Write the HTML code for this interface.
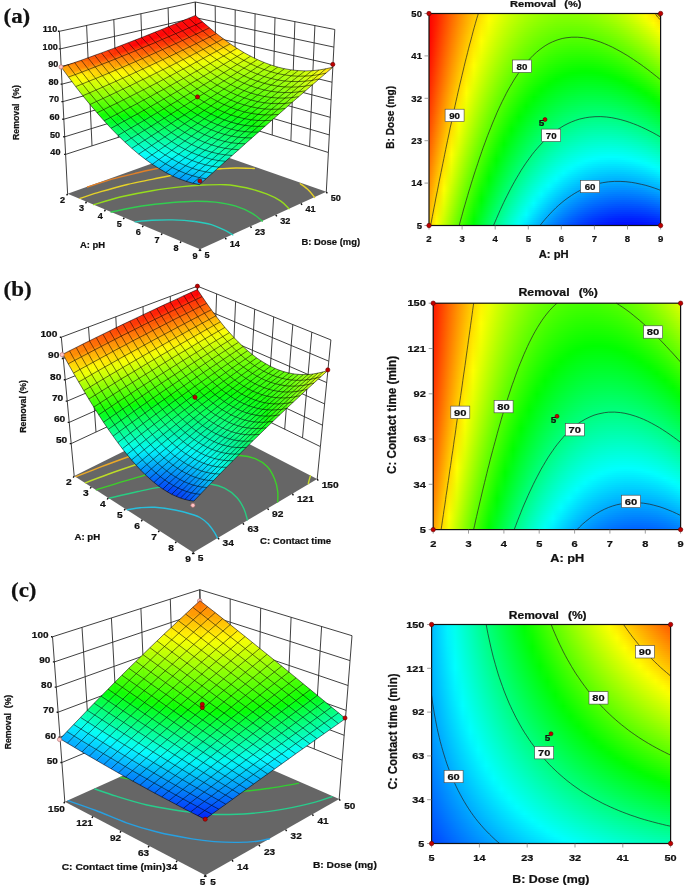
<!DOCTYPE html>
<html><head><meta charset="utf-8"><title>Response surface plots</title>
<style>
html,body{margin:0;padding:0;background:#fff}
#w{position:relative;width:685px;height:888px;overflow:hidden;background:#fff}
.g{position:absolute;overflow:hidden}
.g i{display:block;height:2px}
svg{position:absolute;left:0;top:0}
text{font-family:"Liberation Sans","DejaVu Sans",sans-serif;font-weight:bold;fill:#111;text-anchor:middle;stroke:#111;stroke-width:.22}
.e{text-anchor:end}.s{text-anchor:start}
.cl{fill:none;stroke:#222;stroke-width:.7}
.fr{fill:none;stroke:#111;stroke-width:1.2}
.tk{fill:none;stroke:#777;stroke-width:.7}
.lb{fill:#fff;stroke:#444;stroke-width:.6}
.dp{fill:#c00000;stroke:#600;stroke-width:.6}
.pk{fill:#ffc4c4;stroke:#a66;stroke-width:.6}
.wg{fill:none;stroke:#2a2a2a;stroke-width:.9}
.ms{fill:none;stroke:#000;stroke-opacity:.68;stroke-width:.8;stroke-linejoin:round}
</style></head><body><div id="w">
<div class="g" style="left:429px;top:13.5px;width:231.6px;height:212px">
<i style="background:linear-gradient(90deg,#ff0000,#ff1c00,#ff4300,#ff6700,#ff8800,#ffa800,#ffc500,#ffe000,#fff900,#efff00,#daff00,#c8ff00,#b8ff00,#abff00,#9fff00,#96ff00,#8fff00,#8bff00,#88ff00,#88ff00,#8aff00,#8eff00,#95ff00,#9dff00,#a8ff00,#b6ff00,#c5ff00,#d7ff00,#ebff00,#fffd00,#ffe500,#ffca00)"></i>
<i style="background:linear-gradient(90deg,#ff0000,#ff1e00,#ff4400,#ff6800,#ff8a00,#ffaa00,#ffc700,#ffe200,#fffb00,#ecff00,#d7ff00,#c5ff00,#b5ff00,#a7ff00,#9cff00,#92ff00,#8bff00,#87ff00,#84ff00,#84ff00,#85ff00,#89ff00,#90ff00,#98ff00,#a3ff00,#b0ff00,#bfff00,#d1ff00,#e5ff00,#fbff00,#ffeb00,#ffd100)"></i>
<i style="background:linear-gradient(90deg,#ff0000,#ff1f00,#ff4500,#ff6a00,#ff8c00,#ffac00,#ffc900,#ffe500,#fffe00,#e9ff00,#d5ff00,#c2ff00,#b2ff00,#a4ff00,#98ff00,#8fff00,#88ff00,#82ff00,#80ff00,#7fff00,#81ff00,#85ff00,#8bff00,#93ff00,#9eff00,#abff00,#baff00,#cbff00,#dfff00,#f4ff00,#fff200,#ffd700)"></i>
<i style="background:linear-gradient(90deg,#ff0000,#ff2000,#ff4700,#ff6b00,#ff8e00,#ffae00,#ffcb00,#ffe700,#feff00,#e7ff00,#d2ff00,#bfff00,#afff00,#a1ff00,#95ff00,#8bff00,#84ff00,#7eff00,#7bff00,#7bff00,#7cff00,#80ff00,#86ff00,#8eff00,#99ff00,#a5ff00,#b4ff00,#c5ff00,#d9ff00,#eeff00,#fff800,#ffde00)"></i>
<i style="background:linear-gradient(90deg,#ff0000,#ff2100,#ff4800,#ff6d00,#ff8f00,#ffaf00,#ffcd00,#ffe900,#fbff00,#e4ff00,#cfff00,#bcff00,#acff00,#9dff00,#91ff00,#87ff00,#80ff00,#7aff00,#77ff00,#76ff00,#78ff00,#7bff00,#81ff00,#89ff00,#93ff00,#a0ff00,#aeff00,#bfff00,#d3ff00,#e8ff00,#fffe00,#ffe400)"></i>
<i style="background:linear-gradient(90deg,#ff0000,#ff2200,#ff4a00,#ff6e00,#ff9100,#ffb100,#ffd000,#ffec00,#f9ff00,#e1ff00,#ccff00,#b9ff00,#a8ff00,#9aff00,#8eff00,#84ff00,#7cff00,#76ff00,#73ff00,#72ff00,#73ff00,#76ff00,#7cff00,#84ff00,#8eff00,#9aff00,#a9ff00,#b9ff00,#ccff00,#e2ff00,#f9ff00,#ffeb00)"></i>
<i style="background:linear-gradient(90deg,#ff0000,#ff2400,#ff4b00,#ff7000,#ff9300,#ffb300,#ffd200,#ffee00,#f6ff00,#dfff00,#c9ff00,#b6ff00,#a5ff00,#97ff00,#8aff00,#80ff00,#78ff00,#72ff00,#6fff00,#6dff00,#6eff00,#71ff00,#77ff00,#7fff00,#88ff00,#95ff00,#a3ff00,#b4ff00,#c6ff00,#dbff00,#f3ff00,#fff200)"></i>
<i style="background:linear-gradient(90deg,#ff0000,#ff2500,#ff4c00,#ff7200,#ff9500,#ffb500,#ffd400,#fff000,#f4ff00,#dcff00,#c6ff00,#b3ff00,#a2ff00,#93ff00,#86ff00,#7cff00,#74ff00,#6eff00,#6aff00,#69ff00,#6aff00,#6dff00,#72ff00,#79ff00,#83ff00,#8fff00,#9dff00,#aeff00,#c0ff00,#d5ff00,#ecff00,#fff800)"></i>
<i style="background:linear-gradient(90deg,#ff0000,#ff2600,#ff4e00,#ff7300,#ff9700,#ffb700,#ffd600,#fff300,#f1ff00,#d9ff00,#c3ff00,#b0ff00,#9fff00,#90ff00,#83ff00,#78ff00,#70ff00,#6aff00,#66ff00,#64ff00,#65ff00,#68ff00,#6dff00,#74ff00,#7eff00,#89ff00,#97ff00,#a8ff00,#baff00,#cfff00,#e6ff00,#ffff00)"></i>
<i style="background:linear-gradient(90deg,#ff0000,#ff2800,#ff4f00,#ff7500,#ff9800,#ffb900,#ffd800,#fff500,#efff00,#d6ff00,#c1ff00,#adff00,#9bff00,#8cff00,#7fff00,#74ff00,#6cff00,#66ff00,#62ff00,#60ff00,#60ff00,#63ff00,#68ff00,#6fff00,#78ff00,#84ff00,#92ff00,#a2ff00,#b4ff00,#c9ff00,#dfff00,#f8ff00)"></i>
<i style="background:linear-gradient(90deg,#ff0000,#ff2900,#ff5100,#ff7700,#ff9a00,#ffbc00,#ffdb00,#fff700,#ecff00,#d4ff00,#beff00,#aaff00,#98ff00,#89ff00,#7cff00,#71ff00,#68ff00,#61ff00,#5dff00,#5bff00,#5bff00,#5eff00,#63ff00,#6aff00,#73ff00,#7eff00,#8cff00,#9cff00,#aeff00,#c2ff00,#d9ff00,#f2ff00)"></i>
<i style="background:linear-gradient(90deg,#ff0000,#ff2a00,#ff5300,#ff7800,#ff9c00,#ffbe00,#ffdd00,#fffa00,#e9ff00,#d1ff00,#bbff00,#a7ff00,#95ff00,#85ff00,#78ff00,#6dff00,#64ff00,#5dff00,#59ff00,#57ff00,#57ff00,#59ff00,#5eff00,#64ff00,#6dff00,#79ff00,#86ff00,#96ff00,#a8ff00,#bcff00,#d2ff00,#ebff00)"></i>
<i style="background:linear-gradient(90deg,#ff0100,#ff2c00,#ff5400,#ff7a00,#ff9e00,#ffc000,#ffdf00,#fffc00,#e7ff00,#ceff00,#b8ff00,#a3ff00,#91ff00,#82ff00,#74ff00,#69ff00,#60ff00,#59ff00,#54ff00,#52ff00,#52ff00,#54ff00,#58ff00,#5fff00,#68ff00,#73ff00,#80ff00,#90ff00,#a2ff00,#b6ff00,#ccff00,#e4ff00)"></i>
<i style="background:linear-gradient(90deg,#ff0200,#ff2d00,#ff5600,#ff7c00,#ffa000,#ffc200,#ffe100,#ffff00,#e4ff00,#cbff00,#b5ff00,#a0ff00,#8eff00,#7eff00,#70ff00,#65ff00,#5cff00,#55ff00,#50ff00,#4dff00,#4dff00,#4fff00,#53ff00,#5aff00,#62ff00,#6dff00,#7aff00,#8aff00,#9bff00,#afff00,#c5ff00,#ddff00)"></i>
<i style="background:linear-gradient(90deg,#ff0400,#ff2f00,#ff5700,#ff7e00,#ffa200,#ffc400,#ffe400,#fdff00,#e1ff00,#c8ff00,#b2ff00,#9dff00,#8bff00,#7bff00,#6dff00,#61ff00,#58ff00,#50ff00,#4cff00,#49ff00,#48ff00,#4aff00,#4eff00,#54ff00,#5dff00,#68ff00,#74ff00,#84ff00,#95ff00,#a9ff00,#bfff00,#d7ff00)"></i>
<i style="background:linear-gradient(90deg,#ff0500,#ff3000,#ff5900,#ff8000,#ffa400,#ffc600,#ffe600,#faff00,#dfff00,#c6ff00,#afff00,#9aff00,#87ff00,#77ff00,#69ff00,#5dff00,#54ff00,#4cff00,#47ff00,#44ff00,#44ff00,#45ff00,#49ff00,#4fff00,#57ff00,#62ff00,#6fff00,#7eff00,#8fff00,#a2ff00,#b8ff00,#d0ff00)"></i>
<i style="background:linear-gradient(90deg,#ff0600,#ff3100,#ff5b00,#ff8100,#ffa600,#ffc800,#ffe800,#f8ff00,#dcff00,#c3ff00,#acff00,#97ff00,#84ff00,#73ff00,#65ff00,#59ff00,#4fff00,#48ff00,#43ff00,#3fff00,#3fff00,#40ff00,#44ff00,#4aff00,#52ff00,#5cff00,#69ff00,#77ff00,#89ff00,#9cff00,#b1ff00,#c9ff00)"></i>
<i style="background:linear-gradient(90deg,#ff0700,#ff3300,#ff5c00,#ff8300,#ffa800,#ffca00,#ffeb00,#f5ff00,#d9ff00,#c0ff00,#a8ff00,#93ff00,#80ff00,#70ff00,#61ff00,#55ff00,#4bff00,#44ff00,#3eff00,#3bff00,#3aff00,#3bff00,#3eff00,#44ff00,#4cff00,#56ff00,#63ff00,#71ff00,#82ff00,#95ff00,#abff00,#c2ff00)"></i>
<i style="background:linear-gradient(90deg,#ff0900,#ff3400,#ff5e00,#ff8500,#ffaa00,#ffcd00,#ffed00,#f3ff00,#d7ff00,#bdff00,#a5ff00,#90ff00,#7dff00,#6cff00,#5eff00,#51ff00,#47ff00,#3fff00,#3aff00,#36ff00,#35ff00,#36ff00,#39ff00,#3fff00,#47ff00,#51ff00,#5dff00,#6bff00,#7cff00,#8fff00,#a4ff00,#bbff00)"></i>
<i style="background:linear-gradient(90deg,#ff0a00,#ff3600,#ff6000,#ff8700,#ffac00,#ffcf00,#fff000,#f0ff00,#d4ff00,#baff00,#a2ff00,#8dff00,#79ff00,#68ff00,#5aff00,#4dff00,#43ff00,#3bff00,#35ff00,#31ff00,#30ff00,#31ff00,#34ff00,#39ff00,#41ff00,#4bff00,#57ff00,#65ff00,#76ff00,#88ff00,#9dff00,#b5ff00)"></i>
<i style="background:linear-gradient(90deg,#ff0b00,#ff3700,#ff6100,#ff8900,#ffae00,#ffd100,#fff200,#edff00,#d1ff00,#b7ff00,#9fff00,#89ff00,#76ff00,#65ff00,#56ff00,#49ff00,#3fff00,#36ff00,#30ff00,#2dff00,#2bff00,#2cff00,#2fff00,#34ff00,#3bff00,#45ff00,#51ff00,#5fff00,#6fff00,#82ff00,#97ff00,#aeff00)"></i>
<i style="background:linear-gradient(90deg,#ff0d00,#ff3900,#ff6300,#ff8b00,#ffb000,#ffd300,#fff400,#ebff00,#ceff00,#b4ff00,#9cff00,#86ff00,#72ff00,#61ff00,#52ff00,#45ff00,#3aff00,#32ff00,#2cff00,#28ff00,#26ff00,#27ff00,#29ff00,#2eff00,#36ff00,#3fff00,#4bff00,#59ff00,#69ff00,#7bff00,#90ff00,#a7ff00)"></i>
<i style="background:linear-gradient(90deg,#ff0e00,#ff3b00,#ff6500,#ff8d00,#ffb200,#ffd600,#fff700,#e8ff00,#cbff00,#b1ff00,#99ff00,#83ff00,#6fff00,#5dff00,#4eff00,#41ff00,#36ff00,#2eff00,#27ff00,#23ff00,#21ff00,#22ff00,#24ff00,#29ff00,#30ff00,#39ff00,#45ff00,#52ff00,#62ff00,#75ff00,#89ff00,#a0ff00)"></i>
<i style="background:linear-gradient(90deg,#ff1000,#ff3c00,#ff6700,#ff8f00,#ffb400,#ffd800,#fff900,#e5ff00,#c9ff00,#aeff00,#96ff00,#7fff00,#6bff00,#5aff00,#4aff00,#3dff00,#32ff00,#29ff00,#23ff00,#1eff00,#1cff00,#1cff00,#1fff00,#23ff00,#2aff00,#33ff00,#3fff00,#4cff00,#5cff00,#6eff00,#82ff00,#99ff00)"></i>
<i style="background:linear-gradient(90deg,#ff1100,#ff3e00,#ff6800,#ff9100,#ffb700,#ffda00,#fffc00,#e3ff00,#c6ff00,#abff00,#92ff00,#7cff00,#68ff00,#56ff00,#46ff00,#39ff00,#2eff00,#25ff00,#1eff00,#19ff00,#17ff00,#17ff00,#19ff00,#1eff00,#25ff00,#2dff00,#39ff00,#46ff00,#56ff00,#67ff00,#7cff00,#92ff00)"></i>
<i style="background:linear-gradient(90deg,#ff1300,#ff3f00,#ff6a00,#ff9300,#ffb900,#ffdd00,#fffe00,#e0ff00,#c3ff00,#a8ff00,#8fff00,#79ff00,#64ff00,#52ff00,#42ff00,#35ff00,#29ff00,#20ff00,#19ff00,#15ff00,#12ff00,#12ff00,#14ff00,#18ff00,#1fff00,#28ff00,#32ff00,#40ff00,#4fff00,#61ff00,#75ff00,#8bff00)"></i>
<i style="background:linear-gradient(90deg,#ff1400,#ff4100,#ff6c00,#ff9500,#ffbb00,#ffdf00,#fdff00,#ddff00,#c0ff00,#a5ff00,#8cff00,#75ff00,#61ff00,#4eff00,#3eff00,#31ff00,#25ff00,#1cff00,#15ff00,#10ff00,#0dff00,#0dff00,#0fff00,#13ff00,#19ff00,#22ff00,#2cff00,#39ff00,#49ff00,#5aff00,#6eff00,#84ff00)"></i>
<i style="background:linear-gradient(90deg,#ff1600,#ff4300,#ff6e00,#ff9700,#ffbd00,#ffe100,#faff00,#dbff00,#bdff00,#a2ff00,#89ff00,#72ff00,#5dff00,#4bff00,#3aff00,#2cff00,#21ff00,#17ff00,#10ff00,#0bff00,#08ff00,#07ff00,#09ff00,#0dff00,#13ff00,#1cff00,#26ff00,#33ff00,#42ff00,#54ff00,#67ff00,#7dff00)"></i>
<i style="background:linear-gradient(90deg,#ff1700,#ff4400,#ff7000,#ff9900,#ffbf00,#ffe400,#f8ff00,#d8ff00,#baff00,#9fff00,#85ff00,#6eff00,#59ff00,#47ff00,#36ff00,#28ff00,#1cff00,#13ff00,#0bff00,#06ff00,#03ff00,#02ff00,#04ff00,#07ff00,#0dff00,#16ff00,#20ff00,#2dff00,#3cff00,#4dff00,#60ff00,#76ff00)"></i>
<i style="background:linear-gradient(90deg,#ff1900,#ff4600,#ff7200,#ff9b00,#ffc200,#ffe600,#f5ff00,#d5ff00,#b7ff00,#9bff00,#82ff00,#6bff00,#56ff00,#43ff00,#32ff00,#24ff00,#18ff00,#0eff00,#06ff00,#01ff00,#00ff02,#00ff03,#00ff02,#02ff00,#08ff00,#10ff00,#1aff00,#26ff00,#35ff00,#46ff00,#59ff00,#6fff00)"></i>
<i style="background:linear-gradient(90deg,#ff1a00,#ff4800,#ff7300,#ff9d00,#ffc400,#ffe900,#f3ff00,#d2ff00,#b4ff00,#98ff00,#7fff00,#67ff00,#52ff00,#3fff00,#2eff00,#20ff00,#13ff00,#09ff00,#02ff00,#00ff04,#00ff07,#00ff08,#00ff07,#00ff04,#02ff00,#0aff00,#14ff00,#20ff00,#2fff00,#3fff00,#52ff00,#68ff00)"></i>
<i style="background:linear-gradient(90deg,#ff1c00,#ff4a00,#ff7500,#ff9f00,#ffc600,#ffeb00,#f0ff00,#cfff00,#b1ff00,#95ff00,#7bff00,#64ff00,#4eff00,#3bff00,#2aff00,#1bff00,#0fff00,#05ff00,#00ff03,#00ff09,#00ff0c,#00ff0e,#00ff0d,#00ff0a,#00ff04,#04ff00,#0eff00,#1aff00,#28ff00,#39ff00,#4bff00,#61ff00)"></i>
<i style="background:linear-gradient(90deg,#ff1d00,#ff4b00,#ff7700,#ffa100,#ffc800,#ffee00,#edff00,#cdff00,#aeff00,#92ff00,#78ff00,#60ff00,#4aff00,#37ff00,#26ff00,#17ff00,#0bff00,#00ff00,#00ff08,#00ff0e,#00ff12,#00ff13,#00ff12,#00ff0f,#00ff0a,#00ff02,#07ff00,#13ff00,#21ff00,#32ff00,#45ff00,#59ff00)"></i>
<i style="background:linear-gradient(90deg,#ff1f00,#ff4d00,#ff7900,#ffa300,#ffcb00,#fff000,#ebff00,#caff00,#abff00,#8fff00,#74ff00,#5cff00,#47ff00,#33ff00,#22ff00,#13ff00,#06ff00,#00ff04,#00ff0d,#00ff13,#00ff17,#00ff18,#00ff18,#00ff15,#00ff10,#00ff09,#01ff00,#0dff00,#1bff00,#2bff00,#3eff00,#52ff00)"></i>
<i style="background:linear-gradient(90deg,#ff2100,#ff4f00,#ff7b00,#ffa500,#ffcd00,#fff300,#e8ff00,#c7ff00,#a8ff00,#8bff00,#71ff00,#59ff00,#43ff00,#2fff00,#1eff00,#0fff00,#02ff00,#00ff09,#00ff12,#00ff18,#00ff1c,#00ff1e,#00ff1d,#00ff1b,#00ff16,#00ff0f,#00ff05,#06ff00,#14ff00,#24ff00,#37ff00,#4bff00)"></i>
<i style="background:linear-gradient(90deg,#ff2200,#ff5100,#ff7d00,#ffa800,#ffcf00,#fff500,#e5ff00,#c4ff00,#a5ff00,#88ff00,#6eff00,#55ff00,#3fff00,#2bff00,#1aff00,#0aff00,#00ff03,#00ff0e,#00ff16,#00ff1d,#00ff21,#00ff23,#00ff23,#00ff20,#00ff1c,#00ff15,#00ff0c,#00ff00,#0eff00,#1dff00,#30ff00,#44ff00)"></i>
<i style="background:linear-gradient(90deg,#ff2400,#ff5300,#ff7f00,#ffaa00,#ffd200,#fff800,#e3ff00,#c1ff00,#a2ff00,#85ff00,#6aff00,#52ff00,#3bff00,#27ff00,#15ff00,#06ff00,#00ff07,#00ff13,#00ff1b,#00ff22,#00ff26,#00ff29,#00ff28,#00ff26,#00ff22,#00ff1b,#00ff12,#00ff07,#07ff00,#17ff00,#29ff00,#3dff00)"></i>
<i style="background:linear-gradient(90deg,#ff2600,#ff5500,#ff8100,#ffac00,#ffd400,#fffa00,#e0ff00,#beff00,#9fff00,#82ff00,#67ff00,#4eff00,#38ff00,#23ff00,#11ff00,#02ff00,#00ff0c,#00ff17,#00ff20,#00ff27,#00ff2c,#00ff2e,#00ff2e,#00ff2c,#00ff28,#00ff21,#00ff18,#00ff0d,#00ff00,#10ff00,#22ff00,#36ff00)"></i>
<i style="background:linear-gradient(90deg,#ff2700,#ff5600,#ff8300,#ffae00,#ffd700,#fffd00,#ddff00,#bbff00,#9cff00,#7eff00,#63ff00,#4aff00,#34ff00,#1fff00,#0dff00,#00ff03,#00ff11,#00ff1c,#00ff25,#00ff2c,#00ff31,#00ff33,#00ff34,#00ff32,#00ff2e,#00ff27,#00ff1f,#00ff14,#00ff06,#09ff00,#1aff00,#2eff00)"></i>
<i style="background:linear-gradient(90deg,#ff2900,#ff5800,#ff8600,#ffb000,#ffd900,#feff00,#daff00,#b8ff00,#98ff00,#7bff00,#60ff00,#47ff00,#30ff00,#1bff00,#09ff00,#00ff07,#00ff15,#00ff21,#00ff2a,#00ff31,#00ff36,#00ff39,#00ff39,#00ff38,#00ff34,#00ff2d,#00ff25,#00ff1a,#00ff0d,#02ff00,#13ff00,#27ff00)"></i>
<i style="background:linear-gradient(90deg,#ff2b00,#ff5a00,#ff8800,#ffb300,#ffdc00,#fcff00,#d7ff00,#b5ff00,#95ff00,#78ff00,#5cff00,#43ff00,#2cff00,#17ff00,#05ff00,#00ff0c,#00ff1a,#00ff26,#00ff2f,#00ff36,#00ff3c,#00ff3e,#00ff3f,#00ff3d,#00ff3a,#00ff34,#00ff2b,#00ff21,#00ff14,#00ff05,#0cff00,#20ff00)"></i>
<i style="background:linear-gradient(90deg,#ff2c00,#ff5c00,#ff8a00,#ffb500,#ffde00,#f9ff00,#d5ff00,#b2ff00,#92ff00,#74ff00,#59ff00,#3fff00,#28ff00,#13ff00,#00ff00,#00ff10,#00ff1e,#00ff2a,#00ff34,#00ff3c,#00ff41,#00ff44,#00ff45,#00ff43,#00ff40,#00ff3a,#00ff32,#00ff27,#00ff1b,#00ff0c,#05ff00,#18ff00)"></i>
<i style="background:linear-gradient(90deg,#ff2e00,#ff5e00,#ff8c00,#ffb700,#ffe100,#f6ff00,#d2ff00,#afff00,#8fff00,#71ff00,#55ff00,#3bff00,#24ff00,#0fff00,#00ff04,#00ff15,#00ff23,#00ff2f,#00ff39,#00ff41,#00ff46,#00ff49,#00ff4a,#00ff49,#00ff46,#00ff40,#00ff38,#00ff2e,#00ff22,#00ff13,#00ff02,#11ff00)"></i>
<i style="background:linear-gradient(90deg,#ff3000,#ff6000,#ff8e00,#ffba00,#ffe300,#f4ff00,#cfff00,#acff00,#8cff00,#6dff00,#51ff00,#38ff00,#20ff00,#0bff00,#00ff08,#00ff19,#00ff28,#00ff34,#00ff3e,#00ff46,#00ff4c,#00ff4f,#00ff50,#00ff4f,#00ff4c,#00ff46,#00ff3f,#00ff35,#00ff28,#00ff1a,#00ff09,#0aff00)"></i>
<i style="background:linear-gradient(90deg,#ff3200,#ff6200,#ff9000,#ffbc00,#ffe600,#f1ff00,#ccff00,#a9ff00,#88ff00,#6aff00,#4eff00,#34ff00,#1cff00,#07ff00,#00ff0d,#00ff1e,#00ff2c,#00ff39,#00ff43,#00ff4b,#00ff51,#00ff55,#00ff56,#00ff55,#00ff52,#00ff4d,#00ff45,#00ff3b,#00ff2f,#00ff21,#00ff10,#02ff00)"></i>
<i style="background:linear-gradient(90deg,#ff3400,#ff6400,#ff9200,#ffbe00,#ffe800,#eeff00,#c9ff00,#a6ff00,#85ff00,#67ff00,#4aff00,#30ff00,#18ff00,#03ff00,#00ff11,#00ff22,#00ff31,#00ff3e,#00ff48,#00ff50,#00ff56,#00ff5a,#00ff5c,#00ff5b,#00ff58,#00ff53,#00ff4b,#00ff42,#00ff36,#00ff28,#00ff18,#00ff05)"></i>
<i style="background:linear-gradient(90deg,#ff3600,#ff6600,#ff9500,#ffc100,#ffeb00,#ecff00,#c6ff00,#a3ff00,#82ff00,#63ff00,#47ff00,#2cff00,#14ff00,#00ff02,#00ff15,#00ff27,#00ff36,#00ff43,#00ff4d,#00ff56,#00ff5c,#00ff60,#00ff62,#00ff61,#00ff5e,#00ff59,#00ff52,#00ff49,#00ff3d,#00ff2f,#00ff1f,#00ff0c)"></i>
<i style="background:linear-gradient(90deg,#ff3700,#ff6800,#ff9700,#ffc300,#ffed00,#e9ff00,#c3ff00,#a0ff00,#7fff00,#60ff00,#43ff00,#28ff00,#10ff00,#00ff06,#00ff1a,#00ff2b,#00ff3a,#00ff48,#00ff52,#00ff5b,#00ff61,#00ff65,#00ff67,#00ff67,#00ff64,#00ff60,#00ff59,#00ff4f,#00ff44,#00ff36,#00ff26,#00ff14)"></i>
<i style="background:linear-gradient(90deg,#ff3900,#ff6a00,#ff9900,#ffc600,#fff000,#e6ff00,#c0ff00,#9dff00,#7bff00,#5cff00,#3fff00,#25ff00,#0cff00,#00ff0a,#00ff1e,#00ff30,#00ff3f,#00ff4c,#00ff57,#00ff60,#00ff67,#00ff6b,#00ff6d,#00ff6d,#00ff6b,#00ff66,#00ff5f,#00ff56,#00ff4b,#00ff3d,#00ff2d,#00ff1b)"></i>
<i style="background:linear-gradient(90deg,#ff3b00,#ff6c00,#ff9b00,#ffc800,#fff300,#e3ff00,#bdff00,#99ff00,#78ff00,#59ff00,#3bff00,#21ff00,#08ff00,#00ff0e,#00ff22,#00ff34,#00ff44,#00ff51,#00ff5d,#00ff66,#00ff6c,#00ff71,#00ff73,#00ff73,#00ff71,#00ff6c,#00ff66,#00ff5d,#00ff52,#00ff44,#00ff35,#00ff23)"></i>
<i style="background:linear-gradient(90deg,#ff3d00,#ff6f00,#ff9e00,#ffcb00,#fff500,#e0ff00,#baff00,#96ff00,#74ff00,#55ff00,#38ff00,#1dff00,#04ff00,#00ff13,#00ff27,#00ff39,#00ff49,#00ff56,#00ff62,#00ff6b,#00ff72,#00ff76,#00ff79,#00ff79,#00ff77,#00ff73,#00ff6c,#00ff63,#00ff58,#00ff4b,#00ff3c,#00ff2a)"></i>
<i style="background:linear-gradient(90deg,#ff3f00,#ff7100,#ffa000,#ffcd00,#fff800,#ddff00,#b7ff00,#93ff00,#71ff00,#51ff00,#34ff00,#19ff00,#00ff00,#00ff17,#00ff2b,#00ff3e,#00ff4e,#00ff5b,#00ff67,#00ff70,#00ff77,#00ff7c,#00ff7f,#00ff7f,#00ff7d,#00ff79,#00ff73,#00ff6a,#00ff5f,#00ff52,#00ff43,#00ff32)"></i>
<i style="background:linear-gradient(90deg,#ff4100,#ff7300,#ffa200,#ffd000,#fffb00,#dbff00,#b4ff00,#90ff00,#6eff00,#4eff00,#30ff00,#15ff00,#00ff04,#00ff1b,#00ff30,#00ff42,#00ff52,#00ff60,#00ff6c,#00ff76,#00ff7d,#00ff82,#00ff85,#00ff85,#00ff84,#00ff80,#00ff79,#00ff71,#00ff66,#00ff5a,#00ff4a,#00ff39)"></i>
<i style="background:linear-gradient(90deg,#ff4300,#ff7500,#ffa500,#ffd200,#fffd00,#d8ff00,#b1ff00,#8cff00,#6aff00,#4aff00,#2cff00,#11ff00,#00ff08,#00ff1f,#00ff34,#00ff47,#00ff57,#00ff65,#00ff71,#00ff7b,#00ff82,#00ff88,#00ff8b,#00ff8b,#00ff8a,#00ff86,#00ff80,#00ff78,#00ff6d,#00ff61,#00ff52,#00ff41)"></i>
<i style="background:linear-gradient(90deg,#ff4500,#ff7700,#ffa700,#ffd500,#feff00,#d5ff00,#aeff00,#89ff00,#67ff00,#47ff00,#29ff00,#0dff00,#00ff0d,#00ff24,#00ff39,#00ff4c,#00ff5c,#00ff6a,#00ff77,#00ff80,#00ff88,#00ff8d,#00ff91,#00ff91,#00ff90,#00ff8d,#00ff87,#00ff7f,#00ff74,#00ff68,#00ff59,#00ff48)"></i>
<i style="background:linear-gradient(90deg,#ff4700,#ff7a00,#ffaa00,#ffd700,#fbff00,#d2ff00,#abff00,#86ff00,#63ff00,#43ff00,#25ff00,#09ff00,#00ff11,#00ff28,#00ff3d,#00ff50,#00ff61,#00ff70,#00ff7c,#00ff86,#00ff8e,#00ff93,#00ff96,#00ff98,#00ff96,#00ff93,#00ff8d,#00ff86,#00ff7b,#00ff6f,#00ff61,#00ff50)"></i>
<i style="background:linear-gradient(90deg,#ff4900,#ff7c00,#ffac00,#ffda00,#f8ff00,#cfff00,#a8ff00,#83ff00,#60ff00,#3fff00,#21ff00,#05ff00,#00ff15,#00ff2d,#00ff42,#00ff55,#00ff66,#00ff75,#00ff81,#00ff8b,#00ff93,#00ff99,#00ff9c,#00ff9e,#00ff9d,#00ff9a,#00ff94,#00ff8c,#00ff83,#00ff76,#00ff68,#00ff57)"></i>
<i style="background:linear-gradient(90deg,#ff4b00,#ff7e00,#ffae00,#ffdd00,#f6ff00,#ccff00,#a4ff00,#7fff00,#5cff00,#3cff00,#1dff00,#01ff00,#00ff19,#00ff31,#00ff47,#00ff5a,#00ff6b,#00ff7a,#00ff86,#00ff91,#00ff99,#00ff9f,#00ffa2,#00ffa4,#00ffa3,#00ffa0,#00ff9b,#00ff93,#00ff8a,#00ff7e,#00ff6f,#00ff5f)"></i>
<i style="background:linear-gradient(90deg,#ff4d00,#ff8000,#ffb100,#ffdf00,#f3ff00,#c9ff00,#a1ff00,#7cff00,#59ff00,#38ff00,#19ff00,#00ff03,#00ff1d,#00ff35,#00ff4b,#00ff5f,#00ff70,#00ff7f,#00ff8c,#00ff96,#00ff9f,#00ffa5,#00ffa9,#00ffaa,#00ffaa,#00ffa7,#00ffa2,#00ff9a,#00ff91,#00ff85,#00ff77,#00ff67)"></i>
<i style="background:linear-gradient(90deg,#ff5000,#ff8300,#ffb300,#ffe200,#f0ff00,#c6ff00,#9eff00,#79ff00,#55ff00,#34ff00,#15ff00,#00ff07,#00ff22,#00ff3a,#00ff50,#00ff63,#00ff75,#00ff84,#00ff91,#00ff9c,#00ffa4,#00ffab,#00ffaf,#00ffb0,#00ffb0,#00ffad,#00ffa8,#00ffa1,#00ff98,#00ff8c,#00ff7e,#00ff6e)"></i>
<i style="background:linear-gradient(90deg,#ff5200,#ff8500,#ffb600,#ffe400,#edff00,#c3ff00,#9bff00,#75ff00,#52ff00,#30ff00,#11ff00,#00ff0b,#00ff26,#00ff3e,#00ff54,#00ff68,#00ff7a,#00ff89,#00ff96,#00ffa1,#00ffaa,#00ffb0,#00ffb5,#00ffb7,#00ffb6,#00ffb4,#00ffaf,#00ffa8,#00ff9f,#00ff93,#00ff86,#00ff76)"></i>
<i style="background:linear-gradient(90deg,#ff5400,#ff8700,#ffb800,#ffe700,#eaff00,#c0ff00,#98ff00,#72ff00,#4eff00,#2dff00,#0dff00,#00ff10,#00ff2a,#00ff43,#00ff59,#00ff6d,#00ff7f,#00ff8e,#00ff9c,#00ffa7,#00ffb0,#00ffb6,#00ffbb,#00ffbd,#00ffbd,#00ffba,#00ffb6,#00ffaf,#00ffa6,#00ff9b,#00ff8d,#00ff7e)"></i>
<i style="background:linear-gradient(90deg,#ff5600,#ff8a00,#ffbb00,#ffea00,#e7ff00,#bdff00,#94ff00,#6eff00,#4bff00,#29ff00,#0aff00,#00ff14,#00ff2f,#00ff47,#00ff5e,#00ff72,#00ff84,#00ff94,#00ffa1,#00ffac,#00ffb5,#00ffbc,#00ffc1,#00ffc3,#00ffc3,#00ffc1,#00ffbd,#00ffb6,#00ffad,#00ffa2,#00ff95,#00ff85)"></i>
<i style="background:linear-gradient(90deg,#ff5800,#ff8c00,#ffbd00,#ffed00,#e4ff00,#baff00,#91ff00,#6bff00,#47ff00,#25ff00,#06ff00,#00ff18,#00ff33,#00ff4c,#00ff62,#00ff77,#00ff89,#00ff99,#00ffa7,#00ffb2,#00ffbb,#00ffc2,#00ffc7,#00ffc9,#00ffca,#00ffc8,#00ffc4,#00ffbd,#00ffb4,#00ffaa,#00ff9c,#00ff8d)"></i>
<i style="background:linear-gradient(90deg,#ff5a00,#ff8e00,#ffc000,#ffef00,#e2ff00,#b7ff00,#8eff00,#67ff00,#43ff00,#21ff00,#02ff00,#00ff1c,#00ff37,#00ff50,#00ff67,#00ff7c,#00ff8e,#00ff9e,#00ffac,#00ffb8,#00ffc1,#00ffc8,#00ffcd,#00ffd0,#00ffd0,#00ffce,#00ffca,#00ffc4,#00ffbc,#00ffb1,#00ffa4,#00ff95)"></i>
<i style="background:linear-gradient(90deg,#ff5d00,#ff9100,#ffc300,#fff200,#dfff00,#b3ff00,#8bff00,#64ff00,#40ff00,#1dff00,#00ff02,#00ff20,#00ff3c,#00ff55,#00ff6c,#00ff81,#00ff93,#00ffa3,#00ffb1,#00ffbd,#00ffc7,#00ffce,#00ffd3,#00ffd6,#00ffd7,#00ffd5,#00ffd1,#00ffcb,#00ffc3,#00ffb8,#00ffac,#00ff9d)"></i>
<i style="background:linear-gradient(90deg,#ff5f00,#ff9300,#ffc500,#fff500,#dcff00,#b0ff00,#87ff00,#60ff00,#3cff00,#1aff00,#00ff07,#00ff24,#00ff40,#00ff59,#00ff71,#00ff86,#00ff98,#00ffa9,#00ffb7,#00ffc3,#00ffcd,#00ffd4,#00ffd9,#00ffdc,#00ffdd,#00ffdc,#00ffd8,#00ffd2,#00ffca,#00ffc0,#00ffb3,#00ffa4)"></i>
<i style="background:linear-gradient(90deg,#ff6100,#ff9600,#ffc800,#fff800,#d9ff00,#adff00,#84ff00,#5dff00,#38ff00,#16ff00,#00ff0b,#00ff29,#00ff44,#00ff5e,#00ff75,#00ff8a,#00ff9d,#00ffae,#00ffbc,#00ffc9,#00ffd2,#00ffda,#00ffe0,#00ffe3,#00ffe4,#00ffe3,#00ffdf,#00ffd9,#00ffd1,#00ffc7,#00ffbb,#00ffac)"></i>
<i style="background:linear-gradient(90deg,#ff6400,#ff9800,#ffca00,#fffb00,#d6ff00,#aaff00,#81ff00,#59ff00,#34ff00,#12ff00,#00ff0f,#00ff2d,#00ff49,#00ff63,#00ff7a,#00ff8f,#00ffa2,#00ffb3,#00ffc2,#00ffce,#00ffd8,#00ffe0,#00ffe6,#00ffe9,#00ffea,#00ffe9,#00ffe6,#00ffe0,#00ffd9,#00ffcf,#00ffc2,#00ffb4)"></i>
<i style="background:linear-gradient(90deg,#ff6600,#ff9b00,#ffcd00,#fffd00,#d3ff00,#a7ff00,#7dff00,#56ff00,#31ff00,#0eff00,#00ff13,#00ff31,#00ff4d,#00ff67,#00ff7f,#00ff94,#00ffa8,#00ffb9,#00ffc7,#00ffd4,#00ffde,#00ffe6,#00ffec,#00fff0,#00fff1,#00fff0,#00ffed,#00ffe8,#00ffe0,#00ffd6,#00ffca,#00ffbc)"></i>
<i style="background:linear-gradient(90deg,#ff6800,#ff9d00,#ffd000,#feff00,#d0ff00,#a4ff00,#7aff00,#52ff00,#2dff00,#0aff00,#00ff17,#00ff35,#00ff52,#00ff6c,#00ff84,#00ff99,#00ffad,#00ffbe,#00ffcd,#00ffda,#00ffe4,#00ffec,#00fff2,#00fff6,#00fff8,#00fff7,#00fff4,#00ffef,#00ffe7,#00ffde,#00ffd2,#00ffc4)"></i>
<i style="background:linear-gradient(90deg,#ff6b00,#ffa000,#ffd200,#fbff00,#ccff00,#a0ff00,#76ff00,#4fff00,#29ff00,#06ff00,#00ff1b,#00ff3a,#00ff56,#00ff71,#00ff89,#00ff9e,#00ffb2,#00ffc3,#00ffd2,#00ffdf,#00ffea,#00fff2,#00fff9,#00fffd,#00fffe,#00fffe,#00fffb,#00fff6,#00ffef,#00ffe5,#00ffd9,#00ffcc)"></i>
<i style="background:linear-gradient(90deg,#ff6d00,#ffa200,#ffd500,#f8ff00,#c9ff00,#9dff00,#73ff00,#4bff00,#25ff00,#02ff00,#00ff1f,#00ff3e,#00ff5b,#00ff75,#00ff8d,#00ffa3,#00ffb7,#00ffc9,#00ffd8,#00ffe5,#00fff0,#00fff9,#00ffff,#00fbff,#00f9ff,#00f9ff,#00fcff,#00fffd,#00fff6,#00ffed,#00ffe1,#00ffd3)"></i>
<i style="background:linear-gradient(90deg,#ff6f00,#ffa500,#ffd800,#f5ff00,#c6ff00,#9aff00,#6fff00,#47ff00,#22ff00,#00ff02,#00ff23,#00ff42,#00ff5f,#00ff7a,#00ff92,#00ffa9,#00ffbc,#00ffce,#00ffde,#00ffeb,#00fff6,#00ffff,#00f9ff,#00f5ff,#00f2ff,#00f3ff,#00f5ff,#00faff,#00fffd,#00fff4,#00ffe9,#00ffdb)"></i>
<i style="background:linear-gradient(90deg,#ff7200,#ffa700,#ffdb00,#f2ff00,#c3ff00,#96ff00,#6cff00,#44ff00,#1eff00,#00ff06,#00ff28,#00ff47,#00ff64,#00ff7f,#00ff97,#00ffae,#00ffc2,#00ffd4,#00ffe3,#00fff1,#00fffc,#00f9ff,#00f2ff,#00eeff,#00ecff,#00ecff,#00eeff,#00f2ff,#00f9ff,#00fffc,#00fff1,#00ffe3)"></i>
<i style="background:linear-gradient(90deg,#ff7400,#ffaa00,#ffde00,#efff00,#c0ff00,#93ff00,#68ff00,#40ff00,#1aff00,#00ff0a,#00ff2c,#00ff4b,#00ff68,#00ff83,#00ff9c,#00ffb3,#00ffc7,#00ffd9,#00ffe9,#00fff7,#00fcff,#00f3ff,#00ecff,#00e7ff,#00e5ff,#00e5ff,#00e7ff,#00ebff,#00f2ff,#00faff,#00fff9,#00ffeb)"></i>
<i style="background:linear-gradient(90deg,#ff7700,#ffad00,#ffe000,#ecff00,#bdff00,#90ff00,#65ff00,#3cff00,#16ff00,#00ff0e,#00ff30,#00ff50,#00ff6d,#00ff88,#00ffa1,#00ffb8,#00ffcc,#00ffdf,#00ffef,#00fffc,#00f6ff,#00edff,#00e6ff,#00e1ff,#00deff,#00deff,#00e0ff,#00e4ff,#00eaff,#00f3ff,#00feff,#00fff3)"></i>
<i style="background:linear-gradient(90deg,#ff7900,#ffaf00,#ffe300,#e9ff00,#baff00,#8cff00,#61ff00,#39ff00,#12ff00,#00ff12,#00ff34,#00ff54,#00ff72,#00ff8d,#00ffa6,#00ffbd,#00ffd2,#00ffe4,#00fff4,#00fcff,#00f0ff,#00e7ff,#00dfff,#00daff,#00d8ff,#00d7ff,#00d9ff,#00ddff,#00e3ff,#00ebff,#00f6ff,#00fffb)"></i>
<i style="background:linear-gradient(90deg,#ff7c00,#ffb200,#ffe600,#e6ff00,#b6ff00,#89ff00,#5eff00,#35ff00,#0eff00,#00ff16,#00ff38,#00ff59,#00ff76,#00ff92,#00ffab,#00ffc2,#00ffd7,#00ffea,#00fffa,#00f6ff,#00eaff,#00e0ff,#00d9ff,#00d4ff,#00d1ff,#00d0ff,#00d2ff,#00d5ff,#00dbff,#00e4ff,#00eeff,#00fbff)"></i>
<i style="background:linear-gradient(90deg,#ff7e00,#ffb500,#ffe900,#e3ff00,#b3ff00,#86ff00,#5aff00,#31ff00,#0aff00,#00ff1a,#00ff3d,#00ff5d,#00ff7b,#00ff97,#00ffb0,#00ffc7,#00ffdc,#00ffef,#00feff,#00f0ff,#00e4ff,#00daff,#00d3ff,#00cdff,#00caff,#00c9ff,#00caff,#00ceff,#00d4ff,#00dcff,#00e6ff,#00f3ff)"></i>
<i style="background:linear-gradient(90deg,#ff8100,#ffb700,#ffec00,#e0ff00,#b0ff00,#82ff00,#57ff00,#2dff00,#06ff00,#00ff1f,#00ff41,#00ff61,#00ff80,#00ff9b,#00ffb5,#00ffcd,#00ffe2,#00fff5,#00f9ff,#00eaff,#00deff,#00d4ff,#00ccff,#00c7ff,#00c3ff,#00c2ff,#00c3ff,#00c7ff,#00ccff,#00d4ff,#00deff,#00ebff)"></i>
<i style="background:linear-gradient(90deg,#ff8300,#ffba00,#ffef00,#ddff00,#adff00,#7fff00,#53ff00,#2aff00,#02ff00,#00ff23,#00ff45,#00ff66,#00ff84,#00ffa0,#00ffba,#00ffd2,#00ffe7,#00fffa,#00f3ff,#00e4ff,#00d8ff,#00ceff,#00c6ff,#00c0ff,#00bcff,#00bbff,#00bcff,#00bfff,#00c5ff,#00ccff,#00d6ff,#00e3ff)"></i>
<i style="background:linear-gradient(90deg,#ff8600,#ffbd00,#fff200,#daff00,#a9ff00,#7bff00,#4fff00,#26ff00,#00ff02,#00ff27,#00ff4a,#00ff6a,#00ff89,#00ffa5,#00ffbf,#00ffd7,#00ffed,#00feff,#00edff,#00deff,#00d2ff,#00c7ff,#00bfff,#00b9ff,#00b6ff,#00b4ff,#00b5ff,#00b8ff,#00bdff,#00c5ff,#00ceff,#00daff)"></i>
<i style="background:linear-gradient(90deg,#ff8800,#ffbf00,#fff500,#d7ff00,#a6ff00,#78ff00,#4cff00,#22ff00,#00ff06,#00ff2b,#00ff4e,#00ff6f,#00ff8e,#00ffaa,#00ffc4,#00ffdc,#00fff2,#00f9ff,#00e7ff,#00d8ff,#00cbff,#00c1ff,#00b9ff,#00b3ff,#00afff,#00adff,#00aeff,#00b1ff,#00b6ff,#00bdff,#00c7ff,#00d2ff)"></i>
<i style="background:linear-gradient(90deg,#ff8b00,#ffc200,#fff700,#d4ff00,#a3ff00,#74ff00,#48ff00,#1eff00,#00ff0a,#00ff2f,#00ff53,#00ff74,#00ff92,#00ffaf,#00ffc9,#00ffe2,#00fff7,#00f3ff,#00e1ff,#00d2ff,#00c5ff,#00bbff,#00b2ff,#00acff,#00a8ff,#00a6ff,#00a6ff,#00a9ff,#00aeff,#00b5ff,#00bfff,#00caff)"></i>
<i style="background:linear-gradient(90deg,#ff8d00,#ffc500,#fffa00,#d0ff00,#a0ff00,#71ff00,#44ff00,#1aff00,#00ff0e,#00ff33,#00ff57,#00ff78,#00ff97,#00ffb4,#00ffcf,#00ffe7,#00fffd,#00edff,#00dcff,#00ccff,#00bfff,#00b4ff,#00acff,#00a5ff,#00a1ff,#009fff,#009fff,#00a2ff,#00a6ff,#00adff,#00b7ff,#00c2ff)"></i>
<i style="background:linear-gradient(90deg,#ff9000,#ffc800,#fffd00,#cdff00,#9cff00,#6dff00,#41ff00,#16ff00,#00ff12,#00ff38,#00ff5b,#00ff7d,#00ff9c,#00ffb9,#00ffd4,#00ffec,#00fcff,#00e8ff,#00d6ff,#00c6ff,#00b9ff,#00aeff,#00a5ff,#009eff,#009aff,#0098ff,#0098ff,#009aff,#009fff,#00a6ff,#00afff,#00baff)"></i>
<i style="background:linear-gradient(90deg,#ff9300,#ffcb00,#feff00,#caff00,#99ff00,#6aff00,#3dff00,#12ff00,#00ff16,#00ff3c,#00ff60,#00ff81,#00ffa1,#00ffbe,#00ffd9,#00fff2,#00f6ff,#00e2ff,#00d0ff,#00c0ff,#00b3ff,#00a7ff,#009eff,#0098ff,#0093ff,#0091ff,#0091ff,#0093ff,#0097ff,#009eff,#00a7ff,#00b2ff)"></i>
<i style="background:linear-gradient(90deg,#ff9500,#ffce00,#fbff00,#c7ff00,#95ff00,#66ff00,#39ff00,#0fff00,#00ff1a,#00ff40,#00ff64,#00ff86,#00ffa6,#00ffc3,#00ffde,#00fff7,#00f1ff,#00dcff,#00caff,#00baff,#00acff,#00a1ff,#0098ff,#0091ff,#008cff,#008aff,#0089ff,#008bff,#008fff,#0096ff,#009fff,#00a9ff)"></i>
<i style="background:linear-gradient(90deg,#ff9800,#ffd000,#f7ff00,#c4ff00,#92ff00,#63ff00,#35ff00,#0bff00,#00ff1e,#00ff45,#00ff69,#00ff8b,#00ffaa,#00ffc8,#00ffe3,#00fffc,#00ebff,#00d6ff,#00c4ff,#00b4ff,#00a6ff,#009aff,#0091ff,#008aff,#0085ff,#0082ff,#0082ff,#0084ff,#0088ff,#008eff,#0097ff,#00a1ff)"></i>
<i style="background:linear-gradient(90deg,#ff9b00,#ffd300,#f4ff00,#c0ff00,#8fff00,#5fff00,#32ff00,#07ff00,#00ff22,#00ff49,#00ff6d,#00ff8f,#00ffaf,#00ffcd,#00ffe8,#00fcff,#00e5ff,#00d1ff,#00beff,#00aeff,#00a0ff,#0094ff,#008aff,#0083ff,#007eff,#007bff,#007bff,#007cff,#0080ff,#0086ff,#008eff,#0099ff)"></i>
<i style="background:linear-gradient(90deg,#ff9e00,#ffd600,#f1ff00,#bdff00,#8bff00,#5bff00,#2eff00,#03ff00,#00ff26,#00ff4d,#00ff72,#00ff94,#00ffb4,#00ffd2,#00ffee,#00f7ff,#00e0ff,#00cbff,#00b8ff,#00a8ff,#009aff,#008eff,#0084ff,#007cff,#0077ff,#0074ff,#0073ff,#0075ff,#0078ff,#007eff,#0086ff,#0091ff)"></i>
<i style="background:linear-gradient(90deg,#ffa000,#ffd900,#eeff00,#baff00,#88ff00,#58ff00,#2aff00,#00ff01,#00ff2b,#00ff52,#00ff76,#00ff99,#00ffb9,#00ffd7,#00fff3,#00f1ff,#00daff,#00c5ff,#00b2ff,#00a2ff,#0093ff,#0087ff,#007dff,#0075ff,#0070ff,#006dff,#006cff,#006dff,#0071ff,#0076ff,#007eff,#0088ff)"></i>
<i style="background:linear-gradient(90deg,#ffa300,#ffdc00,#ebff00,#b6ff00,#84ff00,#54ff00,#26ff00,#00ff05,#00ff2f,#00ff56,#00ff7b,#00ff9e,#00ffbe,#00ffdc,#00fff8,#00ecff,#00d5ff,#00bfff,#00acff,#009bff,#008dff,#0081ff,#0076ff,#006fff,#0069ff,#0066ff,#0064ff,#0065ff,#0069ff,#006eff,#0076ff,#0080ff)"></i>
<i style="background:linear-gradient(90deg,#ffa600,#ffdf00,#e8ff00,#b3ff00,#81ff00,#50ff00,#22ff00,#00ff09,#00ff33,#00ff5a,#00ff7f,#00ffa2,#00ffc3,#00ffe1,#00fffe,#00e7ff,#00cfff,#00b9ff,#00a6ff,#0095ff,#0086ff,#007aff,#0070ff,#0068ff,#0062ff,#005eff,#005dff,#005eff,#0061ff,#0066ff,#006eff,#0078ff)"></i>
<i style="background:linear-gradient(90deg,#ffa900,#ffe200,#e5ff00,#b0ff00,#7dff00,#4dff00,#1eff00,#00ff0e,#00ff37,#00ff5f,#00ff84,#00ffa7,#00ffc8,#00ffe6,#00fbff,#00e1ff,#00c9ff,#00b4ff,#00a0ff,#008fff,#0080ff,#0073ff,#0069ff,#0061ff,#005bff,#0057ff,#0055ff,#0056ff,#0059ff,#005eff,#0066ff,#006fff)"></i>
<i style="background:linear-gradient(90deg,#ffac00,#ffe500,#e1ff00,#acff00,#7aff00,#49ff00,#1bff00,#00ff12,#00ff3c,#00ff63,#00ff89,#00ffac,#00ffcd,#00ffec,#00f6ff,#00dcff,#00c4ff,#00aeff,#009aff,#0089ff,#007aff,#006dff,#0062ff,#005aff,#0054ff,#0050ff,#004eff,#004fff,#0051ff,#0056ff,#005eff,#0067ff)"></i>
<i style="background:linear-gradient(90deg,#ffae00,#ffe800,#deff00,#a9ff00,#76ff00,#45ff00,#17ff00,#00ff16,#00ff40,#00ff68,#00ff8d,#00ffb1,#00ffd2,#00fff1,#00f0ff,#00d6ff,#00beff,#00a8ff,#0094ff,#0083ff,#0073ff,#0066ff,#005bff,#0053ff,#004cff,#0048ff,#0047ff,#0047ff,#0049ff,#004eff,#0055ff,#005fff)"></i>
<i style="background:linear-gradient(90deg,#ffb100,#ffeb00,#dbff00,#a6ff00,#72ff00,#41ff00,#13ff00,#00ff1a,#00ff44,#00ff6c,#00ff92,#00ffb6,#00ffd7,#00fff6,#00ebff,#00d0ff,#00b8ff,#00a2ff,#008eff,#007cff,#006dff,#0060ff,#0055ff,#004cff,#0045ff,#0041ff,#003fff,#003fff,#0042ff,#0046ff,#004dff,#0056ff)"></i>
<i style="background:linear-gradient(90deg,#ffb400,#ffee00,#d8ff00,#a2ff00,#6fff00,#3eff00,#0fff00,#00ff1e,#00ff48,#00ff71,#00ff97,#00ffba,#00ffdc,#00fffb,#00e6ff,#00cbff,#00b2ff,#009cff,#0088ff,#0076ff,#0066ff,#0059ff,#004eff,#0045ff,#003eff,#003aff,#0037ff,#0037ff,#003aff,#003eff,#0045ff,#004eff)"></i>
<i style="background:linear-gradient(90deg,#ffb700,#fff100,#d5ff00,#9fff00,#6bff00,#3aff00,#0bff00,#00ff22,#00ff4d,#00ff75,#00ff9b,#00ffbf,#00ffe1,#00feff,#00e0ff,#00c5ff,#00adff,#0096ff,#0082ff,#0070ff,#0060ff,#0052ff,#0047ff,#003eff,#0037ff,#0032ff,#0030ff,#0030ff,#0032ff,#0036ff,#003dff,#0045ff)"></i>
<i style="background:linear-gradient(90deg,#ffba00,#fff500,#d1ff00,#9bff00,#67ff00,#36ff00,#07ff00,#00ff26,#00ff51,#00ff7a,#00ffa0,#00ffc4,#00ffe6,#00f8ff,#00dbff,#00c0ff,#00a7ff,#0090ff,#007cff,#0069ff,#0059ff,#004cff,#0040ff,#0037ff,#0030ff,#002bff,#0028ff,#0028ff,#002aff,#002eff,#0034ff,#003dff)"></i>
<i style="background:linear-gradient(90deg,#ffbd00,#fff800,#ceff00,#98ff00,#64ff00,#32ff00,#03ff00,#00ff2b,#00ff56,#00ff7e,#00ffa5,#00ffc9,#00ffeb,#00f3ff,#00d5ff,#00baff,#00a1ff,#008aff,#0075ff,#0063ff,#0053ff,#0045ff,#0039ff,#0030ff,#0028ff,#0023ff,#0021ff,#0020ff,#0022ff,#0026ff,#002cff,#0034ff)"></i>
<i style="background:linear-gradient(90deg,#ffc000,#fffb00,#cbff00,#94ff00,#60ff00,#2eff00,#00ff01,#00ff2f,#00ff5a,#00ff83,#00ffaa,#00ffce,#00fff0,#00eeff,#00d0ff,#00b4ff,#009bff,#0084ff,#006fff,#005dff,#004cff,#003eff,#0032ff,#0029ff,#0021ff,#001cff,#0019ff,#0018ff,#001aff,#001eff,#0024ff,#002cff)"></i>
<i style="background:linear-gradient(90deg,#ffc300,#fffe00,#c7ff00,#91ff00,#5cff00,#2aff00,#00ff05,#00ff33,#00ff5e,#00ff87,#00ffae,#00ffd3,#00fff5,#00e8ff,#00caff,#00afff,#0095ff,#007eff,#0069ff,#0056ff,#0046ff,#0037ff,#002bff,#0022ff,#001aff,#0015ff,#0011ff,#0011ff,#0012ff,#0016ff,#001bff,#0023ff)"></i>
<i style="background:linear-gradient(90deg,#ffc600,#fdff00,#c4ff00,#8dff00,#59ff00,#26ff00,#00ff0a,#00ff37,#00ff63,#00ff8c,#00ffb3,#00ffd8,#00fffb,#00e3ff,#00c5ff,#00a9ff,#008fff,#0078ff,#0063ff,#0050ff,#003fff,#0031ff,#0024ff,#001aff,#0013ff,#000dff,#000aff,#0009ff,#000aff,#000dff,#0013ff,#001bff)"></i>
</div>
<div class="g" style="left:433.2px;top:303.2px;width:247.4px;height:226.4px">
<i style="background:linear-gradient(90deg,#ff1400,#ff3f00,#ff6700,#ff8d00,#ffb100,#ffd300,#fff200,#efff00,#d4ff00,#bcff00,#a5ff00,#91ff00,#80ff00,#70ff00,#63ff00,#58ff00,#50ff00,#4aff00,#46ff00,#44ff00,#44ff00,#47ff00,#4cff00,#54ff00,#5dff00,#69ff00,#77ff00,#88ff00,#9bff00,#b0ff00,#c7ff00,#e1ff00)"></i>
<i style="background:linear-gradient(90deg,#ff1400,#ff3f00,#ff6800,#ff8e00,#ffb200,#ffd400,#fff300,#edff00,#d3ff00,#baff00,#a4ff00,#8fff00,#7eff00,#6eff00,#61ff00,#56ff00,#4dff00,#47ff00,#43ff00,#41ff00,#41ff00,#44ff00,#49ff00,#50ff00,#5aff00,#65ff00,#73ff00,#84ff00,#96ff00,#abff00,#c2ff00,#dcff00)"></i>
<i style="background:linear-gradient(90deg,#ff1500,#ff4000,#ff6900,#ff8f00,#ffb300,#ffd500,#fff500,#ecff00,#d1ff00,#b8ff00,#a2ff00,#8eff00,#7cff00,#6cff00,#5fff00,#53ff00,#4bff00,#44ff00,#40ff00,#3eff00,#3eff00,#41ff00,#45ff00,#4cff00,#56ff00,#62ff00,#6fff00,#80ff00,#92ff00,#a7ff00,#beff00,#d7ff00)"></i>
<i style="background:linear-gradient(90deg,#ff1500,#ff4000,#ff6900,#ff9000,#ffb400,#ffd600,#fff600,#ebff00,#cfff00,#b7ff00,#a0ff00,#8cff00,#7aff00,#6aff00,#5cff00,#51ff00,#48ff00,#41ff00,#3dff00,#3bff00,#3bff00,#3dff00,#42ff00,#49ff00,#52ff00,#5eff00,#6bff00,#7cff00,#8eff00,#a3ff00,#b9ff00,#d3ff00)"></i>
<i style="background:linear-gradient(90deg,#ff1600,#ff4100,#ff6a00,#ff9100,#ffb500,#ffd700,#fff700,#e9ff00,#ceff00,#b5ff00,#9eff00,#8aff00,#77ff00,#67ff00,#5aff00,#4eff00,#45ff00,#3eff00,#3aff00,#38ff00,#38ff00,#3aff00,#3fff00,#45ff00,#4eff00,#5aff00,#67ff00,#77ff00,#8aff00,#9eff00,#b5ff00,#ceff00)"></i>
<i style="background:linear-gradient(90deg,#ff1600,#ff4200,#ff6b00,#ff9200,#ffb600,#ffd800,#fff800,#e8ff00,#ccff00,#b3ff00,#9cff00,#88ff00,#75ff00,#65ff00,#57ff00,#4cff00,#43ff00,#3cff00,#37ff00,#35ff00,#34ff00,#37ff00,#3bff00,#42ff00,#4bff00,#56ff00,#63ff00,#73ff00,#85ff00,#9aff00,#b0ff00,#c9ff00)"></i>
<i style="background:linear-gradient(90deg,#ff1700,#ff4200,#ff6c00,#ff9300,#ffb700,#ffda00,#fffa00,#e6ff00,#cbff00,#b1ff00,#9aff00,#86ff00,#73ff00,#63ff00,#55ff00,#49ff00,#40ff00,#39ff00,#34ff00,#32ff00,#31ff00,#33ff00,#38ff00,#3eff00,#47ff00,#52ff00,#5fff00,#6fff00,#81ff00,#95ff00,#acff00,#c5ff00)"></i>
<i style="background:linear-gradient(90deg,#ff1700,#ff4300,#ff6c00,#ff9300,#ffb800,#ffdb00,#fffb00,#e5ff00,#c9ff00,#b0ff00,#99ff00,#84ff00,#71ff00,#61ff00,#53ff00,#47ff00,#3dff00,#36ff00,#31ff00,#2eff00,#2eff00,#30ff00,#34ff00,#3aff00,#43ff00,#4eff00,#5bff00,#6bff00,#7dff00,#91ff00,#a7ff00,#c0ff00)"></i>
<i style="background:linear-gradient(90deg,#ff1800,#ff4400,#ff6d00,#ff9400,#ffb900,#ffdc00,#fffc00,#e3ff00,#c8ff00,#aeff00,#97ff00,#82ff00,#6fff00,#5eff00,#50ff00,#44ff00,#3bff00,#33ff00,#2eff00,#2bff00,#2bff00,#2dff00,#31ff00,#37ff00,#3fff00,#4aff00,#57ff00,#67ff00,#78ff00,#8cff00,#a3ff00,#bbff00)"></i>
<i style="background:linear-gradient(90deg,#ff1800,#ff4400,#ff6e00,#ff9500,#ffba00,#ffdd00,#fffe00,#e2ff00,#c6ff00,#acff00,#95ff00,#80ff00,#6dff00,#5cff00,#4eff00,#42ff00,#38ff00,#30ff00,#2bff00,#28ff00,#28ff00,#29ff00,#2dff00,#33ff00,#3cff00,#46ff00,#53ff00,#63ff00,#74ff00,#88ff00,#9eff00,#b6ff00)"></i>
<i style="background:linear-gradient(90deg,#ff1900,#ff4500,#ff6f00,#ff9600,#ffbc00,#ffdf00,#ffff00,#e0ff00,#c4ff00,#aaff00,#93ff00,#7eff00,#6bff00,#5aff00,#4bff00,#3fff00,#35ff00,#2eff00,#28ff00,#25ff00,#24ff00,#26ff00,#2aff00,#30ff00,#38ff00,#42ff00,#4fff00,#5eff00,#70ff00,#83ff00,#99ff00,#b2ff00)"></i>
<i style="background:linear-gradient(90deg,#ff1a00,#ff4600,#ff7000,#ff9700,#ffbd00,#ffe000,#fdff00,#dfff00,#c3ff00,#a9ff00,#91ff00,#7bff00,#68ff00,#57ff00,#49ff00,#3dff00,#32ff00,#2bff00,#25ff00,#22ff00,#21ff00,#22ff00,#26ff00,#2cff00,#34ff00,#3eff00,#4bff00,#5aff00,#6bff00,#7fff00,#95ff00,#adff00)"></i>
<i style="background:linear-gradient(90deg,#ff1a00,#ff4600,#ff7000,#ff9800,#ffbe00,#ffe100,#fcff00,#ddff00,#c1ff00,#a7ff00,#8fff00,#79ff00,#66ff00,#55ff00,#46ff00,#3aff00,#30ff00,#28ff00,#22ff00,#1fff00,#1eff00,#1fff00,#22ff00,#28ff00,#30ff00,#3aff00,#47ff00,#56ff00,#67ff00,#7aff00,#90ff00,#a8ff00)"></i>
<i style="background:linear-gradient(90deg,#ff1b00,#ff4700,#ff7100,#ff9900,#ffbf00,#ffe200,#fbff00,#dcff00,#bfff00,#a5ff00,#8dff00,#77ff00,#64ff00,#53ff00,#44ff00,#37ff00,#2dff00,#25ff00,#1fff00,#1cff00,#1aff00,#1bff00,#1fff00,#24ff00,#2cff00,#36ff00,#43ff00,#52ff00,#63ff00,#76ff00,#8bff00,#a3ff00)"></i>
<i style="background:linear-gradient(90deg,#ff1b00,#ff4800,#ff7200,#ff9a00,#ffc000,#ffe400,#f9ff00,#daff00,#beff00,#a3ff00,#8bff00,#75ff00,#62ff00,#50ff00,#41ff00,#35ff00,#2aff00,#22ff00,#1cff00,#18ff00,#17ff00,#18ff00,#1bff00,#21ff00,#28ff00,#33ff00,#3fff00,#4dff00,#5eff00,#71ff00,#87ff00,#9eff00)"></i>
<i style="background:linear-gradient(90deg,#ff1c00,#ff4900,#ff7300,#ff9b00,#ffc100,#ffe500,#f8ff00,#d9ff00,#bcff00,#a1ff00,#89ff00,#73ff00,#5fff00,#4eff00,#3fff00,#32ff00,#27ff00,#1fff00,#19ff00,#15ff00,#14ff00,#15ff00,#18ff00,#1dff00,#25ff00,#2eff00,#3bff00,#49ff00,#5aff00,#6dff00,#82ff00,#9aff00)"></i>
<i style="background:linear-gradient(90deg,#ff1d00,#ff4900,#ff7400,#ff9c00,#ffc200,#ffe600,#f6ff00,#d7ff00,#baff00,#9fff00,#87ff00,#71ff00,#5dff00,#4cff00,#3cff00,#2fff00,#25ff00,#1cff00,#16ff00,#12ff00,#10ff00,#11ff00,#14ff00,#19ff00,#21ff00,#2aff00,#37ff00,#45ff00,#55ff00,#68ff00,#7dff00,#95ff00)"></i>
<i style="background:linear-gradient(90deg,#ff1d00,#ff4a00,#ff7500,#ff9d00,#ffc400,#ffe800,#f5ff00,#d6ff00,#b8ff00,#9eff00,#85ff00,#6fff00,#5bff00,#49ff00,#3aff00,#2dff00,#22ff00,#19ff00,#13ff00,#0fff00,#0dff00,#0eff00,#10ff00,#15ff00,#1dff00,#26ff00,#32ff00,#41ff00,#51ff00,#64ff00,#79ff00,#90ff00)"></i>
<i style="background:linear-gradient(90deg,#ff1e00,#ff4b00,#ff7600,#ff9e00,#ffc500,#ffe900,#f3ff00,#d4ff00,#b7ff00,#9cff00,#83ff00,#6dff00,#59ff00,#47ff00,#37ff00,#2aff00,#1fff00,#16ff00,#10ff00,#0cff00,#0aff00,#0aff00,#0dff00,#12ff00,#19ff00,#22ff00,#2eff00,#3cff00,#4dff00,#5fff00,#74ff00,#8bff00)"></i>
<i style="background:linear-gradient(90deg,#ff1f00,#ff4c00,#ff7700,#ffa000,#ffc600,#ffea00,#f2ff00,#d2ff00,#b5ff00,#9aff00,#81ff00,#6bff00,#56ff00,#44ff00,#35ff00,#27ff00,#1cff00,#13ff00,#0dff00,#08ff00,#06ff00,#07ff00,#09ff00,#0eff00,#15ff00,#1eff00,#2aff00,#38ff00,#48ff00,#5bff00,#6fff00,#86ff00)"></i>
<i style="background:linear-gradient(90deg,#ff1f00,#ff4d00,#ff7800,#ffa100,#ffc700,#ffec00,#f0ff00,#d1ff00,#b3ff00,#98ff00,#7fff00,#68ff00,#54ff00,#42ff00,#32ff00,#25ff00,#19ff00,#10ff00,#0aff00,#05ff00,#03ff00,#03ff00,#05ff00,#0aff00,#11ff00,#1aff00,#26ff00,#34ff00,#44ff00,#56ff00,#6aff00,#81ff00)"></i>
<i style="background:linear-gradient(90deg,#ff2000,#ff4e00,#ff7900,#ffa200,#ffc900,#ffed00,#efff00,#cfff00,#b1ff00,#96ff00,#7dff00,#66ff00,#52ff00,#3fff00,#2fff00,#22ff00,#16ff00,#0dff00,#06ff00,#02ff00,#00ff00,#00ff01,#02ff00,#06ff00,#0dff00,#16ff00,#22ff00,#2fff00,#3fff00,#51ff00,#66ff00,#7cff00)"></i>
<i style="background:linear-gradient(90deg,#ff2100,#ff4e00,#ff7a00,#ffa300,#ffca00,#ffee00,#edff00,#cdff00,#b0ff00,#94ff00,#7bff00,#64ff00,#4fff00,#3dff00,#2dff00,#1fff00,#13ff00,#0aff00,#03ff00,#00ff01,#00ff04,#00ff04,#00ff02,#02ff00,#09ff00,#12ff00,#1dff00,#2bff00,#3bff00,#4dff00,#61ff00,#78ff00)"></i>
<i style="background:linear-gradient(90deg,#ff2100,#ff4f00,#ff7b00,#ffa400,#ffcb00,#fff000,#ecff00,#ccff00,#aeff00,#92ff00,#79ff00,#62ff00,#4dff00,#3aff00,#2aff00,#1cff00,#11ff00,#07ff00,#00ff00,#00ff05,#00ff07,#00ff08,#00ff06,#00ff01,#05ff00,#0eff00,#19ff00,#26ff00,#36ff00,#48ff00,#5cff00,#73ff00)"></i>
<i style="background:linear-gradient(90deg,#ff2200,#ff5000,#ff7c00,#ffa500,#ffcc00,#fff100,#eaff00,#caff00,#acff00,#90ff00,#77ff00,#5fff00,#4bff00,#38ff00,#28ff00,#19ff00,#0eff00,#04ff00,#00ff03,#00ff08,#00ff0b,#00ff0b,#00ff09,#00ff05,#01ff00,#0aff00,#15ff00,#22ff00,#32ff00,#43ff00,#57ff00,#6eff00)"></i>
<i style="background:linear-gradient(90deg,#ff2300,#ff5100,#ff7d00,#ffa600,#ffce00,#fff300,#e9ff00,#c8ff00,#aaff00,#8eff00,#75ff00,#5dff00,#48ff00,#35ff00,#25ff00,#17ff00,#0bff00,#01ff00,#00ff06,#00ff0b,#00ff0e,#00ff0f,#00ff0d,#00ff09,#00ff03,#06ff00,#10ff00,#1eff00,#2dff00,#3fff00,#53ff00,#69ff00)"></i>
<i style="background:linear-gradient(90deg,#ff2400,#ff5200,#ff7e00,#ffa800,#ffcf00,#fff400,#e7ff00,#c6ff00,#a8ff00,#8cff00,#72ff00,#5bff00,#46ff00,#33ff00,#22ff00,#14ff00,#08ff00,#00ff02,#00ff0a,#00ff0f,#00ff12,#00ff12,#00ff11,#00ff0d,#00ff07,#02ff00,#0cff00,#19ff00,#28ff00,#3aff00,#4eff00,#64ff00)"></i>
<i style="background:linear-gradient(90deg,#ff2400,#ff5300,#ff7f00,#ffa900,#ffd000,#fff600,#e5ff00,#c5ff00,#a6ff00,#8aff00,#70ff00,#59ff00,#43ff00,#30ff00,#20ff00,#11ff00,#05ff00,#00ff05,#00ff0d,#00ff12,#00ff15,#00ff16,#00ff15,#00ff11,#00ff0b,#00ff03,#08ff00,#15ff00,#24ff00,#35ff00,#49ff00,#5fff00)"></i>
<i style="background:linear-gradient(90deg,#ff2500,#ff5400,#ff8000,#ffaa00,#ffd200,#fff700,#e4ff00,#c3ff00,#a4ff00,#88ff00,#6eff00,#56ff00,#41ff00,#2eff00,#1dff00,#0eff00,#02ff00,#00ff08,#00ff10,#00ff16,#00ff19,#00ff1a,#00ff18,#00ff15,#00ff0f,#00ff07,#04ff00,#10ff00,#1fff00,#30ff00,#44ff00,#5aff00)"></i>
<i style="background:linear-gradient(90deg,#ff2600,#ff5500,#ff8100,#ffab00,#ffd300,#fff900,#e2ff00,#c1ff00,#a3ff00,#86ff00,#6cff00,#54ff00,#3fff00,#2bff00,#1aff00,#0bff00,#00ff01,#00ff0b,#00ff13,#00ff19,#00ff1c,#00ff1d,#00ff1c,#00ff19,#00ff13,#00ff0b,#00ff01,#0cff00,#1bff00,#2cff00,#3fff00,#55ff00)"></i>
<i style="background:linear-gradient(90deg,#ff2700,#ff5600,#ff8200,#ffac00,#ffd400,#fffa00,#e1ff00,#bfff00,#a1ff00,#84ff00,#6aff00,#52ff00,#3cff00,#29ff00,#17ff00,#09ff00,#00ff04,#00ff0e,#00ff17,#00ff1c,#00ff20,#00ff21,#00ff20,#00ff1d,#00ff17,#00ff0f,#00ff05,#07ff00,#16ff00,#27ff00,#3aff00,#50ff00)"></i>
<i style="background:linear-gradient(90deg,#ff2800,#ff5700,#ff8300,#ffae00,#ffd600,#fffc00,#dfff00,#beff00,#9fff00,#82ff00,#68ff00,#4fff00,#3aff00,#26ff00,#15ff00,#06ff00,#00ff07,#00ff12,#00ff1a,#00ff20,#00ff23,#00ff25,#00ff24,#00ff21,#00ff1b,#00ff13,#00ff09,#03ff00,#11ff00,#22ff00,#35ff00,#4bff00)"></i>
<i style="background:linear-gradient(90deg,#ff2900,#ff5800,#ff8400,#ffaf00,#ffd700,#fffd00,#ddff00,#bcff00,#9dff00,#80ff00,#65ff00,#4dff00,#37ff00,#23ff00,#12ff00,#03ff00,#00ff0a,#00ff15,#00ff1d,#00ff23,#00ff27,#00ff28,#00ff28,#00ff25,#00ff1f,#00ff18,#00ff0e,#00ff02,#0dff00,#1dff00,#30ff00,#46ff00)"></i>
<i style="background:linear-gradient(90deg,#ff2a00,#ff5900,#ff8600,#ffb000,#ffd900,#ffff00,#dcff00,#baff00,#9bff00,#7eff00,#63ff00,#4bff00,#35ff00,#21ff00,#0fff00,#00ff00,#00ff0d,#00ff18,#00ff20,#00ff27,#00ff2b,#00ff2c,#00ff2c,#00ff29,#00ff23,#00ff1c,#00ff12,#00ff06,#08ff00,#19ff00,#2bff00,#41ff00)"></i>
<i style="background:linear-gradient(90deg,#ff2a00,#ff5a00,#ff8700,#ffb200,#ffda00,#feff00,#daff00,#b8ff00,#99ff00,#7cff00,#61ff00,#48ff00,#32ff00,#1eff00,#0cff00,#00ff03,#00ff10,#00ff1b,#00ff24,#00ff2a,#00ff2e,#00ff30,#00ff2f,#00ff2d,#00ff28,#00ff20,#00ff17,#00ff0b,#03ff00,#14ff00,#27ff00,#3cff00)"></i>
<i style="background:linear-gradient(90deg,#ff2b00,#ff5b00,#ff8800,#ffb300,#ffdb00,#fcff00,#d8ff00,#b6ff00,#97ff00,#7aff00,#5fff00,#46ff00,#30ff00,#1bff00,#0aff00,#00ff06,#00ff13,#00ff1e,#00ff27,#00ff2e,#00ff32,#00ff34,#00ff33,#00ff31,#00ff2c,#00ff25,#00ff1b,#00ff0f,#00ff01,#0fff00,#22ff00,#36ff00)"></i>
<i style="background:linear-gradient(90deg,#ff2c00,#ff5c00,#ff8900,#ffb400,#ffdd00,#fbff00,#d6ff00,#b5ff00,#95ff00,#78ff00,#5cff00,#44ff00,#2dff00,#19ff00,#07ff00,#00ff09,#00ff16,#00ff22,#00ff2a,#00ff31,#00ff35,#00ff37,#00ff37,#00ff35,#00ff30,#00ff29,#00ff1f,#00ff14,#00ff06,#0aff00,#1dff00,#31ff00)"></i>
<i style="background:linear-gradient(90deg,#ff2d00,#ff5d00,#ff8a00,#ffb500,#ffde00,#f9ff00,#d5ff00,#b3ff00,#93ff00,#75ff00,#5aff00,#41ff00,#2bff00,#16ff00,#04ff00,#00ff0c,#00ff19,#00ff25,#00ff2e,#00ff34,#00ff39,#00ff3b,#00ff3b,#00ff39,#00ff34,#00ff2d,#00ff24,#00ff18,#00ff0b,#05ff00,#18ff00,#2cff00)"></i>
<i style="background:linear-gradient(90deg,#ff2e00,#ff5e00,#ff8c00,#ffb700,#ffe000,#f7ff00,#d3ff00,#b1ff00,#91ff00,#73ff00,#58ff00,#3fff00,#28ff00,#13ff00,#01ff00,#00ff0f,#00ff1d,#00ff28,#00ff31,#00ff38,#00ff3d,#00ff3f,#00ff3f,#00ff3d,#00ff38,#00ff31,#00ff28,#00ff1d,#00ff0f,#00ff00,#13ff00,#27ff00)"></i>
<i style="background:linear-gradient(90deg,#ff2f00,#ff5f00,#ff8d00,#ffb800,#ffe100,#f6ff00,#d1ff00,#afff00,#8fff00,#71ff00,#56ff00,#3cff00,#25ff00,#11ff00,#00ff02,#00ff12,#00ff20,#00ff2b,#00ff35,#00ff3c,#00ff40,#00ff43,#00ff43,#00ff41,#00ff3c,#00ff36,#00ff2d,#00ff22,#00ff14,#00ff04,#0eff00,#22ff00)"></i>
<i style="background:linear-gradient(90deg,#ff3000,#ff6000,#ff8e00,#ffba00,#ffe300,#f4ff00,#cfff00,#adff00,#8dff00,#6fff00,#53ff00,#3aff00,#23ff00,#0eff00,#00ff05,#00ff15,#00ff23,#00ff2e,#00ff38,#00ff3f,#00ff44,#00ff47,#00ff47,#00ff45,#00ff41,#00ff3a,#00ff31,#00ff26,#00ff19,#00ff09,#09ff00,#1dff00)"></i>
<i style="background:linear-gradient(90deg,#ff3100,#ff6100,#ff8f00,#ffbb00,#ffe400,#f2ff00,#ceff00,#abff00,#8bff00,#6dff00,#51ff00,#37ff00,#20ff00,#0bff00,#00ff07,#00ff18,#00ff26,#00ff32,#00ff3b,#00ff43,#00ff48,#00ff4a,#00ff4b,#00ff49,#00ff45,#00ff3e,#00ff36,#00ff2b,#00ff1e,#00ff0e,#04ff00,#18ff00)"></i>
<i style="background:linear-gradient(90deg,#ff3200,#ff6200,#ff9000,#ffbc00,#ffe600,#f1ff00,#ccff00,#a9ff00,#89ff00,#6aff00,#4fff00,#35ff00,#1eff00,#08ff00,#00ff0a,#00ff1b,#00ff29,#00ff35,#00ff3f,#00ff46,#00ff4b,#00ff4e,#00ff4f,#00ff4d,#00ff49,#00ff43,#00ff3a,#00ff30,#00ff22,#00ff13,#00ff02,#12ff00)"></i>
<i style="background:linear-gradient(90deg,#ff3300,#ff6400,#ff9200,#ffbe00,#ffe700,#efff00,#caff00,#a7ff00,#87ff00,#68ff00,#4cff00,#32ff00,#1bff00,#06ff00,#00ff0d,#00ff1e,#00ff2c,#00ff38,#00ff42,#00ff4a,#00ff4f,#00ff52,#00ff53,#00ff51,#00ff4d,#00ff47,#00ff3f,#00ff34,#00ff27,#00ff18,#00ff07,#0dff00)"></i>
<i style="background:linear-gradient(90deg,#ff3400,#ff6500,#ff9300,#ffbf00,#ffe900,#edff00,#c8ff00,#a5ff00,#84ff00,#66ff00,#4aff00,#30ff00,#18ff00,#03ff00,#00ff10,#00ff21,#00ff2f,#00ff3c,#00ff46,#00ff4d,#00ff53,#00ff56,#00ff57,#00ff55,#00ff52,#00ff4c,#00ff43,#00ff39,#00ff2c,#00ff1d,#00ff0c,#08ff00)"></i>
<i style="background:linear-gradient(90deg,#ff3500,#ff6600,#ff9400,#ffc100,#ffeb00,#ecff00,#c6ff00,#a3ff00,#82ff00,#64ff00,#47ff00,#2dff00,#16ff00,#00ff00,#00ff13,#00ff24,#00ff33,#00ff3f,#00ff49,#00ff51,#00ff56,#00ff5a,#00ff5b,#00ff59,#00ff56,#00ff50,#00ff48,#00ff3e,#00ff31,#00ff22,#00ff11,#03ff00)"></i>
<i style="background:linear-gradient(90deg,#ff3600,#ff6700,#ff9600,#ffc200,#ffec00,#eaff00,#c4ff00,#a1ff00,#80ff00,#61ff00,#45ff00,#2bff00,#13ff00,#00ff03,#00ff16,#00ff27,#00ff36,#00ff42,#00ff4d,#00ff55,#00ff5a,#00ff5e,#00ff5f,#00ff5e,#00ff5a,#00ff55,#00ff4d,#00ff42,#00ff36,#00ff27,#00ff16,#00ff02)"></i>
<i style="background:linear-gradient(90deg,#ff3700,#ff6800,#ff9700,#ffc400,#ffee00,#e8ff00,#c3ff00,#9fff00,#7eff00,#5fff00,#43ff00,#28ff00,#10ff00,#00ff05,#00ff19,#00ff2a,#00ff39,#00ff46,#00ff50,#00ff58,#00ff5e,#00ff62,#00ff63,#00ff62,#00ff5f,#00ff59,#00ff51,#00ff47,#00ff3b,#00ff2c,#00ff1b,#00ff08)"></i>
<i style="background:linear-gradient(90deg,#ff3800,#ff6900,#ff9800,#ffc500,#ffef00,#e7ff00,#c1ff00,#9dff00,#7cff00,#5dff00,#40ff00,#26ff00,#0eff00,#00ff08,#00ff1c,#00ff2d,#00ff3c,#00ff49,#00ff54,#00ff5c,#00ff62,#00ff65,#00ff67,#00ff66,#00ff63,#00ff5d,#00ff56,#00ff4c,#00ff3f,#00ff31,#00ff20,#00ff0d)"></i>
<i style="background:linear-gradient(90deg,#ff3900,#ff6b00,#ff9a00,#ffc600,#fff100,#e5ff00,#bfff00,#9bff00,#7aff00,#5bff00,#3eff00,#23ff00,#0bff00,#00ff0b,#00ff1f,#00ff30,#00ff40,#00ff4c,#00ff57,#00ff60,#00ff66,#00ff69,#00ff6b,#00ff6a,#00ff67,#00ff62,#00ff5a,#00ff50,#00ff44,#00ff36,#00ff25,#00ff12)"></i>
<i style="background:linear-gradient(90deg,#ff3a00,#ff6c00,#ff9b00,#ffc800,#fff300,#e3ff00,#bdff00,#99ff00,#78ff00,#58ff00,#3bff00,#21ff00,#08ff00,#00ff0e,#00ff22,#00ff34,#00ff43,#00ff50,#00ff5b,#00ff63,#00ff69,#00ff6d,#00ff6f,#00ff6e,#00ff6c,#00ff66,#00ff5f,#00ff55,#00ff49,#00ff3b,#00ff2a,#00ff18)"></i>
<i style="background:linear-gradient(90deg,#ff3c00,#ff6d00,#ff9c00,#ffca00,#fff400,#e1ff00,#bbff00,#97ff00,#75ff00,#56ff00,#39ff00,#1eff00,#05ff00,#00ff11,#00ff25,#00ff37,#00ff46,#00ff53,#00ff5e,#00ff67,#00ff6d,#00ff71,#00ff73,#00ff73,#00ff70,#00ff6b,#00ff64,#00ff5a,#00ff4e,#00ff40,#00ff30,#00ff1d)"></i>
<i style="background:linear-gradient(90deg,#ff3d00,#ff6e00,#ff9e00,#ffcb00,#fff600,#dfff00,#b9ff00,#95ff00,#73ff00,#54ff00,#36ff00,#1bff00,#03ff00,#00ff14,#00ff28,#00ff3a,#00ff49,#00ff57,#00ff62,#00ff6b,#00ff71,#00ff75,#00ff77,#00ff77,#00ff74,#00ff6f,#00ff68,#00ff5f,#00ff53,#00ff45,#00ff35,#00ff22)"></i>
<i style="background:linear-gradient(90deg,#ff3e00,#ff7000,#ff9f00,#ffcd00,#fff800,#deff00,#b7ff00,#93ff00,#71ff00,#51ff00,#34ff00,#19ff00,#00ff00,#00ff17,#00ff2b,#00ff3d,#00ff4d,#00ff5a,#00ff65,#00ff6e,#00ff75,#00ff79,#00ff7b,#00ff7b,#00ff79,#00ff74,#00ff6d,#00ff64,#00ff58,#00ff4a,#00ff3a,#00ff28)"></i>
<i style="background:linear-gradient(90deg,#ff3f00,#ff7100,#ffa100,#ffce00,#fff900,#dcff00,#b5ff00,#91ff00,#6fff00,#4fff00,#31ff00,#16ff00,#00ff03,#00ff1a,#00ff2e,#00ff40,#00ff50,#00ff5e,#00ff69,#00ff72,#00ff79,#00ff7d,#00ff7f,#00ff7f,#00ff7d,#00ff78,#00ff72,#00ff68,#00ff5d,#00ff4f,#00ff3f,#00ff2d)"></i>
<i style="background:linear-gradient(90deg,#ff4000,#ff7200,#ffa200,#ffd000,#fffb00,#daff00,#b3ff00,#8fff00,#6cff00,#4cff00,#2fff00,#13ff00,#00ff06,#00ff1d,#00ff31,#00ff43,#00ff53,#00ff61,#00ff6d,#00ff76,#00ff7d,#00ff81,#00ff84,#00ff84,#00ff81,#00ff7d,#00ff76,#00ff6d,#00ff62,#00ff54,#00ff44,#00ff32)"></i>
<i style="background:linear-gradient(90deg,#ff4100,#ff7400,#ffa400,#ffd100,#fffd00,#d8ff00,#b1ff00,#8cff00,#6aff00,#4aff00,#2cff00,#11ff00,#00ff09,#00ff1f,#00ff34,#00ff47,#00ff57,#00ff65,#00ff70,#00ff7a,#00ff81,#00ff85,#00ff88,#00ff88,#00ff86,#00ff82,#00ff7b,#00ff72,#00ff67,#00ff59,#00ff4a,#00ff38)"></i>
<i style="background:linear-gradient(90deg,#ff4300,#ff7500,#ffa500,#ffd300,#ffff00,#d6ff00,#afff00,#8aff00,#68ff00,#48ff00,#2aff00,#0eff00,#00ff0b,#00ff22,#00ff37,#00ff4a,#00ff5a,#00ff68,#00ff74,#00ff7d,#00ff84,#00ff89,#00ff8c,#00ff8c,#00ff8a,#00ff86,#00ff80,#00ff77,#00ff6c,#00ff5f,#00ff4f,#00ff3d)"></i>
<i style="background:linear-gradient(90deg,#ff4400,#ff7600,#ffa700,#ffd500,#feff00,#d4ff00,#adff00,#88ff00,#66ff00,#45ff00,#27ff00,#0bff00,#00ff0e,#00ff25,#00ff3a,#00ff4d,#00ff5d,#00ff6c,#00ff77,#00ff81,#00ff88,#00ff8d,#00ff90,#00ff91,#00ff8f,#00ff8b,#00ff84,#00ff7c,#00ff71,#00ff64,#00ff54,#00ff42)"></i>
<i style="background:linear-gradient(90deg,#ff4500,#ff7800,#ffa800,#ffd600,#fcff00,#d2ff00,#abff00,#86ff00,#63ff00,#43ff00,#25ff00,#09ff00,#00ff11,#00ff28,#00ff3d,#00ff50,#00ff61,#00ff6f,#00ff7b,#00ff85,#00ff8c,#00ff91,#00ff94,#00ff95,#00ff93,#00ff8f,#00ff89,#00ff81,#00ff76,#00ff69,#00ff59,#00ff48)"></i>
<i style="background:linear-gradient(90deg,#ff4600,#ff7900,#ffaa00,#ffd800,#faff00,#d0ff00,#a9ff00,#84ff00,#61ff00,#40ff00,#22ff00,#06ff00,#00ff14,#00ff2b,#00ff41,#00ff54,#00ff64,#00ff73,#00ff7f,#00ff89,#00ff90,#00ff96,#00ff99,#00ff99,#00ff98,#00ff94,#00ff8e,#00ff86,#00ff7b,#00ff6e,#00ff5f,#00ff4d)"></i>
<i style="background:linear-gradient(90deg,#ff4700,#ff7a00,#ffab00,#ffda00,#f8ff00,#cfff00,#a7ff00,#82ff00,#5fff00,#3eff00,#1fff00,#03ff00,#00ff17,#00ff2e,#00ff44,#00ff57,#00ff68,#00ff76,#00ff82,#00ff8c,#00ff94,#00ff9a,#00ff9d,#00ff9e,#00ff9c,#00ff99,#00ff93,#00ff8a,#00ff80,#00ff73,#00ff64,#00ff53)"></i>
<i style="background:linear-gradient(90deg,#ff4900,#ff7c00,#ffad00,#ffdb00,#f7ff00,#cdff00,#a5ff00,#7fff00,#5cff00,#3bff00,#1dff00,#00ff00,#00ff1a,#00ff31,#00ff47,#00ff5a,#00ff6b,#00ff7a,#00ff86,#00ff90,#00ff98,#00ff9e,#00ffa1,#00ffa2,#00ffa1,#00ff9d,#00ff97,#00ff8f,#00ff85,#00ff78,#00ff69,#00ff58)"></i>
<i style="background:linear-gradient(90deg,#ff4a00,#ff7d00,#ffae00,#ffdd00,#f5ff00,#cbff00,#a3ff00,#7dff00,#5aff00,#39ff00,#1aff00,#00ff02,#00ff1d,#00ff34,#00ff4a,#00ff5d,#00ff6f,#00ff7d,#00ff8a,#00ff94,#00ff9c,#00ffa2,#00ffa5,#00ffa6,#00ffa5,#00ffa2,#00ff9c,#00ff94,#00ff8a,#00ff7e,#00ff6f,#00ff5e)"></i>
<i style="background:linear-gradient(90deg,#ff4b00,#ff7f00,#ffb000,#ffdf00,#f3ff00,#c9ff00,#a1ff00,#7bff00,#57ff00,#36ff00,#17ff00,#00ff05,#00ff1f,#00ff38,#00ff4d,#00ff61,#00ff72,#00ff81,#00ff8e,#00ff98,#00ffa0,#00ffa6,#00ffaa,#00ffab,#00ffaa,#00ffa7,#00ffa1,#00ff99,#00ff8f,#00ff83,#00ff74,#00ff63)"></i>
<i style="background:linear-gradient(90deg,#ff4d00,#ff8000,#ffb100,#ffe000,#f1ff00,#c7ff00,#9fff00,#79ff00,#55ff00,#34ff00,#15ff00,#00ff08,#00ff22,#00ff3b,#00ff51,#00ff64,#00ff75,#00ff85,#00ff91,#00ff9c,#00ffa4,#00ffaa,#00ffae,#00ffaf,#00ffae,#00ffab,#00ffa6,#00ff9e,#00ff94,#00ff88,#00ff79,#00ff69)"></i>
<i style="background:linear-gradient(90deg,#ff4e00,#ff8200,#ffb300,#ffe200,#efff00,#c5ff00,#9cff00,#76ff00,#53ff00,#31ff00,#12ff00,#00ff0b,#00ff25,#00ff3e,#00ff54,#00ff67,#00ff79,#00ff88,#00ff95,#00ffa0,#00ffa8,#00ffae,#00ffb2,#00ffb4,#00ffb3,#00ffb0,#00ffab,#00ffa3,#00ff99,#00ff8d,#00ff7f,#00ff6e)"></i>
<i style="background:linear-gradient(90deg,#ff4f00,#ff8300,#ffb500,#ffe400,#edff00,#c3ff00,#9aff00,#74ff00,#50ff00,#2fff00,#0fff00,#00ff0e,#00ff28,#00ff41,#00ff57,#00ff6b,#00ff7c,#00ff8c,#00ff99,#00ffa4,#00ffac,#00ffb2,#00ffb6,#00ffb8,#00ffb8,#00ffb5,#00ffb0,#00ffa8,#00ff9e,#00ff92,#00ff84,#00ff74)"></i>
<i style="background:linear-gradient(90deg,#ff5100,#ff8500,#ffb600,#ffe500,#ebff00,#c1ff00,#98ff00,#72ff00,#4eff00,#2cff00,#0dff00,#00ff10,#00ff2b,#00ff44,#00ff5a,#00ff6e,#00ff80,#00ff8f,#00ff9d,#00ffa8,#00ffb0,#00ffb7,#00ffbb,#00ffbd,#00ffbc,#00ffb9,#00ffb4,#00ffad,#00ffa4,#00ff98,#00ff8a,#00ff79)"></i>
<i style="background:linear-gradient(90deg,#ff5200,#ff8600,#ffb800,#ffe700,#eaff00,#bfff00,#96ff00,#70ff00,#4bff00,#2aff00,#0aff00,#00ff13,#00ff2e,#00ff47,#00ff5d,#00ff72,#00ff84,#00ff93,#00ffa0,#00ffac,#00ffb4,#00ffbb,#00ffbf,#00ffc1,#00ffc1,#00ffbe,#00ffb9,#00ffb2,#00ffa9,#00ff9d,#00ff8f,#00ff7f)"></i>
<i style="background:linear-gradient(90deg,#ff5300,#ff8800,#ffb900,#ffe900,#e8ff00,#bdff00,#94ff00,#6dff00,#49ff00,#27ff00,#07ff00,#00ff16,#00ff31,#00ff4a,#00ff61,#00ff75,#00ff87,#00ff97,#00ffa4,#00ffb0,#00ffb8,#00ffbf,#00ffc3,#00ffc6,#00ffc5,#00ffc3,#00ffbe,#00ffb7,#00ffae,#00ffa2,#00ff95,#00ff84)"></i>
<i style="background:linear-gradient(90deg,#ff5500,#ff8900,#ffbb00,#ffeb00,#e6ff00,#baff00,#92ff00,#6bff00,#46ff00,#24ff00,#05ff00,#00ff19,#00ff34,#00ff4d,#00ff64,#00ff78,#00ff8b,#00ff9b,#00ffa8,#00ffb3,#00ffbd,#00ffc3,#00ffc8,#00ffca,#00ffca,#00ffc8,#00ffc3,#00ffbc,#00ffb3,#00ffa8,#00ff9a,#00ff8a)"></i>
<i style="background:linear-gradient(90deg,#ff5600,#ff8b00,#ffbd00,#ffed00,#e4ff00,#b8ff00,#8fff00,#69ff00,#44ff00,#22ff00,#02ff00,#00ff1c,#00ff37,#00ff50,#00ff67,#00ff7c,#00ff8e,#00ff9e,#00ffac,#00ffb7,#00ffc1,#00ffc8,#00ffcc,#00ffcf,#00ffcf,#00ffcc,#00ffc8,#00ffc1,#00ffb8,#00ffad,#00ff9f,#00ff90)"></i>
<i style="background:linear-gradient(90deg,#ff5800,#ff8c00,#ffbe00,#ffee00,#e2ff00,#b6ff00,#8dff00,#66ff00,#41ff00,#1fff00,#00ff01,#00ff1f,#00ff3a,#00ff54,#00ff6b,#00ff7f,#00ff92,#00ffa2,#00ffb0,#00ffbb,#00ffc5,#00ffcc,#00ffd1,#00ffd3,#00ffd3,#00ffd1,#00ffcd,#00ffc6,#00ffbd,#00ffb2,#00ffa5,#00ff95)"></i>
<i style="background:linear-gradient(90deg,#ff5900,#ff8e00,#ffc000,#fff000,#e0ff00,#b4ff00,#8bff00,#64ff00,#3fff00,#1cff00,#00ff04,#00ff22,#00ff3d,#00ff57,#00ff6e,#00ff83,#00ff95,#00ffa6,#00ffb4,#00ffbf,#00ffc9,#00ffd0,#00ffd5,#00ffd8,#00ffd8,#00ffd6,#00ffd2,#00ffcb,#00ffc3,#00ffb8,#00ffaa,#00ff9b)"></i>
<i style="background:linear-gradient(90deg,#ff5a00,#ff8f00,#ffc200,#fff200,#deff00,#b2ff00,#89ff00,#61ff00,#3cff00,#1aff00,#00ff07,#00ff25,#00ff40,#00ff5a,#00ff71,#00ff86,#00ff99,#00ffa9,#00ffb8,#00ffc3,#00ffcd,#00ffd4,#00ffd9,#00ffdc,#00ffdd,#00ffdb,#00ffd7,#00ffd1,#00ffc8,#00ffbd,#00ffb0,#00ffa0)"></i>
<i style="background:linear-gradient(90deg,#ff5c00,#ff9100,#ffc400,#fff400,#dcff00,#b0ff00,#86ff00,#5fff00,#3aff00,#17ff00,#00ff09,#00ff28,#00ff44,#00ff5d,#00ff75,#00ff8a,#00ff9d,#00ffad,#00ffbb,#00ffc7,#00ffd1,#00ffd9,#00ffde,#00ffe1,#00ffe1,#00ffe0,#00ffdc,#00ffd6,#00ffcd,#00ffc2,#00ffb5,#00ffa6)"></i>
<i style="background:linear-gradient(90deg,#ff5d00,#ff9200,#ffc500,#fff600,#daff00,#aeff00,#84ff00,#5dff00,#37ff00,#14ff00,#00ff0c,#00ff2b,#00ff47,#00ff60,#00ff78,#00ff8d,#00ffa0,#00ffb1,#00ffbf,#00ffcc,#00ffd5,#00ffdd,#00ffe2,#00ffe5,#00ffe6,#00ffe5,#00ffe1,#00ffdb,#00ffd2,#00ffc8,#00ffbb,#00ffac)"></i>
<i style="background:linear-gradient(90deg,#ff5f00,#ff9400,#ffc700,#fff800,#d8ff00,#acff00,#82ff00,#5aff00,#35ff00,#12ff00,#00ff0f,#00ff2e,#00ff4a,#00ff64,#00ff7b,#00ff91,#00ffa4,#00ffb5,#00ffc3,#00ffd0,#00ffda,#00ffe1,#00ffe7,#00ffea,#00ffeb,#00ffe9,#00ffe6,#00ffe0,#00ffd8,#00ffcd,#00ffc0,#00ffb1)"></i>
<i style="background:linear-gradient(90deg,#ff6000,#ff9600,#ffc900,#fffa00,#d6ff00,#a9ff00,#7fff00,#58ff00,#32ff00,#0fff00,#00ff12,#00ff31,#00ff4d,#00ff67,#00ff7f,#00ff94,#00ffa8,#00ffb9,#00ffc7,#00ffd4,#00ffde,#00ffe6,#00ffeb,#00ffef,#00fff0,#00ffee,#00ffeb,#00ffe5,#00ffdd,#00ffd3,#00ffc6,#00ffb7)"></i>
<i style="background:linear-gradient(90deg,#ff6200,#ff9700,#ffcb00,#fffc00,#d4ff00,#a7ff00,#7dff00,#55ff00,#30ff00,#0cff00,#00ff15,#00ff34,#00ff50,#00ff6a,#00ff82,#00ff98,#00ffab,#00ffbc,#00ffcb,#00ffd8,#00ffe2,#00ffea,#00fff0,#00fff3,#00fff4,#00fff3,#00fff0,#00ffea,#00ffe2,#00ffd8,#00ffcc,#00ffbd)"></i>
<i style="background:linear-gradient(90deg,#ff6300,#ff9900,#ffcc00,#fffe00,#d2ff00,#a5ff00,#7bff00,#53ff00,#2dff00,#0aff00,#00ff18,#00ff37,#00ff53,#00ff6e,#00ff86,#00ff9b,#00ffaf,#00ffc0,#00ffcf,#00ffdc,#00ffe6,#00ffee,#00fff4,#00fff8,#00fff9,#00fff8,#00fff5,#00ffef,#00ffe8,#00ffde,#00ffd1,#00ffc3)"></i>
<i style="background:linear-gradient(90deg,#ff6500,#ff9b00,#ffce00,#ffff00,#d0ff00,#a3ff00,#78ff00,#50ff00,#2aff00,#07ff00,#00ff1b,#00ff3a,#00ff56,#00ff71,#00ff89,#00ff9f,#00ffb3,#00ffc4,#00ffd3,#00ffe0,#00ffea,#00fff3,#00fff9,#00fffc,#00fffe,#00fffd,#00fffa,#00fff5,#00ffed,#00ffe3,#00ffd7,#00ffc8)"></i>
<i style="background:linear-gradient(90deg,#ff6600,#ff9c00,#ffd000,#fdff00,#cdff00,#a1ff00,#76ff00,#4eff00,#28ff00,#04ff00,#00ff1d,#00ff3d,#00ff5a,#00ff74,#00ff8c,#00ffa3,#00ffb6,#00ffc8,#00ffd7,#00ffe4,#00ffef,#00fff7,#00fffd,#00fdff,#00fbff,#00fcff,#00ffff,#00fffa,#00fff2,#00ffe8,#00ffdc,#00ffce)"></i>
<i style="background:linear-gradient(90deg,#ff6800,#ff9e00,#ffd200,#fbff00,#cbff00,#9eff00,#74ff00,#4bff00,#25ff00,#01ff00,#00ff20,#00ff40,#00ff5d,#00ff77,#00ff90,#00ffa6,#00ffba,#00ffcc,#00ffdb,#00ffe8,#00fff3,#00fffc,#00fcff,#00f8ff,#00f6ff,#00f7ff,#00faff,#00ffff,#00fff8,#00ffee,#00ffe2,#00ffd4)"></i>
<i style="background:linear-gradient(90deg,#ff6a00,#ffa000,#ffd400,#f9ff00,#c9ff00,#9cff00,#71ff00,#49ff00,#22ff00,#00ff02,#00ff23,#00ff43,#00ff60,#00ff7b,#00ff93,#00ffaa,#00ffbe,#00ffd0,#00ffdf,#00ffec,#00fff7,#00feff,#00f8ff,#00f3ff,#00f2ff,#00f2ff,#00f5ff,#00faff,#00fffd,#00fff3,#00ffe8,#00ffda)"></i>
<i style="background:linear-gradient(90deg,#ff6b00,#ffa200,#ffd600,#f7ff00,#c7ff00,#9aff00,#6fff00,#46ff00,#20ff00,#00ff04,#00ff26,#00ff46,#00ff63,#00ff7e,#00ff97,#00ffad,#00ffc2,#00ffd3,#00ffe3,#00fff1,#00fffc,#00faff,#00f3ff,#00efff,#00edff,#00edff,#00f0ff,#00f4ff,#00fcff,#00fff9,#00ffed,#00ffdf)"></i>
<i style="background:linear-gradient(90deg,#ff6d00,#ffa300,#ffd700,#f5ff00,#c5ff00,#98ff00,#6cff00,#44ff00,#1dff00,#00ff07,#00ff29,#00ff49,#00ff66,#00ff82,#00ff9a,#00ffb1,#00ffc5,#00ffd7,#00ffe7,#00fff5,#00feff,#00f5ff,#00eeff,#00eaff,#00e8ff,#00e8ff,#00ebff,#00efff,#00f6ff,#00ffff,#00fff3,#00ffe5)"></i>
<i style="background:linear-gradient(90deg,#ff6e00,#ffa500,#ffd900,#f3ff00,#c3ff00,#95ff00,#6aff00,#41ff00,#1aff00,#00ff0a,#00ff2c,#00ff4c,#00ff6a,#00ff85,#00ff9e,#00ffb5,#00ffc9,#00ffdb,#00ffeb,#00fff9,#00faff,#00f1ff,#00eaff,#00e5ff,#00e3ff,#00e3ff,#00e5ff,#00eaff,#00f1ff,#00faff,#00fff9,#00ffeb)"></i>
<i style="background:linear-gradient(90deg,#ff7000,#ffa700,#ffdb00,#f1ff00,#c1ff00,#93ff00,#68ff00,#3eff00,#18ff00,#00ff0d,#00ff2f,#00ff4f,#00ff6d,#00ff88,#00ffa1,#00ffb8,#00ffcd,#00ffdf,#00ffef,#00fffd,#00f5ff,#00ecff,#00e5ff,#00e1ff,#00deff,#00deff,#00e0ff,#00e5ff,#00ebff,#00f4ff,#00fffe,#00fff1)"></i>
<i style="background:linear-gradient(90deg,#ff7200,#ffa900,#ffdd00,#eeff00,#beff00,#91ff00,#65ff00,#3cff00,#15ff00,#00ff10,#00ff32,#00ff52,#00ff70,#00ff8c,#00ffa5,#00ffbc,#00ffd1,#00ffe3,#00fff3,#00fdff,#00f1ff,#00e8ff,#00e1ff,#00dcff,#00d9ff,#00d9ff,#00dbff,#00dfff,#00e6ff,#00efff,#00faff,#00fff7)"></i>
<i style="background:linear-gradient(90deg,#ff7300,#ffaa00,#ffdf00,#ecff00,#bcff00,#8eff00,#63ff00,#39ff00,#12ff00,#00ff13,#00ff35,#00ff55,#00ff73,#00ff8f,#00ffa9,#00ffc0,#00ffd5,#00ffe7,#00fff7,#00f8ff,#00edff,#00e3ff,#00dcff,#00d7ff,#00d4ff,#00d4ff,#00d6ff,#00daff,#00e0ff,#00e9ff,#00f4ff,#00fffd)"></i>
<i style="background:linear-gradient(90deg,#ff7500,#ffac00,#ffe100,#eaff00,#baff00,#8cff00,#60ff00,#37ff00,#0fff00,#00ff16,#00ff38,#00ff59,#00ff77,#00ff93,#00ffac,#00ffc3,#00ffd8,#00ffeb,#00fffc,#00f4ff,#00e8ff,#00dfff,#00d7ff,#00d2ff,#00cfff,#00cfff,#00d1ff,#00d5ff,#00dbff,#00e4ff,#00eeff,#00fcff)"></i>
<i style="background:linear-gradient(90deg,#ff7700,#ffae00,#ffe300,#e8ff00,#b8ff00,#8aff00,#5eff00,#34ff00,#0dff00,#00ff18,#00ff3b,#00ff5c,#00ff7a,#00ff96,#00ffb0,#00ffc7,#00ffdc,#00ffef,#00feff,#00f0ff,#00e4ff,#00daff,#00d3ff,#00cdff,#00cbff,#00caff,#00cbff,#00cfff,#00d6ff,#00deff,#00e9ff,#00f6ff)"></i>
<i style="background:linear-gradient(90deg,#ff7800,#ffb000,#ffe500,#e6ff00,#b5ff00,#87ff00,#5bff00,#31ff00,#0aff00,#00ff1b,#00ff3e,#00ff5f,#00ff7d,#00ff99,#00ffb3,#00ffcb,#00ffe0,#00fff3,#00faff,#00ecff,#00e0ff,#00d6ff,#00ceff,#00c9ff,#00c6ff,#00c5ff,#00c6ff,#00caff,#00d0ff,#00d8ff,#00e3ff,#00f0ff)"></i>
<i style="background:linear-gradient(90deg,#ff7a00,#ffb200,#ffe700,#e4ff00,#b3ff00,#85ff00,#59ff00,#2fff00,#07ff00,#00ff1e,#00ff41,#00ff62,#00ff81,#00ff9d,#00ffb7,#00ffcf,#00ffe4,#00fff7,#00f6ff,#00e7ff,#00dbff,#00d1ff,#00c9ff,#00c4ff,#00c1ff,#00c0ff,#00c1ff,#00c5ff,#00cbff,#00d3ff,#00ddff,#00eaff)"></i>
<i style="background:linear-gradient(90deg,#ff7c00,#ffb400,#ffe900,#e2ff00,#b1ff00,#82ff00,#56ff00,#2cff00,#04ff00,#00ff21,#00ff44,#00ff65,#00ff84,#00ffa0,#00ffbb,#00ffd2,#00ffe8,#00fffb,#00f2ff,#00e3ff,#00d7ff,#00ccff,#00c5ff,#00bfff,#00bcff,#00bbff,#00bcff,#00bfff,#00c5ff,#00cdff,#00d7ff,#00e4ff)"></i>
<i style="background:linear-gradient(90deg,#ff7e00,#ffb500,#ffeb00,#e0ff00,#afff00,#80ff00,#53ff00,#29ff00,#01ff00,#00ff24,#00ff48,#00ff69,#00ff87,#00ffa4,#00ffbe,#00ffd6,#00ffec,#00ffff,#00eeff,#00dfff,#00d2ff,#00c8ff,#00c0ff,#00baff,#00b7ff,#00b5ff,#00b7ff,#00baff,#00bfff,#00c7ff,#00d2ff,#00deff)"></i>
<i style="background:linear-gradient(90deg,#ff7f00,#ffb700,#ffed00,#deff00,#acff00,#7eff00,#51ff00,#27ff00,#00ff01,#00ff27,#00ff4b,#00ff6c,#00ff8b,#00ffa7,#00ffc2,#00ffda,#00fff0,#00fbff,#00e9ff,#00daff,#00ceff,#00c3ff,#00bbff,#00b5ff,#00b2ff,#00b0ff,#00b1ff,#00b4ff,#00baff,#00c2ff,#00ccff,#00d8ff)"></i>
<i style="background:linear-gradient(90deg,#ff8100,#ffb900,#ffef00,#dbff00,#aaff00,#7bff00,#4eff00,#24ff00,#00ff04,#00ff2a,#00ff4e,#00ff6f,#00ff8e,#00ffab,#00ffc5,#00ffde,#00fff4,#00f7ff,#00e5ff,#00d6ff,#00c9ff,#00bfff,#00b6ff,#00b0ff,#00adff,#00abff,#00acff,#00afff,#00b4ff,#00bcff,#00c6ff,#00d2ff)"></i>
<i style="background:linear-gradient(90deg,#ff8300,#ffbb00,#fff100,#d9ff00,#a8ff00,#79ff00,#4cff00,#21ff00,#00ff07,#00ff2d,#00ff51,#00ff72,#00ff92,#00ffaf,#00ffc9,#00ffe2,#00fff8,#00f3ff,#00e1ff,#00d2ff,#00c5ff,#00baff,#00b2ff,#00abff,#00a8ff,#00a6ff,#00a7ff,#00aaff,#00afff,#00b6ff,#00c0ff,#00ccff)"></i>
<i style="background:linear-gradient(90deg,#ff8500,#ffbd00,#fff300,#d7ff00,#a5ff00,#76ff00,#49ff00,#1eff00,#00ff0a,#00ff30,#00ff54,#00ff76,#00ff95,#00ffb2,#00ffcd,#00ffe5,#00fffc,#00eeff,#00ddff,#00cdff,#00c0ff,#00b5ff,#00adff,#00a7ff,#00a3ff,#00a1ff,#00a1ff,#00a4ff,#00a9ff,#00b1ff,#00baff,#00c6ff)"></i>
<i style="background:linear-gradient(90deg,#ff8700,#ffbf00,#fff500,#d5ff00,#a3ff00,#74ff00,#47ff00,#1cff00,#00ff0d,#00ff33,#00ff57,#00ff79,#00ff98,#00ffb6,#00ffd1,#00ffe9,#00feff,#00eaff,#00d9ff,#00c9ff,#00bcff,#00b1ff,#00a8ff,#00a2ff,#009dff,#009cff,#009cff,#009fff,#00a4ff,#00abff,#00b4ff,#00c0ff)"></i>
<i style="background:linear-gradient(90deg,#ff8800,#ffc100,#fff700,#d2ff00,#a1ff00,#71ff00,#44ff00,#19ff00,#00ff10,#00ff36,#00ff5a,#00ff7c,#00ff9c,#00ffb9,#00ffd4,#00ffed,#00faff,#00e6ff,#00d4ff,#00c5ff,#00b7ff,#00acff,#00a3ff,#009dff,#0098ff,#0096ff,#0097ff,#0099ff,#009eff,#00a5ff,#00aeff,#00baff)"></i>
<i style="background:linear-gradient(90deg,#ff8a00,#ffc300,#fffa00,#d0ff00,#9eff00,#6fff00,#41ff00,#16ff00,#00ff13,#00ff39,#00ff5e,#00ff80,#00ff9f,#00ffbd,#00ffd8,#00fff1,#00f6ff,#00e2ff,#00d0ff,#00c0ff,#00b3ff,#00a7ff,#009eff,#0098ff,#0093ff,#0091ff,#0091ff,#0094ff,#0098ff,#009fff,#00a9ff,#00b4ff)"></i>
<i style="background:linear-gradient(90deg,#ff8c00,#ffc500,#fffc00,#ceff00,#9cff00,#6cff00,#3fff00,#13ff00,#00ff16,#00ff3c,#00ff61,#00ff83,#00ffa3,#00ffc0,#00ffdc,#00fff5,#00f2ff,#00deff,#00ccff,#00bcff,#00aeff,#00a3ff,#009aff,#0093ff,#008eff,#008cff,#008cff,#008eff,#0093ff,#009aff,#00a3ff,#00aeff)"></i>
<i style="background:linear-gradient(90deg,#ff8e00,#ffc700,#fffe00,#ccff00,#99ff00,#6aff00,#3cff00,#10ff00,#00ff19,#00ff3f,#00ff64,#00ff86,#00ffa6,#00ffc4,#00ffe0,#00fff9,#00eeff,#00daff,#00c7ff,#00b7ff,#00aaff,#009eff,#0095ff,#008eff,#0089ff,#0087ff,#0087ff,#0089ff,#008dff,#0094ff,#009dff,#00a8ff)"></i>
<i style="background:linear-gradient(90deg,#ff9000,#ffc900,#feff00,#c9ff00,#97ff00,#67ff00,#39ff00,#0eff00,#00ff1c,#00ff43,#00ff67,#00ff8a,#00ffaa,#00ffc8,#00ffe3,#00fffd,#00eaff,#00d6ff,#00c3ff,#00b3ff,#00a5ff,#0099ff,#0090ff,#0089ff,#0084ff,#0081ff,#0081ff,#0083ff,#0087ff,#008eff,#0097ff,#00a2ff)"></i>
<i style="background:linear-gradient(90deg,#ff9200,#ffcb00,#fcff00,#c7ff00,#95ff00,#64ff00,#36ff00,#0bff00,#00ff1f,#00ff46,#00ff6b,#00ff8d,#00ffad,#00ffcb,#00ffe7,#00fdff,#00e6ff,#00d1ff,#00bfff,#00aeff,#00a0ff,#0095ff,#008bff,#0084ff,#007fff,#007cff,#007cff,#007eff,#0082ff,#0088ff,#0091ff,#009cff)"></i>
<i style="background:linear-gradient(90deg,#ff9400,#ffcd00,#faff00,#c5ff00,#92ff00,#62ff00,#34ff00,#08ff00,#00ff22,#00ff49,#00ff6e,#00ff90,#00ffb1,#00ffcf,#00ffeb,#00faff,#00e2ff,#00cdff,#00baff,#00aaff,#009cff,#0090ff,#0086ff,#007fff,#007aff,#0077ff,#0076ff,#0078ff,#007cff,#0082ff,#008bff,#0096ff)"></i>
<i style="background:linear-gradient(90deg,#ff9600,#ffcf00,#f8ff00,#c2ff00,#90ff00,#5fff00,#31ff00,#05ff00,#00ff25,#00ff4c,#00ff71,#00ff94,#00ffb4,#00ffd3,#00ffef,#00f6ff,#00deff,#00c9ff,#00b6ff,#00a5ff,#0097ff,#008bff,#0081ff,#007aff,#0075ff,#0072ff,#0071ff,#0072ff,#0076ff,#007cff,#0085ff,#0090ff)"></i>
<i style="background:linear-gradient(90deg,#ff9700,#ffd100,#f5ff00,#c0ff00,#8dff00,#5dff00,#2eff00,#02ff00,#00ff28,#00ff4f,#00ff74,#00ff97,#00ffb8,#00ffd6,#00fff3,#00f2ff,#00daff,#00c5ff,#00b2ff,#00a1ff,#0092ff,#0086ff,#007cff,#0075ff,#006fff,#006cff,#006bff,#006dff,#0071ff,#0077ff,#007fff,#0089ff)"></i>
<i style="background:linear-gradient(90deg,#ff9900,#ffd300,#f3ff00,#beff00,#8bff00,#5aff00,#2cff00,#00ff01,#00ff2b,#00ff52,#00ff78,#00ff9b,#00ffbc,#00ffda,#00fff6,#00eeff,#00d6ff,#00c0ff,#00adff,#009cff,#008eff,#0081ff,#0077ff,#0070ff,#006aff,#0067ff,#0066ff,#0067ff,#006bff,#0071ff,#0079ff,#0083ff)"></i>
<i style="background:linear-gradient(90deg,#ff9b00,#ffd500,#f1ff00,#bbff00,#88ff00,#57ff00,#29ff00,#00ff04,#00ff2e,#00ff55,#00ff7b,#00ff9e,#00ffbf,#00ffde,#00fffa,#00eaff,#00d2ff,#00bcff,#00a9ff,#0098ff,#0089ff,#007dff,#0072ff,#006bff,#0065ff,#0062ff,#0060ff,#0062ff,#0065ff,#006bff,#0073ff,#007dff)"></i>
</div>
<div class="g" style="left:431.6px;top:624.5px;width:239px;height:219px">
<i style="background:linear-gradient(90deg,#00bcff,#00d8ff,#00f4ff,#00ffee,#00ffd3,#00ffb8,#00ff9d,#00ff82,#00ff68,#00ff4e,#00ff34,#00ff1b,#00ff02,#17ff00,#2fff00,#48ff00,#60ff00,#77ff00,#8fff00,#a6ff00,#bcff00,#d3ff00,#e9ff00,#ffff00,#ffe900,#ffd400,#ffbf00,#ffaa00,#ff9600,#ff8200,#ff6e00,#ff5a00)"></i>
<i style="background:linear-gradient(90deg,#00bbff,#00d8ff,#00f3ff,#00ffef,#00ffd4,#00ffb9,#00ff9e,#00ff84,#00ff69,#00ff50,#00ff36,#00ff1d,#00ff04,#15ff00,#2dff00,#45ff00,#5dff00,#75ff00,#8cff00,#a3ff00,#b9ff00,#d0ff00,#e6ff00,#fbff00,#ffed00,#ffd800,#ffc300,#ffae00,#ff9a00,#ff8600,#ff7200,#ff5f00)"></i>
<i style="background:linear-gradient(90deg,#00bbff,#00d7ff,#00f3ff,#00fff0,#00ffd4,#00ffba,#00ff9f,#00ff85,#00ff6b,#00ff51,#00ff38,#00ff1f,#00ff06,#13ff00,#2bff00,#43ff00,#5bff00,#72ff00,#89ff00,#a0ff00,#b6ff00,#ccff00,#e2ff00,#f8ff00,#fff100,#ffdc00,#ffc700,#ffb300,#ff9e00,#ff8a00,#ff7700,#ff6400)"></i>
<i style="background:linear-gradient(90deg,#00bbff,#00d7ff,#00f2ff,#00fff0,#00ffd5,#00ffbb,#00ffa0,#00ff86,#00ff6c,#00ff53,#00ff39,#00ff20,#00ff08,#11ff00,#29ff00,#40ff00,#58ff00,#6fff00,#86ff00,#9dff00,#b3ff00,#c9ff00,#dfff00,#f4ff00,#fff400,#ffe000,#ffcb00,#ffb700,#ffa300,#ff8f00,#ff7b00,#ff6800)"></i>
<i style="background:linear-gradient(90deg,#00bbff,#00d6ff,#00f2ff,#00fff1,#00ffd6,#00ffbc,#00ffa1,#00ff87,#00ff6e,#00ff54,#00ff3b,#00ff22,#00ff0a,#0eff00,#26ff00,#3eff00,#55ff00,#6cff00,#83ff00,#9aff00,#b0ff00,#c6ff00,#dbff00,#f1ff00,#fff800,#ffe300,#ffcf00,#ffbb00,#ffa700,#ff9300,#ff8000,#ff6d00)"></i>
<i style="background:linear-gradient(90deg,#00baff,#00d6ff,#00f1ff,#00fff2,#00ffd7,#00ffbd,#00ffa2,#00ff89,#00ff6f,#00ff56,#00ff3d,#00ff24,#00ff0c,#0cff00,#24ff00,#3cff00,#53ff00,#6aff00,#80ff00,#97ff00,#adff00,#c3ff00,#d8ff00,#edff00,#fffc00,#ffe700,#ffd300,#ffbf00,#ffab00,#ff9800,#ff8500,#ff7200)"></i>
<i style="background:linear-gradient(90deg,#00baff,#00d6ff,#00f1ff,#00fff2,#00ffd8,#00ffbe,#00ffa4,#00ff8a,#00ff71,#00ff57,#00ff3f,#00ff26,#00ff0e,#0aff00,#22ff00,#39ff00,#50ff00,#67ff00,#7eff00,#94ff00,#aaff00,#bfff00,#d5ff00,#eaff00,#feff00,#ffeb00,#ffd700,#ffc300,#ffaf00,#ff9c00,#ff8900,#ff7600)"></i>
<i style="background:linear-gradient(90deg,#00baff,#00d5ff,#00f0ff,#00fff3,#00ffd9,#00ffbf,#00ffa5,#00ff8b,#00ff72,#00ff59,#00ff40,#00ff28,#00ff10,#08ff00,#1fff00,#37ff00,#4eff00,#64ff00,#7bff00,#91ff00,#a6ff00,#bcff00,#d1ff00,#e6ff00,#fbff00,#ffef00,#ffdb00,#ffc700,#ffb400,#ffa100,#ff8e00,#ff7b00)"></i>
<i style="background:linear-gradient(90deg,#00b9ff,#00d5ff,#00efff,#00fff4,#00ffda,#00ffc0,#00ffa6,#00ff8d,#00ff73,#00ff5b,#00ff42,#00ff2a,#00ff12,#06ff00,#1dff00,#34ff00,#4bff00,#62ff00,#78ff00,#8eff00,#a3ff00,#b9ff00,#ceff00,#e2ff00,#f7ff00,#fff300,#ffdf00,#ffcb00,#ffb800,#ffa500,#ff9200,#ff8000)"></i>
<i style="background:linear-gradient(90deg,#00b9ff,#00d4ff,#00efff,#00fff5,#00ffdb,#00ffc1,#00ffa7,#00ff8e,#00ff75,#00ff5c,#00ff44,#00ff2c,#00ff14,#04ff00,#1bff00,#32ff00,#48ff00,#5fff00,#75ff00,#8bff00,#a0ff00,#b5ff00,#caff00,#dfff00,#f3ff00,#fff700,#ffe300,#ffd000,#ffbc00,#ffaa00,#ff9700,#ff8500)"></i>
<i style="background:linear-gradient(90deg,#00b9ff,#00d4ff,#00eeff,#00fff6,#00ffdc,#00ffc2,#00ffa8,#00ff8f,#00ff77,#00ff5e,#00ff46,#00ff2e,#00ff16,#01ff00,#18ff00,#2fff00,#46ff00,#5cff00,#72ff00,#87ff00,#9dff00,#b2ff00,#c7ff00,#dbff00,#efff00,#fffb00,#ffe700,#ffd400,#ffc100,#ffae00,#ff9c00,#ff8a00)"></i>
<i style="background:linear-gradient(90deg,#00b8ff,#00d3ff,#00edff,#00fff6,#00ffdd,#00ffc3,#00ffaa,#00ff91,#00ff78,#00ff60,#00ff48,#00ff30,#00ff18,#00ff01,#16ff00,#2dff00,#43ff00,#59ff00,#6fff00,#84ff00,#9aff00,#afff00,#c3ff00,#d7ff00,#ecff00,#ffff00,#ffeb00,#ffd800,#ffc500,#ffb300,#ffa000,#ff8e00)"></i>
<i style="background:linear-gradient(90deg,#00b8ff,#00d2ff,#00edff,#00fff7,#00ffde,#00ffc4,#00ffab,#00ff92,#00ff7a,#00ff61,#00ff49,#00ff32,#00ff1a,#00ff03,#14ff00,#2aff00,#40ff00,#56ff00,#6cff00,#81ff00,#96ff00,#abff00,#c0ff00,#d4ff00,#e8ff00,#fbff00,#ffef00,#ffdc00,#ffca00,#ffb700,#ffa500,#ff9300)"></i>
<i style="background:linear-gradient(90deg,#00b7ff,#00d2ff,#00ecff,#00fff8,#00ffdf,#00ffc5,#00ffac,#00ff94,#00ff7b,#00ff63,#00ff4b,#00ff34,#00ff1c,#00ff05,#11ff00,#28ff00,#3eff00,#53ff00,#69ff00,#7eff00,#93ff00,#a8ff00,#bcff00,#d0ff00,#e4ff00,#f7ff00,#fff400,#ffe100,#ffce00,#ffbc00,#ffaa00,#ff9800)"></i>
<i style="background:linear-gradient(90deg,#00b7ff,#00d1ff,#00ebff,#00fff9,#00ffe0,#00ffc6,#00ffae,#00ff95,#00ff7d,#00ff65,#00ff4d,#00ff36,#00ff1f,#00ff08,#0fff00,#25ff00,#3bff00,#51ff00,#66ff00,#7bff00,#90ff00,#a4ff00,#b8ff00,#ccff00,#e0ff00,#f3ff00,#fff800,#ffe500,#ffd200,#ffc000,#ffae00,#ff9d00)"></i>
<i style="background:linear-gradient(90deg,#00b7ff,#00d1ff,#00ebff,#00fffa,#00ffe1,#00ffc8,#00ffaf,#00ff96,#00ff7e,#00ff67,#00ff4f,#00ff38,#00ff21,#00ff0a,#0cff00,#22ff00,#38ff00,#4eff00,#63ff00,#78ff00,#8cff00,#a1ff00,#b5ff00,#c9ff00,#dcff00,#efff00,#fffc00,#ffe900,#ffd700,#ffc500,#ffb300,#ffa200)"></i>
<i style="background:linear-gradient(90deg,#00b6ff,#00d0ff,#00eaff,#00fffb,#00ffe2,#00ffc9,#00ffb0,#00ff98,#00ff80,#00ff68,#00ff51,#00ff3a,#00ff23,#00ff0c,#0aff00,#20ff00,#35ff00,#4bff00,#60ff00,#75ff00,#89ff00,#9dff00,#b1ff00,#c5ff00,#d8ff00,#ebff00,#feff00,#ffee00,#ffdb00,#ffc900,#ffb800,#ffa700)"></i>
<i style="background:linear-gradient(90deg,#00b6ff,#00cfff,#00e9ff,#00fffc,#00ffe3,#00ffca,#00ffb2,#00ff99,#00ff82,#00ff6a,#00ff53,#00ff3c,#00ff25,#00ff0f,#07ff00,#1dff00,#33ff00,#48ff00,#5dff00,#71ff00,#86ff00,#9aff00,#aeff00,#c1ff00,#d4ff00,#e7ff00,#faff00,#fff200,#ffe000,#ffce00,#ffbd00,#ffac00)"></i>
<i style="background:linear-gradient(90deg,#00b5ff,#00cfff,#00e8ff,#00fffd,#00ffe4,#00ffcb,#00ffb3,#00ff9b,#00ff83,#00ff6c,#00ff55,#00ff3e,#00ff27,#00ff11,#05ff00,#1bff00,#30ff00,#45ff00,#5aff00,#6eff00,#82ff00,#96ff00,#aaff00,#bdff00,#d0ff00,#e3ff00,#f6ff00,#fff600,#ffe400,#ffd300,#ffc100,#ffb000)"></i>
<i style="background:linear-gradient(90deg,#00b5ff,#00ceff,#00e7ff,#00fffe,#00ffe5,#00ffcc,#00ffb4,#00ff9c,#00ff85,#00ff6e,#00ff57,#00ff40,#00ff2a,#00ff13,#02ff00,#18ff00,#2dff00,#42ff00,#57ff00,#6bff00,#7fff00,#93ff00,#a6ff00,#baff00,#ccff00,#dfff00,#f1ff00,#fffb00,#ffe900,#ffd700,#ffc600,#ffb500)"></i>
<i style="background:linear-gradient(90deg,#00b4ff,#00cdff,#00e7ff,#00ffff,#00ffe6,#00ffce,#00ffb6,#00ff9e,#00ff87,#00ff6f,#00ff59,#00ff42,#00ff2c,#00ff16,#00ff00,#15ff00,#2aff00,#3fff00,#54ff00,#68ff00,#7cff00,#8fff00,#a3ff00,#b6ff00,#c8ff00,#dbff00,#edff00,#ffff00,#ffed00,#ffdc00,#ffcb00,#ffba00)"></i>
<i style="background:linear-gradient(90deg,#00b3ff,#00cdff,#00e6ff,#00ffff,#00ffe7,#00ffcf,#00ffb7,#00ffa0,#00ff88,#00ff71,#00ff5b,#00ff44,#00ff2e,#00ff18,#00ff03,#12ff00,#27ff00,#3cff00,#50ff00,#65ff00,#78ff00,#8cff00,#9fff00,#b2ff00,#c5ff00,#d7ff00,#e9ff00,#fbff00,#fff200,#ffe100,#ffd000,#ffbf00)"></i>
<i style="background:linear-gradient(90deg,#00b3ff,#00ccff,#00e5ff,#00feff,#00ffe8,#00ffd0,#00ffb9,#00ffa1,#00ff8a,#00ff73,#00ff5d,#00ff46,#00ff30,#00ff1b,#00ff05,#10ff00,#25ff00,#39ff00,#4dff00,#61ff00,#75ff00,#88ff00,#9bff00,#aeff00,#c1ff00,#d3ff00,#e5ff00,#f6ff00,#fff600,#ffe500,#ffd500,#ffc400)"></i>
<i style="background:linear-gradient(90deg,#00b2ff,#00cbff,#00e4ff,#00fcff,#00ffe9,#00ffd2,#00ffba,#00ffa3,#00ff8c,#00ff75,#00ff5f,#00ff48,#00ff33,#00ff1d,#00ff08,#0dff00,#22ff00,#36ff00,#4aff00,#5eff00,#71ff00,#85ff00,#98ff00,#aaff00,#bdff00,#cfff00,#e0ff00,#f2ff00,#fffb00,#ffea00,#ffda00,#ffc900)"></i>
<i style="background:linear-gradient(90deg,#00b2ff,#00cbff,#00e3ff,#00fbff,#00ffeb,#00ffd3,#00ffbb,#00ffa4,#00ff8d,#00ff77,#00ff61,#00ff4b,#00ff35,#00ff20,#00ff0a,#0aff00,#1fff00,#33ff00,#47ff00,#5bff00,#6eff00,#81ff00,#94ff00,#a6ff00,#b8ff00,#caff00,#dcff00,#edff00,#feff00,#ffef00,#ffde00,#ffce00)"></i>
<i style="background:linear-gradient(90deg,#00b1ff,#00caff,#00e2ff,#00faff,#00ffec,#00ffd4,#00ffbd,#00ffa6,#00ff8f,#00ff79,#00ff63,#00ff4d,#00ff37,#00ff22,#00ff0d,#08ff00,#1cff00,#30ff00,#44ff00,#57ff00,#6bff00,#7dff00,#90ff00,#a2ff00,#b4ff00,#c6ff00,#d8ff00,#e9ff00,#faff00,#fff400,#ffe300,#ffd300)"></i>
<i style="background:linear-gradient(90deg,#00b0ff,#00c9ff,#00e1ff,#00f9ff,#00ffed,#00ffd6,#00ffbe,#00ffa8,#00ff91,#00ff7b,#00ff65,#00ff4f,#00ff3a,#00ff25,#00ff10,#05ff00,#19ff00,#2dff00,#41ff00,#54ff00,#67ff00,#7aff00,#8cff00,#9eff00,#b0ff00,#c2ff00,#d3ff00,#e4ff00,#f5ff00,#fff800,#ffe800,#ffd800)"></i>
<i style="background:linear-gradient(90deg,#00b0ff,#00c8ff,#00e0ff,#00f8ff,#00ffee,#00ffd7,#00ffc0,#00ffa9,#00ff93,#00ff7d,#00ff67,#00ff51,#00ff3c,#00ff27,#00ff12,#02ff00,#16ff00,#2aff00,#3dff00,#51ff00,#64ff00,#76ff00,#89ff00,#9bff00,#acff00,#beff00,#cfff00,#e0ff00,#f0ff00,#fffd00,#ffed00,#ffdd00)"></i>
<i style="background:linear-gradient(90deg,#00afff,#00c7ff,#00dfff,#00f7ff,#00ffef,#00ffd8,#00ffc1,#00ffab,#00ff95,#00ff7f,#00ff69,#00ff53,#00ff3e,#00ff2a,#00ff15,#00ff01,#13ff00,#27ff00,#3aff00,#4dff00,#60ff00,#73ff00,#85ff00,#97ff00,#a8ff00,#baff00,#cbff00,#dbff00,#ecff00,#fcff00,#fff200,#ffe300)"></i>
<i style="background:linear-gradient(90deg,#00aeff,#00c7ff,#00deff,#00f6ff,#00fff1,#00ffda,#00ffc3,#00ffad,#00ff96,#00ff81,#00ff6b,#00ff56,#00ff41,#00ff2c,#00ff18,#00ff04,#10ff00,#24ff00,#37ff00,#4aff00,#5cff00,#6fff00,#81ff00,#93ff00,#a4ff00,#b5ff00,#c6ff00,#d7ff00,#e7ff00,#f7ff00,#fff700,#ffe800)"></i>
<i style="background:linear-gradient(90deg,#00aeff,#00c6ff,#00deff,#00f5ff,#00fff2,#00ffdb,#00ffc4,#00ffae,#00ff98,#00ff83,#00ff6d,#00ff58,#00ff43,#00ff2f,#00ff1a,#00ff06,#0dff00,#21ff00,#34ff00,#46ff00,#59ff00,#6bff00,#7dff00,#8fff00,#a0ff00,#b1ff00,#c2ff00,#d2ff00,#e2ff00,#f2ff00,#fffc00,#ffed00)"></i>
<i style="background:linear-gradient(90deg,#00adff,#00c5ff,#00ddff,#00f4ff,#00fff3,#00ffdc,#00ffc6,#00ffb0,#00ff9a,#00ff85,#00ff6f,#00ff5a,#00ff46,#00ff31,#00ff1d,#00ff09,#0aff00,#1dff00,#30ff00,#43ff00,#55ff00,#67ff00,#79ff00,#8bff00,#9cff00,#adff00,#bdff00,#ceff00,#deff00,#edff00,#fdff00,#fff200)"></i>
<i style="background:linear-gradient(90deg,#00acff,#00c4ff,#00dbff,#00f3ff,#00fff5,#00ffde,#00ffc8,#00ffb2,#00ff9c,#00ff87,#00ff71,#00ff5d,#00ff48,#00ff34,#00ff20,#00ff0c,#07ff00,#1aff00,#2dff00,#40ff00,#52ff00,#64ff00,#75ff00,#87ff00,#98ff00,#a8ff00,#b9ff00,#c9ff00,#d9ff00,#e9ff00,#f8ff00,#fff700)"></i>
<i style="background:linear-gradient(90deg,#00acff,#00c3ff,#00daff,#00f1ff,#00fff6,#00ffdf,#00ffc9,#00ffb3,#00ff9e,#00ff89,#00ff74,#00ff5f,#00ff4b,#00ff36,#00ff23,#00ff0f,#04ff00,#17ff00,#2aff00,#3cff00,#4eff00,#60ff00,#71ff00,#83ff00,#94ff00,#a4ff00,#b4ff00,#c5ff00,#d4ff00,#e4ff00,#f3ff00,#fffc00)"></i>
<i style="background:linear-gradient(90deg,#00abff,#00c2ff,#00d9ff,#00f0ff,#00fff7,#00ffe1,#00ffcb,#00ffb5,#00ffa0,#00ff8b,#00ff76,#00ff61,#00ff4d,#00ff39,#00ff25,#00ff12,#01ff00,#14ff00,#26ff00,#39ff00,#4bff00,#5cff00,#6eff00,#7fff00,#8fff00,#a0ff00,#b0ff00,#c0ff00,#d0ff00,#dfff00,#eeff00,#fdff00)"></i>
<i style="background:linear-gradient(90deg,#00aaff,#00c1ff,#00d8ff,#00efff,#00fff9,#00ffe2,#00ffcd,#00ffb7,#00ffa2,#00ff8d,#00ff78,#00ff64,#00ff4f,#00ff3c,#00ff28,#00ff15,#00ff02,#11ff00,#23ff00,#35ff00,#47ff00,#58ff00,#6aff00,#7bff00,#8bff00,#9cff00,#acff00,#bbff00,#cbff00,#daff00,#e9ff00,#f7ff00)"></i>
<i style="background:linear-gradient(90deg,#00a9ff,#00c0ff,#00d7ff,#00eeff,#00fffa,#00ffe4,#00ffce,#00ffb9,#00ffa4,#00ff8f,#00ff7a,#00ff66,#00ff52,#00ff3e,#00ff2b,#00ff18,#00ff05,#0dff00,#20ff00,#32ff00,#43ff00,#55ff00,#66ff00,#76ff00,#87ff00,#97ff00,#a7ff00,#b7ff00,#c6ff00,#d5ff00,#e4ff00,#f2ff00)"></i>
<i style="background:linear-gradient(90deg,#00a8ff,#00bfff,#00d6ff,#00edff,#00fffb,#00ffe5,#00ffd0,#00ffbb,#00ffa6,#00ff91,#00ff7c,#00ff68,#00ff55,#00ff41,#00ff2e,#00ff1b,#00ff08,#0aff00,#1cff00,#2eff00,#40ff00,#51ff00,#62ff00,#72ff00,#83ff00,#93ff00,#a3ff00,#b2ff00,#c1ff00,#d0ff00,#dfff00,#edff00)"></i>
<i style="background:linear-gradient(90deg,#00a8ff,#00beff,#00d5ff,#00ebff,#00fffd,#00ffe7,#00ffd2,#00ffbc,#00ffa8,#00ff93,#00ff7f,#00ff6b,#00ff57,#00ff44,#00ff31,#00ff1e,#00ff0b,#07ff00,#19ff00,#2bff00,#3cff00,#4dff00,#5eff00,#6eff00,#7eff00,#8eff00,#9eff00,#adff00,#bcff00,#cbff00,#daff00,#e8ff00)"></i>
<i style="background:linear-gradient(90deg,#00a7ff,#00bdff,#00d4ff,#00eaff,#00fffe,#00ffe8,#00ffd3,#00ffbe,#00ffaa,#00ff95,#00ff81,#00ff6d,#00ff5a,#00ff46,#00ff33,#00ff21,#00ff0e,#04ff00,#16ff00,#27ff00,#38ff00,#49ff00,#5aff00,#6aff00,#7aff00,#8aff00,#99ff00,#a9ff00,#b8ff00,#c6ff00,#d4ff00,#e2ff00)"></i>
<i style="background:linear-gradient(90deg,#00a6ff,#00bcff,#00d3ff,#00e9ff,#00ffff,#00ffea,#00ffd5,#00ffc0,#00ffac,#00ff97,#00ff83,#00ff70,#00ff5c,#00ff49,#00ff36,#00ff24,#00ff11,#00ff00,#12ff00,#23ff00,#35ff00,#45ff00,#56ff00,#66ff00,#76ff00,#86ff00,#95ff00,#a4ff00,#b3ff00,#c1ff00,#cfff00,#ddff00)"></i>
<i style="background:linear-gradient(90deg,#00a5ff,#00bbff,#00d2ff,#00e7ff,#00fdff,#00ffec,#00ffd7,#00ffc2,#00ffae,#00ff99,#00ff86,#00ff72,#00ff5f,#00ff4c,#00ff39,#00ff27,#00ff15,#00ff03,#0fff00,#20ff00,#31ff00,#41ff00,#52ff00,#62ff00,#72ff00,#81ff00,#90ff00,#9fff00,#aeff00,#bcff00,#caff00,#d8ff00)"></i>
<i style="background:linear-gradient(90deg,#00a4ff,#00baff,#00d0ff,#00e6ff,#00fcff,#00ffed,#00ffd8,#00ffc4,#00ffb0,#00ff9c,#00ff88,#00ff74,#00ff61,#00ff4f,#00ff3c,#00ff2a,#00ff18,#00ff06,#0bff00,#1cff00,#2dff00,#3eff00,#4eff00,#5eff00,#6dff00,#7dff00,#8cff00,#9aff00,#a9ff00,#b7ff00,#c5ff00,#d3ff00)"></i>
<i style="background:linear-gradient(90deg,#00a3ff,#00b9ff,#00cfff,#00e5ff,#00faff,#00ffef,#00ffda,#00ffc6,#00ffb2,#00ff9e,#00ff8a,#00ff77,#00ff64,#00ff51,#00ff3f,#00ff2d,#00ff1b,#00ff09,#08ff00,#19ff00,#29ff00,#3aff00,#4aff00,#59ff00,#69ff00,#78ff00,#87ff00,#96ff00,#a4ff00,#b2ff00,#c0ff00,#cdff00)"></i>
<i style="background:linear-gradient(90deg,#00a2ff,#00b8ff,#00ceff,#00e3ff,#00f9ff,#00fff1,#00ffdc,#00ffc8,#00ffb4,#00ffa0,#00ff8d,#00ff79,#00ff67,#00ff54,#00ff42,#00ff30,#00ff1e,#00ff0d,#04ff00,#15ff00,#26ff00,#36ff00,#46ff00,#55ff00,#65ff00,#74ff00,#82ff00,#91ff00,#9fff00,#adff00,#bbff00,#c8ff00)"></i>
<i style="background:linear-gradient(90deg,#00a1ff,#00b7ff,#00cdff,#00e2ff,#00f7ff,#00fff2,#00ffde,#00ffca,#00ffb6,#00ffa2,#00ff8f,#00ff7c,#00ff69,#00ff57,#00ff45,#00ff33,#00ff21,#00ff10,#01ff00,#11ff00,#22ff00,#32ff00,#42ff00,#51ff00,#60ff00,#6fff00,#7eff00,#8cff00,#9aff00,#a8ff00,#b5ff00,#c3ff00)"></i>
<i style="background:linear-gradient(90deg,#00a0ff,#00b6ff,#00ccff,#00e1ff,#00f6ff,#00fff4,#00ffe0,#00ffcc,#00ffb8,#00ffa4,#00ff91,#00ff7e,#00ff6c,#00ff5a,#00ff48,#00ff36,#00ff25,#00ff14,#00ff03,#0eff00,#1eff00,#2eff00,#3dff00,#4dff00,#5cff00,#6bff00,#79ff00,#87ff00,#95ff00,#a3ff00,#b0ff00,#bdff00)"></i>
<i style="background:linear-gradient(90deg,#009fff,#00b5ff,#00caff,#00dfff,#00f4ff,#00fff6,#00ffe1,#00ffce,#00ffba,#00ffa7,#00ff94,#00ff81,#00ff6f,#00ff5d,#00ff4b,#00ff39,#00ff28,#00ff17,#00ff06,#0aff00,#1aff00,#2aff00,#39ff00,#49ff00,#58ff00,#66ff00,#74ff00,#82ff00,#90ff00,#9eff00,#abff00,#b8ff00)"></i>
<i style="background:linear-gradient(90deg,#009eff,#00b4ff,#00c9ff,#00deff,#00f2ff,#00fff7,#00ffe3,#00ffd0,#00ffbc,#00ffa9,#00ff96,#00ff84,#00ff71,#00ff5f,#00ff4e,#00ff3c,#00ff2b,#00ff1a,#00ff0a,#06ff00,#16ff00,#26ff00,#35ff00,#44ff00,#53ff00,#62ff00,#70ff00,#7eff00,#8bff00,#99ff00,#a6ff00,#b2ff00)"></i>
<i style="background:linear-gradient(90deg,#009dff,#00b3ff,#00c8ff,#00dcff,#00f1ff,#00fff9,#00ffe5,#00ffd2,#00ffbe,#00ffab,#00ff99,#00ff86,#00ff74,#00ff62,#00ff51,#00ff3f,#00ff2e,#00ff1e,#00ff0d,#03ff00,#12ff00,#22ff00,#31ff00,#40ff00,#4fff00,#5dff00,#6bff00,#79ff00,#86ff00,#93ff00,#a0ff00,#adff00)"></i>
<i style="background:linear-gradient(90deg,#009cff,#00b2ff,#00c6ff,#00dbff,#00efff,#00fffb,#00ffe7,#00ffd4,#00ffc0,#00ffae,#00ff9b,#00ff89,#00ff77,#00ff65,#00ff54,#00ff43,#00ff32,#00ff21,#00ff11,#00ff01,#0fff00,#1eff00,#2dff00,#3cff00,#4aff00,#58ff00,#66ff00,#74ff00,#81ff00,#8eff00,#9bff00,#a7ff00)"></i>
<i style="background:linear-gradient(90deg,#009bff,#00b0ff,#00c5ff,#00daff,#00eeff,#00fffc,#00ffe9,#00ffd6,#00ffc3,#00ffb0,#00ff9d,#00ff8b,#00ff7a,#00ff68,#00ff57,#00ff46,#00ff35,#00ff25,#00ff15,#00ff05,#0bff00,#1aff00,#29ff00,#37ff00,#46ff00,#54ff00,#62ff00,#6fff00,#7cff00,#89ff00,#96ff00,#a2ff00)"></i>
<i style="background:linear-gradient(90deg,#009aff,#00afff,#00c4ff,#00d8ff,#00ecff,#00fffe,#00ffeb,#00ffd8,#00ffc5,#00ffb2,#00ffa0,#00ff8e,#00ff7c,#00ff6b,#00ff5a,#00ff49,#00ff38,#00ff28,#00ff18,#00ff09,#07ff00,#16ff00,#25ff00,#33ff00,#41ff00,#4fff00,#5dff00,#6aff00,#77ff00,#84ff00,#90ff00,#9dff00)"></i>
<i style="background:linear-gradient(90deg,#0099ff,#00aeff,#00c2ff,#00d7ff,#00eaff,#00feff,#00ffed,#00ffda,#00ffc7,#00ffb5,#00ffa2,#00ff91,#00ff7f,#00ff6e,#00ff5d,#00ff4c,#00ff3c,#00ff2c,#00ff1c,#00ff0c,#03ff00,#12ff00,#20ff00,#2fff00,#3dff00,#4bff00,#58ff00,#65ff00,#72ff00,#7fff00,#8bff00,#97ff00)"></i>
<i style="background:linear-gradient(90deg,#0098ff,#00adff,#00c1ff,#00d5ff,#00e9ff,#00fcff,#00ffef,#00ffdc,#00ffc9,#00ffb7,#00ffa5,#00ff93,#00ff82,#00ff71,#00ff60,#00ff4f,#00ff3f,#00ff2f,#00ff20,#00ff10,#00ff01,#0eff00,#1cff00,#2aff00,#38ff00,#46ff00,#53ff00,#60ff00,#6dff00,#79ff00,#86ff00,#92ff00)"></i>
<i style="background:linear-gradient(90deg,#0097ff,#00abff,#00c0ff,#00d4ff,#00e7ff,#00faff,#00fff1,#00ffde,#00ffcb,#00ffb9,#00ffa8,#00ff96,#00ff85,#00ff74,#00ff63,#00ff53,#00ff43,#00ff33,#00ff23,#00ff14,#00ff05,#0aff00,#18ff00,#26ff00,#34ff00,#41ff00,#4eff00,#5bff00,#68ff00,#74ff00,#80ff00,#8cff00)"></i>
<i style="background:linear-gradient(90deg,#0096ff,#00aaff,#00beff,#00d2ff,#00e5ff,#00f9ff,#00fff3,#00ffe0,#00ffce,#00ffbc,#00ffaa,#00ff99,#00ff88,#00ff77,#00ff66,#00ff56,#00ff46,#00ff36,#00ff27,#00ff18,#00ff09,#05ff00,#14ff00,#22ff00,#2fff00,#3dff00,#4aff00,#56ff00,#63ff00,#6fff00,#7bff00,#86ff00)"></i>
<i style="background:linear-gradient(90deg,#0095ff,#00a9ff,#00bdff,#00d0ff,#00e4ff,#00f7ff,#00fff5,#00ffe2,#00ffd0,#00ffbe,#00ffad,#00ff9b,#00ff8a,#00ff7a,#00ff69,#00ff59,#00ff49,#00ff3a,#00ff2b,#00ff1c,#00ff0d,#01ff00,#0fff00,#1dff00,#2bff00,#38ff00,#45ff00,#51ff00,#5eff00,#6aff00,#75ff00,#81ff00)"></i>
<i style="background:linear-gradient(90deg,#0094ff,#00a8ff,#00bbff,#00cfff,#00e2ff,#00f5ff,#00fff7,#00ffe4,#00ffd2,#00ffc1,#00ffaf,#00ff9e,#00ff8d,#00ff7d,#00ff6c,#00ff5c,#00ff4d,#00ff3d,#00ff2e,#00ff20,#00ff11,#00ff03,#0bff00,#19ff00,#26ff00,#33ff00,#40ff00,#4cff00,#59ff00,#64ff00,#70ff00,#7bff00)"></i>
<i style="background:linear-gradient(90deg,#0092ff,#00a6ff,#00baff,#00cdff,#00e0ff,#00f3ff,#00fff9,#00ffe6,#00ffd5,#00ffc3,#00ffb2,#00ffa1,#00ff90,#00ff80,#00ff70,#00ff60,#00ff50,#00ff41,#00ff32,#00ff23,#00ff15,#00ff07,#07ff00,#14ff00,#22ff00,#2eff00,#3bff00,#47ff00,#53ff00,#5fff00,#6bff00,#76ff00)"></i>
<i style="background:linear-gradient(90deg,#0091ff,#00a5ff,#00b8ff,#00ccff,#00deff,#00f1ff,#00fffb,#00ffe9,#00ffd7,#00ffc6,#00ffb4,#00ffa4,#00ff93,#00ff83,#00ff73,#00ff63,#00ff54,#00ff45,#00ff36,#00ff27,#00ff19,#00ff0b,#02ff00,#10ff00,#1dff00,#2aff00,#36ff00,#42ff00,#4eff00,#5aff00,#65ff00,#70ff00)"></i>
<i style="background:linear-gradient(90deg,#0090ff,#00a4ff,#00b7ff,#00caff,#00ddff,#00efff,#00fffd,#00ffeb,#00ffd9,#00ffc8,#00ffb7,#00ffa6,#00ff96,#00ff86,#00ff76,#00ff66,#00ff57,#00ff48,#00ff3a,#00ff2b,#00ff1d,#00ff0f,#00ff02,#0bff00,#18ff00,#25ff00,#31ff00,#3dff00,#49ff00,#55ff00,#60ff00,#6bff00)"></i>
<i style="background:linear-gradient(90deg,#008fff,#00a2ff,#00b5ff,#00c8ff,#00dbff,#00edff,#00ffff,#00ffed,#00ffdc,#00ffcb,#00ffba,#00ffa9,#00ff99,#00ff89,#00ff79,#00ff6a,#00ff5b,#00ff4c,#00ff3d,#00ff2f,#00ff21,#00ff14,#00ff06,#07ff00,#14ff00,#20ff00,#2cff00,#38ff00,#44ff00,#4fff00,#5aff00,#65ff00)"></i>
<i style="background:linear-gradient(90deg,#008eff,#00a1ff,#00b4ff,#00c7ff,#00d9ff,#00ebff,#00fdff,#00ffef,#00ffde,#00ffcd,#00ffbc,#00ffac,#00ff9c,#00ff8c,#00ff7c,#00ff6d,#00ff5e,#00ff50,#00ff41,#00ff33,#00ff25,#00ff18,#00ff0b,#02ff00,#0fff00,#1bff00,#27ff00,#33ff00,#3fff00,#4aff00,#55ff00,#5fff00)"></i>
<i style="background:linear-gradient(90deg,#008cff,#00a0ff,#00b2ff,#00c5ff,#00d7ff,#00e9ff,#00fbff,#00fff2,#00ffe0,#00ffd0,#00ffbf,#00ffaf,#00ff9f,#00ff8f,#00ff80,#00ff71,#00ff62,#00ff53,#00ff45,#00ff37,#00ff29,#00ff1c,#00ff0f,#00ff02,#0aff00,#17ff00,#22ff00,#2eff00,#39ff00,#44ff00,#4fff00,#5aff00)"></i>
<i style="background:linear-gradient(90deg,#008bff,#009eff,#00b1ff,#00c3ff,#00d5ff,#00e7ff,#00f9ff,#00fff4,#00ffe3,#00ffd2,#00ffc2,#00ffb2,#00ffa2,#00ff92,#00ff83,#00ff74,#00ff65,#00ff57,#00ff49,#00ff3b,#00ff2e,#00ff20,#00ff13,#00ff07,#06ff00,#12ff00,#1dff00,#29ff00,#34ff00,#3fff00,#4aff00,#54ff00)"></i>
<i style="background:linear-gradient(90deg,#008aff,#009dff,#00afff,#00c2ff,#00d4ff,#00e5ff,#00f7ff,#00fff6,#00ffe5,#00ffd5,#00ffc4,#00ffb4,#00ffa5,#00ff95,#00ff86,#00ff77,#00ff69,#00ff5b,#00ff4d,#00ff3f,#00ff32,#00ff25,#00ff18,#00ff0b,#01ff00,#0dff00,#18ff00,#24ff00,#2fff00,#3aff00,#44ff00,#4eff00)"></i>
<i style="background:linear-gradient(90deg,#0088ff,#009bff,#00aeff,#00c0ff,#00d2ff,#00e3ff,#00f5ff,#00fff8,#00ffe8,#00ffd7,#00ffc7,#00ffb7,#00ffa8,#00ff98,#00ff89,#00ff7b,#00ff6c,#00ff5e,#00ff51,#00ff43,#00ff36,#00ff29,#00ff1c,#00ff10,#00ff04,#08ff00,#13ff00,#1fff00,#2aff00,#34ff00,#3eff00,#49ff00)"></i>
<i style="background:linear-gradient(90deg,#0087ff,#009aff,#00acff,#00beff,#00d0ff,#00e1ff,#00f2ff,#00fffb,#00ffea,#00ffda,#00ffca,#00ffba,#00ffab,#00ff9c,#00ff8d,#00ff7e,#00ff70,#00ff62,#00ff54,#00ff47,#00ff3a,#00ff2d,#00ff21,#00ff14,#00ff09,#03ff00,#0eff00,#19ff00,#24ff00,#2fff00,#39ff00,#43ff00)"></i>
<i style="background:linear-gradient(90deg,#0086ff,#0098ff,#00aaff,#00bcff,#00ceff,#00dfff,#00f0ff,#00fffd,#00ffed,#00ffdc,#00ffcd,#00ffbd,#00ffae,#00ff9f,#00ff90,#00ff82,#00ff74,#00ff66,#00ff58,#00ff4b,#00ff3e,#00ff31,#00ff25,#00ff19,#00ff0d,#00ff02,#09ff00,#14ff00,#1fff00,#29ff00,#33ff00,#3dff00)"></i>
<i style="background:linear-gradient(90deg,#0085ff,#0097ff,#00a9ff,#00bbff,#00ccff,#00ddff,#00eeff,#00ffff,#00ffef,#00ffdf,#00ffcf,#00ffc0,#00ffb1,#00ffa2,#00ff93,#00ff85,#00ff77,#00ff6a,#00ff5c,#00ff4f,#00ff42,#00ff36,#00ff2a,#00ff1e,#00ff12,#00ff07,#04ff00,#0fff00,#1aff00,#24ff00,#2eff00,#37ff00)"></i>
<i style="background:linear-gradient(90deg,#0083ff,#0095ff,#00a7ff,#00b9ff,#00caff,#00dbff,#00ecff,#00fcff,#00fff2,#00ffe2,#00ffd2,#00ffc3,#00ffb4,#00ffa5,#00ff97,#00ff89,#00ff7b,#00ff6d,#00ff60,#00ff53,#00ff47,#00ff3a,#00ff2e,#00ff22,#00ff17,#00ff0c,#00ff01,#0aff00,#14ff00,#1eff00,#28ff00,#31ff00)"></i>
<i style="background:linear-gradient(90deg,#0082ff,#0094ff,#00a6ff,#00b7ff,#00c8ff,#00d9ff,#00eaff,#00faff,#00fff4,#00ffe4,#00ffd5,#00ffc6,#00ffb7,#00ffa8,#00ff9a,#00ff8c,#00ff7f,#00ff71,#00ff64,#00ff57,#00ff4b,#00ff3f,#00ff33,#00ff27,#00ff1c,#00ff11,#00ff06,#05ff00,#0fff00,#19ff00,#22ff00,#2cff00)"></i>
<i style="background:linear-gradient(90deg,#0080ff,#0092ff,#00a4ff,#00b5ff,#00c6ff,#00d7ff,#00e7ff,#00f8ff,#00fff7,#00ffe7,#00ffd8,#00ffc9,#00ffba,#00ffac,#00ff9e,#00ff90,#00ff82,#00ff75,#00ff68,#00ff5b,#00ff4f,#00ff43,#00ff37,#00ff2c,#00ff20,#00ff16,#00ff0b,#00ff01,#09ff00,#13ff00,#1dff00,#26ff00)"></i>
<i style="background:linear-gradient(90deg,#007fff,#0091ff,#00a2ff,#00b3ff,#00c4ff,#00d5ff,#00e5ff,#00f5ff,#00fff9,#00ffea,#00ffdb,#00ffcc,#00ffbd,#00ffaf,#00ffa1,#00ff93,#00ff86,#00ff79,#00ff6c,#00ff60,#00ff53,#00ff47,#00ff3c,#00ff30,#00ff25,#00ff1b,#00ff10,#00ff06,#04ff00,#0eff00,#17ff00,#20ff00)"></i>
<i style="background:linear-gradient(90deg,#007eff,#008fff,#00a0ff,#00b1ff,#00c2ff,#00d3ff,#00e3ff,#00f3ff,#00fffc,#00ffec,#00ffdd,#00ffcf,#00ffc0,#00ffb2,#00ffa4,#00ff97,#00ff8a,#00ff7d,#00ff70,#00ff64,#00ff58,#00ff4c,#00ff40,#00ff35,#00ff2a,#00ff1f,#00ff15,#00ff0b,#00ff01,#08ff00,#11ff00,#1aff00)"></i>
<i style="background:linear-gradient(90deg,#007cff,#008eff,#009fff,#00b0ff,#00c0ff,#00d0ff,#00e1ff,#00f0ff,#00fffe,#00ffef,#00ffe0,#00ffd2,#00ffc4,#00ffb6,#00ffa8,#00ff9a,#00ff8d,#00ff81,#00ff74,#00ff68,#00ff5c,#00ff50,#00ff45,#00ff3a,#00ff2f,#00ff24,#00ff1a,#00ff10,#00ff07,#03ff00,#0cff00,#14ff00)"></i>
<i style="background:linear-gradient(90deg,#007bff,#008cff,#009dff,#00aeff,#00beff,#00ceff,#00deff,#00eeff,#00fdff,#00fff2,#00ffe3,#00ffd5,#00ffc7,#00ffb9,#00ffab,#00ff9e,#00ff91,#00ff84,#00ff78,#00ff6c,#00ff60,#00ff55,#00ff49,#00ff3f,#00ff34,#00ff2a,#00ff1f,#00ff16,#00ff0c,#00ff03,#06ff00,#0eff00)"></i>
<i style="background:linear-gradient(90deg,#0079ff,#008aff,#009bff,#00acff,#00bcff,#00ccff,#00dcff,#00ebff,#00faff,#00fff5,#00ffe6,#00ffd8,#00ffca,#00ffbc,#00ffaf,#00ffa2,#00ff95,#00ff88,#00ff7c,#00ff70,#00ff64,#00ff59,#00ff4e,#00ff43,#00ff39,#00ff2f,#00ff25,#00ff1b,#00ff12,#00ff09,#00ff00,#09ff00)"></i>
<i style="background:linear-gradient(90deg,#0078ff,#0089ff,#0099ff,#00aaff,#00baff,#00caff,#00daff,#00e9ff,#00f8ff,#00fff7,#00ffe9,#00ffdb,#00ffcd,#00ffc0,#00ffb2,#00ffa5,#00ff99,#00ff8c,#00ff80,#00ff74,#00ff69,#00ff5e,#00ff53,#00ff48,#00ff3e,#00ff34,#00ff2a,#00ff20,#00ff17,#00ff0e,#00ff06,#03ff00)"></i>
<i style="background:linear-gradient(90deg,#0076ff,#0087ff,#0098ff,#00a8ff,#00b8ff,#00c8ff,#00d7ff,#00e6ff,#00f5ff,#00fffa,#00ffec,#00ffde,#00ffd0,#00ffc3,#00ffb6,#00ffa9,#00ff9c,#00ff90,#00ff84,#00ff79,#00ff6d,#00ff62,#00ff57,#00ff4d,#00ff43,#00ff39,#00ff2f,#00ff26,#00ff1d,#00ff14,#00ff0b,#00ff03)"></i>
<i style="background:linear-gradient(90deg,#0075ff,#0085ff,#0096ff,#00a6ff,#00b6ff,#00c5ff,#00d5ff,#00e4ff,#00f2ff,#00fffd,#00ffef,#00ffe1,#00ffd4,#00ffc6,#00ffb9,#00ffad,#00ffa0,#00ff94,#00ff88,#00ff7d,#00ff72,#00ff67,#00ff5c,#00ff52,#00ff48,#00ff3e,#00ff34,#00ff2b,#00ff22,#00ff1a,#00ff11,#00ff09)"></i>
<i style="background:linear-gradient(90deg,#0073ff,#0084ff,#0094ff,#00a4ff,#00b4ff,#00c3ff,#00d2ff,#00e1ff,#00f0ff,#00feff,#00fff2,#00ffe4,#00ffd7,#00ffca,#00ffbd,#00ffb0,#00ffa4,#00ff98,#00ff8c,#00ff81,#00ff76,#00ff6b,#00ff61,#00ff56,#00ff4d,#00ff43,#00ff3a,#00ff30,#00ff28,#00ff1f,#00ff17,#00ff0f)"></i>
<i style="background:linear-gradient(90deg,#0072ff,#0082ff,#0092ff,#00a2ff,#00b2ff,#00c1ff,#00d0ff,#00dfff,#00edff,#00fbff,#00fff5,#00ffe7,#00ffda,#00ffcd,#00ffc0,#00ffb4,#00ffa8,#00ff9c,#00ff91,#00ff85,#00ff7a,#00ff70,#00ff65,#00ff5b,#00ff51,#00ff48,#00ff3f,#00ff36,#00ff2d,#00ff25,#00ff1d,#00ff15)"></i>
<i style="background:linear-gradient(90deg,#0070ff,#0080ff,#0090ff,#00a0ff,#00afff,#00bfff,#00ceff,#00dcff,#00eaff,#00f8ff,#00fff8,#00ffea,#00ffdd,#00ffd1,#00ffc4,#00ffb8,#00ffac,#00ffa0,#00ff95,#00ff8a,#00ff7f,#00ff74,#00ff6a,#00ff60,#00ff56,#00ff4d,#00ff44,#00ff3b,#00ff33,#00ff2b,#00ff23,#00ff1b)"></i>
<i style="background:linear-gradient(90deg,#006eff,#007fff,#008eff,#009eff,#00adff,#00bcff,#00cbff,#00daff,#00e8ff,#00f6ff,#00fffb,#00ffee,#00ffe1,#00ffd4,#00ffc8,#00ffbb,#00ffb0,#00ffa4,#00ff99,#00ff8e,#00ff83,#00ff79,#00ff6f,#00ff65,#00ff5b,#00ff52,#00ff49,#00ff41,#00ff38,#00ff30,#00ff29,#00ff21)"></i>
<i style="background:linear-gradient(90deg,#006dff,#007dff,#008dff,#009cff,#00abff,#00baff,#00c9ff,#00d7ff,#00e5ff,#00f3ff,#00fffe,#00fff1,#00ffe4,#00ffd7,#00ffcb,#00ffbf,#00ffb3,#00ffa8,#00ff9d,#00ff92,#00ff88,#00ff7d,#00ff74,#00ff6a,#00ff61,#00ff57,#00ff4f,#00ff46,#00ff3e,#00ff36,#00ff2e,#00ff27)"></i>
<i style="background:linear-gradient(90deg,#006bff,#007bff,#008bff,#009aff,#00a9ff,#00b8ff,#00c6ff,#00d4ff,#00e2ff,#00f0ff,#00fdff,#00fff4,#00ffe7,#00ffdb,#00ffcf,#00ffc3,#00ffb7,#00ffac,#00ffa1,#00ff97,#00ff8c,#00ff82,#00ff78,#00ff6f,#00ff66,#00ff5d,#00ff54,#00ff4c,#00ff44,#00ff3c,#00ff34,#00ff2d)"></i>
<i style="background:linear-gradient(90deg,#0069ff,#0079ff,#0089ff,#0098ff,#00a7ff,#00b5ff,#00c4ff,#00d2ff,#00dfff,#00edff,#00faff,#00fff7,#00ffeb,#00ffde,#00ffd2,#00ffc7,#00ffbb,#00ffb0,#00ffa5,#00ff9b,#00ff91,#00ff87,#00ff7d,#00ff74,#00ff6b,#00ff62,#00ff59,#00ff51,#00ff49,#00ff42,#00ff3a,#00ff33)"></i>
<i style="background:linear-gradient(90deg,#0068ff,#0077ff,#0087ff,#0096ff,#00a5ff,#00b3ff,#00c1ff,#00cfff,#00ddff,#00eaff,#00f7ff,#00fffa,#00ffee,#00ffe2,#00ffd6,#00ffcb,#00ffbf,#00ffb4,#00ffaa,#00ff9f,#00ff95,#00ff8b,#00ff82,#00ff79,#00ff70,#00ff67,#00ff5f,#00ff57,#00ff4f,#00ff47,#00ff40,#00ff39)"></i>
<i style="background:linear-gradient(90deg,#0066ff,#0076ff,#0085ff,#0094ff,#00a2ff,#00b1ff,#00bfff,#00ccff,#00daff,#00e7ff,#00f4ff,#00fffe,#00fff1,#00ffe5,#00ffda,#00ffce,#00ffc3,#00ffb8,#00ffae,#00ffa4,#00ff9a,#00ff90,#00ff87,#00ff7e,#00ff75,#00ff6c,#00ff64,#00ff5c,#00ff55,#00ff4d,#00ff46,#00ff3f)"></i>
<i style="background:linear-gradient(90deg,#0064ff,#0074ff,#0083ff,#0092ff,#00a0ff,#00aeff,#00bcff,#00caff,#00d7ff,#00e4ff,#00f1ff,#00fdff,#00fff5,#00ffe9,#00ffdd,#00ffd2,#00ffc7,#00ffbc,#00ffb2,#00ffa8,#00ff9e,#00ff95,#00ff8b,#00ff83,#00ff7a,#00ff72,#00ff69,#00ff62,#00ff5a,#00ff53,#00ff4c,#00ff46)"></i>
<i style="background:linear-gradient(90deg,#0063ff,#0072ff,#0081ff,#008fff,#009eff,#00acff,#00baff,#00c7ff,#00d4ff,#00e1ff,#00eeff,#00faff,#00fff8,#00ffec,#00ffe1,#00ffd6,#00ffcb,#00ffc1,#00ffb6,#00ffac,#00ffa3,#00ff99,#00ff90,#00ff88,#00ff7f,#00ff77,#00ff6f,#00ff67,#00ff60,#00ff59,#00ff52,#00ff4c)"></i>
<i style="background:linear-gradient(90deg,#0061ff,#0070ff,#007fff,#008dff,#009bff,#00a9ff,#00b7ff,#00c4ff,#00d1ff,#00deff,#00eaff,#00f7ff,#00fffc,#00fff0,#00ffe5,#00ffda,#00ffcf,#00ffc5,#00ffbb,#00ffb1,#00ffa7,#00ff9e,#00ff95,#00ff8d,#00ff84,#00ff7c,#00ff74,#00ff6d,#00ff66,#00ff5f,#00ff58,#00ff52)"></i>
<i style="background:linear-gradient(90deg,#005fff,#006eff,#007dff,#008bff,#0099ff,#00a7ff,#00b4ff,#00c2ff,#00ceff,#00dbff,#00e7ff,#00f3ff,#00ffff,#00fff4,#00ffe9,#00ffde,#00ffd3,#00ffc9,#00ffbf,#00ffb5,#00ffac,#00ffa3,#00ff9a,#00ff92,#00ff89,#00ff81,#00ff7a,#00ff72,#00ff6b,#00ff65,#00ff5e,#00ff58)"></i>
<i style="background:linear-gradient(90deg,#005eff,#006cff,#007bff,#0089ff,#0097ff,#00a4ff,#00b2ff,#00bfff,#00cbff,#00d8ff,#00e4ff,#00f0ff,#00fbff,#00fff7,#00ffec,#00ffe2,#00ffd7,#00ffcd,#00ffc3,#00ffba,#00ffb1,#00ffa8,#00ff9f,#00ff97,#00ff8e,#00ff87,#00ff7f,#00ff78,#00ff71,#00ff6a,#00ff64,#00ff5e)"></i>
<i style="background:linear-gradient(90deg,#005cff,#006aff,#0079ff,#0087ff,#0095ff,#00a2ff,#00afff,#00bcff,#00c9ff,#00d5ff,#00e1ff,#00edff,#00f8ff,#00fffb,#00fff0,#00ffe5,#00ffdb,#00ffd1,#00ffc8,#00ffbe,#00ffb5,#00ffac,#00ffa4,#00ff9c,#00ff94,#00ff8c,#00ff85,#00ff7e,#00ff77,#00ff70,#00ff6a,#00ff64)"></i>
<i style="background:linear-gradient(90deg,#005aff,#0068ff,#0077ff,#0085ff,#0092ff,#009fff,#00acff,#00b9ff,#00c6ff,#00d2ff,#00deff,#00e9ff,#00f4ff,#00ffff,#00fff4,#00ffe9,#00ffdf,#00ffd5,#00ffcc,#00ffc3,#00ffba,#00ffb1,#00ffa9,#00ffa1,#00ff99,#00ff91,#00ff8a,#00ff83,#00ff7d,#00ff76,#00ff70,#00ff6a)"></i>
<i style="background:linear-gradient(90deg,#0058ff,#0067ff,#0075ff,#0082ff,#0090ff,#009dff,#00aaff,#00b6ff,#00c3ff,#00cfff,#00daff,#00e6ff,#00f1ff,#00fcff,#00fff8,#00ffed,#00ffe3,#00ffda,#00ffd0,#00ffc7,#00ffbe,#00ffb6,#00ffae,#00ffa6,#00ff9e,#00ff97,#00ff90,#00ff89,#00ff82,#00ff7c,#00ff76,#00ff71)"></i>
<i style="background:linear-gradient(90deg,#0056ff,#0065ff,#0072ff,#0080ff,#008dff,#009aff,#00a7ff,#00b4ff,#00c0ff,#00ccff,#00d7ff,#00e2ff,#00edff,#00f8ff,#00fffb,#00fff1,#00ffe7,#00ffde,#00ffd5,#00ffcc,#00ffc3,#00ffbb,#00ffb3,#00ffab,#00ffa3,#00ff9c,#00ff95,#00ff8f,#00ff88,#00ff82,#00ff7c,#00ff77)"></i>
<i style="background:linear-gradient(90deg,#0055ff,#0063ff,#0070ff,#007eff,#008bff,#0098ff,#00a4ff,#00b1ff,#00bdff,#00c9ff,#00d4ff,#00dfff,#00eaff,#00f4ff,#00ffff,#00fff5,#00ffec,#00ffe2,#00ffd9,#00ffd0,#00ffc8,#00ffc0,#00ffb8,#00ffb0,#00ffa9,#00ffa2,#00ff9b,#00ff94,#00ff8e,#00ff88,#00ff83,#00ff7d)"></i>
<i style="background:linear-gradient(90deg,#0053ff,#0061ff,#006eff,#007cff,#0089ff,#0095ff,#00a2ff,#00aeff,#00baff,#00c5ff,#00d1ff,#00dcff,#00e6ff,#00f1ff,#00fbff,#00fff9,#00fff0,#00ffe6,#00ffde,#00ffd5,#00ffcc,#00ffc4,#00ffbd,#00ffb5,#00ffae,#00ffa7,#00ffa0,#00ff9a,#00ff94,#00ff8e,#00ff89,#00ff83)"></i>
<i style="background:linear-gradient(90deg,#0051ff,#005fff,#006cff,#0079ff,#0086ff,#0093ff,#009fff,#00abff,#00b7ff,#00c2ff,#00cdff,#00d8ff,#00e3ff,#00edff,#00f7ff,#00fffd,#00fff4,#00ffeb,#00ffe2,#00ffd9,#00ffd1,#00ffc9,#00ffc2,#00ffba,#00ffb3,#00ffac,#00ffa6,#00ffa0,#00ff9a,#00ff94,#00ff8f,#00ff8a)"></i>
<i style="background:linear-gradient(90deg,#004fff,#005dff,#006aff,#0077ff,#0084ff,#0090ff,#009cff,#00a8ff,#00b4ff,#00bfff,#00caff,#00d5ff,#00dfff,#00e9ff,#00f3ff,#00fdff,#00fff8,#00ffef,#00ffe6,#00ffde,#00ffd6,#00ffce,#00ffc7,#00ffbf,#00ffb8,#00ffb2,#00ffab,#00ffa5,#00ffa0,#00ff9a,#00ff95,#00ff90)"></i>
<i style="background:linear-gradient(90deg,#004dff,#005bff,#0068ff,#0075ff,#0081ff,#008eff,#009aff,#00a5ff,#00b1ff,#00bcff,#00c7ff,#00d1ff,#00dcff,#00e6ff,#00efff,#00f9ff,#00fffc,#00fff3,#00ffeb,#00ffe3,#00ffdb,#00ffd3,#00ffcc,#00ffc5,#00ffbe,#00ffb7,#00ffb1,#00ffab,#00ffa5,#00ffa0,#00ff9b,#00ff96)"></i>
<i style="background:linear-gradient(90deg,#004bff,#0058ff,#0066ff,#0072ff,#007fff,#008bff,#0097ff,#00a2ff,#00aeff,#00b9ff,#00c3ff,#00ceff,#00d8ff,#00e2ff,#00ebff,#00f5ff,#00feff,#00fff8,#00ffef,#00ffe7,#00ffdf,#00ffd8,#00ffd1,#00ffca,#00ffc3,#00ffbd,#00ffb7,#00ffb1,#00ffab,#00ffa6,#00ffa1,#00ff9d)"></i>
<i style="background:linear-gradient(90deg,#0049ff,#0056ff,#0063ff,#0070ff,#007cff,#0088ff,#0094ff,#009fff,#00abff,#00b5ff,#00c0ff,#00caff,#00d4ff,#00deff,#00e7ff,#00f1ff,#00f9ff,#00fffc,#00fff4,#00ffec,#00ffe4,#00ffdd,#00ffd6,#00ffcf,#00ffc8,#00ffc2,#00ffbc,#00ffb7,#00ffb1,#00ffac,#00ffa8,#00ffa3)"></i>
<i style="background:linear-gradient(90deg,#0047ff,#0054ff,#0061ff,#006eff,#007aff,#0086ff,#0091ff,#009dff,#00a8ff,#00b2ff,#00bdff,#00c7ff,#00d1ff,#00daff,#00e3ff,#00ecff,#00f5ff,#00feff,#00fff8,#00fff1,#00ffe9,#00ffe2,#00ffdb,#00ffd4,#00ffce,#00ffc8,#00ffc2,#00ffbc,#00ffb7,#00ffb2,#00ffae,#00ffa9)"></i>
<i style="background:linear-gradient(90deg,#0045ff,#0052ff,#005fff,#006bff,#0077ff,#0083ff,#008eff,#009aff,#00a4ff,#00afff,#00b9ff,#00c3ff,#00cdff,#00d6ff,#00e0ff,#00e8ff,#00f1ff,#00f9ff,#00fffd,#00fff5,#00ffee,#00ffe7,#00ffe0,#00ffd9,#00ffd3,#00ffcd,#00ffc8,#00ffc2,#00ffbd,#00ffb8,#00ffb4,#00ffb0)"></i>
<i style="background:linear-gradient(90deg,#0043ff,#0050ff,#005dff,#0069ff,#0075ff,#0080ff,#008cff,#0097ff,#00a1ff,#00acff,#00b6ff,#00c0ff,#00c9ff,#00d3ff,#00dcff,#00e4ff,#00edff,#00f5ff,#00fdff,#00fffa,#00fff3,#00ffec,#00ffe5,#00ffdf,#00ffd9,#00ffd3,#00ffcd,#00ffc8,#00ffc3,#00ffbf,#00ffba,#00ffb6)"></i>
</div>
<svg width="685" height="888" viewBox="0 0 685 888">
<defs><filter id="bl" x="-5%" y="-5%" width="110%" height="110%"><feGaussianBlur stdDeviation="2.2"/></filter></defs>
<path d="M540 225.5 542.8 222 544.8 219.6 547.4 216.7 550.6 213.2 552.5 211.2 555.9 207.8 558.3 205.6 561.9 202.5 564.1 200.7 568 197.8 571.4 195.5 574.2 193.7 577.6 191.7 581.5 189.7 585.3 187.9 589.2 186.4 593.7 184.9 598.8 183.5 602.7 182.7 608.5 181.8 614.3 181.4 620.1 181.4 625.9 181.7 631.7 182.4 635.8 183.1 641.3 184.3 645.2 185.2 650 186.6 654.8 188.2 658.7 189.6 660.6 190.4" class="cl"/>
<path d="M493.5 225.5 495 222 496.6 218.3 498.5 213.9 500.4 209.6 502 206.1 503.7 202.5 505.4 199 507.2 195.5 509 191.9 510.8 188.4 512.7 184.9 514.7 181.3 516.7 177.8 518.8 174.3 520.9 170.7 523.2 167.2 525.5 163.7 527.4 161 529.4 158.3 531.9 154.8 534.7 151.3 537.1 148.5 539.3 146 542.6 142.5 544.8 140.2 548.1 137.2 550.6 135 554.5 131.9 556.9 130.1 560.2 127.9 564.1 125.5 568 123.5 571.8 121.8 575.7 120.3 579.5 119.1 585.3 117.8 589.2 117.2 595 116.7 600.8 116.6 606.6 117 611.8 117.7 616.2 118.6 620.2 119.5 625.9 121.1 629.7 122.4 633.6 123.8 637.4 125.3 641.3 127 645.2 128.8 649 130.7 652.9 132.7 656.7 134.8 660.6 137" class="cl"/>
<path d="M459.2 225.5 460.1 222 461.6 216.7 462.6 213.1 463.7 209 465.1 204.3 466.1 200.8 467.6 195.7 468.7 191.9 469.8 188.4 471.4 183.1 472.5 179.6 473.6 176 475.3 170.8 476.5 167.2 477.7 163.7 479.2 159.1 480.7 154.8 481.9 151.3 483.1 147.8 485 142.7 486.4 138.9 487.7 135.4 489.1 131.9 490.8 127.6 492.6 123 494.1 119.5 495.6 116 497.1 112.4 498.7 108.9 500.4 105.3 502.3 101.3 504.3 97.4 506.2 93.6 508.1 90 510.1 86.6 512 83.3 513.9 80.1 515.9 77 518.2 73.6 520.6 70 523.3 66.5 525.5 63.7 527.6 61.2 530.9 57.7 533.2 55.3 536.4 52.4 539 50.2 542.9 47.3 545.9 45.3 549 43.5 552.6 41.8 557.1 40 562.2 38.5 566 37.8 571.8 37.2 577.6 37.2 583.4 37.7 587.3 38.4 593 39.7 596.9 40.9 600.8 42.2 604.6 43.7 608.5 45.4 612.4 47.2 616.2 49.2 620.1 51.3 623.9 53.5 627.8 55.8 630.7 57.7 633.6 59.6 637.4 62.2 641.1 64.7 643.5 66.5 647.1 69.1 650.6 71.8 652.9 73.6 656.7 76.6 659.5 78.9 660.6 79.7" class="cl"/>
<path d="M430.6 225.5 431.3 222 432.3 216.7 433 213.1 434 207.8 434.8 203.9 435.7 199 436.7 194 437.5 190.2 438.5 184.9 439.2 181.3 440.3 176 441 172.5 442.1 167.2 442.8 163.7 443.9 158.4 444.6 154.8 445.7 149.5 446.4 146 447.5 140.7 448.3 137 449.4 131.9 450.2 127.8 451.3 123 452.2 118.9 453.2 114.2 454.1 110 455.1 105.4 456 101.3 457.1 96.5 457.9 92.8 459.1 87.7 459.9 84.2 461.2 78.9 462 75.3 463.3 70 464.1 66.5 465.4 61.2 466.3 57.7 467.6 52.5 468.5 48.8 469.5 45 470.9 40 471.8 36.5 473.2 31.2 474.2 27.6 475.3 23.7 476.7 18.8 477.8 15.3 478.3 13.5" class="cl"/>
<path d="M656.9 13.5 660.1 17 660.6 17.6" class="cl"/>
<rect x="429" y="13.5" width="231.6" height="212" class="fr"/>
<path d="M429 225.5v4" class="tk"/>
<text transform="translate(429 241.9) scale(1.1 1.0)" font-size="8.7">2</text>
<path d="M462.1 225.5v4" class="tk"/>
<text transform="translate(462.1 241.9) scale(1.1 1.0)" font-size="8.7">3</text>
<path d="M495.2 225.5v4" class="tk"/>
<text transform="translate(495.2 241.9) scale(1.1 1.0)" font-size="8.7">4</text>
<path d="M528.3 225.5v4" class="tk"/>
<text transform="translate(528.3 241.9) scale(1.1 1.0)" font-size="8.7">5</text>
<path d="M561.3 225.5v4" class="tk"/>
<text transform="translate(561.3 241.9) scale(1.1 1.0)" font-size="8.7">6</text>
<path d="M594.4 225.5v4" class="tk"/>
<text transform="translate(594.4 241.9) scale(1.1 1.0)" font-size="8.7">7</text>
<path d="M627.5 225.5v4" class="tk"/>
<text transform="translate(627.5 241.9) scale(1.1 1.0)" font-size="8.7">8</text>
<path d="M660.6 225.5v4" class="tk"/>
<text transform="translate(660.6 241.9) scale(1.1 1.0)" font-size="8.7">9</text>
<path d="M429 225.5h-4.5" class="tk"/>
<text transform="translate(422 228.7) scale(1.1 1.0)" font-size="8.7" class="e">5</text>
<path d="M429 183.1h-4.5" class="tk"/>
<text transform="translate(422 186.3) scale(1.1 1.0)" font-size="8.7" class="e">14</text>
<path d="M429 140.7h-4.5" class="tk"/>
<text transform="translate(422 143.9) scale(1.1 1.0)" font-size="8.7" class="e">23</text>
<path d="M429 98.3h-4.5" class="tk"/>
<text transform="translate(422 101.5) scale(1.1 1.0)" font-size="8.7" class="e">32</text>
<path d="M429 55.9h-4.5" class="tk"/>
<text transform="translate(422 59.1) scale(1.1 1.0)" font-size="8.7" class="e">41</text>
<path d="M429 13.5h-4.5" class="tk"/>
<text transform="translate(422 16.7) scale(1.1 1.0)" font-size="8.7" class="e">50</text>
<rect x="445.1" y="109.2" width="19" height="12.4" class="lb"/>
<text transform="translate(454.6 118.8) scale(1.067 1.0)" font-size="9.135">90</text>
<rect x="512.5" y="60" width="19" height="12.4" class="lb"/>
<text transform="translate(522 69.6) scale(1.067 1.0)" font-size="9.135">80</text>
<rect x="541.7" y="129.1" width="19" height="12.4" class="lb"/>
<text transform="translate(551.2 138.7) scale(1.067 1.0)" font-size="9.135">70</text>
<rect x="580.6" y="180.3" width="19" height="12.4" class="lb"/>
<text transform="translate(590.1 189.9) scale(1.067 1.0)" font-size="9.135">60</text>
<circle cx="429" cy="13.5" r="2.2" class="dp"/>
<circle cx="660.6" cy="13.5" r="2.2" class="dp"/>
<circle cx="429" cy="225.5" r="2.2" class="dp"/>
<circle cx="660.6" cy="225.5" r="2.2" class="dp"/>
<circle cx="545" cy="119.5" r="2" class="dp"/>
<text transform="translate(541.4 126.3) scale(1.1 1.0)" font-size="9">5</text>
<text transform="translate(510 6.5) scale(1.18 1.0)" font-size="9.4" class="s" word-spacing="4.3">Removal (%)</text>
<text transform="translate(553.7 257.6) scale(1.1 1.0)" font-size="10.2">A: pH</text>
<text transform="translate(394.1 117.3) rotate(-90) scale(1.0 1.14)" font-size="10.1">B: Dose (mg)</text>
<path d="M577 529.6 579.6 527 582.8 523.9 585.8 521.4 589.7 518.3 592.2 516.4 596.1 513.8 600.2 511.4 604.3 509.3 608.4 507.5 612.6 506 616.7 504.8 622.9 503.5 627 503 633.2 502.6 639.4 502.8 643.5 503.2 649.7 504.2 653.8 505.2 660 506.9 664.1 508.3 668.2 509.9 672.4 511.6 676.5 513.5 680.6 515.5" class="cl"/>
<path d="M514.2 529.6 515.7 525.7 517.7 520.4 519.3 516.4 520.8 512.6 522.3 508.8 523.9 505 526 500.2 528 495.6 529.7 491.9 531.5 488.1 533.3 484.3 535.2 480.5 537.1 476.8 539.1 473 541.1 469.2 543.3 465.5 545.5 461.7 547.8 457.9 550.3 454.1 552.8 450.5 554.8 447.6 557 444.7 560.1 440.9 563.1 437.4 565.1 435.1 568.8 431.5 571.3 429.1 575.2 425.8 577.7 423.9 581.6 421.3 585.8 418.9 589.9 416.9 594 415.2 598.1 414 604.3 412.7 608.4 412.2 614.6 412.1 620.5 412.6 624.9 413.3 629.9 414.5 635.2 416.1 639.4 417.6 643.5 419.3 647.6 421.2 651.7 423.3 655.9 425.6 659.5 427.7 662.5 429.6 666.2 432 670.3 434.8 673.6 437.2 676.5 439.3 680.6 442.4" class="cl"/>
<path d="M473.6 529.6 474.5 525.8 475.7 520.2 476.6 516.4 477.9 510.7 478.8 507 480.1 501.3 481 497.5 482.3 491.9 483.2 488.1 484.6 482.4 485.5 478.7 486.8 473.4 487.8 469.2 488.9 465.2 490.2 459.8 491.2 456 492.7 450.4 493.7 446.6 495.1 441.6 496.3 437.2 497.3 433.4 498.9 427.7 500 423.9 501.2 419.6 502.7 414.5 503.9 410.7 505.4 405.9 506.8 401.3 508 397.5 509.5 393 511.1 388.1 512.4 384.3 513.8 380.6 515.7 375.2 517.2 371.1 518.6 367.3 520.1 363.6 521.9 359.3 523.9 354.4 525.7 350.4 527.4 346.6 529.2 342.8 531.1 339 533 335.3 535.1 331.5 537.3 327.7 539.6 324 542.1 320.2 544.5 316.8 546.6 314.1 549.4 310.7 552.8 307.1 554.8 305.1 557 303.2" class="cl"/>
<path d="M616.4 303.2 619.4 305.1 622.9 307.4 627 310.3 630.1 312.6 633.2 315.1 637.1 318.3 639.4 320.2 643.5 323.8 645.7 325.8 649.7 329.6 651.7 331.5 655.5 335.3 657.9 337.7 661.1 340.9 664.1 344 666.5 346.6 670 350.4 672.4 352.9 675.2 356 678.5 359.8 680.6 362.1" class="cl"/>
<path d="M441.1 529.6 441.7 525.8 442.5 520.2 443.4 514.5 443.9 510.7 444.8 505.1 445.6 499.5 446.1 495.6 447 490 447.6 485.5 448.4 480.5 449.2 474.9 449.7 471.1 450.6 465.5 451.4 459.8 451.9 456 452.8 450.4 453.6 444.7 454.1 440.9 455 435.3 455.8 429.6 456.3 425.8 457.1 420.2 457.9 414.6 458.5 410.7 459.3 405.1 460 400.3 460.7 395.6 461.5 390 462.1 385.9 462.8 380.6 463.6 374.9 464.2 371.1 465 365.5 465.8 359.8 466.3 356 467.1 350.4 467.9 344.7 468.4 340.9 469.2 335.3 470 329.6 470.5 325.8 471.3 320.2 472.1 314.5 472.6 310.7 473.4 305.1 473.7 303.2" class="cl"/>
<rect x="433.2" y="303.2" width="247.4" height="226.4" class="fr"/>
<path d="M433.2 529.6v4" class="tk"/>
<text transform="translate(433.2 546.6) scale(1.2 1.0)" font-size="9.2">2</text>
<path d="M468.5 529.6v4" class="tk"/>
<text transform="translate(468.5 546.6) scale(1.2 1.0)" font-size="9.2">3</text>
<path d="M503.9 529.6v4" class="tk"/>
<text transform="translate(503.9 546.6) scale(1.2 1.0)" font-size="9.2">4</text>
<path d="M539.2 529.6v4" class="tk"/>
<text transform="translate(539.2 546.6) scale(1.2 1.0)" font-size="9.2">5</text>
<path d="M574.6 529.6v4" class="tk"/>
<text transform="translate(574.6 546.6) scale(1.2 1.0)" font-size="9.2">6</text>
<path d="M609.9 529.6v4" class="tk"/>
<text transform="translate(609.9 546.6) scale(1.2 1.0)" font-size="9.2">7</text>
<path d="M645.3 529.6v4" class="tk"/>
<text transform="translate(645.3 546.6) scale(1.2 1.0)" font-size="9.2">8</text>
<path d="M680.6 529.6v4" class="tk"/>
<text transform="translate(680.6 546.6) scale(1.2 1.0)" font-size="9.2">9</text>
<path d="M433.2 529.6h-4.5" class="tk"/>
<text transform="translate(425.8 532.8) scale(1.2 1.0)" font-size="9.2" class="e">5</text>
<path d="M433.2 484.3h-4.5" class="tk"/>
<text transform="translate(425.8 487.5) scale(1.2 1.0)" font-size="9.2" class="e">34</text>
<path d="M433.2 439h-4.5" class="tk"/>
<text transform="translate(425.8 442.2) scale(1.2 1.0)" font-size="9.2" class="e">63</text>
<path d="M433.2 393.8h-4.5" class="tk"/>
<text transform="translate(425.8 397) scale(1.2 1.0)" font-size="9.2" class="e">92</text>
<path d="M433.2 348.5h-4.5" class="tk"/>
<text transform="translate(425.8 351.7) scale(1.2 1.0)" font-size="9.2" class="e">121</text>
<path d="M433.2 303.2h-4.5" class="tk"/>
<text transform="translate(425.8 306.4) scale(1.2 1.0)" font-size="9.2" class="e">150</text>
<rect x="450.8" y="406.1" width="19" height="12.4" class="lb"/>
<text transform="translate(460.3 415.7) scale(1.164 1.0)" font-size="9.66">90</text>
<rect x="494.1" y="400.4" width="19" height="12.4" class="lb"/>
<text transform="translate(503.6 410) scale(1.164 1.0)" font-size="9.66">80</text>
<rect x="565.3" y="423.5" width="19" height="12.4" class="lb"/>
<text transform="translate(574.8 433.1) scale(1.164 1.0)" font-size="9.66">70</text>
<rect x="621.5" y="495.2" width="19" height="12.4" class="lb"/>
<text transform="translate(631 504.8) scale(1.164 1.0)" font-size="9.66">60</text>
<rect x="643.6" y="325.8" width="19" height="12.4" class="lb"/>
<text transform="translate(653.1 335.4) scale(1.164 1.0)" font-size="9.66">80</text>
<circle cx="433.2" cy="303.2" r="2.2" class="dp"/>
<circle cx="680.6" cy="303.2" r="2.2" class="dp"/>
<circle cx="433.2" cy="529.6" r="2.2" class="dp"/>
<circle cx="680.6" cy="529.6" r="2.2" class="dp"/>
<circle cx="557" cy="416.3" r="2" class="dp"/>
<text transform="translate(553.4 423.1) scale(1.1 1.0)" font-size="9">5</text>
<text transform="translate(518.5 296.4) scale(1.18 1.0)" font-size="10.4" class="s" word-spacing="4.8">Removal (%)</text>
<text transform="translate(567.2 562) scale(1.13 1.0)" font-size="11.3">A: pH</text>
<text transform="translate(395.8 415) rotate(-90) scale(1.0 1.08)" font-size="11.7">C: Contact time (min)</text>
<path d="M431.6 695.5 432.1 699.3 432.9 704.8 433.6 709.3 434.4 713.9 435.4 719.4 436.1 723 437.2 728.5 438 732.2 439.3 737.6 440.2 741.3 441.6 746.5 442.7 750.4 443.8 754.1 445.5 759.5 446.7 763.2 448 766.9 449.5 770.9 451.5 776 453.1 779.6 454.7 783.3 456.4 786.9 458.2 790.6 460.1 794.2 462.1 797.9 464.2 801.5 466.4 805.2 468.7 808.8 471.2 812.5 473.4 815.6 475.4 818.3 478 821.6 481.1 825.2 483.4 827.9 486 830.7 489.4 834.1 491.5 836.2 495.3 839.8 497.5 841.7 499.7 843.5" class="cl"/>
<path d="M486.2 624.5 487.2 630 487.9 633.6 489.1 639.1 489.9 642.8 491.1 648.2 492 651.9 493.3 657.2 494.4 661 495.4 664.6 497 670.1 498.1 673.8 499.3 677.5 501.2 682.9 502.5 686.5 503.8 690.2 505.3 694 507.3 698.9 509 703 510.7 706.6 512.4 710.3 514.2 713.9 516 717.6 518 721.2 520 724.9 522.1 728.5 524.3 732.2 526.7 735.8 529.1 739.5 531.2 742.5 533.2 745.2 535.7 748.6 538.6 752.2 541.1 755.3 543.2 757.7 546.5 761.4 549.1 764.2 551.7 766.9 555.1 770.1 557.4 772.3 561.1 775.6 563.7 777.8 567 780.6 570.5 783.3 573 785.2 577 788 580.7 790.6 583.5 792.4 587 794.5 590.9 796.9 594.9 799.2 598.9 801.3 602.8 803.4 606.6 805.2 610.5 807 614.6 808.8 618.8 810.6 622.8 812.2 626.8 813.7 630.8 815.2 634.8 816.5 639.1 818 644.7 819.7 648.7 820.8 652.7 821.9 658.4 823.4 662.6 824.4 666.6 825.4 670.6 826.2" class="cl"/>
<path d="M551.2 624.5 553.1 629.4 554.9 633.6 556.5 637.3 558.1 640.9 559.8 644.6 561.6 648.2 563.4 651.9 565.3 655.5 567.3 659.2 569.4 662.8 571.5 666.5 573.7 670.1 576 673.8 578.5 677.4 581 681.1 583 683.9 585 686.6 587.7 690.2 590.6 693.9 592.9 696.6 595.2 699.3 598.5 703 600.9 705.6 603.7 708.5 606.9 711.7 609.2 713.9 612.8 717.3 615.2 719.4 618.8 722.5 621.7 724.9 624.8 727.3 628.7 730.4 631.2 732.2 634.8 734.7 638.7 737.4 642 739.5 644.9 741.3 648.7 743.6 652.7 745.9 656.7 748.1 660.6 750.2 664.6 752.2 668.4 754.1 670.6 755.1" class="cl"/>
<path d="M623.5 624.5 626.1 628.1 628.7 631.8 630.8 634.6 632.8 637.3 635.7 640.9 638.7 644.6 640.7 646.9 643.5 650 646.7 653.6 648.7 655.7 652.1 659.2 654.7 661.8 657.7 664.6 660.6 667.4 663.7 670.1 666.6 672.6 670.2 675.6 670.6 676" class="cl"/>
<rect x="431.6" y="624.5" width="239" height="219" class="fr"/>
<path d="M431.6 843.5v4" class="tk"/>
<text transform="translate(431.6 860.8) scale(1.17 1.0)" font-size="9.3">5</text>
<path d="M479.4 843.5v4" class="tk"/>
<text transform="translate(479.4 860.8) scale(1.17 1.0)" font-size="9.3">14</text>
<path d="M527.2 843.5v4" class="tk"/>
<text transform="translate(527.2 860.8) scale(1.17 1.0)" font-size="9.3">23</text>
<path d="M575 843.5v4" class="tk"/>
<text transform="translate(575 860.8) scale(1.17 1.0)" font-size="9.3">32</text>
<path d="M622.8 843.5v4" class="tk"/>
<text transform="translate(622.8 860.8) scale(1.17 1.0)" font-size="9.3">41</text>
<path d="M670.6 843.5v4" class="tk"/>
<text transform="translate(670.6 860.8) scale(1.17 1.0)" font-size="9.3">50</text>
<path d="M431.6 843.5h-4.5" class="tk"/>
<text transform="translate(424.4 846.7) scale(1.17 1.0)" font-size="9.3" class="e">5</text>
<path d="M431.6 799.7h-4.5" class="tk"/>
<text transform="translate(424.4 802.9) scale(1.17 1.0)" font-size="9.3" class="e">34</text>
<path d="M431.6 755.9h-4.5" class="tk"/>
<text transform="translate(424.4 759.1) scale(1.17 1.0)" font-size="9.3" class="e">63</text>
<path d="M431.6 712.1h-4.5" class="tk"/>
<text transform="translate(424.4 715.3) scale(1.17 1.0)" font-size="9.3" class="e">92</text>
<path d="M431.6 668.3h-4.5" class="tk"/>
<text transform="translate(424.4 671.5) scale(1.17 1.0)" font-size="9.3" class="e">121</text>
<path d="M431.6 624.5h-4.5" class="tk"/>
<text transform="translate(424.4 627.7) scale(1.17 1.0)" font-size="9.3" class="e">150</text>
<rect x="444.1" y="770.3" width="19" height="12.4" class="lb"/>
<text transform="translate(453.6 779.9) scale(1.1348999999999998 1.0)" font-size="9.765">60</text>
<rect x="534.7" y="746.5" width="19" height="12.4" class="lb"/>
<text transform="translate(544.2 756.1) scale(1.1348999999999998 1.0)" font-size="9.765">70</text>
<rect x="589" y="691.7" width="19" height="12.4" class="lb"/>
<text transform="translate(598.5 701.3) scale(1.1348999999999998 1.0)" font-size="9.765">80</text>
<rect x="635.5" y="645.6" width="19" height="12.4" class="lb"/>
<text transform="translate(645 655.2) scale(1.1348999999999998 1.0)" font-size="9.765">90</text>
<circle cx="431.6" cy="624.5" r="2.2" class="dp"/>
<circle cx="670.6" cy="624.5" r="2.2" class="dp"/>
<circle cx="431.6" cy="843.5" r="2.2" class="dp"/>
<circle cx="670.6" cy="843.5" r="2.2" class="dp"/>
<circle cx="551" cy="733.8" r="2" class="dp"/>
<text transform="translate(547.4 740.6) scale(1.1 1.0)" font-size="9">5</text>
<text transform="translate(508.8 619) scale(1.18 1.0)" font-size="10.2" class="s" word-spacing="4.8">Removal (%)</text>
<text transform="translate(550.8 883.2) scale(1.13 1.0)" font-size="11">B: Dose (mg)</text>
<text transform="translate(397 731.5) rotate(-90) scale(1.0 1.08)" font-size="11.5">C: Contact time (min)</text>
<path d="M655.2 13.5Q657.5 17.5 660.6 20" class="cl"/>
<path d="M65.6 154.4L59.4 31.3L195.3 2L197.3 111.8Z M197.3 111.8L195.3 2L334.8 29.5L328.4 152.5Z" fill="#fff" stroke="none"/>
<path d="M65.6 154.4L59.4 31.3M92 145.9L86.6 25.4M118.3 137.4L113.8 19.6M144.7 128.9L140.9 13.7M171 120.4L168.1 7.9M197.3 111.8L195.3 2M197.3 111.8L195.3 2M216.1 117.6L215.2 5.9M234.8 123.5L235.2 9.9M253.5 129.3L255.1 13.8M272.2 135.1L275 17.7M290.9 140.9L294.9 21.6M309.6 146.7L314.9 25.6M328.4 152.5L334.8 29.5M65.6 154.4L197.3 111.8L328.4 152.5M64.7 136.8L197.1 96.2L329.3 134.9M63.8 119.2L196.8 80.5L330.2 117.3M62.9 101.6L196.5 64.8L331.1 99.8M62.1 84.1L196.2 49.1L332 82.2M61.2 66.5L195.9 33.4L333 64.6M60.3 48.9L195.6 17.7L333.9 47.1M59.4 31.3L195.3 2L334.8 29.5M65.6 154.4L67.6 193.8M328.4 152.5L326.3 191.8" class="wg"/>
<path d="M67.6 193.8L200 249.3L326.3 191.8L198 147Z" fill="#666"/>
<path d="M87.6 187C91.5 185.7 103.1 181.7 111.1 179.4C119.1 177.1 127.4 175.2 135.6 173.3C143.8 171.4 151.9 169.5 160.1 167.8C168.3 166.1 180.8 163.8 185 163" fill="none" stroke="#e08028" stroke-width="1.4" stroke-linecap="round"/>
<path d="M80 198.4C83.5 197.3 93 194 100.9 191.7C108.8 189.4 118.9 186.6 127.4 184.5C135.9 182.4 144.2 181 152 179.4C159.8 177.8 166.4 176.2 174.4 174.7C182.4 173.2 192.3 171.5 200 170.5C207.7 169.5 214.5 169.2 220.5 168.8C226.5 168.4 230.3 168.1 235.9 168C241.5 167.9 251.2 168.4 254.3 168.5" fill="none" stroke="#e6d228" stroke-width="1.4" stroke-linecap="round"/>
<path d="M93.7 204.6C98.3 203.3 111.6 199.1 121.3 196.8C131 194.5 141.8 192.4 152 190.7C162.2 189 174.6 187.5 182.6 186.6C190.6 185.7 192.8 185.5 200 185.2C207.2 184.9 218 184.3 225.7 184.7C233.4 185.1 239.3 186.3 246.1 187.8C252.9 189.3 260.7 191.7 266.5 193.9C272.3 196.1 277.1 198.6 280.8 201.1C284.6 203.6 287.6 207.4 289 208.7" fill="none" stroke="#96dc1e" stroke-width="1.4" stroke-linecap="round"/>
<path d="M111.1 212.1C116.2 211.1 131.5 207.6 141.7 206C151.9 204.4 163.5 203.3 172.4 202.5C181.3 201.7 187.8 201.3 195 201.2C202.2 201.1 208.6 201.3 215.4 202.1C222.2 202.9 229.8 204.3 235.9 206.2C242 208.1 247.8 210.9 252.2 213.4C256.6 215.9 260.7 219.8 262.4 221.1" fill="none" stroke="#32cd50" stroke-width="1.4" stroke-linecap="round"/>
<path d="M135.2 221.9C138 221.6 145.8 220.6 152 220.3C158.2 220 165.2 219.7 172.4 219.9C179.6 220.1 188.5 220.7 195 221.5C201.5 222.3 206.6 223.2 211.4 224.6C216.2 226 220 228 223.6 229.7C227.2 231.4 231.3 234 232.8 234.8" fill="none" stroke="#28cdbe" stroke-width="1.4" stroke-linecap="round"/>
<path d="M300.3 183.7C301.6 184.7 306 187.6 308.4 189.9C310.8 192.2 313.6 196.2 314.6 197.4" fill="none" stroke="#e6d228" stroke-width="1.4" stroke-linecap="round"/>
<path d="M67.6 193.8l-1 1.6M86.5 201.7l-1 1.6M105.4 209.7l-1 1.6M124.3 217.6l-1 1.6M143.3 225.5l-1 1.6M162.2 233.4l-1 1.6M181.1 241.4l-1 1.6M200 249.3l-1 1.6M200 249.3l1 1.6M225.3 237.8l1 1.6M250.5 226.3l1 1.6M275.8 214.8l1 1.6M301 203.3l1 1.6M326.3 191.8l1 1.6M65.6 154.4h-1.5M64.7 136.8h-1.5M63.8 119.2h-1.5M62.9 101.6h-1.5M62.1 84.1h-1.5M61.2 66.5h-1.5M60.3 48.9h-1.5M59.4 31.3h-1.5" stroke="#111" stroke-width="1.4" fill="none"/>
<clipPath id="cpa"><path d="M61.2 67.1L68.5 77L75.7 86.6L82.8 95.7L90 104.5L97 112.8L104.1 120.8L111 128.3L118 135.4L124.9 142.1L131.8 148.3L138.6 154.1L145.5 159.4L152.3 164.3L159.1 168.6L165.8 172.5L172.6 176L179.3 178.9L186.1 181.3L192.8 183.2L199.5 184.6L206 178.8L212.5 173L219 167.2L225.5 161.3L232.1 155.5L238.7 149.7L245.2 143.8L251.9 137.9L258.5 132.1L265.1 126.2L271.8 120.3L278.5 114.4L285.2 108.5L291.9 102.6L298.7 96.7L305.5 90.8L312.3 84.9L319.1 79L326 73.1L332.8 67.2L325.8 68.8L318.9 70L311.9 70.7L305.1 70.9L298.2 70.6L291.4 69.9L284.5 68.7L277.7 67.1L271 65L264.2 62.5L257.4 59.6L250.6 56.2L243.8 52.5L237 48.3L230.2 43.8L223.3 38.8L216.4 33.5L209.5 27.8L202.5 21.8L195.5 15.4L188.8 18.2L182.1 21L175.3 23.8L168.6 26.6L161.9 29.4L155.1 32.1L148.4 34.8L141.7 37.5L135 40.1L128.3 42.7L121.6 45.3L114.9 47.9L108.1 50.4L101.4 52.9L94.7 55.3L88 57.8L81.3 60.2L74.6 62.5L67.9 64.8Z"/></clipPath>
<g clip-path="url(#cpa)"><g filter="url(#bl)"><path d="M188.2 -1L195.3 5.9L202 3.2L194.9 -3.6Z" fill="#ff0000"/><path d="M181.4 1.5L188.5 8.6L195.3 5.9L188.2 -1Z" fill="#ff0000"/><path d="M195.3 5.9L202.3 12.5L209 9.6L202 3.2Z" fill="#ff0000"/><path d="M174.7 4L181.8 11.3L188.5 8.6L181.4 1.5Z" fill="#ff0000"/><path d="M188.5 8.6L195.5 15.4L202.3 12.5L195.3 5.9Z" fill="#ff0000"/><path d="M202.3 12.5L209.3 18.8L216 15.7L209 9.6Z" fill="#ff0000"/><path d="M167.9 6.5L175 14L181.8 11.3L174.7 4Z" fill="#ff0000"/><path d="M181.8 11.3L188.8 18.2L195.5 15.4L188.5 8.6Z" fill="#ff0000"/><path d="M195.5 15.4L202.5 21.8L209.3 18.8L202.3 12.5Z" fill="#ff0000"/><path d="M209.3 18.8L216.2 24.6L223 21.4L216 15.7Z" fill="#ff0000"/><path d="M175 14L182.1 21L188.8 18.2L181.8 11.3Z" fill="#ff0000"/><path d="M202.5 21.8L209.5 27.8L216.2 24.6L209.3 18.8Z" fill="#ff0000"/><path d="M216.2 24.6L223.1 30.2L229.9 26.8L223 21.4Z" fill="#ff2400"/><path d="M161.1 9L168.3 16.6L175 14L167.9 6.5Z" fill="#ff0000"/><path d="M188.8 18.2L195.8 24.8L202.5 21.8L195.5 15.4Z" fill="#ff0000"/><path d="M168.3 16.6L175.3 23.8L182.1 21L175 14Z" fill="#ff0000"/><path d="M195.8 24.8L202.8 31L209.5 27.8L202.5 21.8Z" fill="#ff0000"/><path d="M154.4 11.4L161.5 19.2L168.3 16.6L161.1 9Z" fill="#ff0000"/><path d="M182.1 21L189.1 27.8L195.8 24.8L188.8 18.2Z" fill="#ff0000"/><path d="M209.5 27.8L216.4 33.5L223.1 30.2L216.2 24.6Z" fill="#ff2e00"/><path d="M223.1 30.2L230 35.3L236.8 31.8L229.9 26.8Z" fill="#ff5d00"/><path d="M161.5 19.2L168.6 26.6L175.3 23.8L168.3 16.6Z" fill="#ff0000"/><path d="M175.3 23.8L182.4 30.8L189.1 27.8L182.1 21Z" fill="#ff0000"/><path d="M189.1 27.8L196 34.2L202.8 31L195.8 24.8Z" fill="#ff0000"/><path d="M202.8 31L209.7 36.9L216.4 33.5L209.5 27.8Z" fill="#ff3800"/><path d="M230 35.3L236.9 40.1L243.6 36.4L236.8 31.8Z" fill="#ff9000"/><path d="M147.6 13.8L154.8 21.8L161.5 19.2L154.4 11.4Z" fill="#ff0000"/><path d="M216.4 33.5L223.3 38.8L230 35.3L223.1 30.2Z" fill="#ff6800"/><path d="M140.9 16.2L148 24.3L154.8 21.8L147.6 13.8Z" fill="#ff0000"/><path d="M154.8 21.8L161.9 29.4L168.6 26.6L161.5 19.2Z" fill="#ff0000"/><path d="M168.6 26.6L175.6 33.7L182.4 30.8L175.3 23.8Z" fill="#ff0000"/><path d="M182.4 30.8L189.3 37.3L196 34.2L189.1 27.8Z" fill="#ff0800"/><path d="M196 34.2L203 40.2L209.7 36.9L202.8 31Z" fill="#ff4300"/><path d="M209.7 36.9L216.6 42.3L223.3 38.8L216.4 33.5Z" fill="#ff7400"/><path d="M223.3 38.8L230.2 43.8L236.9 40.1L230 35.3Z" fill="#ff9d00"/><path d="M236.9 40.1L243.7 44.5L250.4 40.6L243.6 36.4Z" fill="#ffbd00"/><path d="M175.6 33.7L182.6 40.4L189.3 37.3L182.4 30.8Z" fill="#ff1300"/><path d="M134.1 18.6L141.3 26.9L148 24.3L140.9 16.2Z" fill="#ff0000"/><path d="M148 24.3L155.1 32.1L161.9 29.4L154.8 21.8Z" fill="#ff0000"/><path d="M161.9 29.4L168.9 36.6L175.6 33.7L168.6 26.6Z" fill="#ff0000"/><path d="M189.3 37.3L196.3 43.5L203 40.2L196 34.2Z" fill="#ff4e00"/><path d="M203 40.2L209.9 45.8L216.6 42.3L209.7 36.9Z" fill="#ff8100"/><path d="M216.6 42.3L223.4 47.4L230.2 43.8L223.3 38.8Z" fill="#ffab00"/><path d="M230.2 43.8L237 48.3L243.7 44.5L236.9 40.1Z" fill="#ffcb00"/><path d="M243.7 44.5L250.5 48.5L257.3 44.5L250.4 40.6Z" fill="#ffe300"/><path d="M141.3 26.9L148.4 34.8L155.1 32.1L148 24.3Z" fill="#ff0000"/><path d="M168.9 36.6L175.9 43.5L182.6 40.4L175.6 33.7Z" fill="#ff1e00"/><path d="M182.6 40.4L189.6 46.8L196.3 43.5L189.3 37.3Z" fill="#ff5a00"/><path d="M209.9 45.8L216.7 51.1L223.4 47.4L216.6 42.3Z" fill="#ffb900"/><path d="M250.5 48.5L257.3 52.1L264.1 47.9L257.3 44.5Z" fill="#fcff00"/><path d="M127.4 20.9L134.6 29.4L141.3 26.9L134.1 18.6Z" fill="#ff0000"/><path d="M155.1 32.1L162.2 39.5L168.9 36.6L161.9 29.4Z" fill="#ff0000"/><path d="M196.3 43.5L203.2 49.3L209.9 45.8L203 40.2Z" fill="#ff8e00"/><path d="M223.4 47.4L230.3 52.2L237 48.3L230.2 43.8Z" fill="#ffdb00"/><path d="M237 48.3L243.8 52.5L250.5 48.5L243.7 44.5Z" fill="#fff300"/><path d="M134.6 29.4L141.7 37.5L148.4 34.8L141.3 26.9Z" fill="#ff0000"/><path d="M162.2 39.5L169.2 46.6L175.9 43.5L168.9 36.6Z" fill="#ff2900"/><path d="M203.2 49.3L210 54.7L216.7 51.1L209.9 45.8Z" fill="#ffc800"/><path d="M120.7 23.2L127.9 31.8L134.6 29.4L127.4 20.9Z" fill="#ff0000"/><path d="M148.4 34.8L155.5 42.4L162.2 39.5L155.1 32.1Z" fill="#ff0000"/><path d="M175.9 43.5L182.9 50L189.6 46.8L182.6 40.4Z" fill="#ff6700"/><path d="M189.6 46.8L196.5 52.7L203.2 49.3L196.3 43.5Z" fill="#ff9c00"/><path d="M216.7 51.1L223.6 56L230.3 52.2L223.4 47.4Z" fill="#ffeb00"/><path d="M230.3 52.2L237.1 56.5L243.8 52.5L237 48.3Z" fill="#fbff00"/><path d="M243.8 52.5L250.6 56.2L257.3 52.1L250.5 48.5Z" fill="#f1ff00"/><path d="M257.3 52.1L264.1 55.3L270.9 51L264.1 47.9Z" fill="#ecff00"/><path d="M127.9 31.8L135 40.1L141.7 37.5L134.6 29.4Z" fill="#ff0000"/><path d="M141.7 37.5L148.8 45.2L155.5 42.4L148.4 34.8Z" fill="#ff0000"/><path d="M155.5 42.4L162.5 49.6L169.2 46.6L162.2 39.5Z" fill="#ff3600"/><path d="M169.2 46.6L176.2 53.2L182.9 50L175.9 43.5Z" fill="#ff7500"/><path d="M196.5 52.7L203.3 58.3L210 54.7L203.2 49.3Z" fill="#ffd800"/><path d="M210 54.7L216.9 59.7L223.6 56L216.7 51.1Z" fill="#fffb00"/><path d="M264.1 55.3L270.9 58L277.7 53.6L270.9 51Z" fill="#dfff00"/><path d="M113.9 25.4L121.1 34.3L127.9 31.8L120.7 23.2Z" fill="#ff0000"/><path d="M182.9 50L189.8 56.2L196.5 52.7L189.6 46.8Z" fill="#ffab00"/><path d="M223.6 56L230.4 60.4L237.1 56.5L230.3 52.2Z" fill="#f0ff00"/><path d="M237.1 56.5L243.9 60.4L250.6 56.2L243.8 52.5Z" fill="#e5ff00"/><path d="M250.6 56.2L257.4 59.6L264.1 55.3L257.3 52.1Z" fill="#dfff00"/><path d="M121.1 34.3L128.3 42.7L135 40.1L127.9 31.8Z" fill="#ff0000"/><path d="M135 40.1L142.1 48L148.8 45.2L141.7 37.5Z" fill="#ff0000"/><path d="M148.8 45.2L155.8 52.6L162.5 49.6L155.5 42.4Z" fill="#ff4300"/><path d="M162.5 49.6L169.5 56.5L176.2 53.2L169.2 46.6Z" fill="#ff8300"/><path d="M176.2 53.2L183.1 59.5L189.8 56.2L182.9 50Z" fill="#ffba00"/><path d="M189.8 56.2L196.6 61.9L203.3 58.3L196.5 52.7Z" fill="#ffe800"/><path d="M203.3 58.3L210.2 63.5L216.9 59.7L210 54.7Z" fill="#f6ff00"/><path d="M216.9 59.7L223.7 64.4L230.4 60.4L223.6 56Z" fill="#e5ff00"/><path d="M230.4 60.4L237.2 64.5L243.9 60.4L237.1 56.5Z" fill="#d9ff00"/><path d="M243.9 60.4L250.7 63.9L257.4 59.6L250.6 56.2Z" fill="#d2ff00"/><path d="M257.4 59.6L264.2 62.5L270.9 58L264.1 55.3Z" fill="#d2ff00"/><path d="M270.9 58L277.7 60.4L284.5 55.8L277.7 53.6Z" fill="#d7ff00"/><path d="M107.2 27.7L114.4 36.7L121.1 34.3L113.9 25.4Z" fill="#ff0000"/><path d="M142.1 48L149.1 55.6L155.8 52.6L148.8 45.2Z" fill="#ff5000"/><path d="M100.4 29.9L107.7 39L114.4 36.7L107.2 27.7Z" fill="#ff0000"/><path d="M114.4 36.7L121.6 45.3L128.3 42.7L121.1 34.3Z" fill="#ff0000"/><path d="M128.3 42.7L135.4 50.8L142.1 48L135 40.1Z" fill="#ff0600"/><path d="M155.8 52.6L162.8 59.6L169.5 56.5L162.5 49.6Z" fill="#ff9100"/><path d="M169.5 56.5L176.4 62.9L183.1 59.5L176.2 53.2Z" fill="#ffca00"/><path d="M183.1 59.5L190 65.5L196.6 61.9L189.8 56.2Z" fill="#fff900"/><path d="M196.6 61.9L203.5 67.3L210.2 63.5L203.3 58.3Z" fill="#ebff00"/><path d="M210.2 63.5L217 68.3L223.7 64.4L216.9 59.7Z" fill="#d8ff00"/><path d="M223.7 64.4L230.5 68.6L237.2 64.5L230.4 60.4Z" fill="#ccff00"/><path d="M237.2 64.5L244 68.1L250.7 63.9L243.9 60.4Z" fill="#c5ff00"/><path d="M250.7 63.9L257.4 66.9L264.2 62.5L257.4 59.6Z" fill="#c4ff00"/><path d="M264.2 62.5L271 65L277.7 60.4L270.9 58Z" fill="#c8ff00"/><path d="M277.7 60.4L284.5 62.3L291.3 57.5L284.5 55.8Z" fill="#d2ff00"/><path d="M107.7 39L114.9 47.9L121.6 45.3L114.4 36.7Z" fill="#ff0000"/><path d="M135.4 50.8L142.4 58.6L149.1 55.6L142.1 48Z" fill="#ff5f00"/><path d="M149.1 55.6L156.1 62.8L162.8 59.6L155.8 52.6Z" fill="#ffa100"/><path d="M176.4 62.9L183.3 69L190 65.5L183.1 59.5Z" fill="#f8ff00"/><path d="M217 68.3L223.8 72.7L230.5 68.6L223.7 64.4Z" fill="#bfff00"/><path d="M230.5 68.6L237.3 72.4L244 68.1L237.2 64.5Z" fill="#b7ff00"/><path d="M244 68.1L250.7 71.4L257.4 66.9L250.7 63.9Z" fill="#b5ff00"/><path d="M162.8 59.6L169.7 66.3L176.4 62.9L169.5 56.5Z" fill="#ffda00"/><path d="M190 65.5L196.8 71L203.5 67.3L196.6 61.9Z" fill="#dfff00"/><path d="M257.4 66.9L264.2 69.6L271 65L264.2 62.5Z" fill="#b9ff00"/><path d="M284.5 62.3L291.3 63.8L298.1 58.9L291.3 57.5Z" fill="#d2ff00"/><path d="M93.7 32L100.9 41.4L107.7 39L100.4 29.9Z" fill="#ff0000"/><path d="M121.6 45.3L128.7 53.6L135.4 50.8L128.3 42.7Z" fill="#ff1300"/><path d="M203.5 67.3L210.3 72.2L217 68.3L210.2 63.5Z" fill="#ccff00"/><path d="M271 65L277.7 67.1L284.5 62.3L277.7 60.4Z" fill="#c3ff00"/><path d="M169.7 66.3L176.6 72.5L183.3 69L176.4 62.9Z" fill="#ecff00"/><path d="M86.9 34.2L94.2 43.7L100.9 41.4L93.7 32Z" fill="#ff0000"/><path d="M100.9 41.4L108.1 50.4L114.9 47.9L107.7 39Z" fill="#ff0000"/><path d="M114.9 47.9L122 56.3L128.7 53.6L121.6 45.3Z" fill="#ff2100"/><path d="M128.7 53.6L135.7 61.5L142.4 58.6L135.4 50.8Z" fill="#ff6e00"/><path d="M142.4 58.6L149.4 65.9L156.1 62.8L149.1 55.6Z" fill="#ffb100"/><path d="M156.1 62.8L163 69.6L169.7 66.3L162.8 59.6Z" fill="#ffeb00"/><path d="M183.3 69L190.1 74.7L196.8 71L190 65.5Z" fill="#d3ff00"/><path d="M196.8 71L203.6 76.1L210.3 72.2L203.5 67.3Z" fill="#bfff00"/><path d="M210.3 72.2L217.1 76.8L223.8 72.7L217 68.3Z" fill="#b1ff00"/><path d="M223.8 72.7L230.6 76.7L237.3 72.4L230.5 68.6Z" fill="#a9ff00"/><path d="M237.3 72.4L244 75.8L250.7 71.4L244 68.1Z" fill="#a6ff00"/><path d="M250.7 71.4L257.5 74.2L264.2 69.6L257.4 66.9Z" fill="#a9ff00"/><path d="M291.3 63.8L298.1 64.8L304.9 59.8L298.1 58.9Z" fill="#d5ff00"/><path d="M264.2 69.6L271 71.8L277.7 67.1L271 65Z" fill="#b2ff00"/><path d="M277.7 67.1L284.5 68.7L291.3 63.8L284.5 62.3Z" fill="#c1ff00"/><path d="M94.2 43.7L101.4 52.9L108.1 50.4L100.9 41.4Z" fill="#ff0000"/><path d="M122 56.3L129.1 64.4L135.7 61.5L128.7 53.6Z" fill="#ff7d00"/><path d="M163 69.6L170 76L176.6 72.5L169.7 66.3Z" fill="#e0ff00"/><path d="M230.6 76.7L237.3 80.2L244 75.8L237.3 72.4Z" fill="#97ff00"/><path d="M176.6 72.5L183.5 78.4L190.1 74.7L183.3 69Z" fill="#c6ff00"/><path d="M244 75.8L250.8 78.8L257.5 74.2L250.7 71.4Z" fill="#99ff00"/><path d="M298.1 64.8L305 65.4L311.8 60.2L304.9 59.8Z" fill="#ddff00"/><path d="M80.2 36.3L87.5 46L94.2 43.7L86.9 34.2Z" fill="#ff0000"/><path d="M108.1 50.4L115.3 59L122 56.3L114.9 47.9Z" fill="#ff3000"/><path d="M135.7 61.5L142.8 69L149.4 65.9L142.4 58.6Z" fill="#ffc100"/><path d="M149.4 65.9L156.4 72.9L163 69.6L156.1 62.8Z" fill="#fffd00"/><path d="M190.1 74.7L197 80L203.6 76.1L196.8 71Z" fill="#b2ff00"/><path d="M203.6 76.1L210.4 80.8L217.1 76.8L210.3 72.2Z" fill="#a3ff00"/><path d="M217.1 76.8L223.9 80.9L230.6 76.7L223.8 72.7Z" fill="#9aff00"/><path d="M257.5 74.2L264.3 76.6L271 71.8L264.2 69.6Z" fill="#a2ff00"/><path d="M271 71.8L277.8 73.6L284.5 68.7L277.7 67.1Z" fill="#b0ff00"/><path d="M284.5 68.7L291.4 69.9L298.1 64.8L291.3 63.8Z" fill="#c3ff00"/><path d="M87.5 46L94.7 55.3L101.4 52.9L94.2 43.7Z" fill="#ff0000"/><path d="M101.4 52.9L108.6 61.7L115.3 59L108.1 50.4Z" fill="#ff3f00"/><path d="M115.3 59L122.4 67.3L129.1 64.4L122 56.3Z" fill="#ff8d00"/><path d="M129.1 64.4L136.1 72.1L142.8 69L135.7 61.5Z" fill="#ffd300"/><path d="M156.4 72.9L163.3 79.5L170 76L163 69.6Z" fill="#d4ff00"/><path d="M170 76L176.8 82L183.5 78.4L176.6 72.5Z" fill="#b9ff00"/><path d="M183.5 78.4L190.3 83.8L197 80L190.1 74.7Z" fill="#a4ff00"/><path d="M197 80L203.8 84.8L210.4 80.8L203.6 76.1Z" fill="#95ff00"/><path d="M210.4 80.8L217.2 85.1L223.9 80.9L217.1 76.8Z" fill="#8bff00"/><path d="M223.9 80.9L230.7 84.6L237.3 80.2L230.6 76.7Z" fill="#87ff00"/><path d="M237.3 80.2L244.1 83.3L250.8 78.8L244 75.8Z" fill="#89ff00"/><path d="M305 65.4L311.9 65.5L318.7 60.2L311.8 60.2Z" fill="#e8ff00"/><path d="M250.8 78.8L257.6 81.3L264.3 76.6L257.5 74.2Z" fill="#90ff00"/><path d="M264.3 76.6L271.1 78.5L277.8 73.6L271 71.8Z" fill="#9eff00"/><path d="M277.8 73.6L284.6 74.9L291.4 69.9L284.5 68.7Z" fill="#b1ff00"/><path d="M291.4 69.9L298.2 70.6L305 65.4L298.1 64.8Z" fill="#caff00"/><path d="M73.5 38.3L80.8 48.2L87.5 46L80.2 36.3Z" fill="#ff0000"/><path d="M142.8 69L149.7 76.2L156.4 72.9L149.4 65.9Z" fill="#f5ff00"/><path d="M108.6 61.7L115.7 70.1L122.4 67.3L115.3 59Z" fill="#ff9e00"/><path d="M66.7 40.4L74.1 50.4L80.8 48.2L73.5 38.3Z" fill="#ff0000"/><path d="M80.8 48.2L88 57.8L94.7 55.3L87.5 46Z" fill="#ff0000"/><path d="M94.7 55.3L101.9 64.3L108.6 61.7L101.4 52.9Z" fill="#ff4f00"/><path d="M122.4 67.3L129.4 75.2L136.1 72.1L129.1 64.4Z" fill="#ffe500"/><path d="M149.7 76.2L156.7 83L163.3 79.5L156.4 72.9Z" fill="#c7ff00"/><path d="M163.3 79.5L170.2 85.7L176.8 82L170 76Z" fill="#acff00"/><path d="M176.8 82L183.7 87.7L190.3 83.8L183.5 78.4Z" fill="#96ff00"/><path d="M190.3 83.8L197.1 88.9L203.8 84.8L197 80Z" fill="#86ff00"/><path d="M203.8 84.8L210.6 89.3L217.2 85.1L210.4 80.8Z" fill="#7cff00"/><path d="M217.2 85.1L224 89L230.7 84.6L223.9 80.9Z" fill="#77ff00"/><path d="M230.7 84.6L237.4 87.9L244.1 83.3L237.3 80.2Z" fill="#78ff00"/><path d="M244.1 83.3L250.9 86L257.6 81.3L250.8 78.8Z" fill="#7fff00"/><path d="M257.6 81.3L264.3 83.4L271.1 78.5L264.3 76.6Z" fill="#8cff00"/><path d="M271.1 78.5L277.9 80L284.6 74.9L277.8 73.6Z" fill="#9eff00"/><path d="M284.6 74.9L291.4 75.8L298.2 70.6L291.4 69.9Z" fill="#b6ff00"/><path d="M298.2 70.6L305.1 70.9L311.9 65.5L305 65.4Z" fill="#d4ff00"/><path d="M311.9 65.5L318.8 65.2L325.6 59.7L318.7 60.2Z" fill="#f8ff00"/><path d="M136.1 72.1L143.1 79.4L149.7 76.2L142.8 69Z" fill="#e9ff00"/><path d="M74.1 50.4L81.3 60.2L88 57.8L80.8 48.2Z" fill="#ff0500"/><path d="M101.9 64.3L109 73L115.7 70.1L108.6 61.7Z" fill="#ffb000"/><path d="M115.7 70.1L122.8 78.2L129.4 75.2L122.4 67.3Z" fill="#fff700"/><path d="M143.1 79.4L150 86.4L156.7 83L149.7 76.2Z" fill="#baff00"/><path d="M183.7 87.7L190.5 92.9L197.1 88.9L190.3 83.8Z" fill="#77ff00"/><path d="M197.1 88.9L203.9 93.5L210.6 89.3L203.8 84.8Z" fill="#6cff00"/><path d="M210.6 89.3L217.4 93.3L224 89L217.2 85.1Z" fill="#66ff00"/><path d="M224 89L230.8 92.4L237.4 87.9L230.7 84.6Z" fill="#67ff00"/><path d="M250.9 86L257.6 88.2L264.3 83.4L257.6 81.3Z" fill="#79ff00"/><path d="M264.3 83.4L271.1 85L277.9 80L271.1 78.5Z" fill="#8bff00"/><path d="M277.9 80L284.7 81L291.4 75.8L284.6 74.9Z" fill="#a2ff00"/><path d="M291.4 75.8L298.3 76.2L305.1 70.9L298.2 70.6Z" fill="#bfff00"/><path d="M318.8 65.2L325.7 64.4L332.6 58.7L325.6 59.7Z" fill="#ffec00"/><path d="M129.4 75.2L136.4 82.7L143.1 79.4L136.1 72.1Z" fill="#dcff00"/><path d="M156.7 83L163.6 89.3L170.2 85.7L163.3 79.5Z" fill="#9eff00"/><path d="M170.2 85.7L177 91.5L183.7 87.7L176.8 82Z" fill="#87ff00"/><path d="M60 42.4L67.3 52.6L74.1 50.4L66.7 40.4Z" fill="#ff0000"/><path d="M88 57.8L95.2 66.9L101.9 64.3L94.7 55.3Z" fill="#ff5f00"/><path d="M237.4 87.9L244.2 90.7L250.9 86L244.1 83.3Z" fill="#6dff00"/><path d="M305.1 70.9L311.9 70.7L318.8 65.2L311.9 65.5Z" fill="#e2ff00"/><path d="M136.4 82.7L143.4 89.8L150 86.4L143.1 79.4Z" fill="#adff00"/><path d="M190.5 92.9L197.3 97.6L203.9 93.5L197.1 88.9Z" fill="#5bff00"/><path d="M203.9 93.5L210.7 97.7L217.4 93.3L210.6 89.3Z" fill="#55ff00"/><path d="M67.3 52.6L74.6 62.5L81.3 60.2L74.1 50.4Z" fill="#ff1500"/><path d="M81.3 60.2L88.5 69.5L95.2 66.9L88 57.8Z" fill="#ff7000"/><path d="M95.2 66.9L102.4 75.7L109 73L101.9 64.3Z" fill="#ffc200"/><path d="M109 73L116.1 81.2L122.8 78.2L115.7 70.1Z" fill="#f8ff00"/><path d="M217.4 93.3L224.1 96.9L230.8 92.4L224 89Z" fill="#55ff00"/><path d="M257.6 88.2L264.4 90L271.1 85L264.3 83.4Z" fill="#77ff00"/><path d="M271.1 85L277.9 86.2L284.7 81L277.9 80Z" fill="#8eff00"/><path d="M284.7 81L291.5 81.5L298.3 76.2L291.4 75.8Z" fill="#aaff00"/><path d="M325.7 64.4L332.7 63.1L339.6 57.3L332.6 58.7Z" fill="#ffc800"/><path d="M122.8 78.2L129.8 85.9L136.4 82.7L129.4 75.2Z" fill="#cfff00"/><path d="M150 86.4L156.9 92.9L163.6 89.3L156.7 83Z" fill="#90ff00"/><path d="M177 91.5L183.9 96.8L190.5 92.9L183.7 87.7Z" fill="#67ff00"/><path d="M163.6 89.3L170.4 95.3L177 91.5L170.2 85.7Z" fill="#79ff00"/><path d="M230.8 92.4L237.5 95.4L244.2 90.7L237.4 87.9Z" fill="#5bff00"/><path d="M244.2 90.7L251 93.1L257.6 88.2L250.9 86Z" fill="#66ff00"/><path d="M298.3 76.2L305.1 76.1L311.9 70.7L305.1 70.9Z" fill="#cdff00"/><path d="M311.9 70.7L318.9 70L325.7 64.4L318.8 65.2Z" fill="#f5ff00"/><path d="M53.2 44.3L60.6 54.8L67.3 52.6L60 42.4Z" fill="#ff0000"/><path d="M88.5 69.5L95.7 78.5L102.4 75.7L95.2 66.9Z" fill="#ffd400"/><path d="M129.8 85.9L136.7 93.2L143.4 89.8L136.4 82.7Z" fill="#9fff00"/><path d="M197.3 97.6L204.1 102L210.7 97.7L203.9 93.5Z" fill="#44ff00"/><path d="M210.7 97.7L217.5 101.4L224.1 96.9L217.4 93.3Z" fill="#43ff00"/><path d="M264.4 90L271.2 91.3L277.9 86.2L271.1 85Z" fill="#79ff00"/><path d="M277.9 86.2L284.7 86.9L291.5 81.5L284.7 81Z" fill="#95ff00"/><path d="M332.7 63.1L339.7 61.3L346.7 55.4L339.6 57.3Z" fill="#ff9d00"/><path d="M143.4 89.8L150.3 96.5L156.9 92.9L150 86.4Z" fill="#81ff00"/><path d="M183.9 96.8L190.7 101.8L197.3 97.6L190.5 92.9Z" fill="#4bff00"/><path d="M46.5 46.2L53.9 56.9L60.6 54.8L53.2 44.3Z" fill="#ff0000"/><path d="M60.6 54.8L67.9 64.8L74.6 62.5L67.3 52.6Z" fill="#ff2600"/><path d="M74.6 62.5L81.8 72.1L88.5 69.5L81.3 60.2Z" fill="#ff8200"/><path d="M102.4 75.7L109.4 84.2L116.1 81.2L109 73Z" fill="#ebff00"/><path d="M116.1 81.2L123.1 89L129.8 85.9L122.8 78.2Z" fill="#c2ff00"/><path d="M156.9 92.9L163.8 99L170.4 95.3L163.6 89.3Z" fill="#69ff00"/><path d="M170.4 95.3L177.3 100.8L183.9 96.8L177 91.5Z" fill="#57ff00"/><path d="M224.1 96.9L230.9 100.1L237.5 95.4L230.8 92.4Z" fill="#48ff00"/><path d="M237.5 95.4L244.3 97.9L251 93.1L244.2 90.7Z" fill="#53ff00"/><path d="M251 93.1L257.7 95L264.4 90L257.6 88.2Z" fill="#63ff00"/><path d="M291.5 81.5L298.3 81.6L305.1 76.1L298.3 76.2Z" fill="#b6ff00"/><path d="M305.1 76.1L312 75.6L318.9 70L311.9 70.7Z" fill="#deff00"/><path d="M318.9 70L325.8 68.8L332.7 63.1L325.7 64.4Z" fill="#ffec00"/><path d="M53.9 56.9L61.2 67.1L67.9 64.8L60.6 54.8Z" fill="#ff3700"/><path d="M81.8 72.1L89 81.2L95.7 78.5L88.5 69.5Z" fill="#ffe800"/><path d="M95.7 78.5L102.8 87.1L109.4 84.2L102.4 75.7Z" fill="#deff00"/><path d="M123.1 89L130.1 96.5L136.7 93.2L129.8 85.9Z" fill="#90ff00"/><path d="M204.1 102L210.9 105.9L217.5 101.4L210.7 97.7Z" fill="#31ff00"/><path d="M271.2 91.3L278 92.2L284.7 86.9L277.9 86.2Z" fill="#7fff00"/><path d="M339.7 61.3L346.8 59L353.8 52.9L346.7 55.4Z" fill="#ff6b00"/><path d="M136.7 93.2L143.7 100L150.3 96.5L143.4 89.8Z" fill="#72ff00"/><path d="M190.7 101.8L197.5 106.3L204.1 102L197.3 97.6Z" fill="#32ff00"/><path d="M150.3 96.5L157.2 102.8L163.8 99L156.9 92.9Z" fill="#5aff00"/><path d="M163.8 99L170.6 104.7L177.3 100.8L170.4 95.3Z" fill="#47ff00"/><path d="M177.3 100.8L184.1 105.9L190.7 101.8L183.9 96.8Z" fill="#3aff00"/><path d="M217.5 101.4L224.2 104.7L230.9 100.1L224.1 96.9Z" fill="#35ff00"/><path d="M230.9 100.1L237.6 102.8L244.3 97.9L237.5 95.4Z" fill="#3fff00"/><path d="M244.3 97.9L251.1 100L257.7 95L251 93.1Z" fill="#4eff00"/><path d="M257.7 95L264.5 96.5L271.2 91.3L264.4 90Z" fill="#64ff00"/><path d="M284.7 86.9L291.6 87.1L298.3 81.6L291.5 81.5Z" fill="#a0ff00"/><path d="M298.3 81.6L305.2 81.2L312 75.6L305.1 76.1Z" fill="#c7ff00"/><path d="M312 75.6L319 74.6L325.8 68.8L318.9 70Z" fill="#f3ff00"/><path d="M325.8 68.8L332.8 67.2L339.7 61.3L332.7 63.1Z" fill="#ffc300"/><path d="M39.8 48.1L47.2 58.9L53.9 56.9L46.5 46.2Z" fill="#ff0000"/><path d="M67.9 64.8L75.2 74.6L81.8 72.1L74.6 62.5Z" fill="#ff9400"/><path d="M109.4 84.2L116.5 92.2L123.1 89L116.1 81.2Z" fill="#b4ff00"/><path d="M33 49.9L40.4 61L47.2 58.9L39.8 48.1Z" fill="#ff0000"/><path d="M47.2 58.9L54.5 69.4L61.2 67.1L53.9 56.9Z" fill="#ff4900"/><path d="M61.2 67.1L68.5 77L75.2 74.6L67.9 64.8Z" fill="#ffa700"/><path d="M75.2 74.6L82.4 83.9L89 81.2L81.8 72.1Z" fill="#fffc00"/><path d="M89 81.2L96.1 90L102.8 87.1L95.7 78.5Z" fill="#d1ff00"/><path d="M102.8 87.1L109.9 95.3L116.5 92.2L109.4 84.2Z" fill="#a6ff00"/><path d="M116.5 92.2L123.5 99.8L130.1 96.5L123.1 89Z" fill="#82ff00"/><path d="M130.1 96.5L137.1 103.6L143.7 100L136.7 93.2Z" fill="#63ff00"/><path d="M143.7 100L150.6 106.5L157.2 102.8L150.3 96.5Z" fill="#49ff00"/><path d="M157.2 102.8L164 108.7L170.6 104.7L163.8 99Z" fill="#36ff00"/><path d="M170.6 104.7L177.5 110L184.1 105.9L177.3 100.8Z" fill="#28ff00"/><path d="M184.1 105.9L190.9 110.6L197.5 106.3L190.7 101.8Z" fill="#20ff00"/><path d="M197.5 106.3L204.2 110.4L210.9 105.9L204.1 102Z" fill="#1eff00"/><path d="M210.9 105.9L217.6 109.4L224.2 104.7L217.5 101.4Z" fill="#21ff00"/><path d="M224.2 104.7L231 107.6L237.6 102.8L230.9 100.1Z" fill="#2bff00"/><path d="M237.6 102.8L244.4 105L251.1 100L244.3 97.9Z" fill="#3aff00"/><path d="M251.1 100L257.8 101.7L264.5 96.5L257.7 95Z" fill="#4eff00"/><path d="M264.5 96.5L271.3 97.5L278 92.2L271.2 91.3Z" fill="#69ff00"/><path d="M278 92.2L284.8 92.6L291.6 87.1L284.7 86.9Z" fill="#89ff00"/><path d="M291.6 87.1L298.4 86.9L305.2 81.2L298.3 81.6Z" fill="#afff00"/><path d="M305.2 81.2L312.1 80.4L319 74.6L312 75.6Z" fill="#dbff00"/><path d="M319 74.6L326 73.1L332.8 67.2L325.8 68.8Z" fill="#ffea00"/><path d="M332.8 67.2L339.9 65L346.8 59L339.7 61.3Z" fill="#ff9400"/><path d="M346.8 59L353.9 56.2L360.9 50L353.8 52.9Z" fill="#ff3400"/><path d="M40.4 61L47.8 71.6L54.5 69.4L47.2 58.9Z" fill="#ff5b00"/><path d="M68.5 77L75.7 86.6L82.4 83.9L75.2 74.6Z" fill="#f4ff00"/><path d="M109.9 95.3L116.9 103.1L123.5 99.8L116.5 92.2Z" fill="#72ff00"/><path d="M150.6 106.5L157.4 112.6L164 108.7L157.2 102.8Z" fill="#25ff00"/><path d="M164 108.7L170.9 114.1L177.5 110L170.6 104.7Z" fill="#16ff00"/><path d="M177.5 110L184.3 114.9L190.9 110.6L184.1 105.9Z" fill="#0eff00"/><path d="M217.6 109.4L224.4 112.4L231 107.6L224.2 104.7Z" fill="#16ff00"/><path d="M231 107.6L237.7 110L244.4 105L237.6 102.8Z" fill="#24ff00"/><path d="M244.4 105L251.2 106.8L257.8 101.7L251.1 100Z" fill="#38ff00"/><path d="M257.8 101.7L264.6 102.8L271.3 97.5L264.5 96.5Z" fill="#52ff00"/><path d="M284.8 92.6L291.7 92.5L298.4 86.9L291.6 87.1Z" fill="#97ff00"/><path d="M298.4 86.9L305.3 86.1L312.1 80.4L305.2 81.2Z" fill="#c2ff00"/><path d="M312.1 80.4L319.1 79L326 73.1L319 74.6Z" fill="#f3ff00"/><path d="M326 73.1L333 71.1L339.9 65L332.8 67.2Z" fill="#ffbd00"/><path d="M137.1 103.6L144 110.2L150.6 106.5L143.7 100Z" fill="#39ff00"/><path d="M190.9 110.6L197.6 114.9L204.2 110.4L197.5 106.3Z" fill="#0bff00"/><path d="M54.5 69.4L61.8 79.5L68.5 77L61.2 67.1Z" fill="#ffba00"/><path d="M82.4 83.9L89.5 92.9L96.1 90L89 81.2Z" fill="#c3ff00"/><path d="M96.1 90L103.2 98.4L109.9 95.3L102.8 87.1Z" fill="#98ff00"/><path d="M123.5 99.8L130.4 107.1L137.1 103.6L130.1 96.5Z" fill="#53ff00"/><path d="M204.2 110.4L211 114L217.6 109.4L210.9 105.9Z" fill="#0dff00"/><path d="M271.3 97.5L278.1 98L284.8 92.6L278 92.2Z" fill="#72ff00"/><path d="M339.9 65L347 62.4L353.9 56.2L346.8 59Z" fill="#ff5e00"/><path d="M47.8 71.6L55.1 81.9L61.8 79.5L54.5 69.4Z" fill="#ffcf00"/><path d="M61.8 79.5L69 89.2L75.7 86.6L68.5 77Z" fill="#e6ff00"/><path d="M75.7 86.6L82.8 95.7L89.5 92.9L82.4 83.9Z" fill="#b5ff00"/><path d="M103.2 98.4L110.2 106.4L116.9 103.1L109.9 95.3Z" fill="#63ff00"/><path d="M116.9 103.1L123.8 110.5L130.4 107.1L123.5 99.8Z" fill="#43ff00"/><path d="M157.4 112.6L164.3 118.2L170.9 114.1L164 108.7Z" fill="#04ff00"/><path d="M170.9 114.1L177.7 119.1L184.3 114.9L177.5 110Z" fill="#00ff06"/><path d="M224.4 112.4L231.1 115L237.7 110L231 107.6Z" fill="#0fff00"/><path d="M237.7 110L244.5 112L251.2 106.8L244.4 105Z" fill="#22ff00"/><path d="M251.2 106.8L257.9 108.1L264.6 102.8L257.8 101.7Z" fill="#3bff00"/><path d="M291.7 92.5L298.6 91.9L305.3 86.1L298.4 86.9Z" fill="#a9ff00"/><path d="M305.3 86.1L312.3 84.9L319.1 79L312.1 80.4Z" fill="#d9ff00"/><path d="M319.1 79L326.1 77.1L333 71.1L326 73.1Z" fill="#ffe600"/><path d="M144 110.2L150.8 116.4L157.4 112.6L150.6 106.5Z" fill="#13ff00"/><path d="M184.3 114.9L191 119.3L197.6 114.9L190.9 110.6Z" fill="#00ff0b"/><path d="M211 114L217.8 117.2L224.4 112.4L217.6 109.4Z" fill="#01ff00"/><path d="M264.6 102.8L271.4 103.5L278.1 98L271.3 97.5Z" fill="#5aff00"/><path d="M278.1 98L284.9 98.1L291.7 92.5L284.8 92.6Z" fill="#7eff00"/><path d="M333 71.1L340 68.5L347 62.4L339.9 65Z" fill="#ff8900"/><path d="M130.4 107.1L137.4 113.9L144 110.2L137.1 103.6Z" fill="#28ff00"/><path d="M197.6 114.9L204.4 118.7L211 114L204.2 110.4Z" fill="#00ff08"/><path d="M89.5 92.9L96.6 101.4L103.2 98.4L96.1 90Z" fill="#89ff00"/><path d="M55.1 81.9L62.4 91.8L69 89.2L61.8 79.5Z" fill="#d8ff00"/><path d="M164.3 118.2L171.1 123.4L177.7 119.1L170.9 114.1Z" fill="#00ff1e"/><path d="M231.1 115L237.9 117.1L244.5 112L237.7 110Z" fill="#0bff00"/><path d="M244.5 112L251.3 113.4L257.9 108.1L251.2 106.8Z" fill="#24ff00"/><path d="M298.6 91.9L305.5 90.8L312.3 84.9L305.3 86.1Z" fill="#bfff00"/><path d="M312.3 84.9L319.2 83.2L326.1 77.1L319.1 79Z" fill="#f4ff00"/><path d="M123.8 110.5L130.8 117.5L137.4 113.9L130.4 107.1Z" fill="#17ff00"/><path d="M150.8 116.4L157.7 122.2L164.3 118.2L157.4 112.6Z" fill="#00ff12"/><path d="M177.7 119.1L184.5 123.7L191 119.3L184.3 114.9Z" fill="#00ff23"/><path d="M69 89.2L76.2 98.5L82.8 95.7L75.7 86.6Z" fill="#a6ff00"/><path d="M82.8 95.7L90 104.5L96.6 101.4L89.5 92.9Z" fill="#7aff00"/><path d="M96.6 101.4L103.6 109.6L110.2 106.4L103.2 98.4Z" fill="#53ff00"/><path d="M110.2 106.4L117.2 114L123.8 110.5L116.9 103.1Z" fill="#32ff00"/><path d="M217.8 117.2L224.5 119.9L231.1 115L224.4 112.4Z" fill="#00ff09"/><path d="M257.9 108.1L264.7 109L271.4 103.5L264.6 102.8Z" fill="#42ff00"/><path d="M271.4 103.5L278.2 103.7L284.9 98.1L278.1 98Z" fill="#66ff00"/><path d="M284.9 98.1L291.8 97.6L298.6 91.9L291.7 92.5Z" fill="#8fff00"/><path d="M326.1 77.1L333.1 74.7L340 68.5L333 71.1Z" fill="#ffb400"/><path d="M137.4 113.9L144.3 120.3L150.8 116.4L144 110.2Z" fill="#01ff00"/><path d="M191 119.3L197.8 123.3L204.4 118.7L197.6 114.9Z" fill="#00ff21"/><path d="M204.4 118.7L211.1 122L217.8 117.2L211 114Z" fill="#00ff19"/><path d="M62.4 91.8L69.6 101.3L76.2 98.5L69 89.2Z" fill="#97ff00"/><path d="M90 104.5L97 112.8L103.6 109.6L96.6 101.4Z" fill="#43ff00"/><path d="M237.9 117.1L244.6 118.7L251.3 113.4L244.5 112Z" fill="#0cff00"/><path d="M305.5 90.8L312.4 89.2L319.2 83.2L312.3 84.9Z" fill="#d9ff00"/><path d="M130.8 117.5L137.7 124.1L144.3 120.3L137.4 113.9Z" fill="#00ff15"/><path d="M157.7 122.2L164.5 127.6L171.1 123.4L164.3 118.2Z" fill="#00ff35"/><path d="M171.1 123.4L177.9 128.1L184.5 123.7L177.7 119.1Z" fill="#00ff3b"/><path d="M224.5 119.9L231.2 122.2L237.9 117.1L231.1 115Z" fill="#00ff0e"/><path d="M251.3 113.4L258 114.4L264.7 109L257.9 108.1Z" fill="#29ff00"/><path d="M264.7 109L271.5 109.3L278.2 103.7L271.4 103.5Z" fill="#4cff00"/><path d="M278.2 103.7L285.1 103.4L291.8 97.6L284.9 98.1Z" fill="#75ff00"/><path d="M291.8 97.6L298.7 96.7L305.5 90.8L298.6 91.9Z" fill="#a4ff00"/><path d="M319.2 83.2L326.3 80.9L333.1 74.7L326.1 77.1Z" fill="#ffe000"/><path d="M117.2 114L124.2 121.1L130.8 117.5L123.8 110.5Z" fill="#05ff00"/><path d="M144.3 120.3L151.1 126.2L157.7 122.2L150.8 116.4Z" fill="#00ff29"/><path d="M184.5 123.7L191.2 127.8L197.8 123.3L191 119.3Z" fill="#00ff3b"/><path d="M197.8 123.3L204.6 126.8L211.1 122L204.4 118.7Z" fill="#00ff33"/><path d="M211.1 122L217.9 124.9L224.5 119.9L217.8 117.2Z" fill="#00ff24"/><path d="M76.2 98.5L83.3 107.5L90 104.5L82.8 95.7Z" fill="#6aff00"/><path d="M103.6 109.6L110.6 117.4L117.2 114L110.2 106.4Z" fill="#21ff00"/><path d="M137.7 124.1L144.6 130.2L151.1 126.2L144.3 120.3Z" fill="#00ff40"/><path d="M69.6 101.3L76.7 110.4L83.3 107.5L76.2 98.5Z" fill="#5aff00"/><path d="M83.3 107.5L90.4 116L97 112.8L90 104.5Z" fill="#32ff00"/><path d="M97 112.8L104.1 120.8L110.6 117.4L103.6 109.6Z" fill="#0fff00"/><path d="M124.2 121.1L131.1 127.9L137.7 124.1L130.8 117.5Z" fill="#00ff2b"/><path d="M151.1 126.2L158 131.8L164.5 127.6L157.7 122.2Z" fill="#00ff4e"/><path d="M164.5 127.6L171.3 132.5L177.9 128.1L171.1 123.4Z" fill="#00ff55"/><path d="M177.9 128.1L184.7 132.4L191.2 127.8L184.5 123.7Z" fill="#00ff54"/><path d="M191.2 127.8L198 131.5L204.6 126.8L197.8 123.3Z" fill="#00ff4d"/><path d="M204.6 126.8L211.3 129.8L217.9 124.9L211.1 122Z" fill="#00ff40"/><path d="M217.9 124.9L224.6 127.3L231.2 122.2L224.5 119.9Z" fill="#00ff2b"/><path d="M231.2 122.2L238 124L244.6 118.7L237.9 117.1Z" fill="#00ff0f"/><path d="M244.6 118.7L251.4 119.8L258 114.4L251.3 113.4Z" fill="#10ff00"/><path d="M258 114.4L264.8 114.9L271.5 109.3L264.7 109Z" fill="#33ff00"/><path d="M271.5 109.3L278.3 109.2L285.1 103.4L278.2 103.7Z" fill="#5bff00"/><path d="M285.1 103.4L291.9 102.6L298.7 96.7L291.8 97.6Z" fill="#89ff00"/><path d="M298.7 96.7L305.6 95.3L312.4 89.2L305.5 90.8Z" fill="#bdff00"/><path d="M312.4 89.2L319.4 87.1L326.3 80.9L319.2 83.2Z" fill="#f6ff00"/><path d="M110.6 117.4L117.6 124.7L124.2 121.1L117.2 114Z" fill="#00ff10"/><path d="M76.7 110.4L83.8 119.1L90.4 116L83.3 107.5Z" fill="#21ff00"/><path d="M144.6 130.2L151.4 135.9L158 131.8L151.1 126.2Z" fill="#00ff66"/><path d="M251.4 119.8L258.2 120.5L264.8 114.9L258 114.4Z" fill="#19ff00"/><path d="M264.8 114.9L271.6 114.9L278.3 109.2L271.5 109.3Z" fill="#40ff00"/><path d="M278.3 109.2L285.2 108.5L291.9 102.6L285.1 103.4Z" fill="#6eff00"/><path d="M291.9 102.6L298.8 101.3L305.6 95.3L298.7 96.7Z" fill="#a1ff00"/><path d="M90.4 116L97.5 124.1L104.1 120.8L97 112.8Z" fill="#00ff03"/><path d="M104.1 120.8L111 128.3L117.6 124.7L110.6 117.4Z" fill="#00ff26"/><path d="M117.6 124.7L124.5 131.6L131.1 127.9L124.2 121.1Z" fill="#00ff42"/><path d="M131.1 127.9L138 134.2L144.6 130.2L137.7 124.1Z" fill="#00ff58"/><path d="M158 131.8L164.8 136.9L171.3 132.5L164.5 127.6Z" fill="#00ff6e"/><path d="M171.3 132.5L178.1 137L184.7 132.4L177.9 128.1Z" fill="#00ff6f"/><path d="M184.7 132.4L191.4 136.2L198 131.5L191.2 127.8Z" fill="#00ff69"/><path d="M198 131.5L204.7 134.7L211.3 129.8L204.6 126.8Z" fill="#00ff5c"/><path d="M211.3 129.8L218.1 132.4L224.6 127.3L217.9 124.9Z" fill="#00ff48"/><path d="M224.6 127.3L231.4 129.2L238 124L231.2 122.2Z" fill="#00ff2d"/><path d="M238 124L244.8 125.3L251.4 119.8L244.6 118.7Z" fill="#00ff0b"/><path d="M305.6 95.3L312.6 93.3L319.4 87.1L312.4 89.2Z" fill="#daff00"/><path d="M83.8 119.1L90.9 127.4L97.5 124.1L90.4 116Z" fill="#00ff19"/><path d="M111 128.3L118 135.4L124.5 131.6L117.6 124.7Z" fill="#00ff5a"/><path d="M138 134.2L144.8 140.1L151.4 135.9L144.6 130.2Z" fill="#00ff80"/><path d="M151.4 135.9L158.2 141.2L164.8 136.9L158 131.8Z" fill="#00ff88"/><path d="M191.4 136.2L198.2 139.6L204.7 134.7L198 131.5Z" fill="#00ff78"/><path d="M204.7 134.7L211.5 137.5L218.1 132.4L211.3 129.8Z" fill="#00ff65"/><path d="M218.1 132.4L224.8 134.5L231.4 129.2L224.6 127.3Z" fill="#00ff4b"/><path d="M258.2 120.5L265 120.6L271.6 114.9L264.8 114.9Z" fill="#25ff00"/><path d="M271.6 114.9L278.5 114.4L285.2 108.5L278.3 109.2Z" fill="#52ff00"/><path d="M285.2 108.5L292.1 107.3L298.8 101.3L291.9 102.6Z" fill="#84ff00"/><path d="M178.1 137L184.9 141L191.4 136.2L184.7 132.4Z" fill="#00ff84"/><path d="M244.8 125.3L251.5 126.1L258.2 120.5L251.4 119.8Z" fill="#00ff02"/><path d="M298.8 101.3L305.8 99.5L312.6 93.3L305.6 95.3Z" fill="#bcff00"/><path d="M97.5 124.1L104.5 131.8L111 128.3L104.1 120.8Z" fill="#00ff3d"/><path d="M124.5 131.6L131.4 138.1L138 134.2L131.1 127.9Z" fill="#00ff70"/><path d="M164.8 136.9L171.6 141.5L178.1 137L171.3 132.5Z" fill="#00ff8a"/><path d="M231.4 129.2L238.1 130.7L244.8 125.3L238 124Z" fill="#00ff2a"/><path d="M265 120.6L271.8 120.3L278.5 114.4L271.6 114.9Z" fill="#36ff00"/><path d="M278.5 114.4L285.3 113.4L292.1 107.3L285.2 108.5Z" fill="#67ff00"/><path d="M90.9 127.4L97.9 135.3L104.5 131.8L97.5 124.1Z" fill="#00ff54"/><path d="M104.5 131.8L111.4 139.1L118 135.4L111 128.3Z" fill="#00ff72"/><path d="M118 135.4L124.9 142.1L131.4 138.1L124.5 131.6Z" fill="#00ff89"/><path d="M131.4 138.1L138.3 144.2L144.8 140.1L138 134.2Z" fill="#00ff99"/><path d="M144.8 140.1L151.7 145.5L158.2 141.2L151.4 135.9Z" fill="#00ffa3"/><path d="M158.2 141.2L165 146L171.6 141.5L164.8 136.9Z" fill="#00ffa5"/><path d="M184.9 141L191.6 144.5L198.2 139.6L191.4 136.2Z" fill="#00ff95"/><path d="M198.2 139.6L204.9 142.5L211.5 137.5L204.7 134.7Z" fill="#00ff83"/><path d="M211.5 137.5L218.2 139.7L224.8 134.5L218.1 132.4Z" fill="#00ff69"/><path d="M224.8 134.5L231.5 136.1L238.1 130.7L231.4 129.2Z" fill="#00ff49"/><path d="M238.1 130.7L244.9 131.6L251.5 126.1L244.8 125.3Z" fill="#00ff22"/><path d="M251.5 126.1L258.3 126.4L265 120.6L258.2 120.5Z" fill="#0aff00"/><path d="M292.1 107.3L299 105.7L305.8 99.5L298.8 101.3Z" fill="#9fff00"/><path d="M171.6 141.5L178.3 145.7L184.9 141L178.1 137Z" fill="#00ffa0"/><path d="M97.9 135.3L104.9 142.8L111.4 139.1L104.5 131.8Z" fill="#00ff8b"/><path d="M124.9 142.1L131.8 148.3L138.3 144.2L131.4 138.1Z" fill="#00ffb3"/><path d="M204.9 142.5L211.7 144.9L218.2 139.7L211.5 137.5Z" fill="#00ff89"/><path d="M271.8 120.3L278.6 119.4L285.3 113.4L278.5 114.4Z" fill="#4aff00"/><path d="M165 146L171.8 150.3L178.3 145.7L171.6 141.5Z" fill="#00ffbd"/><path d="M191.6 144.5L198.4 147.6L204.9 142.5L198.2 139.6Z" fill="#00ffa1"/><path d="M258.3 126.4L265.1 126.2L271.8 120.3L265 120.6Z" fill="#19ff00"/><path d="M285.3 113.4L292.2 111.9L299 105.7L292.1 107.3Z" fill="#81ff00"/><path d="M111.4 139.1L118.4 146L124.9 142.1L118 135.4Z" fill="#00ffa3"/><path d="M138.3 144.2L145.2 149.8L151.7 145.5L144.8 140.1Z" fill="#00ffbe"/><path d="M151.7 145.5L158.5 150.5L165 146L158.2 141.2Z" fill="#00ffc1"/><path d="M178.3 145.7L185.1 149.4L191.6 144.5L184.9 141Z" fill="#00ffb2"/><path d="M218.2 139.7L225 141.5L231.5 136.1L224.8 134.5Z" fill="#00ff69"/><path d="M231.5 136.1L238.3 137.2L244.9 131.6L238.1 130.7Z" fill="#00ff43"/><path d="M244.9 131.6L251.7 132.1L258.3 126.4L251.5 126.1Z" fill="#00ff16"/><path d="M104.9 142.8L111.8 149.8L118.4 146L111.4 139.1Z" fill="#00ffbc"/><path d="M118.4 146L125.3 152.4L131.8 148.3L124.9 142.1Z" fill="#00ffce"/><path d="M131.8 148.3L138.6 154.1L145.2 149.8L138.3 144.2Z" fill="#00ffd9"/><path d="M158.5 150.5L165.3 155L171.8 150.3L165 146Z" fill="#00ffda"/><path d="M171.8 150.3L178.6 154.2L185.1 149.4L178.3 145.7Z" fill="#00ffd0"/><path d="M185.1 149.4L191.8 152.6L198.4 147.6L191.6 144.5Z" fill="#00ffc0"/><path d="M198.4 147.6L205.1 150.2L211.7 144.9L204.9 142.5Z" fill="#00ffa8"/><path d="M211.7 144.9L218.4 146.9L225 141.5L218.2 139.7Z" fill="#00ff8a"/><path d="M225 141.5L231.7 142.8L238.3 137.2L231.5 136.1Z" fill="#00ff64"/><path d="M238.3 137.2L245.1 137.8L251.7 132.1L244.9 131.6Z" fill="#00ff38"/><path d="M251.7 132.1L258.5 132.1L265.1 126.2L258.3 126.4Z" fill="#00ff05"/><path d="M265.1 126.2L272 125.5L278.6 119.4L271.8 120.3Z" fill="#2cff00"/><path d="M278.6 119.4L285.5 118L292.2 111.9L285.3 113.4Z" fill="#62ff00"/><path d="M145.2 149.8L152 154.9L158.5 150.5L151.7 145.5Z" fill="#00ffdd"/><path d="M111.8 149.8L118.7 156.4L125.3 152.4L118.4 146Z" fill="#00ffe9"/><path d="M125.3 152.4L132.1 158.3L138.6 154.1L131.8 148.3Z" fill="#00fff5"/><path d="M138.6 154.1L145.5 159.4L152 154.9L145.2 149.8Z" fill="#00fffa"/><path d="M152 154.9L158.8 159.6L165.3 155L158.5 150.5Z" fill="#00fff8"/><path d="M165.3 155L172 159L178.6 154.2L171.8 150.3Z" fill="#00ffef"/><path d="M178.6 154.2L185.3 157.6L191.8 152.6L185.1 149.4Z" fill="#00ffdf"/><path d="M191.8 152.6L198.6 155.3L205.1 150.2L198.4 147.6Z" fill="#00ffc8"/><path d="M205.1 150.2L211.8 152.2L218.4 146.9L211.7 144.9Z" fill="#00ffaa"/><path d="M218.4 146.9L225.1 148.3L231.7 142.8L225 141.5Z" fill="#00ff86"/><path d="M231.7 142.8L238.5 143.5L245.1 137.8L238.3 137.2Z" fill="#00ff5a"/><path d="M245.1 137.8L251.9 137.9L258.5 132.1L251.7 132.1Z" fill="#00ff28"/><path d="M258.5 132.1L265.3 131.5L272 125.5L265.1 126.2Z" fill="#0eff00"/><path d="M272 125.5L278.8 124.2L285.5 118L278.6 119.4Z" fill="#44ff00"/><path d="M118.7 156.4L125.6 162.5L132.1 158.3L125.3 152.4Z" fill="#00edff"/><path d="M185.3 157.6L192.1 160.5L198.6 155.3L191.8 152.6Z" fill="#00ffe9"/><path d="M225.1 148.3L231.9 149.2L238.5 143.5L231.7 142.8Z" fill="#00ff7d"/><path d="M238.5 143.5L245.2 143.8L251.9 137.9L245.1 137.8Z" fill="#00ff4c"/><path d="M251.9 137.9L258.7 137.5L265.3 131.5L258.5 132.1Z" fill="#00ff14"/><path d="M132.1 158.3L139 163.8L145.5 159.4L138.6 154.1Z" fill="#00e8ff"/><path d="M145.5 159.4L152.3 164.3L158.8 159.6L152 154.9Z" fill="#00e9ff"/><path d="M158.8 159.6L165.5 163.8L172 159L165.3 155Z" fill="#00f1ff"/><path d="M172 159L178.8 162.6L185.3 157.6L178.6 154.2Z" fill="#00ffff"/><path d="M198.6 155.3L205.3 157.6L211.8 152.2L205.1 150.2Z" fill="#00ffcc"/><path d="M211.8 152.2L218.6 153.8L225.1 148.3L218.4 146.9Z" fill="#00ffa8"/><path d="M265.3 131.5L272.1 130.4L278.8 124.2L272 125.5Z" fill="#24ff00"/><path d="M125.6 162.5L132.5 168.2L139 163.8L132.1 158.3Z" fill="#00cbff"/><path d="M152.3 164.3L159.1 168.6L165.5 163.8L158.8 159.6Z" fill="#00d3ff"/><path d="M178.8 162.6L185.6 165.7L192.1 160.5L185.3 157.6Z" fill="#00f5ff"/><path d="M192.1 160.5L198.8 162.9L205.3 157.6L198.6 155.3Z" fill="#00ffee"/><path d="M218.6 153.8L225.3 154.9L231.9 149.2L225.1 148.3Z" fill="#00ffa1"/><path d="M231.9 149.2L238.7 149.7L245.2 143.8L238.5 143.5Z" fill="#00ff70"/><path d="M245.2 143.8L252 143.5L258.7 137.5L251.9 137.9Z" fill="#00ff39"/><path d="M258.7 137.5L265.5 136.6L272.1 130.4L265.3 131.5Z" fill="#05ff00"/><path d="M139 163.8L145.8 168.8L152.3 164.3L145.5 159.4Z" fill="#00ccff"/><path d="M165.5 163.8L172.3 167.6L178.8 162.6L172 159Z" fill="#00e0ff"/><path d="M205.3 157.6L212.1 159.4L218.6 153.8L211.8 152.2Z" fill="#00ffcb"/><path d="M132.5 168.2L139.3 173.4L145.8 168.8L139 163.8Z" fill="#00aeff"/><path d="M159.1 168.6L165.8 172.5L172.3 167.6L165.5 163.8Z" fill="#00c1ff"/><path d="M198.8 162.9L205.5 164.9L212.1 159.4L205.3 157.6Z" fill="#00ffee"/><path d="M225.3 154.9L232.1 155.5L238.7 149.7L231.9 149.2Z" fill="#00ff95"/><path d="M238.7 149.7L245.4 149.5L252 143.5L245.2 143.8Z" fill="#00ff5e"/><path d="M145.8 168.8L152.6 173.4L159.1 168.6L152.3 164.3Z" fill="#00b4ff"/><path d="M172.3 167.6L179.1 170.8L185.6 165.7L178.8 162.6Z" fill="#00d4ff"/><path d="M185.6 165.7L192.3 168.3L198.8 162.9L192.1 160.5Z" fill="#00efff"/><path d="M212.1 159.4L218.8 160.6L225.3 154.9L218.6 153.8Z" fill="#00ffc5"/><path d="M252 143.5L258.8 142.8L265.5 136.6L258.7 137.5Z" fill="#00ff21"/><path d="M139.3 173.4L146.1 178.1L152.6 173.4L145.8 168.8Z" fill="#0095ff"/><path d="M152.6 173.4L159.4 177.5L165.8 172.5L159.1 168.6Z" fill="#00a1ff"/><path d="M165.8 172.5L172.6 176L179.1 170.8L172.3 167.6Z" fill="#00b4ff"/><path d="M192.3 168.3L199 170.4L205.5 164.9L198.8 162.9Z" fill="#00edff"/><path d="M205.5 164.9L212.3 166.3L218.8 160.6L212.1 159.4Z" fill="#00ffe9"/><path d="M218.8 160.6L225.5 161.3L232.1 155.5L225.3 154.9Z" fill="#00ffba"/><path d="M232.1 155.5L238.9 155.6L245.4 149.5L238.7 149.7Z" fill="#00ff84"/><path d="M245.4 149.5L252.2 148.9L258.8 142.8L252 143.5Z" fill="#00ff47"/><path d="M179.1 170.8L185.8 173.6L192.3 168.3L185.6 165.7Z" fill="#00cdff"/><path d="M146.1 178.1L152.9 182.4L159.4 177.5L152.6 173.4Z" fill="#0080ff"/><path d="M159.4 177.5L166.1 181.1L172.6 176L165.8 172.5Z" fill="#0092ff"/><path d="M172.6 176L179.3 178.9L185.8 173.6L179.1 170.8Z" fill="#00abff"/><path d="M185.8 173.6L192.5 175.8L199 170.4L192.3 168.3Z" fill="#00caff"/><path d="M199 170.4L205.8 171.9L212.3 166.3L205.5 164.9Z" fill="#00f0ff"/><path d="M212.3 166.3L219 167.2L225.5 161.3L218.8 160.6Z" fill="#00ffe0"/><path d="M225.5 161.3L232.3 161.5L238.9 155.6L232.1 155.5Z" fill="#00ffab"/><path d="M238.9 155.6L245.6 155.1L252.2 148.9L245.4 149.5Z" fill="#00ff6f"/><path d="M152.9 182.4L159.7 186.2L166.1 181.1L159.4 177.5Z" fill="#0071ff"/><path d="M219 167.2L225.8 167.5L232.3 161.5L225.5 161.3Z" fill="#00ffd2"/><path d="M166.1 181.1L172.9 184.2L179.3 178.9L172.6 176Z" fill="#0089ff"/><path d="M179.3 178.9L186.1 181.3L192.5 175.8L185.8 173.6Z" fill="#00a7ff"/><path d="M192.5 175.8L199.3 177.6L205.8 171.9L199 170.4Z" fill="#00ccff"/><path d="M205.8 171.9L212.5 173L219 167.2L212.3 166.3Z" fill="#00f8ff"/><path d="M232.3 161.5L239.1 161.2L245.6 155.1L238.9 155.6Z" fill="#00ff97"/><path d="M159.7 186.2L166.4 189.4L172.9 184.2L166.1 181.1Z" fill="#0066ff"/><path d="M186.1 181.3L192.8 183.2L199.3 177.6L192.5 175.8Z" fill="#00a8ff"/><path d="M212.5 173L219.2 173.5L225.8 167.5L219 167.2Z" fill="#00fff9"/><path d="M225.8 167.5L232.5 167.4L239.1 161.2L232.3 161.5Z" fill="#00ffbf"/><path d="M172.9 184.2L179.6 186.7L186.1 181.3L179.3 178.9Z" fill="#0083ff"/><path d="M199.3 177.6L206 178.8L212.5 173L205.8 171.9Z" fill="#00d3ff"/><path d="M166.4 189.4L173.2 192.2L179.6 186.7L172.9 184.2Z" fill="#005fff"/><path d="M192.8 183.2L199.5 184.6L206 178.8L199.3 177.6Z" fill="#00adff"/><path d="M179.6 186.7L186.3 188.8L192.8 183.2L186.1 181.3Z" fill="#0083ff"/><path d="M206 178.8L212.8 179.5L219.2 173.5L212.5 173Z" fill="#00deff"/><path d="M219.2 173.5L226 173.5L232.5 167.4L225.8 167.5Z" fill="#00ffe8"/><path d="M173.2 192.2L179.9 194.4L186.3 188.8L179.6 186.7Z" fill="#005dff"/><path d="M186.3 188.8L193.1 190.3L199.5 184.6L192.8 183.2Z" fill="#0087ff"/><path d="M199.5 184.6L206.3 185.4L212.8 179.5L206 178.8Z" fill="#00b7ff"/><path d="M212.8 179.5L219.5 179.6L226 173.5L219.2 173.5Z" fill="#00edff"/><path d="M179.9 194.4L186.6 196.1L193.1 190.3L186.3 188.8Z" fill="#0060ff"/><path d="M193.1 190.3L199.8 191.4L206.3 185.4L199.5 184.6Z" fill="#008fff"/><path d="M206.3 185.4L213 185.7L219.5 179.6L212.8 179.5Z" fill="#00c5ff"/><path d="M186.6 196.1L193.4 197.3L199.8 191.4L193.1 190.3Z" fill="#0067ff"/><path d="M199.8 191.4L206.5 191.8L213 185.7L206.3 185.4Z" fill="#009cff"/><path d="M193.4 197.3L200.1 197.9L206.5 191.8L199.8 191.4Z" fill="#0073ff"/></g></g>
<path d="M61.2 67.1L67.9 64.8L74.6 62.5L81.3 60.2L88 57.8L94.7 55.3L101.4 52.9L108.1 50.4L114.9 47.9L121.6 45.3L128.3 42.7L135 40.1L141.7 37.5L148.4 34.8L155.1 32.1L161.9 29.4L168.6 26.6L175.3 23.8L182.1 21L188.8 18.2L195.5 15.4M68.5 77L75.2 74.6L81.8 72.1L88.5 69.5L95.2 66.9L101.9 64.3L108.6 61.7L115.3 59L122 56.3L128.7 53.6L135.4 50.8L142.1 48L148.8 45.2L155.5 42.4L162.2 39.5L168.9 36.6L175.6 33.7L182.4 30.8L189.1 27.8L195.8 24.8L202.5 21.8M75.7 86.6L82.4 83.9L89 81.2L95.7 78.5L102.4 75.7L109 73L115.7 70.1L122.4 67.3L129.1 64.4L135.7 61.5L142.4 58.6L149.1 55.6L155.8 52.6L162.5 49.6L169.2 46.6L175.9 43.5L182.6 40.4L189.3 37.3L196 34.2L202.8 31L209.5 27.8M82.8 95.7L89.5 92.9L96.1 90L102.8 87.1L109.4 84.2L116.1 81.2L122.8 78.2L129.4 75.2L136.1 72.1L142.8 69L149.4 65.9L156.1 62.8L162.8 59.6L169.5 56.5L176.2 53.2L182.9 50L189.6 46.8L196.3 43.5L203 40.2L209.7 36.9L216.4 33.5M90 104.5L96.6 101.4L103.2 98.4L109.9 95.3L116.5 92.2L123.1 89L129.8 85.9L136.4 82.7L143.1 79.4L149.7 76.2L156.4 72.9L163 69.6L169.7 66.3L176.4 62.9L183.1 59.5L189.8 56.2L196.5 52.7L203.2 49.3L209.9 45.8L216.6 42.3L223.3 38.8M97 112.8L103.6 109.6L110.2 106.4L116.9 103.1L123.5 99.8L130.1 96.5L136.7 93.2L143.4 89.8L150 86.4L156.7 83L163.3 79.5L170 76L176.6 72.5L183.3 69L190 65.5L196.6 61.9L203.3 58.3L210 54.7L216.7 51.1L223.4 47.4L230.2 43.8M104.1 120.8L110.6 117.4L117.2 114L123.8 110.5L130.4 107.1L137.1 103.6L143.7 100L150.3 96.5L156.9 92.9L163.6 89.3L170.2 85.7L176.8 82L183.5 78.4L190.1 74.7L196.8 71L203.5 67.3L210.2 63.5L216.9 59.7L223.6 56L230.3 52.2L237 48.3M111 128.3L117.6 124.7L124.2 121.1L130.8 117.5L137.4 113.9L144 110.2L150.6 106.5L157.2 102.8L163.8 99L170.4 95.3L177 91.5L183.7 87.7L190.3 83.8L197 80L203.6 76.1L210.3 72.2L217 68.3L223.7 64.4L230.4 60.4L237.1 56.5L243.8 52.5M118 135.4L124.5 131.6L131.1 127.9L137.7 124.1L144.3 120.3L150.8 116.4L157.4 112.6L164 108.7L170.6 104.7L177.3 100.8L183.9 96.8L190.5 92.9L197.1 88.9L203.8 84.8L210.4 80.8L217.1 76.8L223.8 72.7L230.5 68.6L237.2 64.5L243.9 60.4L250.6 56.2M124.9 142.1L131.4 138.1L138 134.2L144.6 130.2L151.1 126.2L157.7 122.2L164.3 118.2L170.9 114.1L177.5 110L184.1 105.9L190.7 101.8L197.3 97.6L203.9 93.5L210.6 89.3L217.2 85.1L223.9 80.9L230.6 76.7L237.3 72.4L244 68.1L250.7 63.9L257.4 59.6M131.8 148.3L138.3 144.2L144.8 140.1L151.4 135.9L158 131.8L164.5 127.6L171.1 123.4L177.7 119.1L184.3 114.9L190.9 110.6L197.5 106.3L204.1 102L210.7 97.7L217.4 93.3L224 89L230.7 84.6L237.3 80.2L244 75.8L250.7 71.4L257.4 66.9L264.2 62.5M138.6 154.1L145.2 149.8L151.7 145.5L158.2 141.2L164.8 136.9L171.3 132.5L177.9 128.1L184.5 123.7L191 119.3L197.6 114.9L204.2 110.4L210.9 105.9L217.5 101.4L224.1 96.9L230.8 92.4L237.4 87.9L244.1 83.3L250.8 78.8L257.5 74.2L264.2 69.6L271 65M145.5 159.4L152 154.9L158.5 150.5L165 146L171.6 141.5L178.1 137L184.7 132.4L191.2 127.8L197.8 123.3L204.4 118.7L211 114L217.6 109.4L224.2 104.7L230.9 100.1L237.5 95.4L244.2 90.7L250.9 86L257.6 81.3L264.3 76.6L271 71.8L277.7 67.1M152.3 164.3L158.8 159.6L165.3 155L171.8 150.3L178.3 145.7L184.9 141L191.4 136.2L198 131.5L204.6 126.8L211.1 122L217.8 117.2L224.4 112.4L231 107.6L237.6 102.8L244.3 97.9L251 93.1L257.6 88.2L264.3 83.4L271.1 78.5L277.8 73.6L284.5 68.7M159.1 168.6L165.5 163.8L172 159L178.6 154.2L185.1 149.4L191.6 144.5L198.2 139.6L204.7 134.7L211.3 129.8L217.9 124.9L224.5 119.9L231.1 115L237.7 110L244.4 105L251.1 100L257.7 95L264.4 90L271.1 85L277.9 80L284.6 74.9L291.4 69.9M165.8 172.5L172.3 167.6L178.8 162.6L185.3 157.6L191.8 152.6L198.4 147.6L204.9 142.5L211.5 137.5L218.1 132.4L224.6 127.3L231.2 122.2L237.9 117.1L244.5 112L251.2 106.8L257.8 101.7L264.5 96.5L271.2 91.3L277.9 86.2L284.7 81L291.4 75.8L298.2 70.6M172.6 176L179.1 170.8L185.6 165.7L192.1 160.5L198.6 155.3L205.1 150.2L211.7 144.9L218.2 139.7L224.8 134.5L231.4 129.2L238 124L244.6 118.7L251.3 113.4L257.9 108.1L264.6 102.8L271.3 97.5L278 92.2L284.7 86.9L291.5 81.5L298.3 76.2L305.1 70.9M179.3 178.9L185.8 173.6L192.3 168.3L198.8 162.9L205.3 157.6L211.8 152.2L218.4 146.9L225 141.5L231.5 136.1L238.1 130.7L244.8 125.3L251.4 119.8L258 114.4L264.7 109L271.4 103.5L278.1 98L284.8 92.6L291.6 87.1L298.3 81.6L305.1 76.1L311.9 70.7M186.1 181.3L192.5 175.8L199 170.4L205.5 164.9L212.1 159.4L218.6 153.8L225.1 148.3L231.7 142.8L238.3 137.2L244.9 131.6L251.5 126.1L258.2 120.5L264.8 114.9L271.5 109.3L278.2 103.7L284.9 98.1L291.7 92.5L298.4 86.9L305.2 81.2L312 75.6L318.9 70M192.8 183.2L199.3 177.6L205.8 171.9L212.3 166.3L218.8 160.6L225.3 154.9L231.9 149.2L238.5 143.5L245.1 137.8L251.7 132.1L258.3 126.4L265 120.6L271.6 114.9L278.3 109.2L285.1 103.4L291.8 97.6L298.6 91.9L305.3 86.1L312.1 80.4L319 74.6L325.8 68.8M199.5 184.6L206 178.8L212.5 173L219 167.2L225.5 161.3L232.1 155.5L238.7 149.7L245.2 143.8L251.9 137.9L258.5 132.1L265.1 126.2L271.8 120.3L278.5 114.4L285.2 108.5L291.9 102.6L298.7 96.7L305.5 90.8L312.3 84.9L319.1 79L326 73.1L332.8 67.2M61.2 67.1L68.5 77L75.7 86.6L82.8 95.7L90 104.5L97 112.8L104.1 120.8L111 128.3L118 135.4L124.9 142.1L131.8 148.3L138.6 154.1L145.5 159.4L152.3 164.3L159.1 168.6L165.8 172.5L172.6 176L179.3 178.9L186.1 181.3L192.8 183.2L199.5 184.6M67.9 64.8L75.2 74.6L82.4 83.9L89.5 92.9L96.6 101.4L103.6 109.6L110.6 117.4L117.6 124.7L124.5 131.6L131.4 138.1L138.3 144.2L145.2 149.8L152 154.9L158.8 159.6L165.5 163.8L172.3 167.6L179.1 170.8L185.8 173.6L192.5 175.8L199.3 177.6L206 178.8M74.6 62.5L81.8 72.1L89 81.2L96.1 90L103.2 98.4L110.2 106.4L117.2 114L124.2 121.1L131.1 127.9L138 134.2L144.8 140.1L151.7 145.5L158.5 150.5L165.3 155L172 159L178.8 162.6L185.6 165.7L192.3 168.3L199 170.4L205.8 171.9L212.5 173M81.3 60.2L88.5 69.5L95.7 78.5L102.8 87.1L109.9 95.3L116.9 103.1L123.8 110.5L130.8 117.5L137.7 124.1L144.6 130.2L151.4 135.9L158.2 141.2L165 146L171.8 150.3L178.6 154.2L185.3 157.6L192.1 160.5L198.8 162.9L205.5 164.9L212.3 166.3L219 167.2M88 57.8L95.2 66.9L102.4 75.7L109.4 84.2L116.5 92.2L123.5 99.8L130.4 107.1L137.4 113.9L144.3 120.3L151.1 126.2L158 131.8L164.8 136.9L171.6 141.5L178.3 145.7L185.1 149.4L191.8 152.6L198.6 155.3L205.3 157.6L212.1 159.4L218.8 160.6L225.5 161.3M94.7 55.3L101.9 64.3L109 73L116.1 81.2L123.1 89L130.1 96.5L137.1 103.6L144 110.2L150.8 116.4L157.7 122.2L164.5 127.6L171.3 132.5L178.1 137L184.9 141L191.6 144.5L198.4 147.6L205.1 150.2L211.8 152.2L218.6 153.8L225.3 154.9L232.1 155.5M101.4 52.9L108.6 61.7L115.7 70.1L122.8 78.2L129.8 85.9L136.7 93.2L143.7 100L150.6 106.5L157.4 112.6L164.3 118.2L171.1 123.4L177.9 128.1L184.7 132.4L191.4 136.2L198.2 139.6L204.9 142.5L211.7 144.9L218.4 146.9L225.1 148.3L231.9 149.2L238.7 149.7M108.1 50.4L115.3 59L122.4 67.3L129.4 75.2L136.4 82.7L143.4 89.8L150.3 96.5L157.2 102.8L164 108.7L170.9 114.1L177.7 119.1L184.5 123.7L191.2 127.8L198 131.5L204.7 134.7L211.5 137.5L218.2 139.7L225 141.5L231.7 142.8L238.5 143.5L245.2 143.8M114.9 47.9L122 56.3L129.1 64.4L136.1 72.1L143.1 79.4L150 86.4L156.9 92.9L163.8 99L170.6 104.7L177.5 110L184.3 114.9L191 119.3L197.8 123.3L204.6 126.8L211.3 129.8L218.1 132.4L224.8 134.5L231.5 136.1L238.3 137.2L245.1 137.8L251.9 137.9M121.6 45.3L128.7 53.6L135.7 61.5L142.8 69L149.7 76.2L156.7 83L163.6 89.3L170.4 95.3L177.3 100.8L184.1 105.9L190.9 110.6L197.6 114.9L204.4 118.7L211.1 122L217.9 124.9L224.6 127.3L231.4 129.2L238.1 130.7L244.9 131.6L251.7 132.1L258.5 132.1M128.3 42.7L135.4 50.8L142.4 58.6L149.4 65.9L156.4 72.9L163.3 79.5L170.2 85.7L177 91.5L183.9 96.8L190.7 101.8L197.5 106.3L204.2 110.4L211 114L217.8 117.2L224.5 119.9L231.2 122.2L238 124L244.8 125.3L251.5 126.1L258.3 126.4L265.1 126.2M135 40.1L142.1 48L149.1 55.6L156.1 62.8L163 69.6L170 76L176.8 82L183.7 87.7L190.5 92.9L197.3 97.6L204.1 102L210.9 105.9L217.6 109.4L224.4 112.4L231.1 115L237.9 117.1L244.6 118.7L251.4 119.8L258.2 120.5L265 120.6L271.8 120.3M141.7 37.5L148.8 45.2L155.8 52.6L162.8 59.6L169.7 66.3L176.6 72.5L183.5 78.4L190.3 83.8L197.1 88.9L203.9 93.5L210.7 97.7L217.5 101.4L224.2 104.7L231 107.6L237.7 110L244.5 112L251.3 113.4L258 114.4L264.8 114.9L271.6 114.9L278.5 114.4M148.4 34.8L155.5 42.4L162.5 49.6L169.5 56.5L176.4 62.9L183.3 69L190.1 74.7L197 80L203.8 84.8L210.6 89.3L217.4 93.3L224.1 96.9L230.9 100.1L237.6 102.8L244.4 105L251.2 106.8L257.9 108.1L264.7 109L271.5 109.3L278.3 109.2L285.2 108.5M155.1 32.1L162.2 39.5L169.2 46.6L176.2 53.2L183.1 59.5L190 65.5L196.8 71L203.6 76.1L210.4 80.8L217.2 85.1L224 89L230.8 92.4L237.5 95.4L244.3 97.9L251.1 100L257.8 101.7L264.6 102.8L271.4 103.5L278.2 103.7L285.1 103.4L291.9 102.6M161.9 29.4L168.9 36.6L175.9 43.5L182.9 50L189.8 56.2L196.6 61.9L203.5 67.3L210.3 72.2L217.1 76.8L223.9 80.9L230.7 84.6L237.4 87.9L244.2 90.7L251 93.1L257.7 95L264.5 96.5L271.3 97.5L278.1 98L284.9 98.1L291.8 97.6L298.7 96.7M168.6 26.6L175.6 33.7L182.6 40.4L189.6 46.8L196.5 52.7L203.3 58.3L210.2 63.5L217 68.3L223.8 72.7L230.6 76.7L237.3 80.2L244.1 83.3L250.9 86L257.6 88.2L264.4 90L271.2 91.3L278 92.2L284.8 92.6L291.7 92.5L298.6 91.9L305.5 90.8M175.3 23.8L182.4 30.8L189.3 37.3L196.3 43.5L203.2 49.3L210 54.7L216.9 59.7L223.7 64.4L230.5 68.6L237.3 72.4L244 75.8L250.8 78.8L257.6 81.3L264.3 83.4L271.1 85L277.9 86.2L284.7 86.9L291.6 87.1L298.4 86.9L305.3 86.1L312.3 84.9M182.1 21L189.1 27.8L196 34.2L203 40.2L209.9 45.8L216.7 51.1L223.6 56L230.4 60.4L237.2 64.5L244 68.1L250.7 71.4L257.5 74.2L264.3 76.6L271.1 78.5L277.9 80L284.7 81L291.5 81.5L298.3 81.6L305.2 81.2L312.1 80.4L319.1 79M188.8 18.2L195.8 24.8L202.8 31L209.7 36.9L216.6 42.3L223.4 47.4L230.3 52.2L237.1 56.5L243.9 60.4L250.7 63.9L257.4 66.9L264.2 69.6L271 71.8L277.8 73.6L284.6 74.9L291.4 75.8L298.3 76.2L305.1 76.1L312 75.6L319 74.6L326 73.1M195.5 15.4L202.5 21.8L209.5 27.8L216.4 33.5L223.3 38.8L230.2 43.8L237 48.3L243.8 52.5L250.6 56.2L257.4 59.6L264.2 62.5L271 65L277.7 67.1L284.5 68.7L291.4 69.9L298.2 70.6L305.1 70.9L311.9 70.7L318.9 70L325.8 68.8L332.8 67.2" class="ms"/>
<circle cx="61" cy="66.9" r="2.1" class="pk"/>
<circle cx="197.5" cy="96.9" r="2.1" class="dp"/>
<circle cx="199.9" cy="181" r="2.1" class="dp"/>
<circle cx="332.8" cy="64.4" r="2.1" class="dp"/>
<text transform="translate(60.5 155.1) scale(1.1 1.0)" font-size="8.3" class="e">40</text>
<text transform="translate(60.1 137.5) scale(1.1 1.0)" font-size="8.3" class="e">50</text>
<text transform="translate(59.6 119.9) scale(1.1 1.0)" font-size="8.3" class="e">60</text>
<text transform="translate(59.2 102.3) scale(1.1 1.0)" font-size="8.3" class="e">70</text>
<text transform="translate(58.7 84.8) scale(1.1 1.0)" font-size="8.3" class="e">80</text>
<text transform="translate(58.3 67.2) scale(1.1 1.0)" font-size="8.3" class="e">90</text>
<text transform="translate(57.8 49.6) scale(1.1 1.0)" font-size="8.3" class="e">100</text>
<text transform="translate(57.4 32) scale(1.1 1.0)" font-size="8.3" class="e">110</text>
<text transform="translate(65.1 203.1) scale(1.1 1.0)" font-size="8.3" class="e">2</text>
<text transform="translate(84 211) scale(1.1 1.0)" font-size="8.3" class="e">3</text>
<text transform="translate(102.9 219) scale(1.1 1.0)" font-size="8.3" class="e">4</text>
<text transform="translate(121.8 226.9) scale(1.1 1.0)" font-size="8.3" class="e">5</text>
<text transform="translate(140.8 234.8) scale(1.1 1.0)" font-size="8.3" class="e">6</text>
<text transform="translate(159.7 242.7) scale(1.1 1.0)" font-size="8.3" class="e">7</text>
<text transform="translate(178.6 250.7) scale(1.1 1.0)" font-size="8.3" class="e">8</text>
<text transform="translate(197.5 258.6) scale(1.1 1.0)" font-size="8.3" class="e">9</text>
<text transform="translate(204.5 258.3) scale(1.1 1.0)" font-size="8.3" class="s">5</text>
<text transform="translate(229.8 246.8) scale(1.1 1.0)" font-size="8.3" class="s">14</text>
<text transform="translate(255 235.3) scale(1.1 1.0)" font-size="8.3" class="s">23</text>
<text transform="translate(280.3 223.8) scale(1.1 1.0)" font-size="8.3" class="s">32</text>
<text transform="translate(305.5 212.3) scale(1.1 1.0)" font-size="8.3" class="s">41</text>
<text transform="translate(330.8 200.8) scale(1.1 1.0)" font-size="8.3" class="s">50</text>
<text transform="translate(19.3 112.5) rotate(-90) scale(1.0 1.05)" font-size="8.76">Removal&#160; (%)</text>
<text transform="translate(80 247.5) scale(1.06 1.0)" font-size="8.9" class="s">A: pH</text>
<text transform="translate(301.5 245) scale(1.06 1.0)" font-size="8.9" class="s">B: Dose (mg)</text>
<path d="M71.2 443.6L61.3 337.2L197.5 286.2L195.4 385.7Z M195.4 385.7L197.5 286.2L330.9 339.9L320.4 446.6Z" fill="#fff" stroke="none"/>
<path d="M71.2 443.6L61.3 337.2M96 432.1L88.5 327M120.9 420.5L115.8 316.8M145.7 408.9L143 306.6M170.6 397.3L170.3 296.4M195.4 385.7L197.5 286.2M195.4 385.7L197.5 286.2M213.3 394.4L216.6 293.9M231.1 403.1L235.6 301.5M249 411.8L254.7 309.2M266.8 420.5L273.7 316.9M284.7 429.2L292.8 324.6M302.5 437.9L311.8 332.2M320.4 446.6L330.9 339.9M71.2 443.6L195.4 385.7L320.4 446.6M69.2 422.4L195.8 365.8L322.5 425.2M67.2 401.1L196.3 345.9L324.6 403.9M65.3 379.8L196.7 326L326.7 382.6M63.3 358.5L197.1 306.1L328.8 361.2M61.3 337.2L197.5 286.2L330.9 339.9M71.2 443.6L74.2 476M320.4 446.6L317.2 479" class="wg"/>
<path d="M74.2 476L193.3 552.5L317.2 479L194.8 416Z" fill="#666"/>
<path d="M75.9 476.6C80.2 475 92.6 470.1 101.5 466.7C110.4 463.3 121.1 459.4 129.2 456.5C137.3 453.6 146.5 450.2 150 449" fill="none" stroke="#ebaa28" stroke-width="1.4" stroke-linecap="round"/>
<path d="M85.4 482.8C89.3 481.3 100.3 477.1 108.8 474C117.3 470.9 128 467.3 136.5 464.5C145 461.7 156.1 458.2 160 457" fill="none" stroke="#bedc28" stroke-width="1.4" stroke-linecap="round"/>
<path d="M96.4 489.8C100.9 488.4 115 483.8 123.4 481.3C131.8 478.8 137.4 477.3 146.8 474.7C156.2 472.1 168.6 468.4 180 465.5C191.4 462.6 205 459.2 215 457.5C225 455.8 233.2 455.3 239.9 455.5C246.6 455.7 250.6 456.7 255.2 458.6C259.8 460.5 264.2 463.4 267.4 466.8C270.6 470.2 272.9 474.9 274.6 479C276.3 483.1 277.2 487.5 277.7 491.3C278.2 495.1 277.7 500.1 277.7 501.9" fill="none" stroke="#3cd228" stroke-width="1.4" stroke-linecap="round"/>
<path d="M109.5 498.1C114.2 497 129.3 493.4 138 491.5C146.7 489.6 152.7 488.2 161.4 486.9C170.1 485.6 181.7 483.9 190 483.5C198.3 483.1 205.4 483.4 211.2 484.2C216.9 485 220.2 486 224.5 488.2C228.8 490.4 233.6 494 236.8 497.4C240 500.8 242.1 504.9 243.9 508.7C245.7 512.5 246.8 518 247.4 519.9" fill="none" stroke="#28cd82" stroke-width="1.4" stroke-linecap="round"/>
<path d="M127.4 509.8C129.5 509.5 135.4 508.2 140 507.8C144.6 507.4 149 506.9 154.8 507.3C160.6 507.7 168.8 508.8 175 510C181.2 511.2 188.1 513.2 192.3 514.5C196.5 515.8 197.3 515.9 200 517.5C202.7 519.1 205.8 521.5 208.2 524C210.6 526.5 212.8 529.9 214.3 532.2C215.8 534.5 216.9 537 217.4 537.9" fill="none" stroke="#28bedc" stroke-width="1.4" stroke-linecap="round"/>
<path d="M310.4 476C310 477.2 308.6 482.2 308.3 483.5" fill="none" stroke="#c8dc28" stroke-width="1.4" stroke-linecap="round"/>
<path d="M74.2 476l-1 1.6M91.2 486.9l-1 1.6M108.2 497.9l-1 1.6M125.2 508.8l-1 1.6M142.3 519.7l-1 1.6M159.3 530.6l-1 1.6M176.3 541.6l-1 1.6M193.3 552.5l-1 1.6M193.3 552.5l1 1.6M218.1 537.8l1 1.6M242.9 523.1l1 1.6M267.6 508.4l1 1.6M292.4 493.7l1 1.6M317.2 479l1 1.6M71.2 443.6h-1.5M69.2 422.4h-1.5M67.2 401.1h-1.5M65.3 379.8h-1.5M63.3 358.5h-1.5M61.3 337.2h-1.5" stroke="#111" stroke-width="1.4" fill="none"/>
<clipPath id="cpb"><path d="M62.9 354.2L68.2 363.8L73.5 373.1L78.7 382L83.8 390.7L88.8 399L93.8 407.1L98.7 414.8L103.5 422.2L108.3 429.3L113.1 436.1L117.8 442.6L122.4 448.7L127 454.5L131.6 460L136.1 465.2L140.6 470L145.1 474.5L149.6 478.6L154 482.4L158.5 485.9L162.9 489L167.3 491.8L171.7 494.3L176.1 496.3L180.5 498.1L184.9 499.4L189.4 500.5L193.8 501.1L200.3 494.3L206.8 487.5L213.3 480.8L219.8 474L226.4 467.3L233 460.7L239.6 454L246.2 447.4L252.9 440.8L259.6 434.3L266.3 427.8L273 421.3L279.8 414.8L286.6 408.4L293.4 402L300.3 395.6L307.1 389.3L314 383L320.9 376.7L327.9 370.4L322.9 372L317.9 373.1L313 374L308.1 374.5L303.3 374.6L298.5 374.4L293.8 373.9L289 373L284.3 371.8L279.7 370.3L275.1 368.5L270.4 366.3L265.9 363.8L261.3 361L256.7 357.9L252.2 354.4L247.6 350.7L243.1 346.6L238.6 342.3L234 337.6L229.5 332.6L224.9 327.4L220.4 321.8L215.8 315.9L211.3 309.8L206.7 303.3L202.1 296.6L197.4 289.5L190.6 292.6L183.8 295.7L177.1 298.9L170.3 302L163.5 305.1L156.7 308.3L150 311.5L143.2 314.7L136.5 317.9L129.8 321.1L123 324.3L116.3 327.6L109.6 330.9L102.9 334.2L96.2 337.5L89.5 340.8L82.8 344.1L76.2 347.5L69.5 350.8Z"/></clipPath>
<g clip-path="url(#cpb)"><g filter="url(#bl)"><path d="M195 271.8L199.6 279.3L206.4 276.4L201.8 269Z" fill="#ff0000"/><path d="M199.6 279.3L204.2 286.5L211 283.4L206.4 276.4Z" fill="#ff0000"/><path d="M188.1 274.7L192.8 282.2L199.6 279.3L195 271.8Z" fill="#ff0000"/><path d="M204.2 286.5L208.8 293.4L215.6 290.2L211 283.4Z" fill="#ff0000"/><path d="M192.8 282.2L197.4 289.5L204.2 286.5L199.6 279.3Z" fill="#ff0000"/><path d="M181.2 277.5L185.9 285.2L192.8 282.2L188.1 274.7Z" fill="#ff0000"/><path d="M208.8 293.4L213.4 300L220.2 296.7L215.6 290.2Z" fill="#ff2e00"/><path d="M197.4 289.5L202.1 296.6L208.8 293.4L204.2 286.5Z" fill="#ff0000"/><path d="M185.9 285.2L190.6 292.6L197.4 289.5L192.8 282.2Z" fill="#ff0000"/><path d="M213.4 300L218 306.3L224.7 302.9L220.2 296.7Z" fill="#ff5b00"/><path d="M174.4 280.4L179.1 288.2L185.9 285.2L181.2 277.5Z" fill="#ff0000"/><path d="M202.1 296.6L206.7 303.3L213.4 300L208.8 293.4Z" fill="#ff3100"/><path d="M190.6 292.6L195.3 299.8L202.1 296.6L197.4 289.5Z" fill="#ff0300"/><path d="M218 306.3L222.6 312.4L229.3 308.8L224.7 302.9Z" fill="#ff8500"/><path d="M179.1 288.2L183.8 295.7L190.6 292.6L185.9 285.2Z" fill="#ff0000"/><path d="M206.7 303.3L211.3 309.8L218 306.3L213.4 300Z" fill="#ff6000"/><path d="M167.5 283.2L172.3 291.2L179.1 288.2L174.4 280.4Z" fill="#ff0000"/><path d="M195.3 299.8L199.9 306.6L206.7 303.3L202.1 296.6Z" fill="#ff3500"/><path d="M222.6 312.4L227.1 318.1L233.8 314.4L229.3 308.8Z" fill="#ffad00"/><path d="M183.8 295.7L188.5 303L195.3 299.8L190.6 292.6Z" fill="#ff0600"/><path d="M211.3 309.8L215.8 315.9L222.6 312.4L218 306.3Z" fill="#ff8b00"/><path d="M172.3 291.2L177.1 298.9L183.8 295.7L179.1 288.2Z" fill="#ff0000"/><path d="M199.9 306.6L204.5 313.2L211.3 309.8L206.7 303.3Z" fill="#ff6400"/><path d="M160.7 286.1L165.5 294.2L172.3 291.2L167.5 283.2Z" fill="#ff0000"/><path d="M227.1 318.1L231.6 323.6L238.3 319.8L233.8 314.4Z" fill="#ffd100"/><path d="M188.5 303L193.2 310L199.9 306.6L195.3 299.8Z" fill="#ff3a00"/><path d="M215.8 315.9L220.4 321.8L227.1 318.1L222.6 312.4Z" fill="#ffb300"/><path d="M177.1 298.9L181.8 306.3L188.5 303L183.8 295.7Z" fill="#ff0a00"/><path d="M204.5 313.2L209.1 319.5L215.8 315.9L211.3 309.8Z" fill="#ff9100"/><path d="M231.6 323.6L236.2 328.7L242.9 324.8L238.3 319.8Z" fill="#fff200"/><path d="M165.5 294.2L170.3 302L177.1 298.9L172.3 291.2Z" fill="#ff0000"/><path d="M193.2 310L197.8 316.7L204.5 313.2L199.9 306.6Z" fill="#ff6a00"/><path d="M153.8 289L158.7 297.2L165.5 294.2L160.7 286.1Z" fill="#ff0000"/><path d="M220.4 321.8L224.9 327.4L231.6 323.6L227.1 318.1Z" fill="#ffd800"/><path d="M181.8 306.3L186.5 313.4L193.2 310L188.5 303Z" fill="#ff3f00"/><path d="M209.1 319.5L213.7 325.5L220.4 321.8L215.8 315.9Z" fill="#ffba00"/><path d="M170.3 302L175 309.5L181.8 306.3L177.1 298.9Z" fill="#ff0f00"/><path d="M236.2 328.7L240.7 333.6L247.4 329.6L242.9 324.8Z" fill="#efff00"/><path d="M197.8 316.7L202.4 323.1L209.1 319.5L204.5 313.2Z" fill="#ff9700"/><path d="M224.9 327.4L229.5 332.6L236.2 328.7L231.6 323.6Z" fill="#fffa00"/><path d="M158.7 297.2L163.5 305.1L170.3 302L165.5 294.2Z" fill="#ff0000"/><path d="M186.5 313.4L191.1 320.2L197.8 316.7L193.2 310Z" fill="#ff7000"/><path d="M147 291.9L151.9 300.3L158.7 297.2L153.8 289Z" fill="#ff0000"/><path d="M213.7 325.5L218.3 331.2L224.9 327.4L220.4 321.8Z" fill="#ffe000"/><path d="M175 309.5L179.7 316.7L186.5 313.4L181.8 306.3Z" fill="#ff4400"/><path d="M240.7 333.6L245.2 338.1L251.9 334L247.4 329.6Z" fill="#d6ff00"/><path d="M202.4 323.1L207 329.2L213.7 325.5L209.1 319.5Z" fill="#ffc100"/><path d="M163.5 305.1L168.3 312.8L175 309.5L170.3 302Z" fill="#ff1400"/><path d="M229.5 332.6L234 337.6L240.7 333.6L236.2 328.7Z" fill="#e7ff00"/><path d="M191.1 320.2L195.8 326.7L202.4 323.1L197.8 316.7Z" fill="#ff9e00"/><path d="M151.9 300.3L156.7 308.3L163.5 305.1L158.7 297.2Z" fill="#ff0000"/><path d="M218.3 331.2L222.8 336.6L229.5 332.6L224.9 327.4Z" fill="#fbff00"/><path d="M179.7 316.7L184.4 323.7L191.1 320.2L186.5 313.4Z" fill="#ff7600"/><path d="M245.2 338.1L249.7 342.4L256.4 338.1L251.9 334Z" fill="#c0ff00"/><path d="M140.2 294.8L145.1 303.3L151.9 300.3L147 291.9Z" fill="#ff0000"/><path d="M207 329.2L211.6 335L218.3 331.2L213.7 325.5Z" fill="#ffe800"/><path d="M168.3 312.8L173 320.1L179.7 316.7L175 309.5Z" fill="#ff4a00"/><path d="M234 337.6L238.6 342.3L245.2 338.1L240.7 333.6Z" fill="#cdff00"/><path d="M195.8 326.7L200.4 332.9L207 329.2L202.4 323.1Z" fill="#ffc900"/><path d="M156.7 308.3L161.6 316.1L168.3 312.8L163.5 305.1Z" fill="#ff1900"/><path d="M222.8 336.6L227.4 341.6L234 337.6L229.5 332.6Z" fill="#deff00"/><path d="M184.4 323.7L189.1 330.3L195.8 326.7L191.1 320.2Z" fill="#ffa500"/><path d="M249.7 342.4L254.3 346.3L261 342L256.4 338.1Z" fill="#adff00"/><path d="M145.1 303.3L150 311.5L156.7 308.3L151.9 300.3Z" fill="#ff0000"/><path d="M211.6 335L216.2 340.5L222.8 336.6L218.3 331.2Z" fill="#f3ff00"/><path d="M173 320.1L177.7 327.2L184.4 323.7L179.7 316.7Z" fill="#ff7d00"/><path d="M238.6 342.3L243.1 346.6L249.7 342.4L245.2 338.1Z" fill="#b6ff00"/><path d="M133.3 297.8L138.3 306.4L145.1 303.3L140.2 294.8Z" fill="#ff0000"/><path d="M200.4 332.9L205 338.8L211.6 335L207 329.2Z" fill="#fff100"/><path d="M161.6 316.1L166.3 323.5L173 320.1L168.3 312.8Z" fill="#ff5000"/><path d="M227.4 341.6L231.9 346.4L238.6 342.3L234 337.6Z" fill="#c3ff00"/><path d="M189.1 330.3L193.7 336.7L200.4 332.9L195.8 326.7Z" fill="#ffd100"/><path d="M254.3 346.3L258.8 350L265.5 345.5L261 342Z" fill="#9cff00"/><path d="M150 311.5L154.8 319.4L161.6 316.1L156.7 308.3Z" fill="#ff1f00"/><path d="M216.2 340.5L220.7 345.7L227.4 341.6L222.8 336.6Z" fill="#d5ff00"/><path d="M177.7 327.2L182.4 334L189.1 330.3L184.4 323.7Z" fill="#ffad00"/><path d="M243.1 346.6L247.6 350.7L254.3 346.3L249.7 342.4Z" fill="#a2ff00"/><path d="M205 338.8L209.5 344.5L216.2 340.5L211.6 335Z" fill="#eaff00"/><path d="M138.3 306.4L143.2 314.7L150 311.5L145.1 303.3Z" fill="#ff0000"/><path d="M231.9 346.4L236.4 350.9L243.1 346.6L238.6 342.3Z" fill="#acff00"/><path d="M166.3 323.5L171.1 330.7L177.7 327.2L173 320.1Z" fill="#ff8400"/><path d="M126.5 300.7L131.5 309.5L138.3 306.4L133.3 297.8Z" fill="#ff0000"/><path d="M193.7 336.7L198.3 342.7L205 338.8L200.4 332.9Z" fill="#fffa00"/><path d="M258.8 350L263.4 353.3L270.1 348.7L265.5 345.5Z" fill="#8fff00"/><path d="M154.8 319.4L159.6 327L166.3 323.5L161.6 316.1Z" fill="#ff5700"/><path d="M220.7 345.7L225.3 350.6L231.9 346.4L227.4 341.6Z" fill="#b9ff00"/><path d="M182.4 334L187.1 340.4L193.7 336.7L189.1 330.3Z" fill="#ffda00"/><path d="M247.6 350.7L252.2 354.4L258.8 350L254.3 346.3Z" fill="#91ff00"/><path d="M143.2 314.7L148.1 322.7L154.8 319.4L150 311.5Z" fill="#ff2600"/><path d="M209.5 344.5L214.1 349.8L220.7 345.7L216.2 340.5Z" fill="#cbff00"/><path d="M171.1 330.7L175.8 337.6L182.4 334L177.7 327.2Z" fill="#ffb500"/><path d="M236.4 350.9L241 355.1L247.6 350.7L243.1 346.6Z" fill="#97ff00"/><path d="M198.3 342.7L202.9 348.5L209.5 344.5L205 338.8Z" fill="#e1ff00"/><path d="M263.4 353.3L267.9 356.3L274.6 351.6L270.1 348.7Z" fill="#84ff00"/><path d="M131.5 309.5L136.5 317.9L143.2 314.7L138.3 306.4Z" fill="#ff0000"/><path d="M225.3 350.6L229.8 355.2L236.4 350.9L231.9 346.4Z" fill="#a1ff00"/><path d="M159.6 327L164.4 334.3L171.1 330.7L166.3 323.5Z" fill="#ff8c00"/><path d="M119.7 303.7L124.8 312.5L131.5 309.5L126.5 300.7Z" fill="#ff0000"/><path d="M187.1 340.4L191.7 346.6L198.3 342.7L193.7 336.7Z" fill="#fbff00"/><path d="M252.2 354.4L256.7 357.9L263.4 353.3L258.8 350Z" fill="#82ff00"/><path d="M148.1 322.7L152.9 330.4L159.6 327L154.8 319.4Z" fill="#ff5e00"/><path d="M214.1 349.8L218.7 354.8L225.3 350.6L220.7 345.7Z" fill="#afff00"/><path d="M175.8 337.6L180.4 344.2L187.1 340.4L182.4 334Z" fill="#ffe300"/><path d="M241 355.1L245.5 359L252.2 354.4L247.6 350.7Z" fill="#84ff00"/><path d="M136.5 317.9L141.4 326L148.1 322.7L143.2 314.7Z" fill="#ff2c00"/><path d="M202.9 348.5L207.5 353.9L214.1 349.8L209.5 344.5Z" fill="#c1ff00"/><path d="M267.9 356.3L272.5 359L279.2 354.2L274.6 351.6Z" fill="#7bff00"/><path d="M164.4 334.3L169.1 341.3L175.8 337.6L171.1 330.7Z" fill="#ffbe00"/><path d="M229.8 355.2L234.4 359.5L241 355.1L236.4 350.9Z" fill="#8bff00"/><path d="M191.7 346.6L196.3 352.5L202.9 348.5L198.3 342.7Z" fill="#d7ff00"/><path d="M256.7 357.9L261.3 361L267.9 356.3L263.4 353.3Z" fill="#76ff00"/><path d="M124.8 312.5L129.8 321.1L136.5 317.9L131.5 309.5Z" fill="#ff0000"/><path d="M152.9 330.4L157.7 337.8L164.4 334.3L159.6 327Z" fill="#ff9400"/><path d="M218.7 354.8L223.2 359.5L229.8 355.2L225.3 350.6Z" fill="#95ff00"/><path d="M180.4 344.2L185.1 350.5L191.7 346.6L187.1 340.4Z" fill="#f2ff00"/><path d="M245.5 359L250.1 362.5L256.7 357.9L252.2 354.4Z" fill="#75ff00"/><path d="M112.9 306.7L118 315.7L124.8 312.5L119.7 303.7Z" fill="#ff0000"/><path d="M141.4 326L146.3 333.9L152.9 330.4L148.1 322.7Z" fill="#ff6600"/><path d="M207.5 353.9L212 359L218.7 354.8L214.1 349.8Z" fill="#a4ff00"/><path d="M272.5 359L277.1 361.4L283.8 356.5L279.2 354.2Z" fill="#76ff00"/><path d="M169.1 341.3L173.8 348L180.4 344.2L175.8 337.6Z" fill="#ffec00"/><path d="M234.4 359.5L238.9 363.5L245.5 359L241 355.1Z" fill="#78ff00"/><path d="M129.8 321.1L134.7 329.4L141.4 326L136.5 317.9Z" fill="#ff3400"/><path d="M196.3 352.5L200.9 358L207.5 353.9L202.9 348.5Z" fill="#b7ff00"/><path d="M261.3 361L265.9 363.8L272.5 359L267.9 356.3Z" fill="#6dff00"/><path d="M223.2 359.5L227.7 363.9L234.4 359.5L229.8 355.2Z" fill="#7fff00"/><path d="M157.7 337.8L162.5 345L169.1 341.3L164.4 334.3Z" fill="#ffc700"/><path d="M185.1 350.5L189.7 356.5L196.3 352.5L191.7 346.6Z" fill="#cdff00"/><path d="M250.1 362.5L254.6 365.7L261.3 361L256.7 357.9Z" fill="#68ff00"/><path d="M118 315.7L123 324.3L129.8 321.1L124.8 312.5Z" fill="#ff0000"/><path d="M212 359L216.6 363.9L223.2 359.5L218.7 354.8Z" fill="#8aff00"/><path d="M277.1 361.4L281.8 363.4L288.5 358.4L283.8 356.5Z" fill="#74ff00"/><path d="M146.3 333.9L151.1 341.4L157.7 337.8L152.9 330.4Z" fill="#ff9d00"/><path d="M106.1 309.7L111.2 318.8L118 315.7L112.9 306.7Z" fill="#ff0000"/><path d="M173.8 348L178.5 354.4L185.1 350.5L180.4 344.2Z" fill="#e8ff00"/><path d="M238.9 363.5L243.4 367.1L250.1 362.5L245.5 359Z" fill="#68ff00"/><path d="M134.7 329.4L139.6 337.4L146.3 333.9L141.4 326Z" fill="#ff6e00"/><path d="M200.9 358L205.4 363.3L212 359L207.5 353.9Z" fill="#99ff00"/><path d="M265.9 363.8L270.4 366.3L277.1 361.4L272.5 359Z" fill="#67ff00"/><path d="M162.5 345L167.2 351.8L173.8 348L169.1 341.3Z" fill="#fff600"/><path d="M227.7 363.9L232.3 368L238.9 363.5L234.4 359.5Z" fill="#6bff00"/><path d="M123 324.3L128 332.7L134.7 329.4L129.8 321.1Z" fill="#ff3c00"/><path d="M189.7 356.5L194.3 362.2L200.9 358L196.3 352.5Z" fill="#acff00"/><path d="M254.6 365.7L259.2 368.7L265.9 363.8L261.3 361Z" fill="#5fff00"/><path d="M281.8 363.4L286.4 365.2L293.1 360L288.5 358.4Z" fill="#74ff00"/><path d="M151.1 341.4L155.9 348.7L162.5 345L157.7 337.8Z" fill="#ffd000"/><path d="M216.6 363.9L221.1 368.4L227.7 363.9L223.2 359.5Z" fill="#72ff00"/><path d="M243.4 367.1L248 370.5L254.6 365.7L250.1 362.5Z" fill="#5aff00"/><path d="M178.5 354.4L183.1 360.5L189.7 356.5L185.1 350.5Z" fill="#c3ff00"/><path d="M111.2 318.8L116.3 327.6L123 324.3L118 315.7Z" fill="#ff0400"/><path d="M205.4 363.3L210 368.2L216.6 363.9L212 359Z" fill="#7eff00"/><path d="M270.4 366.3L275.1 368.5L281.8 363.4L277.1 361.4Z" fill="#64ff00"/><path d="M139.6 337.4L144.4 345L151.1 341.4L146.3 333.9Z" fill="#ffa600"/><path d="M167.2 351.8L171.9 358.3L178.5 354.4L173.8 348Z" fill="#deff00"/><path d="M232.3 368L236.8 371.8L243.4 367.1L238.9 363.5Z" fill="#5aff00"/><path d="M99.3 312.7L104.5 321.9L111.2 318.8L106.1 309.7Z" fill="#ff0000"/><path d="M128 332.7L132.9 340.8L139.6 337.4L134.7 329.4Z" fill="#ff7700"/><path d="M194.3 362.2L198.9 367.5L205.4 363.3L200.9 358Z" fill="#8dff00"/><path d="M259.2 368.7L263.8 371.3L270.4 366.3L265.9 363.8Z" fill="#58ff00"/><path d="M286.4 365.2L291.1 366.6L297.8 361.3L293.1 360Z" fill="#77ff00"/><path d="M155.9 348.7L160.6 355.6L167.2 351.8L162.5 345Z" fill="#fdff00"/><path d="M221.1 368.4L225.7 372.6L232.3 368L227.7 363.9Z" fill="#5dff00"/><path d="M183.1 360.5L187.7 366.3L194.3 362.2L189.7 356.5Z" fill="#a0ff00"/><path d="M248 370.5L252.5 373.5L259.2 368.7L254.6 365.7Z" fill="#4fff00"/><path d="M116.3 327.6L121.3 336.1L128 332.7L123 324.3Z" fill="#ff4400"/><path d="M275.1 368.5L279.7 370.3L286.4 365.2L281.8 363.4Z" fill="#63ff00"/><path d="M144.4 345L149.2 352.4L155.9 348.7L151.1 341.4Z" fill="#ffdb00"/><path d="M210 368.2L214.6 372.9L221.1 368.4L216.6 363.9Z" fill="#65ff00"/><path d="M171.9 358.3L176.5 364.6L183.1 360.5L178.5 354.4Z" fill="#b8ff00"/><path d="M236.8 371.8L241.4 375.3L248 370.5L243.4 367.1Z" fill="#4bff00"/><path d="M104.5 321.9L109.6 330.9L116.3 327.6L111.2 318.8Z" fill="#ff0c00"/><path d="M198.9 367.5L203.4 372.6L210 368.2L205.4 363.3Z" fill="#71ff00"/><path d="M263.8 371.3L268.4 373.5L275.1 368.5L270.4 366.3Z" fill="#53ff00"/><path d="M132.9 340.8L137.8 348.7L144.4 345L139.6 337.4Z" fill="#ffb000"/><path d="M291.1 366.6L295.8 367.6L302.6 362.3L297.8 361.3Z" fill="#7dff00"/><path d="M92.5 315.7L97.7 325.1L104.5 321.9L99.3 312.7Z" fill="#ff0000"/><path d="M160.6 355.6L165.3 362.3L171.9 358.3L167.2 351.8Z" fill="#d3ff00"/><path d="M225.7 372.6L230.2 376.5L236.8 371.8L232.3 368Z" fill="#4bff00"/><path d="M187.7 366.3L192.3 371.8L198.9 367.5L194.3 362.2Z" fill="#81ff00"/><path d="M252.5 373.5L257.1 376.2L263.8 371.3L259.2 368.7Z" fill="#48ff00"/><path d="M121.3 336.1L126.3 344.4L132.9 340.8L128 332.7Z" fill="#ff8000"/><path d="M279.7 370.3L284.3 371.8L291.1 366.6L286.4 365.2Z" fill="#65ff00"/><path d="M149.2 352.4L154 359.5L160.6 355.6L155.9 348.7Z" fill="#f3ff00"/><path d="M214.6 372.9L219.1 377.2L225.7 372.6L221.1 368.4Z" fill="#50ff00"/><path d="M109.6 330.9L114.7 339.5L121.3 336.1L116.3 327.6Z" fill="#ff4d00"/><path d="M176.5 364.6L181.1 370.5L187.7 366.3L183.1 360.5Z" fill="#95ff00"/><path d="M241.4 375.3L245.9 378.4L252.5 373.5L248 370.5Z" fill="#40ff00"/><path d="M203.4 372.6L208 377.4L214.6 372.9L210 368.2Z" fill="#58ff00"/><path d="M268.4 373.5L273 375.5L279.7 370.3L275.1 368.5Z" fill="#52ff00"/><path d="M137.8 348.7L142.6 356.2L149.2 352.4L144.4 345Z" fill="#ffe500"/><path d="M230.2 376.5L234.8 380.1L241.4 375.3L236.8 371.8Z" fill="#3cff00"/><path d="M295.8 367.6L300.5 368.4L307.3 362.9L302.6 362.3Z" fill="#85ff00"/><path d="M165.3 362.3L170 368.7L176.5 364.6L171.9 358.3Z" fill="#acff00"/><path d="M97.7 325.1L102.9 334.2L109.6 330.9L104.5 321.9Z" fill="#ff1500"/><path d="M192.3 371.8L196.9 377L203.4 372.6L198.9 367.5Z" fill="#64ff00"/><path d="M257.1 376.2L261.7 378.6L268.4 373.5L263.8 371.3Z" fill="#42ff00"/><path d="M126.3 344.4L131.2 352.3L137.8 348.7L132.9 340.8Z" fill="#ffba00"/><path d="M284.3 371.8L289 373L295.8 367.6L291.1 366.6Z" fill="#6aff00"/><path d="M85.7 318.7L91 328.3L97.7 325.1L92.5 315.7Z" fill="#ff0000"/><path d="M154 359.5L158.7 366.3L165.3 362.3L160.6 355.6Z" fill="#c8ff00"/><path d="M219.1 377.2L223.6 381.2L230.2 376.5L225.7 372.6Z" fill="#3dff00"/><path d="M114.7 339.5L119.6 347.9L126.3 344.4L121.3 336.1Z" fill="#ff8a00"/><path d="M181.1 370.5L185.8 376.1L192.3 371.8L187.7 366.3Z" fill="#74ff00"/><path d="M245.9 378.4L250.5 381.3L257.1 376.2L252.5 373.5Z" fill="#37ff00"/><path d="M273 375.5L277.6 377.1L284.3 371.8L279.7 370.3Z" fill="#53ff00"/><path d="M208 377.4L212.5 381.8L219.1 377.2L214.6 372.9Z" fill="#41ff00"/><path d="M142.6 356.2L147.4 363.4L154 359.5L149.2 352.4Z" fill="#e8ff00"/><path d="M170 368.7L174.6 374.7L181.1 370.5L176.5 364.6Z" fill="#88ff00"/><path d="M234.8 380.1L239.3 383.3L245.9 378.4L241.4 375.3Z" fill="#30ff00"/><path d="M300.5 368.4L305.3 368.8L312.1 363.3L307.3 362.9Z" fill="#91ff00"/><path d="M102.9 334.2L108 342.9L114.7 339.5L109.6 330.9Z" fill="#ff5600"/><path d="M261.7 378.6L266.3 380.7L273 375.5L268.4 373.5Z" fill="#40ff00"/><path d="M131.2 352.3L136 359.9L142.6 356.2L137.8 348.7Z" fill="#fff000"/><path d="M196.9 377L201.4 381.9L208 377.4L203.4 372.6Z" fill="#4aff00"/><path d="M223.6 381.2L228.2 384.9L234.8 380.1L230.2 376.5Z" fill="#2dff00"/><path d="M289 373L293.8 373.9L300.5 368.4L295.8 367.6Z" fill="#72ff00"/><path d="M158.7 366.3L163.4 372.8L170 368.7L165.3 362.3Z" fill="#a1ff00"/><path d="M91 328.3L96.2 337.5L102.9 334.2L97.7 325.1Z" fill="#ff1d00"/><path d="M185.8 376.1L190.3 381.4L196.9 377L192.3 371.8Z" fill="#56ff00"/><path d="M250.5 381.3L255.1 383.8L261.7 378.6L257.1 376.2Z" fill="#31ff00"/><path d="M119.6 347.9L124.6 355.9L131.2 352.3L126.3 344.4Z" fill="#ffc500"/><path d="M277.6 377.1L282.3 378.4L289 373L284.3 371.8Z" fill="#57ff00"/><path d="M212.5 381.8L217.1 385.9L223.6 381.2L219.1 377.2Z" fill="#2eff00"/><path d="M79 321.8L84.3 331.4L91 328.3L85.7 318.7Z" fill="#ff0000"/><path d="M147.4 363.4L152.2 370.3L158.7 366.3L154 359.5Z" fill="#bdff00"/><path d="M174.6 374.7L179.2 380.4L185.8 376.1L181.1 370.5Z" fill="#67ff00"/><path d="M239.3 383.3L243.9 386.3L250.5 381.3L245.9 378.4Z" fill="#26ff00"/><path d="M305.3 368.8L310.1 368.9L317 363.2L312.1 363.3Z" fill="#9fff00"/><path d="M108 342.9L113 351.4L119.6 347.9L114.7 339.5Z" fill="#ff9400"/><path d="M266.3 380.7L270.9 382.4L277.6 377.1L273 375.5Z" fill="#41ff00"/><path d="M136 359.9L140.9 367.3L147.4 363.4L142.6 356.2Z" fill="#ddff00"/><path d="M201.4 381.9L206 386.4L212.5 381.8L208 377.4Z" fill="#32ff00"/><path d="M96.2 337.5L101.3 346.4L108 342.9L102.9 334.2Z" fill="#ff6000"/><path d="M163.4 372.8L168.1 378.9L174.6 374.7L170 368.7Z" fill="#7cff00"/><path d="M228.2 384.9L232.7 388.3L239.3 383.3L234.8 380.1Z" fill="#20ff00"/><path d="M293.8 373.9L298.5 374.4L305.3 368.8L300.5 368.4Z" fill="#7cff00"/><path d="M190.3 381.4L194.9 386.4L201.4 381.9L196.9 377Z" fill="#3bff00"/><path d="M255.1 383.8L259.7 385.9L266.3 380.7L261.7 378.6Z" fill="#2eff00"/><path d="M124.6 355.9L129.5 363.7L136 359.9L131.2 352.3Z" fill="#fffc00"/><path d="M282.3 378.4L287 379.4L293.8 373.9L289 373Z" fill="#5eff00"/><path d="M217.1 385.9L221.6 389.8L228.2 384.9L223.6 381.2Z" fill="#1dff00"/><path d="M152.2 370.3L156.9 376.9L163.4 372.8L158.7 366.3Z" fill="#94ff00"/><path d="M84.3 331.4L89.5 340.8L96.2 337.5L91 328.3Z" fill="#ff2700"/><path d="M179.2 380.4L183.8 385.9L190.3 381.4L185.8 376.1Z" fill="#48ff00"/><path d="M243.9 386.3L248.4 388.9L255.1 383.8L250.5 381.3Z" fill="#20ff00"/><path d="M310.1 368.9L315 368.6L321.8 362.9L317 363.2Z" fill="#b0ff00"/><path d="M113 351.4L118 359.6L124.6 355.9L119.6 347.9Z" fill="#ffd000"/><path d="M270.9 382.4L275.6 383.8L282.3 378.4L277.6 377.1Z" fill="#44ff00"/><path d="M72.2 324.9L77.6 334.6L84.3 331.4L79 321.8Z" fill="#ff0000"/><path d="M206 386.4L210.5 390.7L217.1 385.9L212.5 381.8Z" fill="#1eff00"/><path d="M140.9 367.3L145.6 374.3L152.2 370.3L147.4 363.4Z" fill="#b1ff00"/><path d="M101.3 346.4L106.4 355L113 351.4L108 342.9Z" fill="#ff9f00"/><path d="M168.1 378.9L172.7 384.8L179.2 380.4L174.6 374.7Z" fill="#59ff00"/><path d="M232.7 388.3L237.3 391.3L243.9 386.3L239.3 383.3Z" fill="#15ff00"/><path d="M298.5 374.4L303.3 374.6L310.1 368.9L305.3 368.8Z" fill="#8aff00"/><path d="M259.7 385.9L264.3 387.8L270.9 382.4L266.3 380.7Z" fill="#2eff00"/><path d="M194.9 386.4L199.5 391.1L206 386.4L201.4 381.9Z" fill="#23ff00"/><path d="M129.5 363.7L134.3 371.2L140.9 367.3L136 359.9Z" fill="#d2ff00"/><path d="M221.6 389.8L226.1 393.2L232.7 388.3L228.2 384.9Z" fill="#0fff00"/><path d="M287 379.4L291.7 380L298.5 374.4L293.8 373.9Z" fill="#68ff00"/><path d="M156.9 376.9L161.5 383.2L168.1 378.9L163.4 372.8Z" fill="#6fff00"/><path d="M89.5 340.8L94.7 349.8L101.3 346.4L96.2 337.5Z" fill="#ff6a00"/><path d="M248.4 388.9L253 391.2L259.7 385.9L255.1 383.8Z" fill="#1cff00"/><path d="M315 368.6L319.9 368.1L326.8 362.2L321.8 362.9Z" fill="#c4ff00"/><path d="M183.8 385.9L188.4 391L194.9 386.4L190.3 381.4Z" fill="#2dff00"/><path d="M118 359.6L122.9 367.5L129.5 363.7L124.6 355.9Z" fill="#f7ff00"/><path d="M275.6 383.8L280.3 384.9L287 379.4L282.3 378.4Z" fill="#4aff00"/><path d="M210.5 390.7L215.1 394.6L221.6 389.8L217.1 385.9Z" fill="#0cff00"/><path d="M145.6 374.3L150.3 381L156.9 376.9L152.2 370.3Z" fill="#88ff00"/><path d="M77.6 334.6L82.8 344.1L89.5 340.8L84.3 331.4Z" fill="#ff3100"/><path d="M172.7 384.8L177.3 390.3L183.8 385.9L179.2 380.4Z" fill="#3aff00"/><path d="M237.3 391.3L241.8 394.1L248.4 388.9L243.9 386.3Z" fill="#0dff00"/><path d="M303.3 374.6L308.1 374.5L315 368.6L310.1 368.9Z" fill="#9aff00"/><path d="M106.4 355L111.4 363.3L118 359.6L113 351.4Z" fill="#ffdb00"/><path d="M264.3 387.8L268.9 389.3L275.6 383.8L270.9 382.4Z" fill="#30ff00"/><path d="M199.5 391.1L204 395.5L210.5 390.7L206 386.4Z" fill="#0eff00"/><path d="M134.3 371.2L139.1 378.3L145.6 374.3L140.9 367.3Z" fill="#a5ff00"/><path d="M65.4 328L70.9 337.9L77.6 334.6L72.2 324.9Z" fill="#ff0000"/><path d="M226.1 393.2L230.7 396.4L237.3 391.3L232.7 388.3Z" fill="#03ff00"/><path d="M291.7 380L296.5 380.3L303.3 374.6L298.5 374.4Z" fill="#74ff00"/><path d="M161.5 383.2L166.2 389.1L172.7 384.8L168.1 378.9Z" fill="#4cff00"/><path d="M94.7 349.8L99.8 358.6L106.4 355L101.3 346.4Z" fill="#ffaa00"/><path d="M253 391.2L257.6 393.1L264.3 387.8L259.7 385.9Z" fill="#1aff00"/><path d="M319.9 368.1L324.8 367.1L331.7 361.1L326.8 362.2Z" fill="#daff00"/><path d="M188.4 391L192.9 395.8L199.5 391.1L194.9 386.4Z" fill="#14ff00"/><path d="M122.9 367.5L127.8 375.1L134.3 371.2L129.5 363.7Z" fill="#c6ff00"/><path d="M82.8 344.1L88.1 353.3L94.7 349.8L89.5 340.8Z" fill="#ff7500"/><path d="M215.1 394.6L219.6 398.2L226.1 393.2L221.6 389.8Z" fill="#00ff03"/><path d="M280.3 384.9L285 385.7L291.7 380L287 379.4Z" fill="#53ff00"/><path d="M150.3 381L155 387.4L161.5 383.2L156.9 376.9Z" fill="#61ff00"/><path d="M241.8 394.1L246.4 396.5L253 391.2L248.4 388.9Z" fill="#09ff00"/><path d="M308.1 374.5L313 374L319.9 368.1L315 368.6Z" fill="#adff00"/><path d="M177.3 390.3L181.9 395.6L188.4 391L183.8 385.9Z" fill="#1dff00"/><path d="M111.4 363.3L116.4 371.3L122.9 367.5L118 359.6Z" fill="#ebff00"/><path d="M268.9 389.3L273.6 390.5L280.3 384.9L275.6 383.8Z" fill="#35ff00"/><path d="M204 395.5L208.5 399.5L215.1 394.6L210.5 390.7Z" fill="#00ff05"/><path d="M139.1 378.3L143.8 385.2L150.3 381L145.6 374.3Z" fill="#7bff00"/><path d="M70.9 337.9L76.2 347.5L82.8 344.1L77.6 334.6Z" fill="#ff3b00"/><path d="M230.7 396.4L235.2 399.3L241.8 394.1L237.3 391.3Z" fill="#00ff06"/><path d="M296.5 380.3L301.3 380.3L308.1 374.5L303.3 374.6Z" fill="#84ff00"/><path d="M166.2 389.1L170.8 394.8L177.3 390.3L172.7 384.8Z" fill="#2bff00"/><path d="M99.8 358.6L104.8 367L111.4 363.3L106.4 355Z" fill="#ffe700"/><path d="M257.6 393.1L262.2 394.8L268.9 389.3L264.3 387.8Z" fill="#1cff00"/><path d="M324.8 367.1L329.8 365.8L336.8 359.7L331.7 361.1Z" fill="#f4ff00"/><path d="M192.9 395.8L197.5 400.3L204 395.5L199.5 391.1Z" fill="#00ff03"/><path d="M127.8 375.1L132.6 382.4L139.1 378.3L134.3 371.2Z" fill="#98ff00"/><path d="M58.7 331.1L64.2 341.1L70.9 337.9L65.4 328Z" fill="#ff0000"/><path d="M88.1 353.3L93.2 362.2L99.8 358.6L94.7 349.8Z" fill="#ffb600"/><path d="M219.6 398.2L224.1 401.5L230.7 396.4L226.1 393.2Z" fill="#00ff11"/><path d="M285 385.7L289.7 386.1L296.5 380.3L291.7 380Z" fill="#5eff00"/><path d="M155 387.4L159.7 393.5L166.2 389.1L161.5 383.2Z" fill="#3dff00"/><path d="M246.4 396.5L251 398.5L257.6 393.1L253 391.2Z" fill="#07ff00"/><path d="M313 374L317.9 373.1L324.8 367.1L319.9 368.1Z" fill="#c3ff00"/><path d="M116.4 371.3L121.2 379L127.8 375.1L122.9 367.5Z" fill="#baff00"/><path d="M181.9 395.6L186.4 400.5L192.9 395.8L188.4 391Z" fill="#04ff00"/><path d="M208.5 399.5L213.1 403.2L219.6 398.2L215.1 394.6Z" fill="#00ff17"/><path d="M273.6 390.5L278.3 391.3L285 385.7L280.3 384.9Z" fill="#3dff00"/><path d="M143.8 385.2L148.5 391.7L155 387.4L150.3 381Z" fill="#53ff00"/><path d="M76.2 347.5L81.4 356.8L88.1 353.3L82.8 344.1Z" fill="#ff8000"/><path d="M235.2 399.3L239.8 401.8L246.4 396.5L241.8 394.1Z" fill="#00ff0c"/><path d="M301.3 380.3L306.1 379.9L313 374L308.1 374.5Z" fill="#96ff00"/><path d="M170.8 394.8L175.4 400.2L181.9 395.6L177.3 390.3Z" fill="#0eff00"/><path d="M104.8 367L109.8 375.2L116.4 371.3L111.4 363.3Z" fill="#e0ff00"/><path d="M262.2 394.8L266.9 396.1L273.6 390.5L268.9 389.3Z" fill="#20ff00"/><path d="M329.8 365.8L334.9 364.2L341.9 358L336.8 359.7Z" fill="#ffed00"/><path d="M197.5 400.3L202 404.4L208.5 399.5L204 395.5Z" fill="#00ff19"/><path d="M132.6 382.4L137.3 389.3L143.8 385.2L139.1 378.3Z" fill="#6dff00"/><path d="M64.2 341.1L69.5 350.8L76.2 347.5L70.9 337.9Z" fill="#ff4500"/><path d="M224.1 401.5L228.7 404.5L235.2 399.3L230.7 396.4Z" fill="#00ff1c"/><path d="M289.7 386.1L294.5 386.1L301.3 380.3L296.5 380.3Z" fill="#6dff00"/><path d="M159.7 393.5L164.3 399.3L170.8 394.8L166.2 389.1Z" fill="#1cff00"/><path d="M93.2 362.2L98.3 370.7L104.8 367L99.8 358.6Z" fill="#fff400"/><path d="M251 398.5L255.6 400.3L262.2 394.8L257.6 393.1Z" fill="#07ff00"/><path d="M317.9 373.1L322.9 372L329.8 365.8L324.8 367.1Z" fill="#dbff00"/><path d="M51.9 334.2L57.5 344.3L64.2 341.1L58.7 331.1Z" fill="#ff0700"/><path d="M121.2 379L126.1 386.4L132.6 382.4L127.8 375.1Z" fill="#8bff00"/><path d="M186.4 400.5L191 405.1L197.5 400.3L192.9 395.8Z" fill="#00ff16"/><path d="M213.1 403.2L217.6 406.6L224.1 401.5L219.6 398.2Z" fill="#00ff26"/><path d="M278.3 391.3L283 391.9L289.7 386.1L285 385.7Z" fill="#48ff00"/><path d="M148.5 391.7L153.2 397.9L159.7 393.5L155 387.4Z" fill="#2eff00"/><path d="M81.4 356.8L86.6 365.8L93.2 362.2L88.1 353.3Z" fill="#ffc200"/><path d="M239.8 401.8L244.4 403.9L251 398.5L246.4 396.5Z" fill="#00ff10"/><path d="M306.1 379.9L311 379.2L317.9 373.1L313 374Z" fill="#abff00"/><path d="M175.4 400.2L180 405.2L186.4 400.5L181.9 395.6Z" fill="#00ff0f"/><path d="M109.8 375.2L114.7 383L121.2 379L116.4 371.3Z" fill="#adff00"/><path d="M334.9 364.2L340 362.2L347 355.9L341.9 358Z" fill="#ffcb00"/><path d="M202 404.4L206.5 408.3L213.1 403.2L208.5 399.5Z" fill="#00ff2c"/><path d="M266.9 396.1L271.5 397L278.3 391.3L273.6 390.5Z" fill="#27ff00"/><path d="M137.3 389.3L142.1 396L148.5 391.7L143.8 385.2Z" fill="#45ff00"/><path d="M69.5 350.8L74.8 360.3L81.4 356.8L76.2 347.5Z" fill="#ff8b00"/><path d="M228.7 404.5L233.2 407.1L239.8 401.8L235.2 399.3Z" fill="#00ff23"/><path d="M294.5 386.1L299.3 385.9L306.1 379.9L301.3 380.3Z" fill="#7eff00"/><path d="M98.3 370.7L103.3 379L109.8 375.2L104.8 367Z" fill="#d3ff00"/><path d="M164.3 399.3L168.9 404.8L175.4 400.2L170.8 394.8Z" fill="#00ff03"/><path d="M255.6 400.3L260.2 401.7L266.9 396.1L262.2 394.8Z" fill="#0bff00"/><path d="M322.9 372L327.9 370.4L334.9 364.2L329.8 365.8Z" fill="#f6ff00"/><path d="M191 405.1L195.5 409.4L202 404.4L197.5 400.3Z" fill="#00ff2d"/><path d="M126.1 386.4L130.9 393.5L137.3 389.3L132.6 382.4Z" fill="#5fff00"/><path d="M57.5 344.3L62.9 354.2L69.5 350.8L64.2 341.1Z" fill="#ff5100"/><path d="M217.6 406.6L222.1 409.7L228.7 404.5L224.1 401.5Z" fill="#00ff32"/><path d="M283 391.9L287.7 392L294.5 386.1L289.7 386.1Z" fill="#56ff00"/><path d="M153.2 397.9L157.9 403.8L164.3 399.3L159.7 393.5Z" fill="#0cff00"/><path d="M86.6 365.8L91.7 374.5L98.3 370.7L93.2 362.2Z" fill="#fdff00"/><path d="M244.4 403.9L249 405.8L255.6 400.3L251 398.5Z" fill="#00ff10"/><path d="M311 379.2L316 378.1L322.9 372L317.9 373.1Z" fill="#c2ff00"/><path d="M180 405.2L184.5 409.9L191 405.1L186.4 400.5Z" fill="#00ff2a"/><path d="M45.2 337.3L50.8 347.6L57.5 344.3L51.9 334.2Z" fill="#ff1100"/><path d="M114.7 383L119.6 390.5L126.1 386.4L121.2 379Z" fill="#7dff00"/><path d="M340 362.2L345.1 359.9L352.2 353.5L347 355.9Z" fill="#ffa600"/><path d="M206.5 408.3L211.1 411.8L217.6 406.6L213.1 403.2Z" fill="#00ff3c"/><path d="M271.5 397L276.2 397.7L283 391.9L278.3 391.3Z" fill="#31ff00"/><path d="M142.1 396L146.8 402.4L153.2 397.9L148.5 391.7Z" fill="#1fff00"/><path d="M74.8 360.3L80 369.4L86.6 365.8L81.4 356.8Z" fill="#ffce00"/><path d="M233.2 407.1L237.8 409.4L244.4 403.9L239.8 401.8Z" fill="#00ff27"/><path d="M299.3 385.9L304.2 385.2L311 379.2L306.1 379.9Z" fill="#92ff00"/><path d="M103.3 379L108.2 387L114.7 383L109.8 375.2Z" fill="#a0ff00"/><path d="M168.9 404.8L173.5 410L180 405.2L175.4 400.2Z" fill="#00ff22"/><path d="M327.9 370.4L333 368.6L340 362.2L334.9 364.2Z" fill="#ffe800"/><path d="M62.9 354.2L68.2 363.8L74.8 360.3L69.5 350.8Z" fill="#ff9800"/><path d="M130.9 393.5L135.6 400.3L142.1 396L137.3 389.3Z" fill="#36ff00"/><path d="M195.5 409.4L200 413.3L206.5 408.3L202 404.4Z" fill="#00ff41"/><path d="M260.2 401.7L264.9 402.8L271.5 397L266.9 396.1Z" fill="#11ff00"/><path d="M222.1 409.7L226.7 412.4L233.2 407.1L228.7 404.5Z" fill="#00ff3a"/><path d="M287.7 392L292.5 391.9L299.3 385.9L294.5 386.1Z" fill="#66ff00"/><path d="M157.9 403.8L162.5 409.4L168.9 404.8L164.3 399.3Z" fill="#00ff16"/><path d="M91.7 374.5L96.8 382.9L103.3 379L98.3 370.7Z" fill="#c6ff00"/><path d="M249 405.8L253.6 407.3L260.2 401.7L255.6 400.3Z" fill="#00ff0d"/><path d="M316 378.1L320.9 376.7L327.9 370.4L322.9 372Z" fill="#ddff00"/><path d="M184.5 409.9L189 414.3L195.5 409.4L191 405.1Z" fill="#00ff42"/><path d="M119.6 390.5L124.4 397.8L130.9 393.5L126.1 386.4Z" fill="#51ff00"/><path d="M50.8 347.6L56.2 357.6L62.9 354.2L57.5 344.3Z" fill="#ff5c00"/><path d="M211.1 411.8L215.6 415L222.1 409.7L217.6 406.6Z" fill="#00ff48"/><path d="M276.2 397.7L281 397.9L287.7 392L283 391.9Z" fill="#3eff00"/><path d="M146.8 402.4L151.4 408.4L157.9 403.8L153.2 397.9Z" fill="#00ff04"/><path d="M80 369.4L85.2 378.3L91.7 374.5L86.6 365.8Z" fill="#f1ff00"/><path d="M237.8 409.4L242.4 411.4L249 405.8L244.4 403.9Z" fill="#00ff28"/><path d="M304.2 385.2L309.1 384.3L316 378.1L311 379.2Z" fill="#a9ff00"/><path d="M38.5 340.5L44.1 350.9L50.8 347.6L45.2 337.3Z" fill="#ff1d00"/><path d="M108.2 387L113.1 394.6L119.6 390.5L114.7 383Z" fill="#6fff00"/><path d="M173.5 410L178 414.8L184.5 409.9L180 405.2Z" fill="#00ff3e"/><path d="M333 368.6L338.1 366.3L345.1 359.9L340 362.2Z" fill="#ffc400"/><path d="M68.2 363.8L73.5 373.1L80 369.4L74.8 360.3Z" fill="#ffdb00"/><path d="M135.6 400.3L140.3 406.8L146.8 402.4L142.1 396Z" fill="#0fff00"/><path d="M200 413.3L204.6 416.9L211.1 411.8L206.5 408.3Z" fill="#00ff52"/><path d="M264.9 402.8L269.5 403.5L276.2 397.7L271.5 397Z" fill="#1aff00"/><path d="M226.7 412.4L231.2 414.9L237.8 409.4L233.2 407.1Z" fill="#00ff3f"/><path d="M292.5 391.9L297.3 391.3L304.2 385.2L299.3 385.9Z" fill="#79ff00"/><path d="M162.5 409.4L167 414.7L173.5 410L168.9 404.8Z" fill="#00ff36"/><path d="M96.8 382.9L101.7 391L108.2 387L103.3 379Z" fill="#92ff00"/><path d="M320.9 376.7L326 374.9L333 368.6L327.9 370.4Z" fill="#faff00"/><path d="M253.6 407.3L258.2 408.5L264.9 402.8L260.2 401.7Z" fill="#00ff07"/><path d="M189 414.3L193.6 418.4L200 413.3L195.5 409.4Z" fill="#00ff57"/><path d="M56.2 357.6L61.6 367.3L68.2 363.8L62.9 354.2Z" fill="#ffa400"/><path d="M124.4 397.8L129.2 404.7L135.6 400.3L130.9 393.5Z" fill="#26ff00"/><path d="M215.6 415L220.1 417.8L226.7 412.4L222.1 409.7Z" fill="#00ff52"/><path d="M281 397.9L285.7 397.9L292.5 391.9L287.7 392Z" fill="#4eff00"/><path d="M151.4 408.4L156 414.1L162.5 409.4L157.9 403.8Z" fill="#00ff29"/><path d="M85.2 378.3L90.3 386.8L96.8 382.9L91.7 374.5Z" fill="#b9ff00"/><path d="M242.4 411.4L246.9 413L253.6 407.3L249 405.8Z" fill="#00ff26"/><path d="M309.1 384.3L314 383L320.9 376.7L316 378.1Z" fill="#c3ff00"/><path d="M113.1 394.6L117.9 402L124.4 397.8L119.6 390.5Z" fill="#42ff00"/><path d="M178 414.8L182.6 419.3L189 414.3L184.5 409.9Z" fill="#00ff57"/><path d="M44.1 350.9L49.6 361L56.2 357.6L50.8 347.6Z" fill="#ff6900"/><path d="M140.3 406.8L145 413L151.4 408.4L146.8 402.4Z" fill="#00ff17"/><path d="M204.6 416.9L209.1 420.3L215.6 415L211.1 411.8Z" fill="#00ff60"/><path d="M269.5 403.5L274.2 403.9L281 397.9L276.2 397.7Z" fill="#26ff00"/><path d="M73.5 373.1L78.7 382L85.2 378.3L80 369.4Z" fill="#e4ff00"/><path d="M231.2 414.9L235.8 416.9L242.4 411.4L237.8 409.4Z" fill="#00ff42"/><path d="M297.3 391.3L302.2 390.5L309.1 384.3L304.2 385.2Z" fill="#8fff00"/><path d="M167 414.7L171.6 419.7L178 414.8L173.5 410Z" fill="#00ff53"/><path d="M101.7 391L106.6 398.8L113.1 394.6L108.2 387Z" fill="#61ff00"/><path d="M326 374.9L331.1 372.8L338.1 366.3L333 368.6Z" fill="#ffe200"/><path d="M258.2 408.5L262.8 409.3L269.5 403.5L264.9 402.8Z" fill="#03ff00"/><path d="M193.6 418.4L198.1 422.1L204.6 416.9L200 413.3Z" fill="#00ff69"/><path d="M61.6 367.3L66.9 376.7L73.5 373.1L68.2 363.8Z" fill="#ffe900"/><path d="M129.2 404.7L133.9 411.3L140.3 406.8L135.6 400.3Z" fill="#00ff01"/><path d="M220.1 417.8L224.7 420.3L231.2 414.9L226.7 412.4Z" fill="#00ff58"/><path d="M285.7 397.9L290.5 397.5L297.3 391.3L292.5 391.9Z" fill="#60ff00"/><path d="M156 414.1L160.6 419.5L167 414.7L162.5 409.4Z" fill="#00ff4a"/><path d="M90.3 386.8L95.3 395L101.7 391L96.8 382.9Z" fill="#84ff00"/><path d="M314 383L319 381.3L326 374.9L320.9 376.7Z" fill="#dfff00"/><path d="M49.6 361L55 370.9L61.6 367.3L56.2 357.6Z" fill="#ffb100"/><path d="M117.9 402L122.7 409L129.2 404.7L124.4 397.8Z" fill="#17ff00"/><path d="M246.9 413L251.5 414.3L258.2 408.5L253.6 407.3Z" fill="#00ff21"/><path d="M182.6 419.3L187.1 423.5L193.6 418.4L189 414.3Z" fill="#00ff6d"/><path d="M209.1 420.3L213.6 423.2L220.1 417.8L215.6 415Z" fill="#00ff6a"/><path d="M274.2 403.9L279 403.9L285.7 397.9L281 397.9Z" fill="#35ff00"/><path d="M145 413L149.6 418.8L156 414.1L151.4 408.4Z" fill="#00ff3d"/><path d="M78.7 382L83.8 390.7L90.3 386.8L85.2 378.3Z" fill="#acff00"/><path d="M235.8 416.9L240.3 418.7L246.9 413L242.4 411.4Z" fill="#00ff40"/><path d="M302.2 390.5L307.1 389.3L314 383L309.1 384.3Z" fill="#a8ff00"/><path d="M171.6 419.7L176.1 424.3L182.6 419.3L178 414.8Z" fill="#00ff6d"/><path d="M106.6 398.8L111.5 406.3L117.9 402L113.1 394.6Z" fill="#32ff00"/><path d="M262.8 409.3L267.5 409.8L274.2 403.9L269.5 403.5Z" fill="#0eff00"/><path d="M198.1 422.1L202.6 425.6L209.1 420.3L204.6 416.9Z" fill="#00ff77"/><path d="M133.9 411.3L138.6 417.6L145 413L140.3 406.8Z" fill="#00ff2b"/><path d="M66.9 376.7L72.1 385.8L78.7 382L73.5 373.1Z" fill="#d7ff00"/><path d="M224.7 420.3L229.2 422.5L235.8 416.9L231.2 414.9Z" fill="#00ff5b"/><path d="M290.5 397.5L295.4 396.7L302.2 390.5L297.3 391.3Z" fill="#75ff00"/><path d="M160.6 419.5L165.2 424.6L171.6 419.7L167 414.7Z" fill="#00ff69"/><path d="M95.3 395L100.2 402.9L106.6 398.8L101.7 391Z" fill="#52ff00"/><path d="M319 381.3L324.1 379.3L331.1 372.8L326 374.9Z" fill="#feff00"/><path d="M55 370.9L60.4 380.4L66.9 376.7L61.6 367.3Z" fill="#fff700"/><path d="M122.7 409L127.5 415.8L133.9 411.3L129.2 404.7Z" fill="#00ff14"/><path d="M251.5 414.3L256.2 415.2L262.8 409.3L258.2 408.5Z" fill="#00ff19"/><path d="M187.1 423.5L191.6 427.4L198.1 422.1L193.6 418.4Z" fill="#00ff80"/><path d="M213.6 423.2L218.1 425.9L224.7 420.3L220.1 417.8Z" fill="#00ff71"/><path d="M279 403.9L283.7 403.6L290.5 397.5L285.7 397.9Z" fill="#46ff00"/><path d="M83.8 390.7L88.8 399L95.3 395L90.3 386.8Z" fill="#76ff00"/><path d="M149.6 418.8L154.2 424.3L160.6 419.5L156 414.1Z" fill="#00ff5f"/><path d="M307.1 389.3L312.1 387.7L319 381.3L314 383Z" fill="#c4ff00"/><path d="M240.3 418.7L244.9 420.1L251.5 414.3L246.9 413Z" fill="#00ff3c"/><path d="M176.1 424.3L180.7 428.6L187.1 423.5L182.6 419.3Z" fill="#00ff84"/><path d="M111.5 406.3L116.3 413.4L122.7 409L117.9 402Z" fill="#07ff00"/><path d="M267.5 409.8L272.2 410L279 403.9L274.2 403.9Z" fill="#1bff00"/><path d="M202.6 425.6L207.1 428.6L213.6 423.2L209.1 420.3Z" fill="#00ff83"/><path d="M138.6 417.6L143.2 423.5L149.6 418.8L145 413Z" fill="#00ff51"/><path d="M72.1 385.8L77.3 394.6L83.8 390.7L78.7 382Z" fill="#9dff00"/><path d="M229.2 422.5L233.8 424.4L240.3 418.7L235.8 416.9Z" fill="#00ff5b"/><path d="M295.4 396.7L300.3 395.6L307.1 389.3L302.2 390.5Z" fill="#8dff00"/><path d="M165.2 424.6L169.7 429.3L176.1 424.3L171.6 419.7Z" fill="#00ff84"/><path d="M100.2 402.9L105.1 410.5L111.5 406.3L106.6 398.8Z" fill="#23ff00"/><path d="M127.5 415.8L132.2 422.2L138.6 417.6L133.9 411.3Z" fill="#00ff3f"/><path d="M256.2 415.2L260.8 415.8L267.5 409.8L262.8 409.3Z" fill="#00ff0d"/><path d="M191.6 427.4L196.1 430.9L202.6 425.6L198.1 422.1Z" fill="#00ff90"/><path d="M60.4 380.4L65.6 389.6L72.1 385.8L66.9 376.7Z" fill="#c9ff00"/><path d="M218.1 425.9L222.7 428.2L229.2 422.5L224.7 420.3Z" fill="#00ff75"/><path d="M283.7 403.6L288.6 403L295.4 396.7L290.5 397.5Z" fill="#5aff00"/><path d="M88.8 399L93.8 407.1L100.2 402.9L95.3 395Z" fill="#43ff00"/><path d="M154.2 424.3L158.8 429.5L165.2 424.6L160.6 419.5Z" fill="#00ff7e"/><path d="M312.1 387.7L317.1 385.8L324.1 379.3L319 381.3Z" fill="#e2ff00"/><path d="M244.9 420.1L249.5 421.1L256.2 415.2L251.5 414.3Z" fill="#00ff35"/><path d="M180.7 428.6L185.2 432.6L191.6 427.4L187.1 423.5Z" fill="#00ff98"/><path d="M116.3 413.4L121.1 420.3L127.5 415.8L122.7 409Z" fill="#00ff27"/><path d="M272.2 410L277 409.8L283.7 403.6L279 403.9Z" fill="#2cff00"/><path d="M207.1 428.6L211.6 431.4L218.1 425.9L213.6 423.2Z" fill="#00ff8b"/><path d="M77.3 394.6L82.4 403.1L88.8 399L83.8 390.7Z" fill="#67ff00"/><path d="M143.2 423.5L147.8 429.2L154.2 424.3L149.6 418.8Z" fill="#00ff75"/><path d="M300.3 395.6L305.2 394.2L312.1 387.7L307.1 389.3Z" fill="#a8ff00"/><path d="M233.8 424.4L238.3 425.9L244.9 420.1L240.3 418.7Z" fill="#00ff58"/><path d="M169.7 429.3L174.2 433.8L180.7 428.6L176.1 424.3Z" fill="#00ff9b"/><path d="M105.1 410.5L109.9 417.8L116.3 413.4L111.5 406.3Z" fill="#00ff0c"/><path d="M260.8 415.8L265.5 416.1L272.2 410L267.5 409.8Z" fill="#02ff00"/><path d="M132.2 422.2L136.8 428.3L143.2 423.5L138.6 417.6Z" fill="#00ff66"/><path d="M196.1 430.9L200.6 434.1L207.1 428.6L202.6 425.6Z" fill="#00ff9c"/><path d="M65.6 389.6L70.8 398.6L77.3 394.6L72.1 385.8Z" fill="#8fff00"/><path d="M222.7 428.2L227.2 430.1L233.8 424.4L229.2 422.5Z" fill="#00ff76"/><path d="M288.6 403L293.4 402L300.3 395.6L295.4 396.7Z" fill="#72ff00"/><path d="M158.8 429.5L163.3 434.4L169.7 429.3L165.2 424.6Z" fill="#00ff9a"/><path d="M93.8 407.1L98.7 414.8L105.1 410.5L100.2 402.9Z" fill="#12ff00"/><path d="M249.5 421.1L254.2 421.9L260.8 415.8L256.2 415.2Z" fill="#00ff2a"/><path d="M185.2 432.6L189.7 436.3L196.1 430.9L191.6 427.4Z" fill="#00ffa8"/><path d="M121.1 420.3L125.8 426.8L132.2 422.2L127.5 415.8Z" fill="#00ff53"/><path d="M277 409.8L281.8 409.3L288.6 403L283.7 403.6Z" fill="#3fff00"/><path d="M211.6 431.4L216.1 433.8L222.7 428.2L218.1 425.9Z" fill="#00ff90"/><path d="M82.4 403.1L87.4 411.3L93.8 407.1L88.8 399Z" fill="#33ff00"/><path d="M147.8 429.2L152.4 434.5L158.8 429.5L154.2 424.3Z" fill="#00ff95"/><path d="M305.2 394.2L310.2 392.4L317.1 385.8L312.1 387.7Z" fill="#c5ff00"/><path d="M238.3 425.9L242.9 427.1L249.5 421.1L244.9 420.1Z" fill="#00ff51"/><path d="M174.2 433.8L178.8 437.9L185.2 432.6L180.7 428.6Z" fill="#00ffb0"/><path d="M109.9 417.8L114.7 424.8L121.1 420.3L116.3 413.4Z" fill="#00ff3b"/><path d="M265.5 416.1L270.3 416L277 409.8L272.2 410Z" fill="#11ff00"/><path d="M200.6 434.1L205.1 437L211.6 431.4L207.1 428.6Z" fill="#00ffa5"/><path d="M70.8 398.6L75.9 407.2L82.4 403.1L77.3 394.6Z" fill="#57ff00"/><path d="M136.8 428.3L141.4 434L147.8 429.2L143.2 423.5Z" fill="#00ff8a"/><path d="M293.4 402L298.3 400.6L305.2 394.2L300.3 395.6Z" fill="#8bff00"/><path d="M98.7 414.8L103.5 422.2L109.9 417.8L105.1 410.5Z" fill="#00ff1f"/><path d="M163.3 434.4L167.8 438.9L174.2 433.8L169.7 429.3Z" fill="#00ffb3"/><path d="M227.2 430.1L231.8 431.8L238.3 425.9L233.8 424.4Z" fill="#00ff74"/><path d="M254.2 421.9L258.8 422.2L265.5 416.1L260.8 415.8Z" fill="#00ff1c"/><path d="M189.7 436.3L194.2 439.6L200.6 434.1L196.1 430.9Z" fill="#00ffb6"/><path d="M125.8 426.8L130.4 433L136.8 428.3L132.2 422.2Z" fill="#00ff7b"/><path d="M281.8 409.3L286.6 408.4L293.4 402L288.6 403Z" fill="#56ff00"/><path d="M152.4 434.5L156.9 439.5L163.3 434.4L158.8 429.5Z" fill="#00ffb2"/><path d="M216.1 433.8L220.7 435.9L227.2 430.1L222.7 428.2Z" fill="#00ff92"/><path d="M87.4 411.3L92.3 419.1L98.7 414.8L93.8 407.1Z" fill="#02ff00"/><path d="M242.9 427.1L247.5 427.9L254.2 421.9L249.5 421.1Z" fill="#00ff47"/><path d="M178.8 437.9L183.3 441.6L189.7 436.3L185.2 432.6Z" fill="#00ffc1"/><path d="M114.7 424.8L119.4 431.5L125.8 426.8L121.1 420.3Z" fill="#00ff68"/><path d="M270.3 416L275 415.6L281.8 409.3L277 409.8Z" fill="#24ff00"/><path d="M75.9 407.2L80.9 415.5L87.4 411.3L82.4 403.1Z" fill="#23ff00"/><path d="M141.4 434L146 439.5L152.4 434.5L147.8 429.2Z" fill="#00ffac"/><path d="M205.1 437L209.6 439.5L216.1 433.8L211.6 431.4Z" fill="#00ffab"/><path d="M298.3 400.6L303.3 398.9L310.2 392.4L305.2 394.2Z" fill="#a8ff00"/><path d="M103.5 422.2L108.3 429.3L114.7 424.8L109.9 417.8Z" fill="#00ff50"/><path d="M167.8 438.9L172.3 443.2L178.8 437.9L174.2 433.8Z" fill="#00ffc9"/><path d="M231.8 431.8L236.3 433.1L242.9 427.1L238.3 425.9Z" fill="#00ff6e"/><path d="M194.2 439.6L198.7 442.6L205.1 437L200.6 434.1Z" fill="#00ffc0"/><path d="M258.8 422.2L263.5 422.3L270.3 416L265.5 416.1Z" fill="#00ff0b"/><path d="M130.4 433L135.1 438.9L141.4 434L136.8 428.3Z" fill="#00ffa1"/><path d="M286.6 408.4L291.5 407.1L298.3 400.6L293.4 402Z" fill="#6fff00"/><path d="M220.7 435.9L225.2 437.6L231.8 431.8L227.2 430.1Z" fill="#00ff90"/><path d="M92.3 419.1L97.2 426.7L103.5 422.2L98.7 414.8Z" fill="#00ff33"/><path d="M156.9 439.5L161.5 444.1L167.8 438.9L163.3 434.4Z" fill="#00ffcb"/><path d="M247.5 427.9L252.2 428.4L258.8 422.2L254.2 421.9Z" fill="#00ff3b"/><path d="M183.3 441.6L187.7 445.1L194.2 439.6L189.7 436.3Z" fill="#00ffd0"/><path d="M119.4 431.5L124.1 437.8L130.4 433L125.8 426.8Z" fill="#00ff91"/><path d="M146 439.5L150.6 444.6L156.9 439.5L152.4 434.5Z" fill="#00ffc9"/><path d="M209.6 439.5L214.2 441.7L220.7 435.9L216.1 433.8Z" fill="#00ffae"/><path d="M275 415.6L279.8 414.8L286.6 408.4L281.8 409.3Z" fill="#39ff00"/><path d="M80.9 415.5L85.9 423.5L92.3 419.1L87.4 411.3Z" fill="#00ff12"/><path d="M108.3 429.3L113.1 436.1L119.4 431.5L114.7 424.8Z" fill="#00ff7d"/><path d="M172.3 443.2L176.8 447.1L183.3 441.6L178.8 437.9Z" fill="#00ffdb"/><path d="M236.3 433.1L240.9 434L247.5 427.9L242.9 427.1Z" fill="#00ff65"/><path d="M198.7 442.6L203.2 445.2L209.6 439.5L205.1 437Z" fill="#00ffc7"/><path d="M263.5 422.3L268.3 421.9L275 415.6L270.3 416Z" fill="#08ff00"/><path d="M135.1 438.9L139.7 444.5L146 439.5L141.4 434Z" fill="#00ffc3"/><path d="M291.5 407.1L296.4 405.5L303.3 398.9L298.3 400.6Z" fill="#8aff00"/><path d="M225.2 437.6L229.8 439L236.3 433.1L231.8 431.8Z" fill="#00ff8c"/><path d="M97.2 426.7L102 433.9L108.3 429.3L103.5 422.2Z" fill="#00ff65"/><path d="M161.5 444.1L166 448.5L172.3 443.2L167.8 438.9Z" fill="#00ffe2"/><path d="M252.2 428.4L256.9 428.5L263.5 422.3L258.8 422.2Z" fill="#00ff2a"/><path d="M187.7 445.1L192.2 448.2L198.7 442.6L194.2 439.6Z" fill="#00ffdb"/><path d="M124.1 437.8L128.7 443.8L135.1 438.9L130.4 433Z" fill="#00ffb8"/><path d="M279.8 414.8L284.6 413.7L291.5 407.1L286.6 408.4Z" fill="#52ff00"/><path d="M85.9 423.5L90.8 431.2L97.2 426.7L92.3 419.1Z" fill="#00ff47"/><path d="M150.6 444.6L155.1 449.4L161.5 444.1L156.9 439.5Z" fill="#00ffe4"/><path d="M214.2 441.7L218.7 443.6L225.2 437.6L220.7 435.9Z" fill="#00ffad"/><path d="M176.8 447.1L181.3 450.6L187.7 445.1L183.3 441.6Z" fill="#00ffea"/><path d="M240.9 434L245.5 434.6L252.2 428.4L247.5 427.9Z" fill="#00ff59"/><path d="M113.1 436.1L117.8 442.6L124.1 437.8L119.4 431.5Z" fill="#00ffa8"/><path d="M268.3 421.9L273 421.3L279.8 414.8L275 415.6Z" fill="#1dff00"/><path d="M139.7 444.5L144.2 449.7L150.6 444.6L146 439.5Z" fill="#00ffe2"/><path d="M203.2 445.2L207.7 447.5L214.2 441.7L209.6 439.5Z" fill="#00ffca"/><path d="M229.8 439L234.3 440.1L240.9 434L236.3 433.1Z" fill="#00ff84"/><path d="M102 433.9L106.7 440.8L113.1 436.1L108.3 429.3Z" fill="#00ff93"/><path d="M166 448.5L170.5 452.5L176.8 447.1L172.3 443.2Z" fill="#00fff5"/><path d="M256.9 428.5L261.6 428.3L268.3 421.9L263.5 422.3Z" fill="#00ff17"/><path d="M192.2 448.2L196.7 450.9L203.2 445.2L198.7 442.6Z" fill="#00ffe3"/><path d="M128.7 443.8L133.3 449.5L139.7 444.5L135.1 438.9Z" fill="#00ffdb"/><path d="M284.6 413.7L289.5 412.2L296.4 405.5L291.5 407.1Z" fill="#6cff00"/><path d="M90.8 431.2L95.6 438.5L102 433.9L97.2 426.7Z" fill="#00ff7a"/><path d="M155.1 449.4L159.6 453.8L166 448.5L161.5 444.1Z" fill="#00fffc"/><path d="M218.7 443.6L223.2 445.1L229.8 439L225.2 437.6Z" fill="#00ffaa"/><path d="M181.3 450.6L185.8 453.8L192.2 448.2L187.7 445.1Z" fill="#00fff6"/><path d="M245.5 434.6L250.2 434.8L256.9 428.5L252.2 428.4Z" fill="#00ff4a"/><path d="M117.8 442.6L122.4 448.7L128.7 443.8L124.1 437.8Z" fill="#00ffcf"/><path d="M273 421.3L277.8 420.2L284.6 413.7L279.8 414.8Z" fill="#34ff00"/><path d="M207.7 447.5L212.2 449.5L218.7 443.6L214.2 441.7Z" fill="#00ffcb"/><path d="M144.2 449.7L148.8 454.6L155.1 449.4L150.6 444.6Z" fill="#00fffd"/><path d="M234.3 440.1L238.9 440.8L245.5 434.6L240.9 434Z" fill="#00ff79"/><path d="M170.5 452.5L174.9 456.2L181.3 450.6L176.8 447.1Z" fill="#00f8ff"/><path d="M106.7 440.8L111.4 447.4L117.8 442.6L113.1 436.1Z" fill="#00ffbf"/><path d="M196.7 450.9L201.2 453.4L207.7 447.5L203.2 445.2Z" fill="#00ffe7"/><path d="M261.6 428.3L266.3 427.8L273 421.3L268.3 421.9Z" fill="#00ff01"/><path d="M133.3 449.5L137.9 454.9L144.2 449.7L139.7 444.5Z" fill="#00fffb"/><path d="M95.6 438.5L100.4 445.5L106.7 440.8L102 433.9Z" fill="#00ffaa"/><path d="M159.6 453.8L164.1 458L170.5 452.5L166 448.5Z" fill="#00edff"/><path d="M223.2 445.1L227.8 446.2L234.3 440.1L229.8 439Z" fill="#00ffa3"/><path d="M185.8 453.8L190.3 456.7L196.7 450.9L192.2 448.2Z" fill="#00ffff"/><path d="M250.2 434.8L254.9 434.7L261.6 428.3L256.9 428.5Z" fill="#00ff38"/><path d="M122.4 448.7L127 454.5L133.3 449.5L128.7 443.8Z" fill="#00fff3"/><path d="M277.8 420.2L282.7 418.9L289.5 412.2L284.6 413.7Z" fill="#4eff00"/><path d="M212.2 449.5L216.7 451.1L223.2 445.1L218.7 443.6Z" fill="#00ffc8"/><path d="M148.8 454.6L153.3 459.2L159.6 453.8L155.1 449.4Z" fill="#00e7ff"/><path d="M238.9 440.8L243.5 441.2L250.2 434.8L245.5 434.6Z" fill="#00ff6b"/><path d="M174.9 456.2L179.4 459.5L185.8 453.8L181.3 450.6Z" fill="#00eaff"/><path d="M111.4 447.4L116.1 453.7L122.4 448.7L117.8 442.6Z" fill="#00ffe7"/><path d="M266.3 427.8L271.1 426.8L277.8 420.2L273 421.3Z" fill="#16ff00"/><path d="M201.2 453.4L205.7 455.5L212.2 449.5L207.7 447.5Z" fill="#00ffe9"/><path d="M137.9 454.9L142.4 459.9L148.8 454.6L144.2 449.7Z" fill="#00e6ff"/><path d="M164.1 458L168.6 461.7L174.9 456.2L170.5 452.5Z" fill="#00dbff"/><path d="M100.4 445.5L105.1 452.3L111.4 447.4L106.7 440.8Z" fill="#00ffd6"/><path d="M227.8 446.2L232.3 447.1L238.9 440.8L234.3 440.1Z" fill="#00ff99"/><path d="M127 454.5L131.6 460L137.9 454.9L133.3 449.5Z" fill="#00e9ff"/><path d="M190.3 456.7L194.8 459.3L201.2 453.4L196.7 450.9Z" fill="#00f9ff"/><path d="M254.9 434.7L259.6 434.3L266.3 427.8L261.6 428.3Z" fill="#00ff23"/><path d="M216.7 451.1L221.2 452.4L227.8 446.2L223.2 445.1Z" fill="#00ffc2"/><path d="M153.3 459.2L157.7 463.4L164.1 458L159.6 453.8Z" fill="#00d0ff"/><path d="M243.5 441.2L248.2 441.2L254.9 434.7L250.2 434.8Z" fill="#00ff59"/><path d="M179.4 459.5L183.9 462.5L190.3 456.7L185.8 453.8Z" fill="#00e0ff"/><path d="M116.1 453.7L120.7 459.6L127 454.5L122.4 448.7Z" fill="#00f2ff"/><path d="M271.1 426.8L275.9 425.6L282.7 418.9L277.8 420.2Z" fill="#2fff00"/><path d="M205.7 455.5L210.2 457.2L216.7 451.1L212.2 449.5Z" fill="#00ffe7"/><path d="M142.4 459.9L146.9 464.6L153.3 459.2L148.8 454.6Z" fill="#00cbff"/><path d="M168.6 461.7L173 465.2L179.4 459.5L174.9 456.2Z" fill="#00ccff"/><path d="M105.1 452.3L109.8 458.6L116.1 453.7L111.4 447.4Z" fill="#00ffff"/><path d="M232.3 447.1L236.9 447.5L243.5 441.2L238.9 440.8Z" fill="#00ff8c"/><path d="M259.6 434.3L264.3 433.5L271.1 426.8L266.3 427.8Z" fill="#00ff0a"/><path d="M131.6 460L136.1 465.2L142.4 459.9L137.9 454.9Z" fill="#00caff"/><path d="M194.8 459.3L199.2 461.4L205.7 455.5L201.2 453.4Z" fill="#00f6ff"/><path d="M221.2 452.4L225.8 453.3L232.3 447.1L227.8 446.2Z" fill="#00ffb9"/><path d="M157.7 463.4L162.2 467.3L168.6 461.7L164.1 458Z" fill="#00bdff"/><path d="M120.7 459.6L125.3 465.2L131.6 460L127 454.5Z" fill="#00ceff"/><path d="M183.9 462.5L188.3 465.2L194.8 459.3L190.3 456.7Z" fill="#00d9ff"/><path d="M248.2 441.2L252.9 440.8L259.6 434.3L254.9 434.7Z" fill="#00ff45"/><path d="M146.9 464.6L151.4 468.9L157.7 463.4L153.3 459.2Z" fill="#00b3ff"/><path d="M210.2 457.2L214.7 458.6L221.2 452.4L216.7 451.1Z" fill="#00ffe2"/><path d="M109.8 458.6L114.5 464.7L120.7 459.6L116.1 453.7Z" fill="#00d7ff"/><path d="M173 465.2L177.5 468.3L183.9 462.5L179.4 459.5Z" fill="#00c1ff"/><path d="M236.9 447.5L241.6 447.6L248.2 441.2L243.5 441.2Z" fill="#00ff7b"/><path d="M136.1 465.2L140.6 470L146.9 464.6L142.4 459.9Z" fill="#00aeff"/><path d="M199.2 461.4L203.7 463.3L210.2 457.2L205.7 455.5Z" fill="#00f7ff"/><path d="M264.3 433.5L269.1 432.3L275.9 425.6L271.1 426.8Z" fill="#10ff00"/><path d="M162.2 467.3L166.7 470.9L173 465.2L168.6 461.7Z" fill="#00aeff"/><path d="M225.8 453.3L230.3 453.9L236.9 447.5L232.3 447.1Z" fill="#00ffad"/><path d="M252.9 440.8L257.6 440.1L264.3 433.5L259.6 434.3Z" fill="#00ff2d"/><path d="M125.3 465.2L129.9 470.5L136.1 465.2L131.6 460Z" fill="#00aeff"/><path d="M188.3 465.2L192.8 467.5L199.2 461.4L194.8 459.3Z" fill="#00d6ff"/><path d="M214.7 458.6L219.2 459.6L225.8 453.3L221.2 452.4Z" fill="#00ffda"/><path d="M151.4 468.9L155.9 473L162.2 467.3L157.7 463.4Z" fill="#009fff"/><path d="M114.5 464.7L119 470.4L125.3 465.2L120.7 459.6Z" fill="#00b2ff"/><path d="M177.5 468.3L181.9 471.1L188.3 465.2L183.9 462.5Z" fill="#00b9ff"/><path d="M241.6 447.6L246.2 447.4L252.9 440.8L248.2 441.2Z" fill="#00ff68"/><path d="M140.6 470L145.1 474.5L151.4 468.9L146.9 464.6Z" fill="#0096ff"/><path d="M203.7 463.3L208.2 464.8L214.7 458.6L210.2 457.2Z" fill="#00fbff"/><path d="M230.3 453.9L234.9 454.1L241.6 447.6L236.9 447.5Z" fill="#00ff9e"/><path d="M166.7 470.9L171.1 474.2L177.5 468.3L173 465.2Z" fill="#00a1ff"/><path d="M129.9 470.5L134.4 475.4L140.6 470L136.1 465.2Z" fill="#0091ff"/><path d="M192.8 467.5L197.3 469.4L203.7 463.3L199.2 461.4Z" fill="#00d5ff"/><path d="M257.6 440.1L262.3 439.1L269.1 432.3L264.3 433.5Z" fill="#00ff12"/><path d="M155.9 473L160.3 476.7L166.7 470.9L162.2 467.3Z" fill="#008fff"/><path d="M219.2 459.6L223.8 460.3L230.3 453.9L225.8 453.3Z" fill="#00ffcf"/><path d="M119 470.4L123.6 475.8L129.9 470.5L125.3 465.2Z" fill="#0091ff"/><path d="M181.9 471.1L186.4 473.5L192.8 467.5L188.3 465.2Z" fill="#00b4ff"/><path d="M246.2 447.4L250.9 446.8L257.6 440.1L252.9 440.8Z" fill="#00ff51"/><path d="M145.1 474.5L149.6 478.6L155.9 473L151.4 468.9Z" fill="#0081ff"/><path d="M208.2 464.8L212.7 466L219.2 459.6L214.7 458.6Z" fill="#00fffc"/><path d="M171.1 474.2L175.6 477L181.9 471.1L177.5 468.3Z" fill="#0098ff"/><path d="M234.9 454.1L239.6 454L246.2 447.4L241.6 447.6Z" fill="#00ff8b"/><path d="M134.4 475.4L138.8 480L145.1 474.5L140.6 470Z" fill="#0078ff"/><path d="M197.3 469.4L201.7 471.1L208.2 464.8L203.7 463.3Z" fill="#00d8ff"/><path d="M223.8 460.3L228.4 460.7L234.9 454.1L230.3 453.9Z" fill="#00ffc1"/><path d="M160.3 476.7L164.8 480L171.1 474.2L166.7 470.9Z" fill="#0081ff"/><path d="M250.9 446.8L255.6 445.9L262.3 439.1L257.6 440.1Z" fill="#00ff37"/><path d="M123.6 475.8L128.1 480.9L134.4 475.4L129.9 470.5Z" fill="#0073ff"/><path d="M186.4 473.5L190.8 475.6L197.3 469.4L192.8 467.5Z" fill="#00b3ff"/><path d="M149.6 478.6L154 482.4L160.3 476.7L155.9 473Z" fill="#006fff"/><path d="M212.7 466L217.2 466.8L223.8 460.3L219.2 459.6Z" fill="#00fff1"/><path d="M175.6 477L180 479.6L186.4 473.5L181.9 471.1Z" fill="#0093ff"/><path d="M239.6 454L244.2 453.5L250.9 446.8L246.2 447.4Z" fill="#00ff75"/><path d="M138.8 480L143.3 484.3L149.6 478.6L145.1 474.5Z" fill="#0062ff"/><path d="M201.7 471.1L206.2 472.3L212.7 466L208.2 464.8Z" fill="#00dfff"/><path d="M228.4 460.7L233 460.7L239.6 454L234.9 454.1Z" fill="#00ffaf"/><path d="M164.8 480L169.2 483L175.6 477L171.1 474.2Z" fill="#0077ff"/><path d="M128.1 480.9L132.6 485.6L138.8 480L134.4 475.4Z" fill="#0059ff"/><path d="M190.8 475.6L195.3 477.3L201.7 471.1L197.3 469.4Z" fill="#00b5ff"/><path d="M154 482.4L158.5 485.9L164.8 480L160.3 476.7Z" fill="#0061ff"/><path d="M217.2 466.8L221.8 467.2L228.4 460.7L223.8 460.3Z" fill="#00ffe4"/><path d="M244.2 453.5L248.9 452.7L255.6 445.9L250.9 446.8Z" fill="#00ff5c"/><path d="M180 479.6L184.4 481.8L190.8 475.6L186.4 473.5Z" fill="#0090ff"/><path d="M143.3 484.3L147.7 488.3L154 482.4L149.6 478.6Z" fill="#004fff"/><path d="M206.2 472.3L210.7 473.2L217.2 466.8L212.7 466Z" fill="#00e9ff"/><path d="M233 460.7L237.6 460.3L244.2 453.5L239.6 454Z" fill="#00ff9a"/><path d="M169.2 483L173.6 485.7L180 479.6L175.6 477Z" fill="#0071ff"/><path d="M132.6 485.6L137.1 490L143.3 484.3L138.8 480Z" fill="#0042ff"/><path d="M195.3 477.3L199.8 478.7L206.2 472.3L201.7 471.1Z" fill="#00bbff"/><path d="M158.5 485.9L162.9 489L169.2 483L164.8 480Z" fill="#0056ff"/><path d="M221.8 467.2L226.4 467.3L233 460.7L228.4 460.7Z" fill="#00ffd3"/><path d="M184.4 481.8L188.9 483.6L195.3 477.3L190.8 475.6Z" fill="#0091ff"/><path d="M147.7 488.3L152.2 491.8L158.5 485.9L154 482.4Z" fill="#003fff"/><path d="M210.7 473.2L215.3 473.8L221.8 467.2L217.2 466.8Z" fill="#00f6ff"/><path d="M237.6 460.3L242.2 459.5L248.9 452.7L244.2 453.5Z" fill="#00ff82"/><path d="M173.6 485.7L178.1 488L184.4 481.8L180 479.6Z" fill="#006dff"/><path d="M137.1 490L141.5 494.1L147.7 488.3L143.3 484.3Z" fill="#002eff"/><path d="M199.8 478.7L204.2 479.8L210.7 473.2L206.2 472.3Z" fill="#00c3ff"/><path d="M226.4 467.3L231 467.1L237.6 460.3L233 460.7Z" fill="#00ffbf"/><path d="M162.9 489L167.3 491.8L173.6 485.7L169.2 483Z" fill="#004eff"/><path d="M188.9 483.6L193.3 485.1L199.8 478.7L195.3 477.3Z" fill="#0096ff"/><path d="M152.2 491.8L156.6 495.1L162.9 489L158.5 485.9Z" fill="#0033ff"/><path d="M215.3 473.8L219.8 474L226.4 467.3L221.8 467.2Z" fill="#00fff8"/><path d="M178.1 488L182.5 490L188.9 483.6L184.4 481.8Z" fill="#006dff"/><path d="M141.5 494.1L145.9 497.8L152.2 491.8L147.7 488.3Z" fill="#001eff"/><path d="M204.2 479.8L208.7 480.4L215.3 473.8L210.7 473.2Z" fill="#00cfff"/><path d="M167.3 491.8L171.7 494.3L178.1 488L173.6 485.7Z" fill="#004aff"/><path d="M231 467.1L235.6 466.4L242.2 459.5L237.6 460.3Z" fill="#00ffa8"/><path d="M193.3 485.1L197.8 486.3L204.2 479.8L199.8 478.7Z" fill="#009eff"/><path d="M219.8 474L224.4 473.9L231 467.1L226.4 467.3Z" fill="#00ffe5"/><path d="M156.6 495.1L161 498L167.3 491.8L162.9 489Z" fill="#002bff"/><path d="M182.5 490L186.9 491.6L193.3 485.1L188.9 483.6Z" fill="#0071ff"/><path d="M145.9 497.8L150.3 501.2L156.6 495.1L152.2 491.8Z" fill="#0011ff"/><path d="M208.7 480.4L213.3 480.8L219.8 474L215.3 473.8Z" fill="#00dfff"/><path d="M171.7 494.3L176.1 496.3L182.5 490L178.1 488Z" fill="#0049ff"/><path d="M197.8 486.3L202.3 487.1L208.7 480.4L204.2 479.8Z" fill="#00a9ff"/><path d="M161 498L165.4 500.5L171.7 494.3L167.3 491.8Z" fill="#0025ff"/><path d="M224.4 473.9L229 473.4L235.6 466.4L231 467.1Z" fill="#00ffcf"/><path d="M186.9 491.6L191.4 492.9L197.8 486.3L193.3 485.1Z" fill="#0077ff"/><path d="M150.3 501.2L154.7 504.2L161 498L156.6 495.1Z" fill="#0007ff"/><path d="M213.3 480.8L217.8 480.7L224.4 473.9L219.8 474Z" fill="#00f2ff"/><path d="M176.1 496.3L180.5 498.1L186.9 491.6L182.5 490Z" fill="#004bff"/><path d="M202.3 487.1L206.8 487.5L213.3 480.8L208.7 480.4Z" fill="#00b7ff"/><path d="M165.4 500.5L169.8 502.7L176.1 496.3L171.7 494.3Z" fill="#0023ff"/><path d="M191.4 492.9L195.8 493.8L202.3 487.1L197.8 486.3Z" fill="#0081ff"/><path d="M217.8 480.7L222.4 480.3L229 473.4L224.4 473.9Z" fill="#00fff7"/><path d="M154.7 504.2L159.1 506.8L165.4 500.5L161 498Z" fill="#0001ff"/><path d="M180.5 498.1L184.9 499.4L191.4 492.9L186.9 491.6Z" fill="#0051ff"/><path d="M206.8 487.5L211.3 487.6L217.8 480.7L213.3 480.8Z" fill="#00c9ff"/><path d="M169.8 502.7L174.2 504.6L180.5 498.1L176.1 496.3Z" fill="#0025ff"/><path d="M195.8 493.8L200.3 494.3L206.8 487.5L202.3 487.1Z" fill="#008fff"/><path d="M159.1 506.8L163.5 509.2L169.8 502.7L165.4 500.5Z" fill="#0000ff"/><path d="M184.9 499.4L189.4 500.5L195.8 493.8L191.4 492.9Z" fill="#005aff"/><path d="M211.3 487.6L215.8 487.3L222.4 480.3L217.8 480.7Z" fill="#00deff"/><path d="M174.2 504.6L178.6 506.1L184.9 499.4L180.5 498.1Z" fill="#0029ff"/><path d="M200.3 494.3L204.8 494.5L211.3 487.6L206.8 487.5Z" fill="#00a0ff"/><path d="M163.5 509.2L167.8 511.1L174.2 504.6L169.8 502.7Z" fill="#0000ff"/><path d="M189.4 500.5L193.8 501.1L200.3 494.3L195.8 493.8Z" fill="#0066ff"/><path d="M178.6 506.1L183 507.2L189.4 500.5L184.9 499.4Z" fill="#0031ff"/><path d="M204.8 494.5L209.3 494.3L215.8 487.3L211.3 487.6Z" fill="#00b4ff"/><path d="M167.8 511.1L172.2 512.7L178.6 506.1L174.2 504.6Z" fill="#0002ff"/><path d="M193.8 501.1L198.3 501.4L204.8 494.5L200.3 494.3Z" fill="#0076ff"/><path d="M183 507.2L187.4 508L193.8 501.1L189.4 500.5Z" fill="#003dff"/><path d="M172.2 512.7L176.6 514L183 507.2L178.6 506.1Z" fill="#0009ff"/><path d="M198.3 501.4L202.8 501.4L209.3 494.3L204.8 494.5Z" fill="#0089ff"/><path d="M187.4 508L191.8 508.4L198.3 501.4L193.8 501.1Z" fill="#004bff"/><path d="M176.6 514L181 514.9L187.4 508L183 507.2Z" fill="#0013ff"/><path d="M191.8 508.4L196.3 508.4L202.8 501.4L198.3 501.4Z" fill="#005eff"/><path d="M181 514.9L185.4 515.4L191.8 508.4L187.4 508Z" fill="#0021ff"/><path d="M185.4 515.4L189.8 515.6L196.3 508.4L191.8 508.4Z" fill="#0032ff"/></g></g>
<path d="M62.9 354.2L69.5 350.8L76.2 347.5L82.8 344.1L89.5 340.8L96.2 337.5L102.9 334.2L109.6 330.9L116.3 327.6L123 324.3L129.8 321.1L136.5 317.9L143.2 314.7L150 311.5L156.7 308.3L163.5 305.1L170.3 302L177.1 298.9L183.8 295.7L190.6 292.6L197.4 289.5M68.2 363.8L74.8 360.3L81.4 356.8L88.1 353.3L94.7 349.8L101.3 346.4L108 342.9L114.7 339.5L121.3 336.1L128 332.7L134.7 329.4L141.4 326L148.1 322.7L154.8 319.4L161.6 316.1L168.3 312.8L175 309.5L181.8 306.3L188.5 303L195.3 299.8L202.1 296.6M73.5 373.1L80 369.4L86.6 365.8L93.2 362.2L99.8 358.6L106.4 355L113 351.4L119.6 347.9L126.3 344.4L132.9 340.8L139.6 337.4L146.3 333.9L152.9 330.4L159.6 327L166.3 323.5L173 320.1L179.7 316.7L186.5 313.4L193.2 310L199.9 306.6L206.7 303.3M78.7 382L85.2 378.3L91.7 374.5L98.3 370.7L104.8 367L111.4 363.3L118 359.6L124.6 355.9L131.2 352.3L137.8 348.7L144.4 345L151.1 341.4L157.7 337.8L164.4 334.3L171.1 330.7L177.7 327.2L184.4 323.7L191.1 320.2L197.8 316.7L204.5 313.2L211.3 309.8M83.8 390.7L90.3 386.8L96.8 382.9L103.3 379L109.8 375.2L116.4 371.3L122.9 367.5L129.5 363.7L136 359.9L142.6 356.2L149.2 352.4L155.9 348.7L162.5 345L169.1 341.3L175.8 337.6L182.4 334L189.1 330.3L195.8 326.7L202.4 323.1L209.1 319.5L215.8 315.9M88.8 399L95.3 395L101.7 391L108.2 387L114.7 383L121.2 379L127.8 375.1L134.3 371.2L140.9 367.3L147.4 363.4L154 359.5L160.6 355.6L167.2 351.8L173.8 348L180.4 344.2L187.1 340.4L193.7 336.7L200.4 332.9L207 329.2L213.7 325.5L220.4 321.8M93.8 407.1L100.2 402.9L106.6 398.8L113.1 394.6L119.6 390.5L126.1 386.4L132.6 382.4L139.1 378.3L145.6 374.3L152.2 370.3L158.7 366.3L165.3 362.3L171.9 358.3L178.5 354.4L185.1 350.5L191.7 346.6L198.3 342.7L205 338.8L211.6 335L218.3 331.2L224.9 327.4M98.7 414.8L105.1 410.5L111.5 406.3L117.9 402L124.4 397.8L130.9 393.5L137.3 389.3L143.8 385.2L150.3 381L156.9 376.9L163.4 372.8L170 368.7L176.5 364.6L183.1 360.5L189.7 356.5L196.3 352.5L202.9 348.5L209.5 344.5L216.2 340.5L222.8 336.6L229.5 332.6M103.5 422.2L109.9 417.8L116.3 413.4L122.7 409L129.2 404.7L135.6 400.3L142.1 396L148.5 391.7L155 387.4L161.5 383.2L168.1 378.9L174.6 374.7L181.1 370.5L187.7 366.3L194.3 362.2L200.9 358L207.5 353.9L214.1 349.8L220.7 345.7L227.4 341.6L234 337.6M108.3 429.3L114.7 424.8L121.1 420.3L127.5 415.8L133.9 411.3L140.3 406.8L146.8 402.4L153.2 397.9L159.7 393.5L166.2 389.1L172.7 384.8L179.2 380.4L185.8 376.1L192.3 371.8L198.9 367.5L205.4 363.3L212 359L218.7 354.8L225.3 350.6L231.9 346.4L238.6 342.3M113.1 436.1L119.4 431.5L125.8 426.8L132.2 422.2L138.6 417.6L145 413L151.4 408.4L157.9 403.8L164.3 399.3L170.8 394.8L177.3 390.3L183.8 385.9L190.3 381.4L196.9 377L203.4 372.6L210 368.2L216.6 363.9L223.2 359.5L229.8 355.2L236.4 350.9L243.1 346.6M117.8 442.6L124.1 437.8L130.4 433L136.8 428.3L143.2 423.5L149.6 418.8L156 414.1L162.5 409.4L168.9 404.8L175.4 400.2L181.9 395.6L188.4 391L194.9 386.4L201.4 381.9L208 377.4L214.6 372.9L221.1 368.4L227.7 363.9L234.4 359.5L241 355.1L247.6 350.7M122.4 448.7L128.7 443.8L135.1 438.9L141.4 434L147.8 429.2L154.2 424.3L160.6 419.5L167 414.7L173.5 410L180 405.2L186.4 400.5L192.9 395.8L199.5 391.1L206 386.4L212.5 381.8L219.1 377.2L225.7 372.6L232.3 368L238.9 363.5L245.5 359L252.2 354.4M127 454.5L133.3 449.5L139.7 444.5L146 439.5L152.4 434.5L158.8 429.5L165.2 424.6L171.6 419.7L178 414.8L184.5 409.9L191 405.1L197.5 400.3L204 395.5L210.5 390.7L217.1 385.9L223.6 381.2L230.2 376.5L236.8 371.8L243.4 367.1L250.1 362.5L256.7 357.9M131.6 460L137.9 454.9L144.2 449.7L150.6 444.6L156.9 439.5L163.3 434.4L169.7 429.3L176.1 424.3L182.6 419.3L189 414.3L195.5 409.4L202 404.4L208.5 399.5L215.1 394.6L221.6 389.8L228.2 384.9L234.8 380.1L241.4 375.3L248 370.5L254.6 365.7L261.3 361M136.1 465.2L142.4 459.9L148.8 454.6L155.1 449.4L161.5 444.1L167.8 438.9L174.2 433.8L180.7 428.6L187.1 423.5L193.6 418.4L200 413.3L206.5 408.3L213.1 403.2L219.6 398.2L226.1 393.2L232.7 388.3L239.3 383.3L245.9 378.4L252.5 373.5L259.2 368.7L265.9 363.8M140.6 470L146.9 464.6L153.3 459.2L159.6 453.8L166 448.5L172.3 443.2L178.8 437.9L185.2 432.6L191.6 427.4L198.1 422.1L204.6 416.9L211.1 411.8L217.6 406.6L224.1 401.5L230.7 396.4L237.3 391.3L243.9 386.3L250.5 381.3L257.1 376.2L263.8 371.3L270.4 366.3M145.1 474.5L151.4 468.9L157.7 463.4L164.1 458L170.5 452.5L176.8 447.1L183.3 441.6L189.7 436.3L196.1 430.9L202.6 425.6L209.1 420.3L215.6 415L222.1 409.7L228.7 404.5L235.2 399.3L241.8 394.1L248.4 388.9L255.1 383.8L261.7 378.6L268.4 373.5L275.1 368.5M149.6 478.6L155.9 473L162.2 467.3L168.6 461.7L174.9 456.2L181.3 450.6L187.7 445.1L194.2 439.6L200.6 434.1L207.1 428.6L213.6 423.2L220.1 417.8L226.7 412.4L233.2 407.1L239.8 401.8L246.4 396.5L253 391.2L259.7 385.9L266.3 380.7L273 375.5L279.7 370.3M154 482.4L160.3 476.7L166.7 470.9L173 465.2L179.4 459.5L185.8 453.8L192.2 448.2L198.7 442.6L205.1 437L211.6 431.4L218.1 425.9L224.7 420.3L231.2 414.9L237.8 409.4L244.4 403.9L251 398.5L257.6 393.1L264.3 387.8L270.9 382.4L277.6 377.1L284.3 371.8M158.5 485.9L164.8 480L171.1 474.2L177.5 468.3L183.9 462.5L190.3 456.7L196.7 450.9L203.2 445.2L209.6 439.5L216.1 433.8L222.7 428.2L229.2 422.5L235.8 416.9L242.4 411.4L249 405.8L255.6 400.3L262.2 394.8L268.9 389.3L275.6 383.8L282.3 378.4L289 373M162.9 489L169.2 483L175.6 477L181.9 471.1L188.3 465.2L194.8 459.3L201.2 453.4L207.7 447.5L214.2 441.7L220.7 435.9L227.2 430.1L233.8 424.4L240.3 418.7L246.9 413L253.6 407.3L260.2 401.7L266.9 396.1L273.6 390.5L280.3 384.9L287 379.4L293.8 373.9M167.3 491.8L173.6 485.7L180 479.6L186.4 473.5L192.8 467.5L199.2 461.4L205.7 455.5L212.2 449.5L218.7 443.6L225.2 437.6L231.8 431.8L238.3 425.9L244.9 420.1L251.5 414.3L258.2 408.5L264.9 402.8L271.5 397L278.3 391.3L285 385.7L291.7 380L298.5 374.4M171.7 494.3L178.1 488L184.4 481.8L190.8 475.6L197.3 469.4L203.7 463.3L210.2 457.2L216.7 451.1L223.2 445.1L229.8 439L236.3 433.1L242.9 427.1L249.5 421.1L256.2 415.2L262.8 409.3L269.5 403.5L276.2 397.7L283 391.9L289.7 386.1L296.5 380.3L303.3 374.6M176.1 496.3L182.5 490L188.9 483.6L195.3 477.3L201.7 471.1L208.2 464.8L214.7 458.6L221.2 452.4L227.8 446.2L234.3 440.1L240.9 434L247.5 427.9L254.2 421.9L260.8 415.8L267.5 409.8L274.2 403.9L281 397.9L287.7 392L294.5 386.1L301.3 380.3L308.1 374.5M180.5 498.1L186.9 491.6L193.3 485.1L199.8 478.7L206.2 472.3L212.7 466L219.2 459.6L225.8 453.3L232.3 447.1L238.9 440.8L245.5 434.6L252.2 428.4L258.8 422.2L265.5 416.1L272.2 410L279 403.9L285.7 397.9L292.5 391.9L299.3 385.9L306.1 379.9L313 374M184.9 499.4L191.4 492.9L197.8 486.3L204.2 479.8L210.7 473.2L217.2 466.8L223.8 460.3L230.3 453.9L236.9 447.5L243.5 441.2L250.2 434.8L256.9 428.5L263.5 422.3L270.3 416L277 409.8L283.7 403.6L290.5 397.5L297.3 391.3L304.2 385.2L311 379.2L317.9 373.1M189.4 500.5L195.8 493.8L202.3 487.1L208.7 480.4L215.3 473.8L221.8 467.2L228.4 460.7L234.9 454.1L241.6 447.6L248.2 441.2L254.9 434.7L261.6 428.3L268.3 421.9L275 415.6L281.8 409.3L288.6 403L295.4 396.7L302.2 390.5L309.1 384.3L316 378.1L322.9 372M193.8 501.1L200.3 494.3L206.8 487.5L213.3 480.8L219.8 474L226.4 467.3L233 460.7L239.6 454L246.2 447.4L252.9 440.8L259.6 434.3L266.3 427.8L273 421.3L279.8 414.8L286.6 408.4L293.4 402L300.3 395.6L307.1 389.3L314 383L320.9 376.7L327.9 370.4M62.9 354.2L68.2 363.8L73.5 373.1L78.7 382L83.8 390.7L88.8 399L93.8 407.1L98.7 414.8L103.5 422.2L108.3 429.3L113.1 436.1L117.8 442.6L122.4 448.7L127 454.5L131.6 460L136.1 465.2L140.6 470L145.1 474.5L149.6 478.6L154 482.4L158.5 485.9L162.9 489L167.3 491.8L171.7 494.3L176.1 496.3L180.5 498.1L184.9 499.4L189.4 500.5L193.8 501.1M69.5 350.8L74.8 360.3L80 369.4L85.2 378.3L90.3 386.8L95.3 395L100.2 402.9L105.1 410.5L109.9 417.8L114.7 424.8L119.4 431.5L124.1 437.8L128.7 443.8L133.3 449.5L137.9 454.9L142.4 459.9L146.9 464.6L151.4 468.9L155.9 473L160.3 476.7L164.8 480L169.2 483L173.6 485.7L178.1 488L182.5 490L186.9 491.6L191.4 492.9L195.8 493.8L200.3 494.3M76.2 347.5L81.4 356.8L86.6 365.8L91.7 374.5L96.8 382.9L101.7 391L106.6 398.8L111.5 406.3L116.3 413.4L121.1 420.3L125.8 426.8L130.4 433L135.1 438.9L139.7 444.5L144.2 449.7L148.8 454.6L153.3 459.2L157.7 463.4L162.2 467.3L166.7 470.9L171.1 474.2L175.6 477L180 479.6L184.4 481.8L188.9 483.6L193.3 485.1L197.8 486.3L202.3 487.1L206.8 487.5M82.8 344.1L88.1 353.3L93.2 362.2L98.3 370.7L103.3 379L108.2 387L113.1 394.6L117.9 402L122.7 409L127.5 415.8L132.2 422.2L136.8 428.3L141.4 434L146 439.5L150.6 444.6L155.1 449.4L159.6 453.8L164.1 458L168.6 461.7L173 465.2L177.5 468.3L181.9 471.1L186.4 473.5L190.8 475.6L195.3 477.3L199.8 478.7L204.2 479.8L208.7 480.4L213.3 480.8M89.5 340.8L94.7 349.8L99.8 358.6L104.8 367L109.8 375.2L114.7 383L119.6 390.5L124.4 397.8L129.2 404.7L133.9 411.3L138.6 417.6L143.2 423.5L147.8 429.2L152.4 434.5L156.9 439.5L161.5 444.1L166 448.5L170.5 452.5L174.9 456.2L179.4 459.5L183.9 462.5L188.3 465.2L192.8 467.5L197.3 469.4L201.7 471.1L206.2 472.3L210.7 473.2L215.3 473.8L219.8 474M96.2 337.5L101.3 346.4L106.4 355L111.4 363.3L116.4 371.3L121.2 379L126.1 386.4L130.9 393.5L135.6 400.3L140.3 406.8L145 413L149.6 418.8L154.2 424.3L158.8 429.5L163.3 434.4L167.8 438.9L172.3 443.2L176.8 447.1L181.3 450.6L185.8 453.8L190.3 456.7L194.8 459.3L199.2 461.4L203.7 463.3L208.2 464.8L212.7 466L217.2 466.8L221.8 467.2L226.4 467.3M102.9 334.2L108 342.9L113 351.4L118 359.6L122.9 367.5L127.8 375.1L132.6 382.4L137.3 389.3L142.1 396L146.8 402.4L151.4 408.4L156 414.1L160.6 419.5L165.2 424.6L169.7 429.3L174.2 433.8L178.8 437.9L183.3 441.6L187.7 445.1L192.2 448.2L196.7 450.9L201.2 453.4L205.7 455.5L210.2 457.2L214.7 458.6L219.2 459.6L223.8 460.3L228.4 460.7L233 460.7M109.6 330.9L114.7 339.5L119.6 347.9L124.6 355.9L129.5 363.7L134.3 371.2L139.1 378.3L143.8 385.2L148.5 391.7L153.2 397.9L157.9 403.8L162.5 409.4L167 414.7L171.6 419.7L176.1 424.3L180.7 428.6L185.2 432.6L189.7 436.3L194.2 439.6L198.7 442.6L203.2 445.2L207.7 447.5L212.2 449.5L216.7 451.1L221.2 452.4L225.8 453.3L230.3 453.9L234.9 454.1L239.6 454M116.3 327.6L121.3 336.1L126.3 344.4L131.2 352.3L136 359.9L140.9 367.3L145.6 374.3L150.3 381L155 387.4L159.7 393.5L164.3 399.3L168.9 404.8L173.5 410L178 414.8L182.6 419.3L187.1 423.5L191.6 427.4L196.1 430.9L200.6 434.1L205.1 437L209.6 439.5L214.2 441.7L218.7 443.6L223.2 445.1L227.8 446.2L232.3 447.1L236.9 447.5L241.6 447.6L246.2 447.4M123 324.3L128 332.7L132.9 340.8L137.8 348.7L142.6 356.2L147.4 363.4L152.2 370.3L156.9 376.9L161.5 383.2L166.2 389.1L170.8 394.8L175.4 400.2L180 405.2L184.5 409.9L189 414.3L193.6 418.4L198.1 422.1L202.6 425.6L207.1 428.6L211.6 431.4L216.1 433.8L220.7 435.9L225.2 437.6L229.8 439L234.3 440.1L238.9 440.8L243.5 441.2L248.2 441.2L252.9 440.8M129.8 321.1L134.7 329.4L139.6 337.4L144.4 345L149.2 352.4L154 359.5L158.7 366.3L163.4 372.8L168.1 378.9L172.7 384.8L177.3 390.3L181.9 395.6L186.4 400.5L191 405.1L195.5 409.4L200 413.3L204.6 416.9L209.1 420.3L213.6 423.2L218.1 425.9L222.7 428.2L227.2 430.1L231.8 431.8L236.3 433.1L240.9 434L245.5 434.6L250.2 434.8L254.9 434.7L259.6 434.3M136.5 317.9L141.4 326L146.3 333.9L151.1 341.4L155.9 348.7L160.6 355.6L165.3 362.3L170 368.7L174.6 374.7L179.2 380.4L183.8 385.9L188.4 391L192.9 395.8L197.5 400.3L202 404.4L206.5 408.3L211.1 411.8L215.6 415L220.1 417.8L224.7 420.3L229.2 422.5L233.8 424.4L238.3 425.9L242.9 427.1L247.5 427.9L252.2 428.4L256.9 428.5L261.6 428.3L266.3 427.8M143.2 314.7L148.1 322.7L152.9 330.4L157.7 337.8L162.5 345L167.2 351.8L171.9 358.3L176.5 364.6L181.1 370.5L185.8 376.1L190.3 381.4L194.9 386.4L199.5 391.1L204 395.5L208.5 399.5L213.1 403.2L217.6 406.6L222.1 409.7L226.7 412.4L231.2 414.9L235.8 416.9L240.3 418.7L244.9 420.1L249.5 421.1L254.2 421.9L258.8 422.2L263.5 422.3L268.3 421.9L273 421.3M150 311.5L154.8 319.4L159.6 327L164.4 334.3L169.1 341.3L173.8 348L178.5 354.4L183.1 360.5L187.7 366.3L192.3 371.8L196.9 377L201.4 381.9L206 386.4L210.5 390.7L215.1 394.6L219.6 398.2L224.1 401.5L228.7 404.5L233.2 407.1L237.8 409.4L242.4 411.4L246.9 413L251.5 414.3L256.2 415.2L260.8 415.8L265.5 416.1L270.3 416L275 415.6L279.8 414.8M156.7 308.3L161.6 316.1L166.3 323.5L171.1 330.7L175.8 337.6L180.4 344.2L185.1 350.5L189.7 356.5L194.3 362.2L198.9 367.5L203.4 372.6L208 377.4L212.5 381.8L217.1 385.9L221.6 389.8L226.1 393.2L230.7 396.4L235.2 399.3L239.8 401.8L244.4 403.9L249 405.8L253.6 407.3L258.2 408.5L262.8 409.3L267.5 409.8L272.2 410L277 409.8L281.8 409.3L286.6 408.4M163.5 305.1L168.3 312.8L173 320.1L177.7 327.2L182.4 334L187.1 340.4L191.7 346.6L196.3 352.5L200.9 358L205.4 363.3L210 368.2L214.6 372.9L219.1 377.2L223.6 381.2L228.2 384.9L232.7 388.3L237.3 391.3L241.8 394.1L246.4 396.5L251 398.5L255.6 400.3L260.2 401.7L264.9 402.8L269.5 403.5L274.2 403.9L279 403.9L283.7 403.6L288.6 403L293.4 402M170.3 302L175 309.5L179.7 316.7L184.4 323.7L189.1 330.3L193.7 336.7L198.3 342.7L202.9 348.5L207.5 353.9L212 359L216.6 363.9L221.1 368.4L225.7 372.6L230.2 376.5L234.8 380.1L239.3 383.3L243.9 386.3L248.4 388.9L253 391.2L257.6 393.1L262.2 394.8L266.9 396.1L271.5 397L276.2 397.7L281 397.9L285.7 397.9L290.5 397.5L295.4 396.7L300.3 395.6M177.1 298.9L181.8 306.3L186.5 313.4L191.1 320.2L195.8 326.7L200.4 332.9L205 338.8L209.5 344.5L214.1 349.8L218.7 354.8L223.2 359.5L227.7 363.9L232.3 368L236.8 371.8L241.4 375.3L245.9 378.4L250.5 381.3L255.1 383.8L259.7 385.9L264.3 387.8L268.9 389.3L273.6 390.5L278.3 391.3L283 391.9L287.7 392L292.5 391.9L297.3 391.3L302.2 390.5L307.1 389.3M183.8 295.7L188.5 303L193.2 310L197.8 316.7L202.4 323.1L207 329.2L211.6 335L216.2 340.5L220.7 345.7L225.3 350.6L229.8 355.2L234.4 359.5L238.9 363.5L243.4 367.1L248 370.5L252.5 373.5L257.1 376.2L261.7 378.6L266.3 380.7L270.9 382.4L275.6 383.8L280.3 384.9L285 385.7L289.7 386.1L294.5 386.1L299.3 385.9L304.2 385.2L309.1 384.3L314 383M190.6 292.6L195.3 299.8L199.9 306.6L204.5 313.2L209.1 319.5L213.7 325.5L218.3 331.2L222.8 336.6L227.4 341.6L231.9 346.4L236.4 350.9L241 355.1L245.5 359L250.1 362.5L254.6 365.7L259.2 368.7L263.8 371.3L268.4 373.5L273 375.5L277.6 377.1L282.3 378.4L287 379.4L291.7 380L296.5 380.3L301.3 380.3L306.1 379.9L311 379.2L316 378.1L320.9 376.7M197.4 289.5L202.1 296.6L206.7 303.3L211.3 309.8L215.8 315.9L220.4 321.8L224.9 327.4L229.5 332.6L234 337.6L238.6 342.3L243.1 346.6L247.6 350.7L252.2 354.4L256.7 357.9L261.3 361L265.9 363.8L270.4 366.3L275.1 368.5L279.7 370.3L284.3 371.8L289 373L293.8 373.9L298.5 374.4L303.3 374.6L308.1 374.5L313 374L317.9 373.1L322.9 372L327.9 370.4" class="ms"/>
<circle cx="62.1" cy="354.7" r="2.1" class="pk"/>
<circle cx="197.4" cy="286.2" r="2.1" class="dp"/>
<circle cx="195" cy="397.3" r="2.1" class="dp"/>
<circle cx="192.9" cy="505.3" r="2.1" class="pk"/>
<circle cx="327.8" cy="369.9" r="2.1" class="dp"/>
<text transform="translate(67.3 443.4) scale(1.2 1.0)" font-size="8.5" class="e">50</text>
<text transform="translate(65.3 422.2) scale(1.2 1.0)" font-size="8.5" class="e">60</text>
<text transform="translate(63.3 400.9) scale(1.2 1.0)" font-size="8.5" class="e">70</text>
<text transform="translate(61.4 379.6) scale(1.2 1.0)" font-size="8.5" class="e">80</text>
<text transform="translate(59.4 358.3) scale(1.2 1.0)" font-size="8.5" class="e">90</text>
<text transform="translate(57.4 337) scale(1.2 1.0)" font-size="8.5" class="e">100</text>
<text transform="translate(71.7 485.3) scale(1.2 1.0)" font-size="8.5" class="e">2</text>
<text transform="translate(88.7 496.2) scale(1.2 1.0)" font-size="8.5" class="e">3</text>
<text transform="translate(105.7 507.2) scale(1.2 1.0)" font-size="8.5" class="e">4</text>
<text transform="translate(122.7 518.1) scale(1.2 1.0)" font-size="8.5" class="e">5</text>
<text transform="translate(139.8 529) scale(1.2 1.0)" font-size="8.5" class="e">6</text>
<text transform="translate(156.8 539.9) scale(1.2 1.0)" font-size="8.5" class="e">7</text>
<text transform="translate(173.8 550.9) scale(1.2 1.0)" font-size="8.5" class="e">8</text>
<text transform="translate(190.8 561.8) scale(1.2 1.0)" font-size="8.5" class="e">9</text>
<text transform="translate(197.8 561) scale(1.2 1.0)" font-size="8.5" class="s">5</text>
<text transform="translate(222.6 546.3) scale(1.2 1.0)" font-size="8.5" class="s">34</text>
<text transform="translate(247.4 531.6) scale(1.2 1.0)" font-size="8.5" class="s">63</text>
<text transform="translate(272.1 516.9) scale(1.2 1.0)" font-size="8.5" class="s">92</text>
<text transform="translate(296.9 502.2) scale(1.2 1.0)" font-size="8.5" class="s">121</text>
<text transform="translate(321.7 487.5) scale(1.2 1.0)" font-size="8.5" class="s">150</text>
<text transform="translate(26.4 406.4) rotate(-90) scale(1.0 1.12)" font-size="8.83">Removal (%)</text>
<text transform="translate(74.5 540) scale(1.06 1.0)" font-size="9.1" class="s">A: pH</text>
<text transform="translate(260 544.3) scale(1.06 1.0)" font-size="9.1" class="s">C: Contact time</text>
<path d="M61.9 762.5L52.5 636.8L199.8 589.7L202.2 704Z M202.2 704L199.8 589.7L352 635.7L342.2 760.2Z" fill="#fff" stroke="none"/>
<path d="M61.9 762.5L52.5 636.8M89.9 750.8L82 627.4M118 739.1L111.4 618M146 727.4L140.9 608.5M174.1 715.7L170.3 599.1M202.2 704L199.8 589.7M202.2 704L199.8 589.7M230.2 715.2L230.2 598.9M258.2 726.5L260.7 608.1M286.2 737.7L291.1 617.3M314.2 749L321.6 626.5M342.2 760.2L352 635.7M61.9 762.5L202.2 704L342.2 760.2M60 737.3L201.7 681.1L344.2 735.3M58.1 712.2L201.2 658.3L346.1 710.4M56.2 687.1L200.7 635.4L348.1 685.5M54.4 661.9L200.3 612.6L350 660.6M52.5 636.8L199.8 589.7L352 635.7M61.9 762.5L64.8 801.7M342.2 760.2L339.2 799.1" class="wg"/>
<path d="M64.8 801.7L205.3 875.2L339.2 799.1L202.9 739.6Z" fill="#666"/>
<path d="M68.3 800.7C72.9 802.3 86.2 806.8 95.9 810.5C105.6 814.2 116.3 819.2 126.5 822.8C136.7 826.4 146.3 829.3 157.2 832C168.1 834.7 182.5 837.3 192 838.9C201.5 840.5 206.4 841 214.1 841.6C221.8 842.2 231 842.5 238.2 842.4C245.4 842.3 252.2 841.8 257.4 841.2C262.6 840.6 267.5 839.1 269.5 838.7" fill="none" stroke="#28a0e1" stroke-width="1.4" stroke-linecap="round"/>
<path d="M94.9 789C98.5 790.2 107.6 793.5 116.3 796.2C125 798.9 136.8 802.6 147 805C157.2 807.4 169.4 809.2 177.6 810.5C185.8 811.8 189.7 812.1 196 812.8C202.3 813.5 206.3 814.4 215.3 814.5C224.3 814.6 238.4 814.5 250.2 813.5C262 812.5 275.5 810.5 286.3 808.6C297.1 806.7 307.6 804.1 315.2 802.1C322.8 800.1 329.3 797.5 332.1 796.6" fill="none" stroke="#28cd8c" stroke-width="1.4" stroke-linecap="round"/>
<path d="M120.4 777.4C122.5 777.8 128.8 778.9 132.7 779.9C136.6 780.9 137.7 781.8 143.9 783.3C150.1 784.8 159.8 787.5 170 789C180.2 790.5 192.6 792.1 205 792.5C217.4 792.9 233.4 791.8 244.2 791.1C254.9 790.4 260.5 789.5 269.5 788.2C278.5 786.9 293.6 784.2 298.4 783.4" fill="none" stroke="#32cd32" stroke-width="1.4" stroke-linecap="round"/>
<path d="M64.8 801.7l-1 1.6M92.9 816.4l-1 1.6M121 831.1l-1 1.6M149.1 845.8l-1 1.6M177.2 860.5l-1 1.6M205.3 875.2l-1 1.6M205.3 875.2l1 1.6M232.1 860l1 1.6M258.9 844.8l1 1.6M285.6 829.5l1 1.6M312.4 814.3l1 1.6M339.2 799.1l1 1.6M61.9 762.5h-1.5M60 737.3h-1.5M58.1 712.2h-1.5M56.2 687.1h-1.5M54.4 661.9h-1.5M52.5 636.8h-1.5" stroke="#111" stroke-width="1.4" fill="none"/>
<circle cx="199.7" cy="601" r="2.3" class="pk"/>
<clipPath id="cpc"><path d="M60.1 738.8L67.4 743.2L74.7 747.5L82 751.9L89.3 756.2L96.6 760.4L103.8 764.6L111.1 768.8L118.4 772.9L125.6 777L132.8 781.1L140.1 785.1L147.3 789.1L154.5 793L161.8 796.9L169 800.7L176.2 804.5L183.4 808.3L190.6 812L197.8 815.7L205 819.3L211.9 814.2L218.8 809.2L225.8 804.2L232.7 799.2L239.7 794.1L246.6 789.1L253.6 784.1L260.6 779L267.6 774L274.6 769L281.7 763.9L288.7 758.9L295.7 753.8L302.8 748.8L309.9 743.8L317 738.7L324.1 733.7L331.2 728.7L338.4 723.6L345.5 718.6L338.5 712.8L331.5 707.1L324.5 701.3L317.4 695.4L310.3 689.6L303.2 683.8L296.1 677.9L288.9 672L281.7 666.1L274.4 660.2L267.1 654.3L259.8 648.4L252.5 642.5L245.1 636.5L237.7 630.6L230.2 624.6L222.7 618.6L215.2 612.6L207.6 606.7L200 600.7L192.8 607.3L185.6 614L178.4 620.7L171.3 627.4L164.1 634.1L157 640.9L149.9 647.7L142.9 654.6L135.9 661.4L128.8 668.3L121.9 675.2L114.9 682.2L108 689.2L101.1 696.2L94.2 703.2L87.3 710.3L80.5 717.4L73.7 724.5L66.9 731.6Z"/></clipPath>
<g clip-path="url(#cpc)"><g filter="url(#bl)"><path d="M191.9 581.9L199.6 588L206.9 581.3L199.2 575.2Z" fill="#ff1700"/><path d="M184.7 588.6L192.4 594.7L199.6 588L191.9 581.9Z" fill="#ff3400"/><path d="M199.6 588L207.3 594.1L214.6 587.5L206.9 581.3Z" fill="#ff2f00"/><path d="M177.5 595.4L185.2 601.4L192.4 594.7L184.7 588.6Z" fill="#ff5100"/><path d="M192.4 594.7L200 600.7L207.3 594.1L199.6 588Z" fill="#ff4b00"/><path d="M207.3 594.1L214.9 600.1L222.2 593.6L214.6 587.5Z" fill="#ff4800"/><path d="M170.3 602.2L178 608.1L185.2 601.4L177.5 595.4Z" fill="#ff6f00"/><path d="M185.2 601.4L192.8 607.3L200 600.7L192.4 594.7Z" fill="#ff6700"/><path d="M200 600.7L207.6 606.7L214.9 600.1L207.3 594.1Z" fill="#ff6300"/><path d="M214.9 600.1L222.5 606.2L229.8 599.7L222.2 593.6Z" fill="#ff6200"/><path d="M178 608.1L185.6 614L192.8 607.3L185.2 601.4Z" fill="#ff8500"/><path d="M207.6 606.7L215.2 612.6L222.5 606.2L214.9 600.1Z" fill="#ff7b00"/><path d="M222.5 606.2L230 612.2L237.3 605.9L229.8 599.7Z" fill="#ff7c00"/><path d="M163.2 609L170.8 614.8L178 608.1L170.3 602.2Z" fill="#ff8e00"/><path d="M192.8 607.3L200.4 613.2L207.6 606.7L200 600.7Z" fill="#ff7e00"/><path d="M170.8 614.8L178.4 620.7L185.6 614L178 608.1Z" fill="#ffa200"/><path d="M200.4 613.2L207.9 619.1L215.2 612.6L207.6 606.7Z" fill="#ff9600"/><path d="M156 615.9L163.7 621.6L170.8 614.8L163.2 609Z" fill="#ffae00"/><path d="M185.6 614L193.2 619.8L200.4 613.2L192.8 607.3Z" fill="#ff9a00"/><path d="M215.2 612.6L222.7 618.6L230 612.2L222.5 606.2Z" fill="#ff9400"/><path d="M230 612.2L237.5 618.3L244.8 612L237.3 605.9Z" fill="#ff9600"/><path d="M163.7 621.6L171.3 627.4L178.4 620.7L170.8 614.8Z" fill="#ffc100"/><path d="M178.4 620.7L186 626.4L193.2 619.8L185.6 614Z" fill="#ffb700"/><path d="M193.2 619.8L200.7 625.7L207.9 619.1L200.4 613.2Z" fill="#ffb100"/><path d="M207.9 619.1L215.5 625.1L222.7 618.6L215.2 612.6Z" fill="#ffad00"/><path d="M237.5 618.3L245 624.3L252.3 618.1L244.8 612Z" fill="#ffb100"/><path d="M148.9 622.8L156.6 628.5L163.7 621.6L156 615.9Z" fill="#ffce00"/><path d="M222.7 618.6L230.2 624.6L237.5 618.3L230 612.2Z" fill="#ffae00"/><path d="M141.9 629.7L149.5 635.3L156.6 628.5L148.9 622.8Z" fill="#ffef00"/><path d="M156.6 628.5L164.1 634.1L171.3 627.4L163.7 621.6Z" fill="#ffe000"/><path d="M171.3 627.4L178.8 633.1L186 626.4L178.4 620.7Z" fill="#ffd400"/><path d="M186 626.4L193.5 632.2L200.7 625.7L193.2 619.8Z" fill="#ffcc00"/><path d="M200.7 625.7L208.2 631.5L215.5 625.1L207.9 619.1Z" fill="#ffc700"/><path d="M215.5 625.1L223 631L230.2 624.6L222.7 618.6Z" fill="#ffc600"/><path d="M230.2 624.6L237.7 630.6L245 624.3L237.5 618.3Z" fill="#ffc700"/><path d="M245 624.3L252.4 630.3L259.7 624.2L252.3 618.1Z" fill="#ffcc00"/><path d="M178.8 633.1L186.3 638.8L193.5 632.2L186 626.4Z" fill="#ffe800"/><path d="M134.8 636.7L142.4 642.2L149.5 635.3L141.9 629.7Z" fill="#efff00"/><path d="M149.5 635.3L157 640.9L164.1 634.1L156.6 628.5Z" fill="#ffff00"/><path d="M164.1 634.1L171.7 639.8L178.8 633.1L171.3 627.4Z" fill="#fff200"/><path d="M193.5 632.2L201 638L208.2 631.5L200.7 625.7Z" fill="#ffe200"/><path d="M208.2 631.5L215.7 637.3L223 631L215.5 625.1Z" fill="#ffde00"/><path d="M223 631L230.4 636.9L237.7 630.6L230.2 624.6Z" fill="#ffde00"/><path d="M237.7 630.6L245.1 636.5L252.4 630.3L245 624.3Z" fill="#ffe200"/><path d="M252.4 630.3L259.8 636.4L267.1 630.3L259.7 624.2Z" fill="#ffe800"/><path d="M142.4 642.2L149.9 647.7L157 640.9L149.5 635.3Z" fill="#e1ff00"/><path d="M171.7 639.8L179.2 645.4L186.3 638.8L178.8 633.1Z" fill="#f9ff00"/><path d="M186.3 638.8L193.8 644.5L201 638L193.5 632.2Z" fill="#fffd00"/><path d="M215.7 637.3L223.2 643.2L230.4 636.9L223 631Z" fill="#fff600"/><path d="M259.8 636.4L267.1 642.4L274.5 636.3L267.1 630.3Z" fill="#faff00"/><path d="M127.8 643.7L135.4 649.1L142.4 642.2L134.8 636.7Z" fill="#cfff00"/><path d="M157 640.9L164.5 646.5L171.7 639.8L164.1 634.1Z" fill="#efff00"/><path d="M201 638L208.5 643.8L215.7 637.3L208.2 631.5Z" fill="#fff800"/><path d="M230.4 636.9L237.8 642.7L245.1 636.5L237.7 630.6Z" fill="#fff700"/><path d="M245.1 636.5L252.5 642.5L259.8 636.4L252.4 630.3Z" fill="#fffc00"/><path d="M135.4 649.1L142.9 654.6L149.9 647.7L142.4 642.2Z" fill="#c2ff00"/><path d="M164.5 646.5L172 652L179.2 645.4L171.7 639.8Z" fill="#deff00"/><path d="M208.5 643.8L215.9 649.5L223.2 643.2L215.7 637.3Z" fill="#f1ff00"/><path d="M120.8 650.7L128.3 656.1L135.4 649.1L127.8 643.7Z" fill="#afff00"/><path d="M149.9 647.7L157.4 653.2L164.5 646.5L157 640.9Z" fill="#d2ff00"/><path d="M179.2 645.4L186.7 651L193.8 644.5L186.3 638.8Z" fill="#e8ff00"/><path d="M193.8 644.5L201.3 650.2L208.5 643.8L201 638Z" fill="#eeff00"/><path d="M223.2 643.2L230.6 649L237.8 642.7L230.4 636.9Z" fill="#f1ff00"/><path d="M237.8 642.7L245.2 648.6L252.5 642.5L245.1 636.5Z" fill="#eeff00"/><path d="M252.5 642.5L259.8 648.4L267.1 642.4L259.8 636.4Z" fill="#e8ff00"/><path d="M267.1 642.4L274.5 648.4L281.8 642.4L274.5 636.3Z" fill="#dfff00"/><path d="M128.3 656.1L135.9 661.4L142.9 654.6L135.4 649.1Z" fill="#a3ff00"/><path d="M142.9 654.6L150.4 660L157.4 653.2L149.9 647.7Z" fill="#b4ff00"/><path d="M157.4 653.2L164.9 658.7L172 652L164.5 646.5Z" fill="#c2ff00"/><path d="M172 652L179.5 657.6L186.7 651L179.2 645.4Z" fill="#cdff00"/><path d="M201.3 650.2L208.7 655.9L215.9 649.5L208.5 643.8Z" fill="#daff00"/><path d="M215.9 649.5L223.3 655.2L230.6 649L223.2 643.2Z" fill="#dcff00"/><path d="M274.5 648.4L281.7 654.4L289.1 648.5L281.8 642.4Z" fill="#c4ff00"/><path d="M113.8 657.7L121.4 663L128.3 656.1L120.8 650.7Z" fill="#8eff00"/><path d="M186.7 651L194.1 656.6L201.3 650.2L193.8 644.5Z" fill="#d5ff00"/><path d="M230.6 649L237.9 654.8L245.2 648.6L237.8 642.7Z" fill="#dbff00"/><path d="M245.2 648.6L252.5 654.5L259.8 648.4L252.5 642.5Z" fill="#d6ff00"/><path d="M259.8 648.4L267.1 654.3L274.5 648.4L267.1 642.4Z" fill="#cfff00"/><path d="M121.4 663L128.8 668.3L135.9 661.4L128.3 656.1Z" fill="#83ff00"/><path d="M135.9 661.4L143.3 666.8L150.4 660L142.9 654.6Z" fill="#96ff00"/><path d="M150.4 660L157.9 665.4L164.9 658.7L157.4 653.2Z" fill="#a6ff00"/><path d="M164.9 658.7L172.4 664.2L179.5 657.6L172 652Z" fill="#b2ff00"/><path d="M179.5 657.6L187 663.1L194.1 656.6L186.7 651Z" fill="#bcff00"/><path d="M194.1 656.6L201.5 662.2L208.7 655.9L201.3 650.2Z" fill="#c2ff00"/><path d="M208.7 655.9L216.1 661.5L223.3 655.2L215.9 649.5Z" fill="#c6ff00"/><path d="M223.3 655.2L230.7 660.9L237.9 654.8L230.6 649Z" fill="#c6ff00"/><path d="M237.9 654.8L245.3 660.5L252.5 654.5L245.2 648.6Z" fill="#c4ff00"/><path d="M252.5 654.5L259.9 660.3L267.1 654.3L259.8 648.4Z" fill="#beff00"/><path d="M267.1 654.3L274.4 660.2L281.7 654.4L274.5 648.4Z" fill="#b5ff00"/><path d="M281.7 654.4L289 660.3L296.3 654.5L289.1 648.5Z" fill="#a9ff00"/><path d="M106.9 664.8L114.4 670L121.4 663L113.8 657.7Z" fill="#6dff00"/><path d="M143.3 666.8L150.8 672.1L157.9 665.4L150.4 660Z" fill="#88ff00"/><path d="M100 671.9L107.4 677.1L114.4 670L106.9 664.8Z" fill="#4bff00"/><path d="M114.4 670L121.9 675.2L128.8 668.3L121.4 663Z" fill="#62ff00"/><path d="M128.8 668.3L136.3 673.6L143.3 666.8L135.9 661.4Z" fill="#77ff00"/><path d="M157.9 665.4L165.3 670.8L172.4 664.2L164.9 658.7Z" fill="#97ff00"/><path d="M172.4 664.2L179.8 669.6L187 663.1L179.5 657.6Z" fill="#a2ff00"/><path d="M187 663.1L194.4 668.6L201.5 662.2L194.1 656.6Z" fill="#aaff00"/><path d="M201.5 662.2L208.9 667.8L216.1 661.5L208.7 655.9Z" fill="#afff00"/><path d="M216.1 661.5L223.5 667.1L230.7 660.9L223.3 655.2Z" fill="#b1ff00"/><path d="M230.7 660.9L238 666.6L245.3 660.5L237.9 654.8Z" fill="#b0ff00"/><path d="M245.3 660.5L252.6 666.3L259.9 660.3L252.5 654.5Z" fill="#acff00"/><path d="M259.9 660.3L267.1 666.2L274.4 660.2L267.1 654.3Z" fill="#a5ff00"/><path d="M274.4 660.2L281.7 666.1L289 660.3L281.7 654.4Z" fill="#9aff00"/><path d="M289 660.3L296.2 666.3L303.5 660.6L296.3 654.5Z" fill="#8dff00"/><path d="M107.4 677.1L114.9 682.2L121.9 675.2L114.4 670Z" fill="#41ff00"/><path d="M136.3 673.6L143.8 678.8L150.8 672.1L143.3 666.8Z" fill="#6bff00"/><path d="M150.8 672.1L158.2 677.4L165.3 670.8L157.9 665.4Z" fill="#7bff00"/><path d="M179.8 669.6L187.2 675L194.4 668.6L187 663.1Z" fill="#91ff00"/><path d="M223.5 667.1L230.8 672.8L238 666.6L230.7 660.9Z" fill="#9cff00"/><path d="M238 666.6L245.4 672.3L252.6 666.3L245.3 660.5Z" fill="#9aff00"/><path d="M252.6 666.3L259.9 672.1L267.1 666.2L259.9 660.3Z" fill="#94ff00"/><path d="M165.3 670.8L172.7 676.1L179.8 669.6L172.4 664.2Z" fill="#88ff00"/><path d="M194.4 668.6L201.8 674.1L208.9 667.8L201.5 662.2Z" fill="#98ff00"/><path d="M267.1 666.2L274.4 672L281.7 666.1L274.4 660.2Z" fill="#8bff00"/><path d="M296.2 666.3L303.4 672.3L310.7 666.6L303.5 660.6Z" fill="#71ff00"/><path d="M93.1 679.1L100.5 684.1L107.4 677.1L100 671.9Z" fill="#28ff00"/><path d="M121.9 675.2L129.3 680.4L136.3 673.6L128.8 668.3Z" fill="#58ff00"/><path d="M208.9 667.8L216.3 673.4L223.5 667.1L216.1 661.5Z" fill="#9cff00"/><path d="M281.7 666.1L288.9 672L296.2 666.3L289 660.3Z" fill="#80ff00"/><path d="M172.7 676.1L180.1 681.5L187.2 675L179.8 669.6Z" fill="#78ff00"/><path d="M86.2 686.2L93.6 691.2L100.5 684.1L93.1 679.1Z" fill="#05ff00"/><path d="M100.5 684.1L108 689.2L114.9 682.2L107.4 677.1Z" fill="#20ff00"/><path d="M114.9 682.2L122.3 687.3L129.3 680.4L121.9 675.2Z" fill="#38ff00"/><path d="M129.3 680.4L136.8 685.6L143.8 678.8L136.3 673.6Z" fill="#4cff00"/><path d="M143.8 678.8L151.2 684.1L158.2 677.4L150.8 672.1Z" fill="#5eff00"/><path d="M158.2 677.4L165.6 682.7L172.7 676.1L165.3 670.8Z" fill="#6dff00"/><path d="M187.2 675L194.6 680.5L201.8 674.1L194.4 668.6Z" fill="#80ff00"/><path d="M201.8 674.1L209.1 679.6L216.3 673.4L208.9 667.8Z" fill="#86ff00"/><path d="M216.3 673.4L223.6 678.9L230.8 672.8L223.5 667.1Z" fill="#88ff00"/><path d="M230.8 672.8L238.2 678.4L245.4 672.3L238 666.6Z" fill="#87ff00"/><path d="M245.4 672.3L252.7 678L259.9 672.1L252.6 666.3Z" fill="#83ff00"/><path d="M259.9 672.1L267.1 677.8L274.4 672L267.1 666.2Z" fill="#7cff00"/><path d="M303.4 672.3L310.5 678.2L317.8 672.7L310.7 666.6Z" fill="#54ff00"/><path d="M274.4 672L281.6 677.8L288.9 672L281.7 666.1Z" fill="#72ff00"/><path d="M288.9 672L296.1 677.9L303.4 672.3L296.2 666.3Z" fill="#64ff00"/><path d="M93.6 691.2L101.1 696.2L108 689.2L100.5 684.1Z" fill="#00ff04"/><path d="M122.3 687.3L129.8 692.4L136.8 685.6L129.3 680.4Z" fill="#2dff00"/><path d="M165.6 682.7L173 688L180.1 681.5L172.7 676.1Z" fill="#5eff00"/><path d="M238.2 678.4L245.4 684L252.7 678L245.4 672.3Z" fill="#71ff00"/><path d="M180.1 681.5L187.5 686.8L194.6 680.5L187.2 675Z" fill="#68ff00"/><path d="M252.7 678L259.9 683.7L267.1 677.8L259.9 672.1Z" fill="#6cff00"/><path d="M310.5 678.2L317.6 684.1L324.9 678.7L317.8 672.7Z" fill="#37ff00"/><path d="M79.3 693.4L86.8 698.3L93.6 691.2L86.2 686.2Z" fill="#00ff30"/><path d="M108 689.2L115.4 694.2L122.3 687.3L114.9 682.2Z" fill="#17ff00"/><path d="M136.8 685.6L144.2 690.7L151.2 684.1L143.8 678.8Z" fill="#41ff00"/><path d="M151.2 684.1L158.6 689.3L165.6 682.7L158.2 677.4Z" fill="#51ff00"/><path d="M194.6 680.5L202 685.8L209.1 679.6L201.8 674.1Z" fill="#6fff00"/><path d="M209.1 679.6L216.5 685L223.6 678.9L216.3 673.4Z" fill="#73ff00"/><path d="M223.6 678.9L231 684.4L238.2 678.4L230.8 672.8Z" fill="#73ff00"/><path d="M267.1 677.8L274.4 683.5L281.6 677.8L274.4 672Z" fill="#63ff00"/><path d="M281.6 677.8L288.8 683.6L296.1 677.9L288.9 672Z" fill="#57ff00"/><path d="M296.1 677.9L303.2 683.8L310.5 678.2L303.4 672.3Z" fill="#49ff00"/><path d="M86.8 698.3L94.2 703.2L101.1 696.2L93.6 691.2Z" fill="#00ff3a"/><path d="M101.1 696.2L108.5 701.1L115.4 694.2L108 689.2Z" fill="#00ff10"/><path d="M115.4 694.2L122.8 699.2L129.8 692.4L122.3 687.3Z" fill="#0eff00"/><path d="M129.8 692.4L137.2 697.4L144.2 690.7L136.8 685.6Z" fill="#23ff00"/><path d="M158.6 689.3L166 694.4L173 688L165.6 682.7Z" fill="#43ff00"/><path d="M173 688L180.4 693.2L187.5 686.8L180.1 681.5Z" fill="#4fff00"/><path d="M187.5 686.8L194.9 692.1L202 685.8L194.6 680.5Z" fill="#57ff00"/><path d="M202 685.8L209.3 691.2L216.5 685L209.1 679.6Z" fill="#5dff00"/><path d="M216.5 685L223.8 690.5L231 684.4L223.6 678.9Z" fill="#5fff00"/><path d="M231 684.4L238.2 689.9L245.4 684L238.2 678.4Z" fill="#5fff00"/><path d="M245.4 684L252.7 689.5L259.9 683.7L252.7 678Z" fill="#5bff00"/><path d="M317.6 684.1L324.7 690.1L331.9 684.7L324.9 678.7Z" fill="#19ff00"/><path d="M259.9 683.7L267.1 689.3L274.4 683.5L267.1 677.8Z" fill="#54ff00"/><path d="M274.4 683.5L281.6 689.2L288.8 683.6L281.6 677.8Z" fill="#4aff00"/><path d="M288.8 683.6L296 689.3L303.2 683.8L296.1 677.9Z" fill="#3dff00"/><path d="M303.2 683.8L310.3 689.6L317.6 684.1L310.5 678.2Z" fill="#2dff00"/><path d="M72.5 700.7L79.9 705.5L86.8 698.3L79.3 693.4Z" fill="#00ff69"/><path d="M144.2 690.7L151.6 695.8L158.6 689.3L151.2 684.1Z" fill="#35ff00"/><path d="M108.5 701.1L115.9 706L122.8 699.2L115.4 694.2Z" fill="#00ff1c"/><path d="M65.7 707.9L73.1 712.7L79.9 705.5L72.5 700.7Z" fill="#00ffa2"/><path d="M79.9 705.5L87.3 710.3L94.2 703.2L86.8 698.3Z" fill="#00ff71"/><path d="M94.2 703.2L101.6 708.1L108.5 701.1L101.1 696.2Z" fill="#00ff44"/><path d="M122.8 699.2L130.2 704.2L137.2 697.4L129.8 692.4Z" fill="#04ff00"/><path d="M151.6 695.8L158.9 700.9L166 694.4L158.6 689.3Z" fill="#28ff00"/><path d="M166 694.4L173.3 699.6L180.4 693.2L173 688Z" fill="#35ff00"/><path d="M180.4 693.2L187.8 698.4L194.9 692.1L187.5 686.8Z" fill="#40ff00"/><path d="M194.9 692.1L202.2 697.4L209.3 691.2L202 685.8Z" fill="#47ff00"/><path d="M209.3 691.2L216.6 696.6L223.8 690.5L216.5 685Z" fill="#4bff00"/><path d="M223.8 690.5L231.1 695.9L238.2 689.9L231 684.4Z" fill="#4cff00"/><path d="M238.2 689.9L245.5 695.4L252.7 689.5L245.4 684Z" fill="#49ff00"/><path d="M252.7 689.5L259.9 695.1L267.1 689.3L259.9 683.7Z" fill="#44ff00"/><path d="M267.1 689.3L274.4 694.9L281.6 689.2L274.4 683.5Z" fill="#3cff00"/><path d="M281.6 689.2L288.7 694.9L296 689.3L288.8 683.6Z" fill="#30ff00"/><path d="M296 689.3L303.1 695.1L310.3 689.6L303.2 683.8Z" fill="#22ff00"/><path d="M310.3 689.6L317.4 695.4L324.7 690.1L317.6 684.1Z" fill="#10ff00"/><path d="M324.7 690.1L331.7 696L339 690.7L331.9 684.7Z" fill="#00ff07"/><path d="M137.2 697.4L144.5 702.5L151.6 695.8L144.2 690.7Z" fill="#18ff00"/><path d="M73.1 712.7L80.5 717.4L87.3 710.3L79.9 705.5Z" fill="#00ffa9"/><path d="M101.6 708.1L108.9 712.9L115.9 706L108.5 701.1Z" fill="#00ff4f"/><path d="M115.9 706L123.2 710.9L130.2 704.2L122.8 699.2Z" fill="#00ff2a"/><path d="M144.5 702.5L151.9 707.5L158.9 700.9L151.6 695.8Z" fill="#0cff00"/><path d="M187.8 698.4L195.1 703.6L202.2 697.4L194.9 692.1Z" fill="#30ff00"/><path d="M202.2 697.4L209.5 702.7L216.6 696.6L209.3 691.2Z" fill="#35ff00"/><path d="M216.6 696.6L223.9 701.9L231.1 695.9L223.8 690.5Z" fill="#38ff00"/><path d="M231.1 695.9L238.3 701.3L245.5 695.4L238.2 689.9Z" fill="#37ff00"/><path d="M259.9 695.1L267.2 700.6L274.4 694.9L267.1 689.3Z" fill="#2dff00"/><path d="M274.4 694.9L281.5 700.5L288.7 694.9L281.6 689.2Z" fill="#23ff00"/><path d="M288.7 694.9L295.9 700.6L303.1 695.1L296 689.3Z" fill="#16ff00"/><path d="M303.1 695.1L310.2 700.8L317.4 695.4L310.3 689.6Z" fill="#06ff00"/><path d="M331.7 696L338.7 701.9L346 696.6L339 690.7Z" fill="#00ff36"/><path d="M130.2 704.2L137.6 709.1L144.5 702.5L137.2 697.4Z" fill="#00ff09"/><path d="M158.9 700.9L166.3 706L173.3 699.6L166 694.4Z" fill="#1bff00"/><path d="M173.3 699.6L180.7 704.7L187.8 698.4L180.4 693.2Z" fill="#27ff00"/><path d="M58.9 715.2L66.3 719.9L73.1 712.7L65.7 707.9Z" fill="#00ffdd"/><path d="M87.3 710.3L94.7 715L101.6 708.1L94.2 703.2Z" fill="#00ff7a"/><path d="M245.5 695.4L252.8 700.9L259.9 695.1L252.7 689.5Z" fill="#34ff00"/><path d="M317.4 695.4L324.5 701.3L331.7 696L324.7 690.1Z" fill="#00ff14"/><path d="M137.6 709.1L144.9 714L151.9 707.5L144.5 702.5Z" fill="#00ff19"/><path d="M195.1 703.6L202.4 708.8L209.5 702.7L202.2 697.4Z" fill="#1fff00"/><path d="M209.5 702.7L216.8 707.9L223.9 701.9L216.6 696.6Z" fill="#24ff00"/><path d="M66.3 719.9L73.7 724.5L80.5 717.4L73.1 712.7Z" fill="#00ffe2"/><path d="M80.5 717.4L87.8 722L94.7 715L87.3 710.3Z" fill="#00ffb0"/><path d="M94.7 715L102.1 719.8L108.9 712.9L101.6 708.1Z" fill="#00ff83"/><path d="M108.9 712.9L116.3 717.7L123.2 710.9L115.9 706Z" fill="#00ff5b"/><path d="M223.9 701.9L231.2 707.2L238.3 701.3L231.1 695.9Z" fill="#25ff00"/><path d="M267.2 700.6L274.3 706.1L281.5 700.5L274.4 694.9Z" fill="#15ff00"/><path d="M281.5 700.5L288.7 706.1L295.9 700.6L288.7 694.9Z" fill="#0aff00"/><path d="M295.9 700.6L303 706.2L310.2 700.8L303.1 695.1Z" fill="#00ff06"/><path d="M338.7 701.9L345.7 707.7L352.9 702.6L346 696.6Z" fill="#00ff66"/><path d="M123.2 710.9L130.6 715.8L137.6 709.1L130.2 704.2Z" fill="#00ff38"/><path d="M151.9 707.5L159.3 712.4L166.3 706L158.9 700.9Z" fill="#00ff00"/><path d="M180.7 704.7L188 709.8L195.1 703.6L187.8 698.4Z" fill="#18ff00"/><path d="M166.3 706L173.6 711L180.7 704.7L173.3 699.6Z" fill="#0eff00"/><path d="M238.3 701.3L245.6 706.7L252.8 700.9L245.5 695.4Z" fill="#23ff00"/><path d="M252.8 700.9L260 706.3L267.2 700.6L259.9 695.1Z" fill="#1eff00"/><path d="M310.2 700.8L317.3 706.6L324.5 701.3L317.4 695.4Z" fill="#00ff22"/><path d="M324.5 701.3L331.5 707.1L338.7 701.9L331.7 696Z" fill="#00ff41"/><path d="M52.2 722.5L59.5 727.1L66.3 719.9L58.9 715.2Z" fill="#00eaff"/><path d="M87.8 722L95.2 726.7L102.1 719.8L94.7 715Z" fill="#00ffb8"/><path d="M130.6 715.8L137.9 720.6L144.9 714L137.6 709.1Z" fill="#00ff46"/><path d="M202.4 708.8L209.7 713.9L216.8 707.9L209.5 702.7Z" fill="#0fff00"/><path d="M216.8 707.9L224.1 713.1L231.2 707.2L223.9 701.9Z" fill="#11ff00"/><path d="M274.3 706.1L281.5 711.6L288.7 706.1L281.5 700.5Z" fill="#00ff04"/><path d="M288.7 706.1L295.8 711.7L303 706.2L295.9 700.6Z" fill="#00ff18"/><path d="M345.7 707.7L352.7 713.6L359.8 708.6L352.9 702.6Z" fill="#00ff97"/><path d="M144.9 714L152.3 718.9L159.3 712.4L151.9 707.5Z" fill="#00ff2a"/><path d="M188 709.8L195.3 714.9L202.4 708.8L195.1 703.6Z" fill="#09ff00"/><path d="M45.5 729.9L52.8 734.4L59.5 727.1L52.2 722.5Z" fill="#00b9ff"/><path d="M59.5 727.1L66.9 731.6L73.7 724.5L66.3 719.9Z" fill="#00e8ff"/><path d="M73.7 724.5L81 729.1L87.8 722L80.5 717.4Z" fill="#00ffe7"/><path d="M102.1 719.8L109.4 724.5L116.3 717.7L108.9 712.9Z" fill="#00ff8d"/><path d="M116.3 717.7L123.7 722.4L130.6 715.8L123.2 710.9Z" fill="#00ff67"/><path d="M159.3 712.4L166.6 717.4L173.6 711L166.3 706Z" fill="#00ff13"/><path d="M173.6 711L180.9 716.1L188 709.8L180.7 704.7Z" fill="#00ff00"/><path d="M231.2 707.2L238.4 712.5L245.6 706.7L238.3 701.3Z" fill="#11ff00"/><path d="M245.6 706.7L252.8 712L260 706.3L252.8 700.9Z" fill="#0eff00"/><path d="M260 706.3L267.2 711.7L274.3 706.1L267.2 700.6Z" fill="#07ff00"/><path d="M303 706.2L310.1 711.9L317.3 706.6L310.2 700.8Z" fill="#00ff30"/><path d="M317.3 706.6L324.3 712.3L331.5 707.1L324.5 701.3Z" fill="#00ff4e"/><path d="M331.5 707.1L338.5 712.8L345.7 707.7L338.7 701.9Z" fill="#00ff70"/><path d="M52.8 734.4L60.1 738.8L66.9 731.6L59.5 727.1Z" fill="#00b7ff"/><path d="M81 729.1L88.3 733.6L95.2 726.7L87.8 722Z" fill="#00ffee"/><path d="M95.2 726.7L102.5 731.3L109.4 724.5L102.1 719.8Z" fill="#00ffc0"/><path d="M123.7 722.4L131 727.2L137.9 720.6L130.6 715.8Z" fill="#00ff74"/><path d="M209.7 713.9L217 719L224.1 713.1L216.8 707.9Z" fill="#00ff04"/><path d="M281.5 711.6L288.6 717.1L295.8 711.7L288.7 706.1Z" fill="#00ff2a"/><path d="M352.7 713.6L359.6 719.4L366.8 714.5L359.8 708.6Z" fill="#00ffc8"/><path d="M137.9 720.6L145.3 725.4L152.3 718.9L144.9 714Z" fill="#00ff56"/><path d="M195.3 714.9L202.6 720L209.7 713.9L202.4 708.8Z" fill="#00ff0a"/><path d="M152.3 718.9L159.6 723.8L166.6 717.4L159.3 712.4Z" fill="#00ff3c"/><path d="M166.6 717.4L173.9 722.3L180.9 716.1L173.6 711Z" fill="#00ff26"/><path d="M180.9 716.1L188.2 721L195.3 714.9L188 709.8Z" fill="#00ff16"/><path d="M224.1 713.1L231.3 718.3L238.4 712.5L231.2 707.2Z" fill="#00ff02"/><path d="M238.4 712.5L245.7 717.7L252.8 712L245.6 706.7Z" fill="#00ff04"/><path d="M252.8 712L260 717.3L267.2 711.7L260 706.3Z" fill="#00ff0c"/><path d="M267.2 711.7L274.3 717.1L281.5 711.6L274.3 706.1Z" fill="#00ff18"/><path d="M295.8 711.7L302.9 717.2L310.1 711.9L303 706.2Z" fill="#00ff40"/><path d="M310.1 711.9L317.2 717.5L324.3 712.3L317.3 706.6Z" fill="#00ff5b"/><path d="M324.3 712.3L331.4 718L338.5 712.8L331.5 707.1Z" fill="#00ff7a"/><path d="M338.5 712.8L345.5 718.6L352.7 713.6L345.7 707.7Z" fill="#00ff9f"/><path d="M38.7 737.3L46.1 741.6L52.8 734.4L45.5 729.9Z" fill="#0087ff"/><path d="M66.9 731.6L74.2 736.1L81 729.1L73.7 724.5Z" fill="#00e4ff"/><path d="M109.4 724.5L116.7 729.1L123.7 722.4L116.3 717.7Z" fill="#00ff98"/><path d="M32.1 744.7L39.4 749L46.1 741.6L38.7 737.3Z" fill="#0054ff"/><path d="M46.1 741.6L53.4 746L60.1 738.8L52.8 734.4Z" fill="#0087ff"/><path d="M60.1 738.8L67.4 743.2L74.2 736.1L66.9 731.6Z" fill="#00b5ff"/><path d="M74.2 736.1L81.5 740.6L88.3 733.6L81 729.1Z" fill="#00e0ff"/><path d="M88.3 733.6L95.7 738.1L102.5 731.3L95.2 726.7Z" fill="#00fff5"/><path d="M102.5 731.3L109.8 735.9L116.7 729.1L109.4 724.5Z" fill="#00ffca"/><path d="M116.7 729.1L124.1 733.8L131 727.2L123.7 722.4Z" fill="#00ffa3"/><path d="M131 727.2L138.3 731.9L145.3 725.4L137.9 720.6Z" fill="#00ff82"/><path d="M145.3 725.4L152.6 730.1L159.6 723.8L152.3 718.9Z" fill="#00ff66"/><path d="M159.6 723.8L166.9 728.6L173.9 722.3L166.6 717.4Z" fill="#00ff4e"/><path d="M173.9 722.3L181.2 727.2L188.2 721L180.9 716.1Z" fill="#00ff3b"/><path d="M188.2 721L195.5 726L202.6 720L195.3 714.9Z" fill="#00ff2d"/><path d="M202.6 720L209.9 725L217 719L209.7 713.9Z" fill="#00ff23"/><path d="M217 719L224.2 724.1L231.3 718.3L224.1 713.1Z" fill="#00ff1f"/><path d="M231.3 718.3L238.6 723.5L245.7 717.7L238.4 712.5Z" fill="#00ff1f"/><path d="M245.7 717.7L252.9 723L260 717.3L252.8 712Z" fill="#00ff24"/><path d="M260 717.3L267.2 722.6L274.3 717.1L267.2 711.7Z" fill="#00ff2e"/><path d="M274.3 717.1L281.5 722.5L288.6 717.1L281.5 711.6Z" fill="#00ff3d"/><path d="M288.6 717.1L295.8 722.5L302.9 717.2L295.8 711.7Z" fill="#00ff50"/><path d="M302.9 717.2L310 722.7L317.2 717.5L310.1 711.9Z" fill="#00ff69"/><path d="M317.2 717.5L324.2 723.1L331.4 718L324.3 712.3Z" fill="#00ff86"/><path d="M331.4 718L338.4 723.6L345.5 718.6L338.5 712.8Z" fill="#00ffa7"/><path d="M345.5 718.6L352.5 724.4L359.6 719.4L352.7 713.6Z" fill="#00ffce"/><path d="M359.6 719.4L366.5 725.3L373.6 720.4L366.8 714.5Z" fill="#00fffa"/><path d="M39.4 749L46.6 753.2L53.4 746L46.1 741.6Z" fill="#0055ff"/><path d="M67.4 743.2L74.7 747.5L81.5 740.6L74.2 736.1Z" fill="#00b3ff"/><path d="M109.8 735.9L117.2 740.4L124.1 733.8L116.7 729.1Z" fill="#00ffd3"/><path d="M152.6 730.1L159.9 734.9L166.9 728.6L159.6 723.8Z" fill="#00ff76"/><path d="M166.9 728.6L174.2 733.4L181.2 727.2L173.9 722.3Z" fill="#00ff61"/><path d="M181.2 727.2L188.5 732.1L195.5 726L188.2 721Z" fill="#00ff50"/><path d="M224.2 724.1L231.5 729.2L238.6 723.5L231.3 718.3Z" fill="#00ff3b"/><path d="M238.6 723.5L245.8 728.6L252.9 723L245.7 717.7Z" fill="#00ff3d"/><path d="M252.9 723L260.1 728.2L267.2 722.6L260 717.3Z" fill="#00ff45"/><path d="M267.2 722.6L274.4 727.9L281.5 722.5L274.3 717.1Z" fill="#00ff51"/><path d="M295.8 722.5L302.9 728L310 722.7L302.9 717.2Z" fill="#00ff77"/><path d="M310 722.7L317.1 728.2L324.2 723.1L317.2 717.5Z" fill="#00ff92"/><path d="M324.2 723.1L331.2 728.7L338.4 723.6L331.4 718Z" fill="#00ffb1"/><path d="M338.4 723.6L345.3 729.3L352.5 724.4L345.5 718.6Z" fill="#00ffd5"/><path d="M138.3 731.9L145.6 736.5L152.6 730.1L145.3 725.4Z" fill="#00ff90"/><path d="M195.5 726L202.8 730.9L209.9 725L202.6 720Z" fill="#00ff44"/><path d="M53.4 746L60.7 750.3L67.4 743.2L60.1 738.8Z" fill="#0086ff"/><path d="M81.5 740.6L88.8 745L95.7 738.1L88.3 733.6Z" fill="#00dcff"/><path d="M95.7 738.1L103 742.6L109.8 735.9L102.5 731.3Z" fill="#00fffc"/><path d="M124.1 733.8L131.4 738.4L138.3 731.9L131 727.2Z" fill="#00ffaf"/><path d="M209.9 725L217.1 730L224.2 724.1L217 719Z" fill="#00ff3d"/><path d="M281.5 722.5L288.6 727.9L295.8 722.5L288.6 717.1Z" fill="#00ff62"/><path d="M352.5 724.4L359.4 730.1L366.5 725.3L359.6 719.4Z" fill="#00fffe"/><path d="M46.6 753.2L53.9 757.4L60.7 750.3L53.4 746Z" fill="#0056ff"/><path d="M60.7 750.3L67.9 754.5L74.7 747.5L67.4 743.2Z" fill="#0085ff"/><path d="M74.7 747.5L82 751.9L88.8 745L81.5 740.6Z" fill="#00b0ff"/><path d="M103 742.6L110.3 747.1L117.2 740.4L109.8 735.9Z" fill="#00fbff"/><path d="M117.2 740.4L124.5 744.9L131.4 738.4L124.1 733.8Z" fill="#00ffde"/><path d="M159.9 734.9L167.2 739.6L174.2 733.4L166.9 728.6Z" fill="#00ff87"/><path d="M174.2 733.4L181.5 738.2L188.5 732.1L181.2 727.2Z" fill="#00ff74"/><path d="M231.5 729.2L238.7 734.2L245.8 728.6L238.6 723.5Z" fill="#00ff57"/><path d="M245.8 728.6L253 733.7L260.1 728.2L252.9 723Z" fill="#00ff5c"/><path d="M260.1 728.2L267.2 733.4L274.4 727.9L267.2 722.6Z" fill="#00ff66"/><path d="M302.9 728L309.9 733.4L317.1 728.2L310 722.7Z" fill="#00ff9f"/><path d="M317.1 728.2L324.1 733.7L331.2 728.7L324.2 723.1Z" fill="#00ffbc"/><path d="M331.2 728.7L338.2 734.2L345.3 729.3L338.4 723.6Z" fill="#00ffde"/><path d="M145.6 736.5L152.9 741.2L159.9 734.9L152.6 730.1Z" fill="#00ff9f"/><path d="M188.5 732.1L195.8 736.9L202.8 730.9L195.5 726Z" fill="#00ff66"/><path d="M217.1 730L224.4 735L231.5 729.2L224.2 724.1Z" fill="#00ff57"/><path d="M274.4 727.9L281.5 733.2L288.6 727.9L281.5 722.5Z" fill="#00ff74"/><path d="M288.6 727.9L295.7 733.2L302.9 728L295.8 722.5Z" fill="#00ff87"/><path d="M345.3 729.3L352.3 734.9L359.4 730.1L352.5 724.4Z" fill="#00fbff"/><path d="M131.4 738.4L138.7 743L145.6 736.5L138.3 731.9Z" fill="#00ffbc"/><path d="M202.8 730.9L210.1 735.8L217.1 730L209.9 725Z" fill="#00ff5c"/><path d="M88.8 745L96.1 749.4L103 742.6L95.7 738.1Z" fill="#00d7ff"/><path d="M53.9 757.4L61.2 761.6L67.9 754.5L60.7 750.3Z" fill="#0056ff"/><path d="M167.2 739.6L174.5 744.2L181.5 738.2L174.2 733.4Z" fill="#00ff99"/><path d="M238.7 734.2L245.9 739.3L253 733.7L245.8 728.6Z" fill="#00ff74"/><path d="M253 733.7L260.1 738.8L267.2 733.4L260.1 728.2Z" fill="#00ff7b"/><path d="M309.9 733.4L317 738.7L324.1 733.7L317.1 728.2Z" fill="#00ffc8"/><path d="M324.1 733.7L331.1 739.2L338.2 734.2L331.2 728.7Z" fill="#00ffe7"/><path d="M124.5 744.9L131.8 749.4L138.7 743L131.4 738.4Z" fill="#00ffe9"/><path d="M152.9 741.2L160.2 745.8L167.2 739.6L159.9 734.9Z" fill="#00ffaf"/><path d="M181.5 738.2L188.7 742.9L195.8 736.9L188.5 732.1Z" fill="#00ff88"/><path d="M67.9 754.5L75.2 758.8L82 751.9L74.7 747.5Z" fill="#0083ff"/><path d="M82 751.9L89.3 756.2L96.1 749.4L88.8 745Z" fill="#00adff"/><path d="M96.1 749.4L103.4 753.7L110.3 747.1L103 742.6Z" fill="#00d2ff"/><path d="M110.3 747.1L117.6 751.5L124.5 744.9L117.2 740.4Z" fill="#00f3ff"/><path d="M224.4 735L231.6 739.9L238.7 734.2L231.5 729.2Z" fill="#00ff72"/><path d="M267.2 733.4L274.4 738.5L281.5 733.2L274.4 727.9Z" fill="#00ff87"/><path d="M281.5 733.2L288.6 738.4L295.7 733.2L288.6 727.9Z" fill="#00ff98"/><path d="M295.7 733.2L302.8 738.5L309.9 733.4L302.9 728Z" fill="#00ffad"/><path d="M338.2 734.2L345.2 739.8L352.3 734.9L345.3 729.3Z" fill="#00f6ff"/><path d="M138.7 743L146 747.5L152.9 741.2L145.6 736.5Z" fill="#00ffca"/><path d="M195.8 736.9L203 741.7L210.1 735.8L202.8 730.9Z" fill="#00ff7c"/><path d="M210.1 735.8L217.3 740.7L224.4 735L217.1 730Z" fill="#00ff75"/><path d="M61.2 761.6L68.5 765.7L75.2 758.8L67.9 754.5Z" fill="#0055ff"/><path d="M89.3 756.2L96.6 760.4L103.4 753.7L96.1 749.4Z" fill="#00a8ff"/><path d="M245.9 739.3L253.1 744.3L260.1 738.8L253 733.7Z" fill="#00ff92"/><path d="M317 738.7L324 744.1L331.1 739.2L324.1 733.7Z" fill="#00fff1"/><path d="M131.8 749.4L139 753.8L146 747.5L138.7 743Z" fill="#00fff5"/><path d="M160.2 745.8L167.5 750.4L174.5 744.2L167.2 739.6Z" fill="#00ffbf"/><path d="M174.5 744.2L181.7 748.9L188.7 742.9L181.5 738.2Z" fill="#00ffac"/><path d="M231.6 739.9L238.8 744.8L245.9 739.3L238.7 734.2Z" fill="#00ff8e"/><path d="M260.1 738.8L267.3 743.9L274.4 738.5L267.2 733.4Z" fill="#00ff9c"/><path d="M274.4 738.5L281.5 743.7L288.6 738.4L281.5 733.2Z" fill="#00ffaa"/><path d="M288.6 738.4L295.7 743.6L302.8 738.5L295.7 733.2Z" fill="#00ffbd"/><path d="M302.8 738.5L309.9 743.8L317 738.7L309.9 733.4Z" fill="#00ffd4"/><path d="M331.1 739.2L338.1 744.6L345.2 739.8L338.2 734.2Z" fill="#00efff"/><path d="M117.6 751.5L124.8 755.8L131.8 749.4L124.5 744.9Z" fill="#00ecff"/><path d="M146 747.5L153.2 752L160.2 745.8L152.9 741.2Z" fill="#00ffd8"/><path d="M188.7 742.9L196 747.6L203 741.7L195.8 736.9Z" fill="#00ff9d"/><path d="M203 741.7L210.3 746.5L217.3 740.7L210.1 735.8Z" fill="#00ff93"/><path d="M217.3 740.7L224.5 745.6L231.6 739.9L224.4 735Z" fill="#00ff8e"/><path d="M75.2 758.8L82.5 763L89.3 756.2L82 751.9Z" fill="#0081ff"/><path d="M103.4 753.7L110.7 758L117.6 751.5L110.3 747.1Z" fill="#00ccff"/><path d="M139 753.8L146.3 758.2L153.2 752L146 747.5Z" fill="#00fdff"/><path d="M68.5 765.7L75.7 769.8L82.5 763L75.2 758.8Z" fill="#0055ff"/><path d="M82.5 763L89.8 767.1L96.6 760.4L89.3 756.2Z" fill="#007eff"/><path d="M96.6 760.4L103.8 764.6L110.7 758L103.4 753.7Z" fill="#00a4ff"/><path d="M124.8 755.8L132.1 760.2L139 753.8L131.8 749.4Z" fill="#00e3ff"/><path d="M153.2 752L160.5 756.5L167.5 750.4L160.2 745.8Z" fill="#00ffe6"/><path d="M167.5 750.4L174.7 754.9L181.7 748.9L174.5 744.2Z" fill="#00ffd0"/><path d="M181.7 748.9L189 753.5L196 747.6L188.7 742.9Z" fill="#00ffbf"/><path d="M196 747.6L203.2 752.3L210.3 746.5L203 741.7Z" fill="#00ffb2"/><path d="M210.3 746.5L217.5 751.2L224.5 745.6L217.3 740.7Z" fill="#00ffab"/><path d="M224.5 745.6L231.7 750.4L238.8 744.8L231.6 739.9Z" fill="#00ffa8"/><path d="M238.8 744.8L246 749.7L253.1 744.3L245.9 739.3Z" fill="#00ffaa"/><path d="M253.1 744.3L260.2 749.2L267.3 743.9L260.1 738.8Z" fill="#00ffb1"/><path d="M267.3 743.9L274.4 748.9L281.5 743.7L274.4 738.5Z" fill="#00ffbc"/><path d="M281.5 743.7L288.6 748.8L295.7 743.6L288.6 738.4Z" fill="#00ffcd"/><path d="M295.7 743.6L302.8 748.8L309.9 743.8L302.8 738.5Z" fill="#00ffe2"/><path d="M309.9 743.8L316.9 749L324 744.1L317 738.7Z" fill="#00fffc"/><path d="M324 744.1L331 749.4L338.1 744.6L331.1 739.2Z" fill="#00e8ff"/><path d="M110.7 758L118 762.3L124.8 755.8L117.6 751.5Z" fill="#00c6ff"/><path d="M75.7 769.8L83 773.8L89.8 767.1L82.5 763Z" fill="#0053ff"/><path d="M146.3 758.2L153.6 762.6L160.5 756.5L153.2 752Z" fill="#00f3ff"/><path d="M260.2 749.2L267.4 754.1L274.4 748.9L267.3 743.9Z" fill="#00ffd0"/><path d="M274.4 748.9L281.6 753.9L288.6 748.8L281.5 743.7Z" fill="#00ffde"/><path d="M288.6 748.8L295.7 753.8L302.8 748.8L295.7 743.6Z" fill="#00fff0"/><path d="M302.8 748.8L309.9 754L316.9 749L309.9 743.8Z" fill="#00f8ff"/><path d="M89.8 767.1L97 771.2L103.8 764.6L96.6 760.4Z" fill="#007bff"/><path d="M103.8 764.6L111.1 768.8L118 762.3L110.7 758Z" fill="#009fff"/><path d="M118 762.3L125.2 766.5L132.1 760.2L124.8 755.8Z" fill="#00bfff"/><path d="M132.1 760.2L139.4 764.5L146.3 758.2L139 753.8Z" fill="#00dbff"/><path d="M160.5 756.5L167.8 760.9L174.7 754.9L167.5 750.4Z" fill="#00fff5"/><path d="M174.7 754.9L182 759.4L189 753.5L181.7 748.9Z" fill="#00ffe2"/><path d="M189 753.5L196.2 758.1L203.2 752.3L196 747.6Z" fill="#00ffd3"/><path d="M203.2 752.3L210.5 756.9L217.5 751.2L210.3 746.5Z" fill="#00ffc8"/><path d="M217.5 751.2L224.7 756L231.7 750.4L224.5 745.6Z" fill="#00ffc3"/><path d="M231.7 750.4L238.9 755.2L246 749.7L238.8 744.8Z" fill="#00ffc3"/><path d="M246 749.7L253.2 754.6L260.2 749.2L253.1 744.3Z" fill="#00ffc7"/><path d="M316.9 749L324 754.3L331 749.4L324 744.1Z" fill="#00e1ff"/><path d="M83 773.8L90.2 777.8L97 771.2L89.8 767.1Z" fill="#0051ff"/><path d="M111.1 768.8L118.4 772.9L125.2 766.5L118 762.3Z" fill="#0099ff"/><path d="M139.4 764.5L146.6 768.7L153.6 762.6L146.3 758.2Z" fill="#00d1ff"/><path d="M153.6 762.6L160.8 766.9L167.8 760.9L160.5 756.5Z" fill="#00e8ff"/><path d="M196.2 758.1L203.4 762.6L210.5 756.9L203.2 752.3Z" fill="#00ffe7"/><path d="M210.5 756.9L217.7 761.5L224.7 756L217.5 751.2Z" fill="#00ffdf"/><path d="M224.7 756L231.9 760.6L238.9 755.2L231.7 750.4Z" fill="#00ffdc"/><path d="M267.4 754.1L274.5 759L281.6 753.9L274.4 748.9Z" fill="#00fff0"/><path d="M281.6 753.9L288.7 758.9L295.7 753.8L288.6 748.8Z" fill="#00ffff"/><path d="M295.7 753.8L302.8 758.9L309.9 754L302.8 748.8Z" fill="#00edff"/><path d="M182 759.4L189.2 763.9L196.2 758.1L189 753.5Z" fill="#00fff4"/><path d="M253.2 754.6L260.3 759.4L267.4 754.1L260.2 749.2Z" fill="#00ffe4"/><path d="M309.9 754L316.9 759.1L324 754.3L316.9 749Z" fill="#00d8ff"/><path d="M97 771.2L104.3 775.3L111.1 768.8L103.8 764.6Z" fill="#0077ff"/><path d="M125.2 766.5L132.5 770.7L139.4 764.5L132.1 760.2Z" fill="#00b7ff"/><path d="M167.8 760.9L175 765.3L182 759.4L174.7 754.9Z" fill="#00faff"/><path d="M238.9 755.2L246.1 759.9L253.2 754.6L246 749.7Z" fill="#00ffde"/><path d="M274.5 759L281.7 763.9L288.7 758.9L281.6 753.9Z" fill="#00f1ff"/><path d="M288.7 758.9L295.8 763.8L302.8 758.9L295.7 753.8Z" fill="#00e2ff"/><path d="M90.2 777.8L97.4 781.8L104.3 775.3L97 771.2Z" fill="#004fff"/><path d="M104.3 775.3L111.5 779.3L118.4 772.9L111.1 768.8Z" fill="#0073ff"/><path d="M118.4 772.9L125.6 777L132.5 770.7L125.2 766.5Z" fill="#0093ff"/><path d="M132.5 770.7L139.7 774.9L146.6 768.7L139.4 764.5Z" fill="#00afff"/><path d="M146.6 768.7L153.9 773L160.8 766.9L153.6 762.6Z" fill="#00c7ff"/><path d="M160.8 766.9L168.1 771.2L175 765.3L167.8 760.9Z" fill="#00dcff"/><path d="M189.2 763.9L196.5 768.3L203.4 762.6L196.2 758.1Z" fill="#00f9ff"/><path d="M203.4 762.6L210.7 767.1L217.7 761.5L210.5 756.9Z" fill="#00fffc"/><path d="M217.7 761.5L224.9 766.1L231.9 760.6L224.7 756Z" fill="#00fff7"/><path d="M231.9 760.6L239.1 765.3L246.1 759.9L238.9 755.2Z" fill="#00fff6"/><path d="M246.1 759.9L253.3 764.6L260.3 759.4L253.2 754.6Z" fill="#00fffa"/><path d="M260.3 759.4L267.5 764.2L274.5 759L267.4 754.1Z" fill="#00fcff"/><path d="M302.8 758.9L309.9 763.9L316.9 759.1L309.9 754Z" fill="#00cfff"/><path d="M175 765.3L182.3 769.7L189.2 763.9L182 759.4Z" fill="#00ecff"/><path d="M97.4 781.8L104.7 785.7L111.5 779.3L104.3 775.3Z" fill="#004cff"/><path d="M125.6 777L132.8 781.1L139.7 774.9L132.5 770.7Z" fill="#008cff"/><path d="M210.7 767.1L217.9 771.6L224.9 766.1L217.7 761.5Z" fill="#00efff"/><path d="M281.7 763.9L288.8 768.8L295.8 763.8L288.7 758.9Z" fill="#00d6ff"/><path d="M168.1 771.2L175.3 775.5L182.3 769.7L175 765.3Z" fill="#00d0ff"/><path d="M196.5 768.3L203.7 772.7L210.7 767.1L203.4 762.6Z" fill="#00e9ff"/><path d="M267.5 764.2L274.6 769L281.7 763.9L274.5 759Z" fill="#00e3ff"/><path d="M295.8 763.8L302.9 768.7L309.9 763.9L302.8 758.9Z" fill="#00c5ff"/><path d="M111.5 779.3L118.7 783.3L125.6 777L118.4 772.9Z" fill="#006eff"/><path d="M139.7 774.9L147 779L153.9 773L146.6 768.7Z" fill="#00a7ff"/><path d="M153.9 773L161.1 777.2L168.1 771.2L160.8 766.9Z" fill="#00bdff"/><path d="M182.3 769.7L189.5 774L196.5 768.3L189.2 763.9Z" fill="#00deff"/><path d="M224.9 766.1L232.1 770.6L239.1 765.3L231.9 760.6Z" fill="#00f2ff"/><path d="M239.1 765.3L246.3 769.9L253.3 764.6L246.1 759.9Z" fill="#00f1ff"/><path d="M253.3 764.6L260.5 769.3L267.5 764.2L260.3 759.4Z" fill="#00ecff"/><path d="M104.7 785.7L111.9 789.6L118.7 783.3L111.5 779.3Z" fill="#0048ff"/><path d="M118.7 783.3L126 787.3L132.8 781.1L125.6 777Z" fill="#0069ff"/><path d="M132.8 781.1L140.1 785.1L147 779L139.7 774.9Z" fill="#0085ff"/><path d="M161.1 777.2L168.4 781.3L175.3 775.5L168.1 771.2Z" fill="#00b2ff"/><path d="M175.3 775.5L182.5 779.7L189.5 774L182.3 769.7Z" fill="#00c3ff"/><path d="M189.5 774L196.7 778.3L203.7 772.7L196.5 768.3Z" fill="#00cfff"/><path d="M203.7 772.7L210.9 777.1L217.9 771.6L210.7 767.1Z" fill="#00d8ff"/><path d="M217.9 771.6L225.1 776L232.1 770.6L224.9 766.1Z" fill="#00ddff"/><path d="M232.1 770.6L239.3 775.2L246.3 769.9L239.1 765.3Z" fill="#00deff"/><path d="M246.3 769.9L253.4 774.5L260.5 769.3L253.3 764.6Z" fill="#00dbff"/><path d="M260.5 769.3L267.6 774L274.6 769L267.5 764.2Z" fill="#00d4ff"/><path d="M274.6 769L281.7 773.7L288.8 768.8L281.7 763.9Z" fill="#00c9ff"/><path d="M288.8 768.8L295.9 773.6L302.9 768.7L295.8 763.8Z" fill="#00bbff"/><path d="M147 779L154.2 783.1L161.1 777.2L153.9 773Z" fill="#009eff"/><path d="M111.9 789.6L119.1 793.4L126 787.3L118.7 783.3Z" fill="#0044ff"/><path d="M126 787.3L133.2 791.2L140.1 785.1L132.8 781.1Z" fill="#0063ff"/><path d="M140.1 785.1L147.3 789.1L154.2 783.1L147 779Z" fill="#007dff"/><path d="M154.2 783.1L161.4 787.1L168.4 781.3L161.1 777.2Z" fill="#0094ff"/><path d="M168.4 781.3L175.6 785.4L182.5 779.7L175.3 775.5Z" fill="#00a7ff"/><path d="M182.5 779.7L189.7 783.9L196.7 778.3L189.5 774Z" fill="#00b5ff"/><path d="M196.7 778.3L203.9 782.5L210.9 777.1L203.7 772.7Z" fill="#00c0ff"/><path d="M210.9 777.1L218.1 781.4L225.1 776L217.9 771.6Z" fill="#00c7ff"/><path d="M225.1 776L232.3 780.4L239.3 775.2L232.1 770.6Z" fill="#00caff"/><path d="M239.3 775.2L246.4 779.6L253.4 774.5L246.3 769.9Z" fill="#00c9ff"/><path d="M253.4 774.5L260.6 779L267.6 774L260.5 769.3Z" fill="#00c5ff"/><path d="M267.6 774L274.7 778.6L281.7 773.7L274.6 769Z" fill="#00bcff"/><path d="M281.7 773.7L288.9 778.4L295.9 773.6L288.8 768.8Z" fill="#00afff"/><path d="M119.1 793.4L126.4 797.2L133.2 791.2L126 787.3Z" fill="#0040ff"/><path d="M189.7 783.9L197 788L203.9 782.5L196.7 778.3Z" fill="#00a8ff"/><path d="M232.3 780.4L239.5 784.8L246.4 779.6L239.3 775.2Z" fill="#00b7ff"/><path d="M246.4 779.6L253.6 784.1L260.6 779L253.4 774.5Z" fill="#00b4ff"/><path d="M260.6 779L267.8 783.5L274.7 778.6L267.6 774Z" fill="#00adff"/><path d="M133.2 791.2L140.4 795L147.3 789.1L140.1 785.1Z" fill="#005cff"/><path d="M147.3 789.1L154.5 793L161.4 787.1L154.2 783.1Z" fill="#0075ff"/><path d="M161.4 787.1L168.7 791.1L175.6 785.4L168.4 781.3Z" fill="#008aff"/><path d="M175.6 785.4L182.8 789.5L189.7 783.9L182.5 779.7Z" fill="#009bff"/><path d="M203.9 782.5L211.1 786.8L218.1 781.4L210.9 777.1Z" fill="#00b1ff"/><path d="M218.1 781.4L225.3 785.7L232.3 780.4L225.1 776Z" fill="#00b6ff"/><path d="M274.7 778.6L281.9 783.2L288.9 778.4L281.7 773.7Z" fill="#00a3ff"/><path d="M126.4 797.2L133.6 801L140.4 795L133.2 791.2Z" fill="#003aff"/><path d="M154.5 793L161.8 796.9L168.7 791.1L161.4 787.1Z" fill="#006cff"/><path d="M182.8 789.5L190 793.5L197 788L189.7 783.9Z" fill="#008eff"/><path d="M197 788L204.2 792.1L211.1 786.8L203.9 782.5Z" fill="#0099ff"/><path d="M225.3 785.7L232.5 789.9L239.5 784.8L232.3 780.4Z" fill="#00a4ff"/><path d="M239.5 784.8L246.6 789.1L253.6 784.1L246.4 779.6Z" fill="#00a3ff"/><path d="M253.6 784.1L260.8 788.5L267.8 783.5L260.6 779Z" fill="#009eff"/><path d="M267.8 783.5L274.9 788L281.9 783.2L274.7 778.6Z" fill="#0096ff"/><path d="M140.4 795L147.7 798.8L154.5 793L147.3 789.1Z" fill="#0055ff"/><path d="M168.7 791.1L175.9 795.1L182.8 789.5L175.6 785.4Z" fill="#007fff"/><path d="M211.1 786.8L218.3 790.9L225.3 785.7L218.1 781.4Z" fill="#00a0ff"/><path d="M133.6 801L140.8 804.7L147.7 798.8L140.4 795Z" fill="#0035ff"/><path d="M161.8 796.9L169 800.7L175.9 795.1L168.7 791.1Z" fill="#0063ff"/><path d="M204.2 792.1L211.4 796.2L218.3 790.9L211.1 786.8Z" fill="#008aff"/><path d="M232.5 789.9L239.7 794.1L246.6 789.1L239.5 784.8Z" fill="#0091ff"/><path d="M246.6 789.1L253.8 793.4L260.8 788.5L253.6 784.1Z" fill="#008fff"/><path d="M147.7 798.8L154.9 802.6L161.8 796.9L154.5 793Z" fill="#004eff"/><path d="M175.9 795.1L183.1 799L190 793.5L182.8 789.5Z" fill="#0074ff"/><path d="M190 793.5L197.2 797.5L204.2 792.1L197 788Z" fill="#0081ff"/><path d="M218.3 790.9L225.5 795.1L232.5 789.9L225.3 785.7Z" fill="#0090ff"/><path d="M260.8 788.5L267.9 792.8L274.9 788L267.8 783.5Z" fill="#0088ff"/><path d="M140.8 804.7L148 808.4L154.9 802.6L147.7 798.8Z" fill="#002fff"/><path d="M154.9 802.6L162.1 806.3L169 800.7L161.8 796.9Z" fill="#0046ff"/><path d="M169 800.7L176.2 804.5L183.1 799L175.9 795.1Z" fill="#0059ff"/><path d="M197.2 797.5L204.4 801.5L211.4 796.2L204.2 792.1Z" fill="#0074ff"/><path d="M211.4 796.2L218.6 800.2L225.5 795.1L218.3 790.9Z" fill="#007bff"/><path d="M225.5 795.1L232.7 799.2L239.7 794.1L232.5 789.9Z" fill="#007eff"/><path d="M239.7 794.1L246.8 798.3L253.8 793.4L246.6 789.1Z" fill="#007eff"/><path d="M253.8 793.4L261 797.6L267.9 792.8L260.8 788.5Z" fill="#007aff"/><path d="M183.1 799L190.3 802.9L197.2 797.5L190 793.5Z" fill="#0068ff"/><path d="M148 808.4L155.2 812L162.1 806.3L154.9 802.6Z" fill="#0028ff"/><path d="M162.1 806.3L169.3 810L176.2 804.5L169 800.7Z" fill="#003dff"/><path d="M176.2 804.5L183.4 808.3L190.3 802.9L183.1 799Z" fill="#004fff"/><path d="M190.3 802.9L197.5 806.7L204.4 801.5L197.2 797.5Z" fill="#005cff"/><path d="M204.4 801.5L211.6 805.4L218.6 800.2L211.4 796.2Z" fill="#0065ff"/><path d="M218.6 800.2L225.8 804.2L232.7 799.2L225.5 795.1Z" fill="#006bff"/><path d="M232.7 799.2L239.9 803.2L246.8 798.3L239.7 794.1Z" fill="#006dff"/><path d="M246.8 798.3L254 802.4L261 797.6L253.8 793.4Z" fill="#006aff"/><path d="M155.2 812L162.4 815.5L169.3 810L162.1 806.3Z" fill="#0021ff"/><path d="M225.8 804.2L233 808.1L239.9 803.2L232.7 799.2Z" fill="#005bff"/><path d="M169.3 810L176.5 813.7L183.4 808.3L176.2 804.5Z" fill="#0034ff"/><path d="M183.4 808.3L190.6 812L197.5 806.7L190.3 802.9Z" fill="#0044ff"/><path d="M197.5 806.7L204.7 810.5L211.6 805.4L204.4 801.5Z" fill="#004fff"/><path d="M211.6 805.4L218.8 809.2L225.8 804.2L218.6 800.2Z" fill="#0057ff"/><path d="M239.9 803.2L247.1 807.2L254 802.4L246.8 798.3Z" fill="#005aff"/><path d="M162.4 815.5L169.6 819.1L176.5 813.7L169.3 810Z" fill="#0019ff"/><path d="M190.6 812L197.8 815.7L204.7 810.5L197.5 806.7Z" fill="#0038ff"/><path d="M218.8 809.2L226 813L233 808.1L225.8 804.2Z" fill="#0048ff"/><path d="M233 808.1L240.2 812L247.1 807.2L239.9 803.2Z" fill="#004aff"/><path d="M176.5 813.7L183.7 817.3L190.6 812L183.4 808.3Z" fill="#002aff"/><path d="M204.7 810.5L211.9 814.2L218.8 809.2L211.6 805.4Z" fill="#0042ff"/><path d="M169.6 819.1L176.8 822.5L183.7 817.3L176.5 813.7Z" fill="#0011ff"/><path d="M197.8 815.7L205 819.3L211.9 814.2L204.7 810.5Z" fill="#002cff"/><path d="M183.7 817.3L190.9 820.8L197.8 815.7L190.6 812Z" fill="#0020ff"/><path d="M211.9 814.2L219.1 817.9L226 813L218.8 809.2Z" fill="#0034ff"/><path d="M226 813L233.2 816.8L240.2 812L233 808.1Z" fill="#0038ff"/><path d="M176.8 822.5L184 825.9L190.9 820.8L183.7 817.3Z" fill="#0008ff"/><path d="M190.9 820.8L198.1 824.3L205 819.3L197.8 815.7Z" fill="#0016ff"/><path d="M205 819.3L212.2 822.8L219.1 817.9L211.9 814.2Z" fill="#0020ff"/><path d="M219.1 817.9L226.3 821.6L233.2 816.8L226 813Z" fill="#0026ff"/><path d="M184 825.9L191.2 829.3L198.1 824.3L190.9 820.8Z" fill="#0000ff"/><path d="M198.1 824.3L205.3 827.7L212.2 822.8L205 819.3Z" fill="#000aff"/><path d="M212.2 822.8L219.4 826.4L226.3 821.6L219.1 817.9Z" fill="#0013ff"/><path d="M191.2 829.3L198.4 832.6L205.3 827.7L198.1 824.3Z" fill="#0000ff"/><path d="M205.3 827.7L212.5 831.2L219.4 826.4L212.2 822.8Z" fill="#0000ff"/><path d="M198.4 832.6L205.7 835.9L212.5 831.2L205.3 827.7Z" fill="#0000ff"/></g></g>
<path d="M60.1 738.8L66.9 731.6L73.7 724.5L80.5 717.4L87.3 710.3L94.2 703.2L101.1 696.2L108 689.2L114.9 682.2L121.9 675.2L128.8 668.3L135.9 661.4L142.9 654.6L149.9 647.7L157 640.9L164.1 634.1L171.3 627.4L178.4 620.7L185.6 614L192.8 607.3L200 600.7M67.4 743.2L74.2 736.1L81 729.1L87.8 722L94.7 715L101.6 708.1L108.5 701.1L115.4 694.2L122.3 687.3L129.3 680.4L136.3 673.6L143.3 666.8L150.4 660L157.4 653.2L164.5 646.5L171.7 639.8L178.8 633.1L186 626.4L193.2 619.8L200.4 613.2L207.6 606.7M74.7 747.5L81.5 740.6L88.3 733.6L95.2 726.7L102.1 719.8L108.9 712.9L115.9 706L122.8 699.2L129.8 692.4L136.8 685.6L143.8 678.8L150.8 672.1L157.9 665.4L164.9 658.7L172 652L179.2 645.4L186.3 638.8L193.5 632.2L200.7 625.7L207.9 619.1L215.2 612.6M82 751.9L88.8 745L95.7 738.1L102.5 731.3L109.4 724.5L116.3 717.7L123.2 710.9L130.2 704.2L137.2 697.4L144.2 690.7L151.2 684.1L158.2 677.4L165.3 670.8L172.4 664.2L179.5 657.6L186.7 651L193.8 644.5L201 638L208.2 631.5L215.5 625.1L222.7 618.6M89.3 756.2L96.1 749.4L103 742.6L109.8 735.9L116.7 729.1L123.7 722.4L130.6 715.8L137.6 709.1L144.5 702.5L151.6 695.8L158.6 689.3L165.6 682.7L172.7 676.1L179.8 669.6L187 663.1L194.1 656.6L201.3 650.2L208.5 643.8L215.7 637.3L223 631L230.2 624.6M96.6 760.4L103.4 753.7L110.3 747.1L117.2 740.4L124.1 733.8L131 727.2L137.9 720.6L144.9 714L151.9 707.5L158.9 700.9L166 694.4L173 688L180.1 681.5L187.2 675L194.4 668.6L201.5 662.2L208.7 655.9L215.9 649.5L223.2 643.2L230.4 636.9L237.7 630.6M103.8 764.6L110.7 758L117.6 751.5L124.5 744.9L131.4 738.4L138.3 731.9L145.3 725.4L152.3 718.9L159.3 712.4L166.3 706L173.3 699.6L180.4 693.2L187.5 686.8L194.6 680.5L201.8 674.1L208.9 667.8L216.1 661.5L223.3 655.2L230.6 649L237.8 642.7L245.1 636.5M111.1 768.8L118 762.3L124.8 755.8L131.8 749.4L138.7 743L145.6 736.5L152.6 730.1L159.6 723.8L166.6 717.4L173.6 711L180.7 704.7L187.8 698.4L194.9 692.1L202 685.8L209.1 679.6L216.3 673.4L223.5 667.1L230.7 660.9L237.9 654.8L245.2 648.6L252.5 642.5M118.4 772.9L125.2 766.5L132.1 760.2L139 753.8L146 747.5L152.9 741.2L159.9 734.9L166.9 728.6L173.9 722.3L180.9 716.1L188 709.8L195.1 703.6L202.2 697.4L209.3 691.2L216.5 685L223.6 678.9L230.8 672.8L238 666.6L245.3 660.5L252.5 654.5L259.8 648.4M125.6 777L132.5 770.7L139.4 764.5L146.3 758.2L153.2 752L160.2 745.8L167.2 739.6L174.2 733.4L181.2 727.2L188.2 721L195.3 714.9L202.4 708.8L209.5 702.7L216.6 696.6L223.8 690.5L231 684.4L238.2 678.4L245.4 672.3L252.6 666.3L259.9 660.3L267.1 654.3M132.8 781.1L139.7 774.9L146.6 768.7L153.6 762.6L160.5 756.5L167.5 750.4L174.5 744.2L181.5 738.2L188.5 732.1L195.5 726L202.6 720L209.7 713.9L216.8 707.9L223.9 701.9L231.1 695.9L238.2 689.9L245.4 684L252.7 678L259.9 672.1L267.1 666.2L274.4 660.2M140.1 785.1L147 779L153.9 773L160.8 766.9L167.8 760.9L174.7 754.9L181.7 748.9L188.7 742.9L195.8 736.9L202.8 730.9L209.9 725L217 719L224.1 713.1L231.2 707.2L238.3 701.3L245.5 695.4L252.7 689.5L259.9 683.7L267.1 677.8L274.4 672L281.7 666.1M147.3 789.1L154.2 783.1L161.1 777.2L168.1 771.2L175 765.3L182 759.4L189 753.5L196 747.6L203 741.7L210.1 735.8L217.1 730L224.2 724.1L231.3 718.3L238.4 712.5L245.6 706.7L252.8 700.9L259.9 695.1L267.1 689.3L274.4 683.5L281.6 677.8L288.9 672M154.5 793L161.4 787.1L168.4 781.3L175.3 775.5L182.3 769.7L189.2 763.9L196.2 758.1L203.2 752.3L210.3 746.5L217.3 740.7L224.4 735L231.5 729.2L238.6 723.5L245.7 717.7L252.8 712L260 706.3L267.2 700.6L274.4 694.9L281.6 689.2L288.8 683.6L296.1 677.9M161.8 796.9L168.7 791.1L175.6 785.4L182.5 779.7L189.5 774L196.5 768.3L203.4 762.6L210.5 756.9L217.5 751.2L224.5 745.6L231.6 739.9L238.7 734.2L245.8 728.6L252.9 723L260 717.3L267.2 711.7L274.3 706.1L281.5 700.5L288.7 694.9L296 689.3L303.2 683.8M169 800.7L175.9 795.1L182.8 789.5L189.7 783.9L196.7 778.3L203.7 772.7L210.7 767.1L217.7 761.5L224.7 756L231.7 750.4L238.8 744.8L245.9 739.3L253 733.7L260.1 728.2L267.2 722.6L274.3 717.1L281.5 711.6L288.7 706.1L295.9 700.6L303.1 695.1L310.3 689.6M176.2 804.5L183.1 799L190 793.5L197 788L203.9 782.5L210.9 777.1L217.9 771.6L224.9 766.1L231.9 760.6L238.9 755.2L246 749.7L253.1 744.3L260.1 738.8L267.2 733.4L274.4 727.9L281.5 722.5L288.6 717.1L295.8 711.7L303 706.2L310.2 700.8L317.4 695.4M183.4 808.3L190.3 802.9L197.2 797.5L204.2 792.1L211.1 786.8L218.1 781.4L225.1 776L232.1 770.6L239.1 765.3L246.1 759.9L253.2 754.6L260.2 749.2L267.3 743.9L274.4 738.5L281.5 733.2L288.6 727.9L295.8 722.5L302.9 717.2L310.1 711.9L317.3 706.6L324.5 701.3M190.6 812L197.5 806.7L204.4 801.5L211.4 796.2L218.3 790.9L225.3 785.7L232.3 780.4L239.3 775.2L246.3 769.9L253.3 764.6L260.3 759.4L267.4 754.1L274.4 748.9L281.5 743.7L288.6 738.4L295.7 733.2L302.9 728L310 722.7L317.2 717.5L324.3 712.3L331.5 707.1M197.8 815.7L204.7 810.5L211.6 805.4L218.6 800.2L225.5 795.1L232.5 789.9L239.5 784.8L246.4 779.6L253.4 774.5L260.5 769.3L267.5 764.2L274.5 759L281.6 753.9L288.6 748.8L295.7 743.6L302.8 738.5L309.9 733.4L317.1 728.2L324.2 723.1L331.4 718L338.5 712.8M205 819.3L211.9 814.2L218.8 809.2L225.8 804.2L232.7 799.2L239.7 794.1L246.6 789.1L253.6 784.1L260.6 779L267.6 774L274.6 769L281.7 763.9L288.7 758.9L295.7 753.8L302.8 748.8L309.9 743.8L317 738.7L324.1 733.7L331.2 728.7L338.4 723.6L345.5 718.6M60.1 738.8L67.4 743.2L74.7 747.5L82 751.9L89.3 756.2L96.6 760.4L103.8 764.6L111.1 768.8L118.4 772.9L125.6 777L132.8 781.1L140.1 785.1L147.3 789.1L154.5 793L161.8 796.9L169 800.7L176.2 804.5L183.4 808.3L190.6 812L197.8 815.7L205 819.3M66.9 731.6L74.2 736.1L81.5 740.6L88.8 745L96.1 749.4L103.4 753.7L110.7 758L118 762.3L125.2 766.5L132.5 770.7L139.7 774.9L147 779L154.2 783.1L161.4 787.1L168.7 791.1L175.9 795.1L183.1 799L190.3 802.9L197.5 806.7L204.7 810.5L211.9 814.2M73.7 724.5L81 729.1L88.3 733.6L95.7 738.1L103 742.6L110.3 747.1L117.6 751.5L124.8 755.8L132.1 760.2L139.4 764.5L146.6 768.7L153.9 773L161.1 777.2L168.4 781.3L175.6 785.4L182.8 789.5L190 793.5L197.2 797.5L204.4 801.5L211.6 805.4L218.8 809.2M80.5 717.4L87.8 722L95.2 726.7L102.5 731.3L109.8 735.9L117.2 740.4L124.5 744.9L131.8 749.4L139 753.8L146.3 758.2L153.6 762.6L160.8 766.9L168.1 771.2L175.3 775.5L182.5 779.7L189.7 783.9L197 788L204.2 792.1L211.4 796.2L218.6 800.2L225.8 804.2M87.3 710.3L94.7 715L102.1 719.8L109.4 724.5L116.7 729.1L124.1 733.8L131.4 738.4L138.7 743L146 747.5L153.2 752L160.5 756.5L167.8 760.9L175 765.3L182.3 769.7L189.5 774L196.7 778.3L203.9 782.5L211.1 786.8L218.3 790.9L225.5 795.1L232.7 799.2M94.2 703.2L101.6 708.1L108.9 712.9L116.3 717.7L123.7 722.4L131 727.2L138.3 731.9L145.6 736.5L152.9 741.2L160.2 745.8L167.5 750.4L174.7 754.9L182 759.4L189.2 763.9L196.5 768.3L203.7 772.7L210.9 777.1L218.1 781.4L225.3 785.7L232.5 789.9L239.7 794.1M101.1 696.2L108.5 701.1L115.9 706L123.2 710.9L130.6 715.8L137.9 720.6L145.3 725.4L152.6 730.1L159.9 734.9L167.2 739.6L174.5 744.2L181.7 748.9L189 753.5L196.2 758.1L203.4 762.6L210.7 767.1L217.9 771.6L225.1 776L232.3 780.4L239.5 784.8L246.6 789.1M108 689.2L115.4 694.2L122.8 699.2L130.2 704.2L137.6 709.1L144.9 714L152.3 718.9L159.6 723.8L166.9 728.6L174.2 733.4L181.5 738.2L188.7 742.9L196 747.6L203.2 752.3L210.5 756.9L217.7 761.5L224.9 766.1L232.1 770.6L239.3 775.2L246.4 779.6L253.6 784.1M114.9 682.2L122.3 687.3L129.8 692.4L137.2 697.4L144.5 702.5L151.9 707.5L159.3 712.4L166.6 717.4L173.9 722.3L181.2 727.2L188.5 732.1L195.8 736.9L203 741.7L210.3 746.5L217.5 751.2L224.7 756L231.9 760.6L239.1 765.3L246.3 769.9L253.4 774.5L260.6 779M121.9 675.2L129.3 680.4L136.8 685.6L144.2 690.7L151.6 695.8L158.9 700.9L166.3 706L173.6 711L180.9 716.1L188.2 721L195.5 726L202.8 730.9L210.1 735.8L217.3 740.7L224.5 745.6L231.7 750.4L238.9 755.2L246.1 759.9L253.3 764.6L260.5 769.3L267.6 774M128.8 668.3L136.3 673.6L143.8 678.8L151.2 684.1L158.6 689.3L166 694.4L173.3 699.6L180.7 704.7L188 709.8L195.3 714.9L202.6 720L209.9 725L217.1 730L224.4 735L231.6 739.9L238.8 744.8L246 749.7L253.2 754.6L260.3 759.4L267.5 764.2L274.6 769M135.9 661.4L143.3 666.8L150.8 672.1L158.2 677.4L165.6 682.7L173 688L180.4 693.2L187.8 698.4L195.1 703.6L202.4 708.8L209.7 713.9L217 719L224.2 724.1L231.5 729.2L238.7 734.2L245.9 739.3L253.1 744.3L260.2 749.2L267.4 754.1L274.5 759L281.7 763.9M142.9 654.6L150.4 660L157.9 665.4L165.3 670.8L172.7 676.1L180.1 681.5L187.5 686.8L194.9 692.1L202.2 697.4L209.5 702.7L216.8 707.9L224.1 713.1L231.3 718.3L238.6 723.5L245.8 728.6L253 733.7L260.1 738.8L267.3 743.9L274.4 748.9L281.6 753.9L288.7 758.9M149.9 647.7L157.4 653.2L164.9 658.7L172.4 664.2L179.8 669.6L187.2 675L194.6 680.5L202 685.8L209.3 691.2L216.6 696.6L223.9 701.9L231.2 707.2L238.4 712.5L245.7 717.7L252.9 723L260.1 728.2L267.2 733.4L274.4 738.5L281.5 743.7L288.6 748.8L295.7 753.8M157 640.9L164.5 646.5L172 652L179.5 657.6L187 663.1L194.4 668.6L201.8 674.1L209.1 679.6L216.5 685L223.8 690.5L231.1 695.9L238.3 701.3L245.6 706.7L252.8 712L260 717.3L267.2 722.6L274.4 727.9L281.5 733.2L288.6 738.4L295.7 743.6L302.8 748.8M164.1 634.1L171.7 639.8L179.2 645.4L186.7 651L194.1 656.6L201.5 662.2L208.9 667.8L216.3 673.4L223.6 678.9L231 684.4L238.2 689.9L245.5 695.4L252.8 700.9L260 706.3L267.2 711.7L274.3 717.1L281.5 722.5L288.6 727.9L295.7 733.2L302.8 738.5L309.9 743.8M171.3 627.4L178.8 633.1L186.3 638.8L193.8 644.5L201.3 650.2L208.7 655.9L216.1 661.5L223.5 667.1L230.8 672.8L238.2 678.4L245.4 684L252.7 689.5L259.9 695.1L267.2 700.6L274.3 706.1L281.5 711.6L288.6 717.1L295.8 722.5L302.9 728L309.9 733.4L317 738.7M178.4 620.7L186 626.4L193.5 632.2L201 638L208.5 643.8L215.9 649.5L223.3 655.2L230.7 660.9L238 666.6L245.4 672.3L252.7 678L259.9 683.7L267.1 689.3L274.4 694.9L281.5 700.5L288.7 706.1L295.8 711.7L302.9 717.2L310 722.7L317.1 728.2L324.1 733.7M185.6 614L193.2 619.8L200.7 625.7L208.2 631.5L215.7 637.3L223.2 643.2L230.6 649L237.9 654.8L245.3 660.5L252.6 666.3L259.9 672.1L267.1 677.8L274.4 683.5L281.6 689.2L288.7 694.9L295.9 700.6L303 706.2L310.1 711.9L317.2 717.5L324.2 723.1L331.2 728.7M192.8 607.3L200.4 613.2L207.9 619.1L215.5 625.1L223 631L230.4 636.9L237.8 642.7L245.2 648.6L252.5 654.5L259.9 660.3L267.1 666.2L274.4 672L281.6 677.8L288.8 683.6L296 689.3L303.1 695.1L310.2 700.8L317.3 706.6L324.3 712.3L331.4 718L338.4 723.6M200 600.7L207.6 606.7L215.2 612.6L222.7 618.6L230.2 624.6L237.7 630.6L245.1 636.5L252.5 642.5L259.8 648.4L267.1 654.3L274.4 660.2L281.7 666.1L288.9 672L296.1 677.9L303.2 683.8L310.3 689.6L317.4 695.4L324.5 701.3L331.5 707.1L338.5 712.8L345.5 718.6" class="ms"/>
<circle cx="59.5" cy="739.5" r="2.1" class="pk"/>
<circle cx="202.3" cy="707.6" r="2.1" class="dp"/>
<circle cx="202.3" cy="704.3" r="2.1" class="dp"/>
<circle cx="205.2" cy="819.2" r="2.1" class="dp"/>
<circle cx="345" cy="718" r="2.1" class="dp"/>
<text transform="translate(57.9 763.7) scale(1.1 1.0)" font-size="9.1" class="e">50</text>
<text transform="translate(56 738.5) scale(1.1 1.0)" font-size="9.1" class="e">60</text>
<text transform="translate(54.1 713.4) scale(1.1 1.0)" font-size="9.1" class="e">70</text>
<text transform="translate(52.2 688.3) scale(1.1 1.0)" font-size="9.1" class="e">80</text>
<text transform="translate(50.4 663.1) scale(1.1 1.0)" font-size="9.1" class="e">90</text>
<text transform="translate(48.5 638) scale(1.1 1.0)" font-size="9.1" class="e">100</text>
<text transform="translate(64.8 811.5) scale(1.1 1.0)" font-size="9.1" class="e">150</text>
<text transform="translate(92.9 826.2) scale(1.1 1.0)" font-size="9.1" class="e">121</text>
<text transform="translate(121 840.9) scale(1.1 1.0)" font-size="9.1" class="e">92</text>
<text transform="translate(149.1 855.6) scale(1.1 1.0)" font-size="9.1" class="e">63</text>
<text transform="translate(177.2 870.3) scale(1.1 1.0)" font-size="9.1" class="e">34</text>
<text transform="translate(205.3 885) scale(1.1 1.0)" font-size="9.1" class="e">5</text>
<text transform="translate(210.3 885) scale(1.1 1.0)" font-size="9.1" class="s">5</text>
<text transform="translate(237.1 869.8) scale(1.1 1.0)" font-size="9.1" class="s">14</text>
<text transform="translate(263.9 854.6) scale(1.1 1.0)" font-size="9.1" class="s">23</text>
<text transform="translate(290.6 839.3) scale(1.1 1.0)" font-size="9.1" class="s">32</text>
<text transform="translate(317.4 824.1) scale(1.1 1.0)" font-size="9.1" class="s">41</text>
<text transform="translate(344.2 808.9) scale(1.1 1.0)" font-size="9.1" class="s">50</text>
<text transform="translate(10.5 722) rotate(-90) scale(1.0 1.1)" font-size="8.7">Removal&#160; (%)</text>
<text transform="translate(61.7 869.8) scale(1.06 1.0)" font-size="9.7" class="s">C: Contact time (min)</text>
<text transform="translate(312.9 867.9) scale(1.06 1.0)" font-size="9.7" class="s">B: Dose (mg)</text>
<text transform="translate(3.5 22.7) scale(1.12 1.0)" font-size="20.5" class="s" style='font-family:"Liberation Serif","DejaVu Serif",serif'>(a)</text>
<text transform="translate(3.5 296) scale(1.12 1.0)" font-size="20.5" class="s" style='font-family:"Liberation Serif","DejaVu Serif",serif'>(b)</text>
<text transform="translate(11 597) scale(1.12 1.0)" font-size="20.5" class="s" style='font-family:"Liberation Serif","DejaVu Serif",serif'>(c)</text>
</svg></div></body></html>
